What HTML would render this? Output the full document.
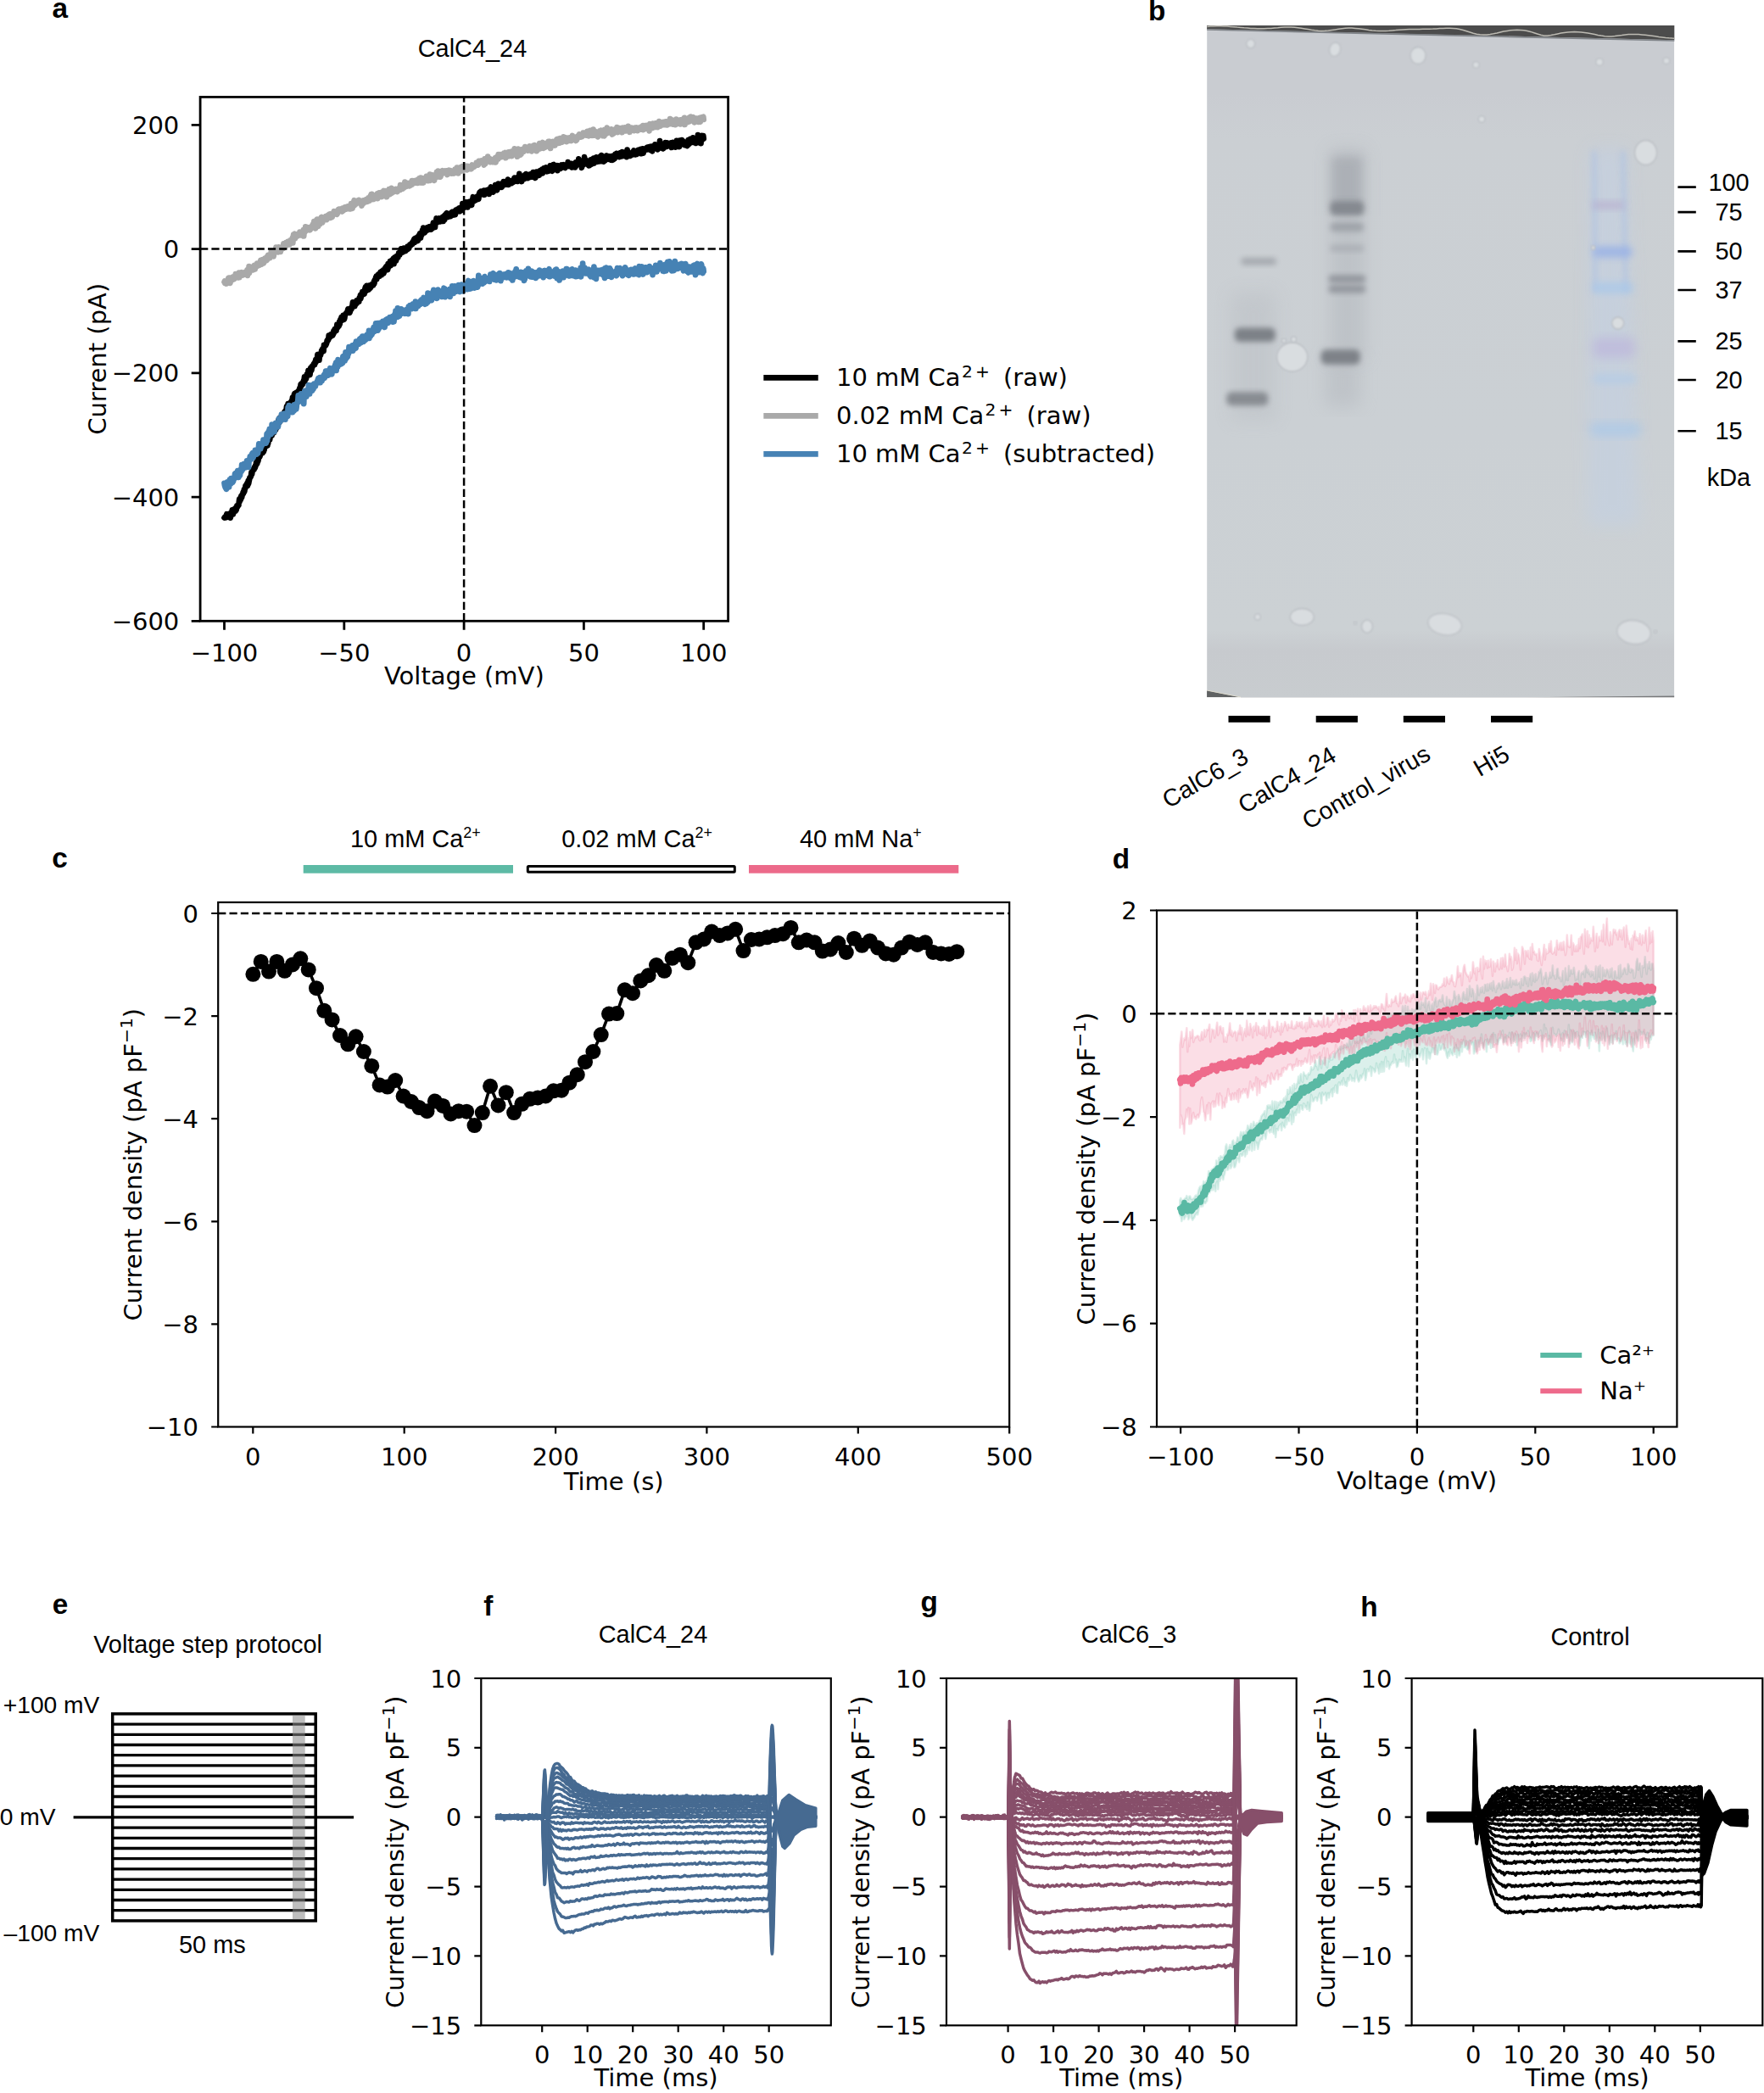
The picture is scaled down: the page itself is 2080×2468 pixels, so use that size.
<!DOCTYPE html><html><head><meta charset="utf-8"><title>Figure</title><style>html,body{margin:0;padding:0;background:#fff}svg{display:block}</style></head><body><svg width="2080" height="2468" viewBox="0 0 2080 2468">
<rect width="2080" height="2468" fill="#fff"/>
<text x="61.4" y="21.2" font-size="33.3" font-family="Liberation Sans, Arial, sans-serif" text-anchor="start" font-weight="bold">a</text>
<text x="557" y="67.3" font-size="28.9" font-family="Liberation Sans, Arial, sans-serif" text-anchor="middle">CalC4_24</text>
<path d="M264.5 610.5l0.4-0.6 0.4 0 0.4 0.4 0.4-1.3 0.4 0.1 0.4-1.6 0.4-1.3 0.4 3 0.4 0.5 0.4-1.4 0.4 0.2 0.4-0.1 0.4 1.1 0.4-2 0.4-1.8 0.4 2.9 0.4-1.3 0.4 3.4 0.4-2.4 0.4-0.5 0.4-3.7 0.4 1.1 0.5-3.9 0.4 0.6 0.4 0.9 0.4 3.5 0.4-4.2 0.4-1.3 0.4-0.6 0.4 2.8 0.4-1.3 0.4 0.7 0.4 0.1 0.4-3.8 0.4 2.9 0.4-2.6 0.4-2.6 0.4 1.9 0.4-1.2 0.4-1.1 0.4-0.9 0.4 0.8 0.4-4 0.4-3.2 0.4 3 0.4-3.9 0.5 0.4 0.4 1.1 0.4-4.3 0.4 0.6 0.4 0.9 0.4-1.9 0.4-2.2 0.4-0.9 0.4-1.3 0.4 1.7 0.4-2.4 0.4-2.4 0.4 2.4 0.4-2.9 0.4-0.5 0.4-3.3 0.4 1.8 0.4-1.9 0.4-0.2 0.4-2.1 0.4-0.8 0.4 3.4 0.4-1.9 0.4-4.2 0.4 3.5 0.5-2.7 0.4-1.7 0.4-2.8 0.4-0.3 0.4 0.1 0.4-0.8 0.4-0.9 0.4-4.2 0.4 2.7 0.4-1.2 0.4-3.5 0.4-0.9 0.4-0.6 0.4 0.7 0.4-1.9 0.4 1.4 0.4-2.7 0.4 0.1 0.4 0.4 0.4-2.8 0.4 0.6 0.4-3.5 0.4 1.3 0.4-2.8 0.4 2.5 0.5-4.6 0.4 2.1 0.4-1.4 0.4-2.9 0.4 0.1 0.4-3 0.4-3.4 0.4 4.6 0.4-2.1 0.4-2 0.4-0.4 0.4-0.8 0.4 0.1 0.4-1.7 0.4 0.1 0.4 2.5 0.4-1.5 0.4-1.2 0.4 1.2 0.4-3.6 0.4 1.5 0.4-5 0.4-0.1 0.4-0.8 0.5 0.8 0.4-2.2 0.4 3.1 0.4-1.9 0.4-2.1 0.4 2.9 0.4-7.1 0.4 4.7 0.4-5.2 0.4 1 0.4-3 0.4 1 0.4 1.8 0.4-5 0.4-1.6 0.4 1.9 0.4 0.4 0.4-1.5 0.4 1 0.4-4.3 0.4 2.4 0.4-2.1 0.4 1.1 0.4-1.5 0.4 1.2 0.5-4.2 0.4 2.1 0.4-2.7 0.4 1.4 0.4-0.2 0.4-2 0.4 0.2 0.4-2.8 0.4-0.4 0.4-0.8 0.4 0.5 0.4-1.8 0.4-4.1 0.4 2.7 0.4 0.3 0.4-2.9 0.4-2.9 0.4 4.1 0.4-1.9 0.4-0.5 0.4 1.2 0.4-4.3 0.4 0.8 0.4-1.5 0.5 1.3 0.4-2.6 0.4 0.7 0.4-1.5 0.4 2 0.4 0.4 0.4-5.4 0.4 2.3 0.4-2.1 0.4-1.5 0.4-0.9 0.4-0.2 0.4-3.8 0.4 0.7 0.4-0.2 0.4-1 0.4-2.8 0.4 1.6 0.4 0.1 0.4 0.8 0.4 2 0.4-4.3 0.4-1 0.4 1.4 0.4-1.1 0.5-1.8 0.4-0.8 0.4-1 0.4 1.9 0.4-5 0.4 4.4 0.4-4.2 0.4-0.6 0.4-1.5 0.4-1.8 0.4-1.1 0.4 3.8 0.4 1 0.4-5.3 0.4 1.7 0.4-0.8 0.4-1.9 0.4 3.8 0.4 0.7 0.4-3.7 0.4-1 0.4-0.7 0.4-1.2 0.4 0.3 0.4-0.2 0.5-3 0.4 0.8 0.4-0.7 0.4-4.4 0.4 0.8 0.4-1.8 0.4 2.2 0.4-0.6 0.4-0.4 0.4-0.8 0.4-2.4 0.4 0 0.4-2.2 0.4-0.3 0.4-3.4 0.4 5.3 0.4-3.7 0.4-0.3 0.4-0.5 0.4 1.5 0.4-2.5 0.4-2.8 0.4 1.4 0.4-1.2 0.5-1.2 0.4-3.5 0.4 0.6 0.4 3.2 0.4-3.4 0.4 3 0.4 1.7 0.4-4.6 0.4-3.6 0.4 2.8 0.4 0.3 0.4-1 0.4-3.9 0.4 0.9 0.4-1.3 0.4-0.3 0.4-0.5 0.4-1.7 0.4-0.5 0.4-0.3 0.4 1.8 0.4-3.6 0.4 1.3 0.4-3.6 0.4 2.9 0.5-2.3 0.4-1.9 0.4 0.8 0.4-5.6 0.4-0.1 0.4 2.7 0.4-1.3 0.4 1 0.4 4.3 0.4-5 0.4-0.6 0.4-1.8 0.4 1.7 0.4-2.5 0.4-0.3 0.4-2.9 0.4 1 0.4-0.6 0.4-2.4 0.4 2.7 0.4-1.3 0.4 1.3 0.4-7.1 0.4 0.1 0.4-0.6 0.5 0.1 0.4 0.4 0.4 0.3 0.4-0.9 0.4-0.8 0.4-1.2 0.4-3 0.4-0.4 0.4 0.8 0.4-0.5 0.4-0.9 0.4-4.8 0.4 1.1 0.4 0.3 0.4-0.1 0.4 0.7 0.4-1.9 0.4-1.2 0.4 1.6 0.4-0.5 0.4 0 0.4-1.4 0.4 1.7 0.4-3.2 0.5 1.8 0.4-4 0.4 2.2 0.4-2.4 0.4-2.1 0.4 2.6 0.4-0.5 0.4-1.3 0.4-1 0.4 2 0.4-4.5 0.4-2.7 0.4 2.5 0.4 0.2 0.4 0.3 0.4-3.6 0.4 2.3 0.4-0.1 0.4-4.9 0.4 3.3 0.4-3.4 0.4-2.5 0.4 1.6 0.4-0.4 0.4-3.9 0.5 3.1 0.4 0.5 0.4-0.1 0.4-3.3 0.4-2.4 0.4 1.5 0.4 3.6 0.4-0.6 0.4-1.2 0.4-3 0.4-0.4 0.4-1.6 0.4-0.6 0.4-0.6 0.4-0.2 0.4-0.4 0.4-0.5 0.4-1.7 0.4-1.8 0.4 2.2 0.4-0.7 0.4 2.5 0.4-2.9 0.4 3.4 0.5-1.4 0.4-4 0.4-0.3 0.4-0.1 0.4 1.6 0.4-2.4 0.4 0 0.4-3.1 0.4-2.9 0.4 2.8 0.4 0.7 0.4 0.8 0.4-2.4 0.4 0.4 0.4 2.5 0.4-3.3 0.4 1.5 0.4-3.7 0.4-0.3 0.4-0.9 0.4 3.2 0.4-2.3 0.4 0.3 0.4 0.3 0.4-1.5 0.5 1.2 0.4 0 0.4-4.3 0.4 0.2 0.4-0.2 0.4-3.1 0.4 4 0.4-1.9 0.4-2.2 0.4-2.1 0.4 1.9 0.4-3.7 0.4 1.4 0.4 1.5 0.4 0 0.4-3.4 0.4-0.3 0.4 3.1 0.4-5.5 0.4-0.5 0.4-2.1 0.4 3.7 0.4-0.8 0.4 1.6 0.4-6.1 0.5 3.7 0.4-3.5 0.4 3.9 0.4-2.4 0.4 3.1 0.4-1.6 0.4-3.3 0.4 4 0.4-4.1 0.4 1 0.4 1.6 0.4-1.3 0.4-0.8 0.4-1.6 0.4 0.3 0.4 0.2 0.4-0.6 0.4 0.8 0.4 0.1 0.4-2.2 0.4-2.3 0.4 2.5 0.4-4 0.4 0.1 0.5-0.2 0.4-3 0.4 1.9 0.4-3.5 0.4 3.6 0.4-2.5 0.4-0.4 0.4 0.5 0.4-2.9 0.4 1.1 0.4-1.9 0.4 1.1 0.4 1.6 0.4-2.2 0.4-0.2 0.4-2.6 0.4 2.8 0.4-2.2 0.4 2.9 0.4-4.5 0.4 2.3 0.4 0.9 0.4-2.4 0.4-2.1 0.4 4 0.5-1.2 0.4-1.2 0.4-0.8 0.4-2.8 0.4 1.2 0.4 0.1 0.4-3.3 0.4 2.5 0.4-3.1 0.4 1.9 0.4 0.8 0.4 1.4 0.4-6.8 0.4 4.5 0.4-1.5 0.4-0.6 0.4-0.6 0.4 0.2 0.4-5.2 0.4 4.7 0.4 0.2 0.4-2.2 0.4-0.2 0.4-3.7 0.4-0.3 0.5 3.1 0.4 1 0.4-2.4 0.4-3.5 0.4 6.5 0.4-6 0.4 2.3 0.4-4.1 0.4 4.1 0.4-1.5 0.4 1.6 0.4-1.2 0.4-4.2 0.4 0.4 0.4 0.6 0.4-0.3 0.4 0.9 0.4-3 0.4-2.3 0.4 0.5 0.4 0.2 0.4 1.4 0.4-2.3 0.4-0.1 0.5-2.5 0.4-2.4 0.4 3.5 0.4 0.5 0.4-0.5 0.4-0.3 0.4 0.9 0.4-1.9 0.4 1.2 0.4-4.2 0.4 2.1 0.4-1 0.4 1 0.4 0.8 0.4 0.6 0.4-1.9 0.4 0.3 0.4-2.2 0.4 0.5 0.4 1.6 0.4-3.6 0.4 2.5 0.4-1.7 0.4-1.1 0.4 2.6 0.5-2.9 0.4-1.3 0.4 0.6 0.4-0.5 0.4-0.3 0.4 0.3 0.4-1.8 0.4-0.3 0.4-0.4 0.4 1.6 0.4-3 0.4 0 0.4-0.5 0.4-1.1 0.4-1.3 0.4 3.8 0.4-4.7 0.4-0.2 0.4 0.4 0.4-0.5 0.4 1.3 0.4-0.1 0.4-0.5 0.4-0.4 0.4 0 0.5 2.8 0.4-4.5 0.4-1.8 0.4-0.1 0.4 0.1 0.4 1.7 0.4-4 0.4 1.2 0.4 4 0.4-5.8 0.4 2.8 0.4-0.3 0.4-1.4 0.4-4.3 0.4 3 0.4-2 0.4-3.9 0.4 0.1 0.4 2.9 0.4 0.7 0.4 2 0.4-0.7 0.4-3.7 0.4-0.4 0.5 0.5 0.4-1.4 0.4 2.7 0.4 0.2 0.4-1.2 0.4-0.8 0.4-1.6 0.4 0.9 0.4 0.7 0.4-2.2 0.4 2.1 0.4 1.1 0.4-3.5 0.4 0.8 0.4-0.9 0.4 3.6 0.4-2.8 0.4-0.8 0.4 0 0.4 2.2 0.4-3.7 0.4-3 0.4 0.4 0.4 1.1 0.4-0.3 0.5-1.6 0.4 5.8 0.4-5 0.4-1.4 0.4-1.8 0.4-2.2 0.4 1.2 0.4 1.9 0.4-0.3 0.4 0.2 0.4 1.3 0.4-1.7 0.4-1.4 0.4-1.2 0.4 2.5 0.4 0.3 0.4 1 0.4-3 0.4 1.4 0.4-2.4 0.4 2.7 0.4-2.7 0.4 0.5 0.4-1.9 0.5-0.4 0.4 5.4 0.4-1.3 0.4-2.4 0.4 1.7 0.4 0 0.4-5.2 0.4 0.5 0.4-0.7 0.4 1 0.4-2.7 0.4 2.3 0.4-2.9 0.4 3.9 0.4 0 0.4-0.7 0.4 1.4 0.4-1.9 0.4-0.6 0.4 2 0.4-2.5 0.4 0.5 0.4-1.8 0.4 3.6 0.4-0.8 0.5-2.2 0.4-2.2 0.4-0.1 0.4 2.8 0.4 0 0.4-2.6 0.4 1.8 0.4 1.8 0.4-3 0.4-1.5 0.4 1.5 0.4 2.5 0.4-1.6 0.4-3.9 0.4 2.9 0.4-1.3 0.4-1.8 0.4-0.6 0.4 1.3 0.4-1.8 0.4 1.7 0.4 0 0.4 0 0.4-2.6 0.4 2.5 0.5 1.3 0.4-1.4 0.4-0.4 0.4-2 0.4 2.7 0.4-1.5 0.4-2.2 0.4-4.2 0.4 1.8 0.4 1.3 0.4-1.3 0.4-1.8 0.4 3.5 0.4 0.9 0.4-3.2 0.4 1.4 0.4-1.1 0.4 1.3 0.4-4.7 0.4 0.9 0.4 1.1 0.4-0.1 0.4 4.3 0.4-4.9 0.5 0.3 0.4-1.2 0.4-0.6 0.4 2.4 0.4 1.8 0.4-3.4 0.4 1.5 0.4-1.5 0.4-0.8 0.4 0.8 0.4 3.1 0.4-5.8 0.4 1.4 0.4-2.6 0.4-2.8 0.4 2.9 0.4 2.3 0.4-1.6 0.4 1.1 0.4-2.3 0.4-0.8 0.4 2.4 0.4-3.7 0.4 3 0.4-3.3 0.5-0.4 0.4 1.2 0.4-0.8 0.4 0.8 0.4 0.4 0.4 1.4 0.4-2.9 0.4-4 0.4-1 0.4 0.6 0.4 1.1 0.4 0.8 0.4-3.8 0.4 2.1 0.4-0.2 0.4-0.4 0.4 0.6 0.4 0.3 0.4-0.3 0.4 1.9 0.4-0.2 0.4-4.7 0.4 4.5 0.4 0.2 0.4-1.8 0.5-0.3 0.4 1.3 0.4-2 0.4-2.3 0.4 1.4 0.4-0.3 0.4-1.4 0.4 3.9 0.4-1.6 0.4 0.6 0.4-3.3 0.4 5.2 0.4-2.2 0.4-0.6 0.4-3.1 0.4-1 0.4-1.5 0.4 5.1 0.4-3.4 0.4 3.2 0.4 0.4 0.4-2 0.4 1.5 0.4 1.4 0.5-3.9 0.4 1.4 0.4-1.6 0.4-1.8 0.4 0 0.4-2.6 0.4 3.9 0.4 2.2 0.4-1 0.4 0.4 0.4 0.5 0.4-4.6 0.4 1.6 0.4 1 0.4-5.4 0.4 1.9 0.4 0.3 0.4-0.1 0.4-0.3 0.4 0.1 0.4-1.8 0.4 0.9 0.4-0.4 0.4-0.2 0.4 3.8 0.5-3.6 0.4 0.1 0.4-1 0.4 1.9 0.4-4.2 0.4 2.1 0.4 1.1 0.4 0.5 0.4-2.7 0.4-0.8 0.4 1.6 0.4-0.1 0.4 1.8 0.4-2.1 0.4 1.7 0.4-1.3 0.4-1.3 0.4-3 0.4 6.3 0.4-1.1 0.4 0.7 0.4-4.6 0.4 3.6 0.4-0.7 0.5-0.8 0.4 0.6 0.4-0.3 0.4-1.6 0.4 2.4 0.4-1.4 0.4-1.8 0.4 0.3 0.4 0 0.4 1.6 0.4-2.6 0.4-2 0.4-0.5 0.4 0.9 0.4 2.4 0.4-3.2 0.4 2.4 0.4 1.5 0.4 0 0.4-4.3 0.4 2.9 0.4-1.1 0.4 2.7 0.4-3.1 0.4 1.5 0.5-1.6 0.4-5.8 0.4 2.5 0.4 2.8 0.4-0.1 0.4 0 0.4-0.6 0.4 2.4 0.4 2.1 0.4-1.9 0.4-1.3 0.4-0.6 0.4-2.6 0.4 1.5 0.4-1.3 0.4 3.2 0.4-3.5 0.4-1.4 0.4 2.3 0.4 0.3 0.4-0.2 0.4-3.5 0.4 4.9 0.4-1.5 0.4-0.6 0.5-0.4 0.4 2.7 0.4-1.9 0.4 0.3 0.4-1.1 0.4 0.9 0.4 0.8 0.4-2.7 0.4-1 0.4 2.7 0.4-1.6 0.4-1.5 0.4 3.3 0.4-2.2 0.4 2.5 0.4-3.8 0.4-1.7 0.4 0.2 0.4 3.2 0.4-1.6 0.4 2.2 0.4-0.1 0.4-1.6 0.4 4.6 0.5-4.9 0.4-0.1 0.4-2.4 0.4 1.2 0.4 1.4 0.4-1 0.4-0.5 0.4 1.3 0.4-1.5 0.4 1.5 0.4 1.8 0.4-5.4 0.4-0.2 0.4 1.4 0.4-0.3 0.4-1.7 0.4 2.2 0.4 0.6 0.4-0.8 0.4-3 0.4 4.7 0.4-4.2 0.4 2 0.4-0.2 0.4-3.6 0.5 2.2 0.4 0.6 0.4-1.2 0.4-2.1 0.4-0.2 0.4 3 0.4 0.2 0.4-0.7 0.4 2.2 0.4-1.7 0.4 0.4 0.4 0.7 0.4 0.2 0.4-0.3 0.4-0.5 0.4-0.2 0.4-2.3 0.4-3.2 0.4 1 0.4-0.5 0.4 1.5 0.4 2.4 0.4-2.4 0.4 4.4 0.4-3.5 0.5-0.1 0.4-4.1 0.4-0.2 0.4 5.8 0.4-1 0.4-2.3 0.4 0.4 0.4-0.5 0.4 1.4 0.4-1.8 0.4-0.1 0.4 0.4 0.4-1.1 0.4 6 0.4-4.5 0.4 1.9 0.4-3.2 0.4 1.5 0.4 0.9 0.4-2.1 0.4 2.3 0.4 0 0.4 1 0.4-2.4 0.5-1.3 0.4-0.8 0.4 2.3 0.4-2.1 0.4 2 0.4 0 0.4-1.6 0.4-0.8 0.4 3.1 0.4-0.5 0.4 0.5 0.4 0.2 0.4 0.5 0.4-3.6 0.4 1.9 0.4-1.7 0.4 1.4 0.4-1.4 0.4-0.2 0.4 1.2 0.4-4.4 0.4 3.1 0.4-2.3 0.4 1.2 0.4 2.8 0.5-0.4 0.4-1.3 0.4-0.2 0.4-1.1 0.4 0.8 0.4 2.2 0.4-3.2 0.4 4.7 0.4-3.4 0.4 2 0.4-0.6 0.4-0.6 0.4-1.7 0.4 3 0.4 0 0.4-0.3 0.4 1.5 0.4-1.6 0.4-4.4 0.4 4.1 0.4-4.1 0.4 3 0.4-3.6 0.4 0.4 0.4-0.6 0.5-1 0.4-2.3 0.4 2.8 0.4 0.5 0.4 2.1 0.4-2.1 0.4 1.8 0.4-1.6 0.4 2.5 0.4-2.7 0.4 7.2 0.4-2.8 0.4-2.4 0.4 1.8 0.4 0.1 0.4-2.3 0.4 1.8 0.4-3.3 0.4-5.6 0.4 3 0.4 3.6 0.4-0.6 0.4-0.3 0.4-2 0.5 2.8 0.4 0.4 0.4-2.1 0.4 0.5 0.4 2.4 0.4 1.5 0.4 0.9 0.4-2.1 0.4 2.2 0.4-5.3 0.4 2.4 0.4-2 0.4-1.9 0.4 1 0.4 4.3 0.4-4.8 0.4-0.9 0.4 2.9 0.4 0.3 0.4-2.1 0.4 3.1 0.4-5.8 0.4 6.2 0.4-2.3 0.4-1.2 0.5-0.6 0.4-0.7 0.4-0.4 0.4 0.6 0.4-2.7 0.4 5.6 0.4-3.8 0.4 1.6 0.4-0.4 0.4-0.4 0.4 1.8 0.4 0.5 0.4-2.4 0.4 0.2 0.4 1.3 0.4-4.9 0.4-0.3 0.4 5.9 0.4-3.2 0.4-3.8 0.4 3.6 0.4 1.1 0.4 0.9 0.4 0.5 0.5 0.4 0.4 1 0.4-3.5 0.4 1.1 0.4 0.7 0.4 0.5 0.4-2.7 0.4 0.4 0.4-0.7 0.4-2.9 0.4 1.1 0.4-0.8 0.4 1.5 0.4 0.3 0.4 0.4 0.4 1.5 0.4-2.6 0.4 2.9 0.4-3.5 0.4 1.7 0.4 1.1 0.4 1.1 0.4 0.3 0.4-1.6 0.4 1.5 0.5-4.4 0.4 2.8 0.4 2 0.4-3.2 0.4 2.6 0.4-3 0.4-1.7 0.4 0.3 0.4 3.3 0.4-1.5 0.4-3.7 0.4 1.9 0.4 1.3 0.4-2 0.4-2.3 0.4 1.6 0.4 1.5 0.4-1.1 0.4 0 0.4 1.5 0.4 0.4 0.4-1.4 0.4 1.9 0.4-1.5 0.4 0.3 0.5-3.9 0.4 4.5 0.4-2 0.4-0.2 0.4-2 0.4-1.2 0.4 3.1 0.4 0.7 0.4 1 0.4-1.6 0.4-2.7 0.4 1.5 0.4 1.5 0.4-0.9 0.4 0.5 0.4 0.6 0.4 0.8 0.4-0.5 0.4 2 0.4-1.8 0.4-6.8 0.4 6.8 0.4-3.3 0.4-0.3 0.5 1.5 0.4 1 0.4-1.6 0.4 0.9 0.4-0.5 0.4 2.9 0.4-2.2 0.4 1.1 0.4-1 0.4-0.5 0.4-0.4 0.4-1.7 0.4 3.2 0.4-2.8 0.4-1.5 0.4-0.8 0.4 0.8 0.4 2 0.4 0 0.4-1.9 0.4 4.2 0.4-2.7 0.4 0.5 0.4-0.8 0.4 2.4 0.5-1.5 0.4-2.3 0.4-1.2 0.4-0.1 0.4 2.4 0.4-0.2 0.4 1.2 0.4-1.6 0.4 1.3 0.4-2.1 0.4-1.8 0.4 2.7 0.4 2.5 0.4-1 0.4 0.7 0.4-0.9 0.4-4.6 0.4 1.7 0.4 3.5 0.4-3.7 0.4-1.2 0.4 2.2 0.4-0.4 0.4-1 0.4-1.3 0.5-0.1 0.4 0.6 0.4-1.1 0.4-0.6 0.4-0.3 0.4 0.4 0.4 2.2 0.4-1.4 0.4-1.3 0.4 1.9 0.4-1.4 0.4 2.2 0.4 0.3 0.4-3.7 0.4 0.6 0.4 0 0.4-0.3 0.4-0.4 0.4 1.1 0.4 4.4 0.4-3.1 0.4-1.3 0.4 1.3 0.4-2.1 0.5-1.1 0.4 2.7 0.4 0.5 0.4-4.9 0.4 4.4 0.4 0.3 0.4-2.7 0.4 0.3 0.4 2.3 0.4-2.9 0.4 3 0.4 1.4 0.4-1.9 0.4-1.7 0.4 2.1 0.4-3.6 0.4-0.1 0.4-5.1 0.4 6.1 0.4-2.9 0.4 4.2 0.4 0.6 0.4-0.7 0.4-0.5 0.4-0.9 0.5 1.5 0.4 1.9 0.4-0.1 0.4-2.3 0.4-0.4 0.4-2.4 0.4 0.5 0.4-1.6 0.4-1 0.4 2.9 0.4 2.1 0.4-0.7 0.4 0.3 0.4-4.3 0.4 3.2 0.4-1.7 0.4 1.9 0.4-2.5 0.4 0.6 0.4 2.2 0.4-1.2 0.4-0.5 0.4 0 0.4 1.4 0.5-0.8 0.4-2.6 0.4 5.5 0.4-4.1 0.4 1.9 0.4-3.2 0.4-0.5 0.4 0.7 0.4-0.1 0.4 4.3 0.4-3.8 0.4 2 0.4-1.3 0.4-0.4 0.4 4.3 0.4-3.1 0.4-1.6 0.4-3.2 0.4 3.4 0.4-1.1 0.4 2.6 0.4-4.5 0.4 0 0.4 2.9 0.4 1.6 0.5 2.3 0.4-4.3 0.4-3.1 0.4 2.8 0.4-2.4 0.4 1.6 0.4 2.6 0.4-5.1 0.4 3.8 0.4-1.1 0.4-0.8 0.4-0.7 0.4 1.9 0.4 0.4 0.4 2 0.4 0.4 0.4-3.3 0.4 0.6 0.4 0.6 0.4 0.2 0.4-0.3 0.4 2.7 0.4-0.3 0.4 0.8 0.4-3.5 0.5-0.9 0.4-2.5 0.4 5.5 0.4-1.8 0.4-2.6 0.4 1.1 0.4-0.3 0.4-3.1 0.4 3.4 0.4 0.2 0.4 0.7 0.4-3.5 0.4-1.1 0.4 2.1 0.4 0.5 0.4-3.8 0.4 0.3 0.4 2.7 0.4-1.4 0.4-0.6 0.4 4.8 0.4-2.4 0.4-2 0.4 1.8 0.5 3.3 0.4-3.5 0.4-2.2 0.4-1.4 0.4 6.4 0.4-9.1 0.4 6.4 0.4-4.1 0.4 0.6 0.4-0.3 0.4 2 0.4 3.1 0.4-2 0.4 1.1 0.4 3.3 0.4-8.8 0.4 2.3 0.4-2.7 0.4 4.6 0.4-3.9 0.4-0.6 0.4 0 0.4 3.3" fill="none" stroke="#000" stroke-width="6.7" stroke-linejoin="round" stroke-linecap="round"/>
<path d="M264.5 332.5l0.4-0.9 0.4 2.2 0.4-0.5 0.4 0 0.4-1.4 0.4 2.6 0.4-0.3 0.4-0.9 0.4 0.2 0.4-3.1 0.4-0.9 0.4-1.6 0.4 2.7 0.4-3 0.4 2 0.4 1.1 0.4 3.2 0.4-1.3 0.4-3.6 0.4-1.2 0.4 1.6 0.4-1.6 0.5 2.2 0.4-1.1 0.4 0.1 0.4-2.7 0.4 1.2 0.4 0.6 0.4 0.8 0.4-2 0.4-1.2 0.4 1.8 0.4-4.3 0.4 1.2 0.4 0.6 0.4-1.3 0.4 0.7 0.4 1.5 0.4-0.8 0.4 2.2 0.4-1.3 0.4 1.4 0.4-5.9 0.4 5.6 0.4-4.4 0.4 2.3 0.5 0.3 0.4-1 0.4-1.3 0.4-0.5 0.4-1.3 0.4 2.4 0.4-0.8 0.4 1.7 0.4-2.1 0.4 0.2 0.4 1.2 0.4-0.6 0.4-0.4 0.4-0.8 0.4-0.9 0.4 1.3 0.4-0.3 0.4-1.6 0.4 3.7 0.4-1.5 0.4-4.4 0.4 6.6 0.4-4.1 0.4-3 0.4 3.2 0.5-7 0.4 7.9 0.4-6.7 0.4 0 0.4 0.8 0.4 2 0.4-1 0.4 1.3 0.4-3.4 0.4 3.2 0.4-1.3 0.4-2.1 0.4 3.7 0.4-1.5 0.4-1.1 0.4 1.7 0.4-4.6 0.4 1.2 0.4 3.3 0.4-3.6 0.4 0.2 0.4-0.4 0.4-1.8 0.4 1.4 0.4-2.5 0.5 3 0.4-2.8 0.4 1.7 0.4-2.1 0.4 2.2 0.4-0.4 0.4 0.2 0.4-3.5 0.4-0.1 0.4-1.9 0.4 1.9 0.4 2.3 0.4 0.3 0.4-2.1 0.4 0.2 0.4-3.5 0.4 0.5 0.4 3.4 0.4 0.2 0.4-3.5 0.4 0.9 0.4 0.8 0.4-3.7 0.4 1 0.5-0.8 0.4 0.6 0.4 1.8 0.4-4.3 0.4 3.3 0.4-1.4 0.4-0.5 0.4-3.5 0.4 0.8 0.4-0.3 0.4 2.4 0.4-2.6 0.4 2.9 0.4-3.2 0.4-0.3 0.4 0.6 0.4-4.4 0.4 2 0.4 0.2 0.4 0.3 0.4 0.7 0.4-0.9 0.4-0.3 0.4 3.6 0.4-3.9 0.5-0.4 0.4-1.9 0.4-0.5 0.4 1.5 0.4-0.7 0.4-4.8 0.4 2.2 0.4 2.9 0.4-2.3 0.4 0.4 0.4 1.6 0.4 0.8 0.4-2 0.4-3.9 0.4 1.5 0.4 0.4 0.4-0.6 0.4-0.5 0.4 4.7 0.4-4.3 0.4 0.3 0.4 0.2 0.4-1.3 0.4-0.7 0.5 0.5 0.4 1.6 0.4-2.3 0.4-3.5 0.4 4.3 0.4 0.6 0.4-3.4 0.4-1.2 0.4-0.3 0.4 1.9 0.4-3.2 0.4 2.6 0.4 0.7 0.4-2 0.4-0.6 0.4-2 0.4 0.5 0.4 1.5 0.4-1.8 0.4 0.9 0.4-0.8 0.4 3.3 0.4-0.7 0.4-4.4 0.4 2.7 0.5-3.1 0.4-0.2 0.4 0.4 0.4 0.1 0.4-2.9 0.4 6.2 0.4-6.5 0.4-3.3 0.4 2.9 0.4 0 0.4-0.9 0.4-3 0.4 5.6 0.4-2.3 0.4-0.7 0.4-1.5 0.4 1.2 0.4-1.2 0.4 1.8 0.4-0.4 0.4-0.4 0.4-0.4 0.4-1.2 0.4-0.6 0.4 1.7 0.5-3.7 0.4 1.7 0.4 2.1 0.4-3.6 0.4 2.6 0.4-2 0.4 2.4 0.4-1.5 0.4 0 0.4 1.2 0.4-1.6 0.4-3.9 0.4 7.5 0.4-4.4 0.4-2.1 0.4 1.6 0.4-0.5 0.4-5.8 0.4 3.9 0.4-2.6 0.4 2.1 0.4 0.9 0.4-1.5 0.4-0.5 0.5-1.4 0.4 1.9 0.4-0.2 0.4 0.3 0.4-1.6 0.4 0.4 0.4 2.3 0.4-0.7 0.4-2.8 0.4 0.6 0.4-0.8 0.4 0.3 0.4-1.6 0.4-0.1 0.4-1.3 0.4 1.9 0.4-3.1 0.4 3.6 0.4-6.2 0.4 3.2 0.4-0.3 0.4 1.8 0.4 3.5 0.4-5.5 0.4-0.9 0.5-3.2 0.4 4 0.4-5 0.4 4.6 0.4-1.7 0.4 5.2 0.4-4.2 0.4 0 0.4-2.5 0.4 1.8 0.4 2.3 0.4-4.6 0.4-0.9 0.4 0.1 0.4-2.5 0.4-0.3 0.4 2.6 0.4 3.9 0.4-0.7 0.4-3.7 0.4-0.4 0.4 0.3 0.4-0.5 0.4 0.3 0.4-1.1 0.5 1.6 0.4 0.5 0.4-3.8 0.4 1.7 0.4 1.4 0.4 1 0.4-1.3 0.4-3.6 0.4-0.3 0.4 1.7 0.4-1.6 0.4 0.5 0.4 1.5 0.4-3.5 0.4 2.4 0.4-2.5 0.4 4.5 0.4-1.6 0.4-1.7 0.4 0.4 0.4 2.1 0.4-0.3 0.4-2 0.4-1.3 0.5 1 0.4-3.2 0.4-1.1 0.4 1.3 0.4 0.2 0.4 0.6 0.4-0.2 0.4-0.3 0.4 1 0.4-0.6 0.4 0.7 0.4 0.8 0.4-0.9 0.4-3.8 0.4 0.5 0.4-1.5 0.4 1.6 0.4-1.4 0.4-0.5 0.4 0.2 0.4 0.6 0.4-0.3 0.4-0.7 0.4 2.7 0.4-2.2 0.5 0.3 0.4 2.2 0.4-4 0.4 3 0.4-1.3 0.4 0 0.4 0.7 0.4-1.9 0.4 0.7 0.4-2.3 0.4 0.8 0.4-0.2 0.4 0.3 0.4 1.2 0.4-2.2 0.4 1.8 0.4-2.5 0.4 2.5 0.4-2.7 0.4 1.6 0.4-1.1 0.4 1.1 0.4 0.1 0.4-0.2 0.5-1.4 0.4 3 0.4-2.9 0.4-3.6 0.4 3 0.4 0.9 0.4 0.2 0.4 1.7 0.4-5.4 0.4 1.9 0.4-1 0.4-3.1 0.4-2 0.4 5.8 0.4-3.4 0.4 0.6 0.4 0.8 0.4-0.4 0.4 0.8 0.4-2.7 0.4 1.2 0.4 0.1 0.4-2.4 0.4 0.9 0.4 0.9 0.5-0.3 0.4-2.2 0.4 3.3 0.4-0.5 0.4 0.8 0.4 0.3 0.4 0.4 0.4-2.3 0.4 0.8 0.4 3.9 0.4-3.8 0.4-0.4 0.4 0.4 0.4 1.5 0.4-3.9 0.4 2.9 0.4-0.1 0.4-0.4 0.4-1.7 0.4-1.2 0.4-0.3 0.4 1 0.4 1.5 0.4-1.3 0.4-0.7 0.5-0.9 0.4 2.6 0.4-2.6 0.4-1.7 0.4 1.3 0.4-1.5 0.4 2.4 0.4 1 0.4-1.1 0.4-3.3 0.4-1.8 0.4 2.1 0.4-3.4 0.4 2.7 0.4-3 0.4 3.9 0.4 2.1 0.4-2.3 0.4 2.4 0.4-0.1 0.4-0.5 0.4-3 0.4 0.8 0.4-0.1 0.5 1.7 0.4-2.9 0.4 2.4 0.4-0.1 0.4-4 0.4-0.8 0.4 1.6 0.4 4.1 0.4-1.8 0.4-2.6 0.4 0 0.4-2.3 0.4 4.1 0.4-4.1 0.4 1.9 0.4-2.1 0.4 2.1 0.4-2.2 0.4 2.6 0.4 2.3 0.4-1.6 0.4-1 0.4-0.4 0.4-3.4 0.4-0.7 0.5 2 0.4 1.4 0.4-0.9 0.4 1.4 0.4-3.7 0.4 2.1 0.4 0.4 0.4 2.1 0.4 2.5 0.4-1.7 0.4 0.2 0.4-3 0.4-0.7 0.4 0.9 0.4-0.7 0.4-4 0.4 5 0.4 1 0.4-1.7 0.4-0.2 0.4-0.6 0.4-2.5 0.4-2.4 0.4 6.1 0.4-3 0.5 0.5 0.4 0.3 0.4 0.1 0.4 0.4 0.4-2.5 0.4 1.7 0.4-0.5 0.4-0.4 0.4-0.6 0.4 0.4 0.4-1.3 0.4 1 0.4 0.1 0.4 0.5 0.4 1.4 0.4-1.3 0.4 0.6 0.4-2.7 0.4 0.4 0.4 0.8 0.4-1.6 0.4-1.4 0.4 3.2 0.4-5.9 0.5 2 0.4 0.1 0.4-1.7 0.4 1.6 0.4 2 0.4-3.9 0.4 4.4 0.4-1 0.4-2.1 0.4 2.2 0.4-2.1 0.4-0.7 0.4-4.3 0.4 5.1 0.4-1.2 0.4-1.3 0.4 1.2 0.4 1.3 0.4-2.6 0.4 0.5 0.4-0.6 0.4-1 0.4 0.8 0.4 1.2 0.4-1.4 0.5 2.8 0.4-2.5 0.4-0.9 0.4 1.3 0.4 0.1 0.4 0.8 0.4-3.5 0.4-1.4 0.4 4.3 0.4-2 0.4 0.8 0.4-3.2 0.4 1.5 0.4-0.8 0.4 0.7 0.4-1.3 0.4 2.3 0.4-2.3 0.4 2.3 0.4-2.2 0.4 0.1 0.4-0.8 0.4 1.4 0.4-2 0.4 3.9 0.5-1.6 0.4-0.6 0.4-1.5 0.4 0.9 0.4-2.7 0.4 4 0.4-3.3 0.4 3.3 0.4-5 0.4 6 0.4-1 0.4 1 0.4-5.4 0.4 3.9 0.4-2.6 0.4 1.7 0.4 2.4 0.4-2.6 0.4-1.1 0.4 1.1 0.4-2.6 0.4 1.2 0.4-0.4 0.4 0.4 0.5-1.1 0.4-2.5 0.4 2.4 0.4 0.9 0.4 1.9 0.4-0.3 0.4-4 0.4 4.3 0.4-1.5 0.4-1.6 0.4-0.4 0.4-4 0.4 7.2 0.4-4 0.4-0.6 0.4 3.5 0.4-1.3 0.4-1.9 0.4-2.2 0.4 3.4 0.4 1.9 0.4-3.8 0.4-0.9 0.4 2.9 0.4 3.1 0.5-6.4 0.4 2.7 0.4-3.1 0.4 1 0.4 0 0.4-0.3 0.4-4 0.4 0.4 0.4 5.4 0.4-2.6 0.4-4.3 0.4 3.6 0.4 1.9 0.4-0.3 0.4 1.7 0.4-0.3 0.4 0.4 0.4-0.2 0.4-1.9 0.4-2.5 0.4 1.9 0.4-1.3 0.4-1.4 0.4-2.1 0.5 2.3 0.4-0.1 0.4-0.5 0.4 1 0.4-1 0.4 0.6 0.4-2 0.4 0.2 0.4 1.4 0.4 0.3 0.4-2.1 0.4 1 0.4 0.9 0.4 2.8 0.4-0.6 0.4-3.8 0.4-0.6 0.4-0.3 0.4 2.7 0.4-2.5 0.4 2.4 0.4-2.1 0.4 0 0.4 1.9 0.4-0.4 0.5 2 0.4-2.1 0.4 1.3 0.4-2 0.4 0.7 0.4-1 0.4 1.3 0.4 1.7 0.4-3.4 0.4 0.4 0.4-2 0.4 0.3 0.4 1.3 0.4-1 0.4-0.1 0.4-0.3 0.4-2.2 0.4 0.3 0.4 2.8 0.4 0.1 0.4 3.7 0.4-3.8 0.4-0.7 0.4 2.9 0.4-4.6 0.5-0.9 0.4 2.5 0.4-0.7 0.4 0.7 0.4-2.4 0.4 3.9 0.4-2 0.4-3.2 0.4 3.6 0.4-1.5 0.4 0.8 0.4 1.5 0.4-2.3 0.4-1.4 0.4 2.8 0.4-2.5 0.4-1.2 0.4-0.3 0.4 4.5 0.4-1.6 0.4 1.8 0.4-4.3 0.4 0.6 0.4-0.6 0.5 3.2 0.4-0.6 0.4-2.2 0.4 0.3 0.4 2.3 0.4-1.8 0.4-0.5 0.4-0.2 0.4 1.6 0.4 1 0.4-4 0.4-0.8 0.4 1.7 0.4 1.5 0.4-0.7 0.4-1.7 0.4 1.2 0.4-1 0.4 1.1 0.4-0.6 0.4-1.4 0.4 0.7 0.4 0 0.4-1 0.4-2.4 0.5 1.6 0.4-1.3 0.4 1.7 0.4-0.7 0.4 1.4 0.4-1.6 0.4-3.1 0.4 2.1 0.4-0.6 0.4-0.1 0.4 0.6 0.4-0.2 0.4-0.7 0.4-1.5 0.4 0.9 0.4-0.2 0.4 0.6 0.4 1.3 0.4-0.3 0.4 0.8 0.4-3 0.4 5.1 0.4-2.7 0.4-4.5 0.4 4 0.5 1.6 0.4-2.4 0.4-3.1 0.4 1.8 0.4-0.3 0.4 0.3 0.4 0.4 0.4-5 0.4 4.5 0.4-0.1 0.4-0.4 0.4-0.9 0.4-0.1 0.4-0.1 0.4 1.1 0.4 2.4 0.4-3.6 0.4 1.1 0.4-0.3 0.4 1.7 0.4-0.7 0.4 0.7 0.4-1.1 0.4 2.3 0.5-2.2 0.4-0.9 0.4 1.9 0.4-1.5 0.4 0 0.4-2.3 0.4 5.2 0.4-3.5 0.4 1.6 0.4-1.8 0.4-2.7 0.4 2.2 0.4-1.8 0.4 2.3 0.4-5.5 0.4 1.2 0.4-0.7 0.4 3.2 0.4-0.1 0.4-3.7 0.4 1.8 0.4-0.1 0.4-0.2 0.4 1.6 0.4-2.8 0.5 1.6 0.4-1.4 0.4 1.1 0.4-1.5 0.4 1.9 0.4-3.4 0.4 0.1 0.4 0.2 0.4-0.1 0.4-0.9 0.4 6.2 0.4-5.1 0.4 2.3 0.4-0.2 0.4 0.5 0.4 0.9 0.4-1.3 0.4-2.3 0.4-1.7 0.4 4 0.4 0.7 0.4-4.5 0.4 4.3 0.4-4.8 0.5 2.8 0.4 1.1 0.4-2.6 0.4-1.7 0.4 5.5 0.4-4.9 0.4 3.1 0.4-3.5 0.4 1.8 0.4 1 0.4-3 0.4-0.5 0.4-2.7 0.4 1.4 0.4 1.5 0.4 0.4 0.4 0.3 0.4 0.4 0.4 0.6 0.4-0.1 0.4 4.7 0.4-4.6 0.4-0.2 0.4-4.1 0.4 2.5 0.5 1.7 0.4-1.4 0.4 2.5 0.4-0.3 0.4 2.1 0.4-5.9 0.4 1.3 0.4 3.1 0.4-3.4 0.4-1.7 0.4 0.8 0.4-0.1 0.4 2 0.4 0 0.4-1.8 0.4-1.9 0.4 2 0.4 0 0.4-4 0.4 3.9 0.4-2.9 0.4 1.2 0.4 0.1 0.4-1.8 0.4 1 0.5-0.3 0.4 3.3 0.4-1.2 0.4-1.8 0.4-1.4 0.4 0.3 0.4-1.1 0.4 2.6 0.4 0.7 0.4-0.6 0.4 1.9 0.4-0.5 0.4 1.8 0.4-3.5 0.4 2.2 0.4-2.7 0.4 1.7 0.4-4.2 0.4 2.1 0.4-2.5 0.4 3.1 0.4-0.6 0.4-2.8 0.4 3.7 0.5-1.3 0.4 1.6 0.4 2.9 0.4-3.4 0.4 0.3 0.4 2.1 0.4-2.7 0.4 1.6 0.4-0.7 0.4-1.5 0.4 0.9 0.4-5.6 0.4 6.3 0.4-3.3 0.4-1.4 0.4 4.1 0.4-0.8 0.4-3.8 0.4 0.4 0.4-1.9 0.4-0.8 0.4 2.7 0.4 0.4 0.4 3.8 0.4-4.3 0.5 1.6 0.4-1.9 0.4 0.7 0.4 2.8 0.4-4.7 0.4 1.8 0.4-1 0.4 2.4 0.4-2.5 0.4-0.3 0.4-1.6 0.4 1.5 0.4-2.4 0.4 0.4 0.4 0.2 0.4 1.5 0.4-2.2 0.4 2.6 0.4 5.5 0.4-4 0.4-1.3 0.4-1.4 0.4 0.7 0.4-1.3 0.4 0.9 0.5-1.6 0.4 1.1 0.4 0.5 0.4 0.9 0.4-1.8 0.4 1.3 0.4 2.6 0.4-3.5 0.4 1.4 0.4-2.4 0.4-0.3 0.4-2.5 0.4-0.1 0.4 2.9 0.4-0.3 0.4 2.2 0.4-4.6 0.4 1.6 0.4-2.2 0.4 2.1 0.4 2.9 0.4-5.6 0.4 2.9 0.4-0.1 0.5 0.1 0.4-1.4 0.4 0.1 0.4 2.9 0.4-4 0.4 2.7 0.4-0.3 0.4-4.7 0.4 1.7 0.4 1.3 0.4 1.8 0.4-3.3 0.4-0.4 0.4 0.9 0.4 2.9 0.4-0.2 0.4 1.1 0.4-2.3 0.4-1.2 0.4-1 0.4 2.3 0.4-0.7 0.4-0.6 0.4 2.4 0.4-0.5 0.5-3 0.4 1.6 0.4-1.6 0.4 2 0.4-0.9 0.4 2.4 0.4-2 0.4-1.7 0.4-2.3 0.4 1.6 0.4 1 0.4-1.2 0.4 1.4 0.4-0.1 0.4-1.1 0.4 2 0.4-1.3 0.4 2.8 0.4 0.9 0.4-2 0.4 1.1 0.4-0.2 0.4-3.8 0.4 1.8 0.4-0.9 0.5-2 0.4-0.7 0.4 2.3 0.4-3.3 0.4 1 0.4 1 0.4-1.2 0.4 2.6 0.4-0.6 0.4-0.4 0.4-1.5 0.4 1.9 0.4-0.5 0.4-2.7 0.4-1.2 0.4 1.1 0.4-1.1 0.4 1.8 0.4 0.7 0.4-0.7 0.4 0.4 0.4 0.3 0.4-2.8 0.4 2.3 0.5 0.9 0.4-2.6 0.4-2.1 0.4 3 0.4-1.9 0.4 3.1 0.4 0.6 0.4 0.6 0.4-1.2 0.4-4 0.4 3.8 0.4-5.1 0.4 4.1 0.4-1.6 0.4-0.8 0.4 1 0.4 0.3 0.4 3 0.4-3 0.4 1.7 0.4-5.8 0.4 5.6 0.4-1.4 0.4 2.7 0.4-1.5 0.5 0.7 0.4-3.6 0.4 2.4 0.4-1.5 0.4 2.9 0.4 0.7 0.4-3.6 0.4 3.4 0.4 1.9 0.4-3.9 0.4 1.7 0.4-0.7 0.4-1.9 0.4 1.3 0.4-3.6 0.4 3.4 0.4-3.5 0.4-0.3 0.4 4 0.4 0.2 0.4 0.4 0.4-2.5 0.4-0.4 0.4 4.6 0.5-3.4 0.4 2.9 0.4-0.5 0.4 1.1 0.4-7.5 0.4 2.4 0.4 0.2 0.4 1.5 0.4-3.8 0.4 4.7 0.4-3.2 0.4-3.9 0.4 4 0.4-0.4 0.4-0.1 0.4 2.2 0.4-1 0.4-1.5 0.4 0.7 0.4-1 0.4 0.9 0.4-0.6 0.4 0 0.4-1.6 0.4 1.7 0.5 2.2 0.4 2.3 0.4-5.2 0.4-0.1 0.4 2.8 0.4 1.3 0.4-0.7 0.4-3.7 0.4 3.4 0.4-0.7 0.4-1 0.4-1.9 0.4 2.7 0.4-0.9 0.4-1 0.4-3.5 0.4 1.1 0.4 2.6 0.4 2.3 0.4-0.5 0.4-2.3 0.4 1.3 0.4-3.4 0.4 0.3 0.4 0.3 0.5-0.3 0.4 1 0.4 2.8 0.4 0.5 0.4-4.3 0.4 4.8 0.4-2.3 0.4-3.2 0.4 1.3 0.4 1.6 0.4 0.7 0.4-2.3 0.4-0.6 0.4-1 0.4 1.4 0.4-0.4 0.4 3.1 0.4-2.3 0.4 1.8 0.4-1 0.4-2.5 0.4-0.9 0.4 2.5 0.4-3.3 0.5 2.8 0.4 1.3 0.4-0.3 0.4 3.2 0.4-2.2 0.4-1.5 0.4 0.6 0.4-1.9 0.4 0.9 0.4-1.1 0.4 3.2 0.4-2.2 0.4 1.9 0.4-1.2 0.4-0.5 0.4-0.3 0.4 2.6 0.4-0.4 0.4-1.8 0.4-1.3 0.4 0.7 0.4-0.6 0.4-0.2 0.4 1.1 0.4 1.2 0.5 1.4 0.4 0 0.4-1.6 0.4-0.8 0.4-0.1 0.4-0.9 0.4 0.9 0.4-0.9 0.4 1 0.4-0.5 0.4-0.1 0.4 1 0.4 0.3 0.4-3.1 0.4 0.6 0.4 1.8 0.4 0.2 0.4-3.9 0.4 5 0.4-0.8 0.4-1.6 0.4 1.7 0.4-2.3 0.4-2 0.4 0.5 0.5 1 0.4 0.1 0.4 0.6 0.4-2.3 0.4 1.9 0.4-0.4 0.4 0.3 0.4-1 0.4 1 0.4-0.1 0.4 4.6 0.4-5.7 0.4-2.4 0.4 2.1 0.4 2.2 0.4 1 0.4-2.4 0.4 2.2 0.4-4.1 0.4 1.7 0.4-1.9 0.4-1.2 0.4 4.9 0.4-3.4 0.5 0.7 0.4 1.1 0.4-1.4 0.4-0.9 0.4-1.5 0.4 4.7 0.4-3.3 0.4-0.9 0.4 1.9 0.4 0.8 0.4 1.1 0.4 0.4 0.4-3.3 0.4 0.2 0.4-0.6 0.4-3.3 0.4 2.6 0.4 1.3 0.4-1.2 0.4 3 0.4-0.9 0.4-1.2 0.4 0.9 0.4-2.2 0.4 2.2 0.5-2.7 0.4 0.6 0.4-1.4 0.4 1.9 0.4-1.2 0.4-0.6 0.4 3.1 0.4-0.9 0.4-0.7 0.4-0.1 0.4-2.2 0.4 0.9 0.4 3.1 0.4-1.9 0.4 2 0.4-2.7 0.4 1.4 0.4-2.6 0.4 0.9 0.4-2.1 0.4 1.5 0.4 2.4 0.4-6.1 0.4 3.5 0.5-1.1 0.4 1.9 0.4-0.6 0.4-1.8 0.4 2.1 0.4-2.6 0.4 5.1 0.4-4 0.4 1.6 0.4-0.2 0.4-0.6 0.4 0 0.4-1.7 0.4 5.4 0.4-4 0.4 1.4 0.4-3.8 0.4 2.7 0.4-1 0.4 1.7 0.4-1 0.4-0.9 0.4 1.4 0.4-0.8 0.4 3.2 0.5-3.8 0.4 0 0.4 1.8 0.4-2.7 0.4 5.1 0.4-0.7 0.4-2 0.4-0.6 0.4-1.7 0.4 0 0.4 0.4 0.4-1.4 0.4 2.6 0.4 1.7 0.4-0.5 0.4-5.3 0.4 8.1 0.4-4.7 0.4-1.8 0.4 1.9 0.4 2.3 0.4-1.3 0.4-2 0.4-0.5 0.4 3.2 0.5-2.8 0.4 0.3 0.4-1.1 0.4-1.5 0.4 2.6 0.4 1.7 0.4-3 0.4-2.3 0.4 1.7 0.4 0.8 0.4-2.8 0.4 4.6 0.4-3.3 0.4 2.5 0.4-1.4 0.4-0.8 0.4-1 0.4 4.5 0.4-0.5 0.4 2.1 0.4-3 0.4 1.1 0.4-1.8 0.4 2.5 0.5-1.5 0.4-2.1 0.4 1.9 0.4-1 0.4 0.4 0.4 2.1 0.4 0.8 0.4-3.9 0.4 1 0.4-1.7 0.4 3.8 0.4-0.3 0.4 1 0.4-1.8 0.4-3.2 0.4 0.7 0.4 1 0.4-0.8 0.4-1.5 0.4 1 0.4-1.2 0.4-0.2 0.4 3.3" fill="none" stroke="#a9a9a9" stroke-width="6.7" stroke-linejoin="round" stroke-linecap="round"/>
<path d="M264.5 569.8l0.4 2.4 0.4 1.3 0.4 1.5 0.4-0.9 0.4-1.7 0.4 4.4 0.4-5.5 0.4-0.2 0.4-2.7 0.4 2.3 0.4-1.5 0.4 2 0.4-1.2 0.4 4.3 0.4-5.5 0.4-3.1 0.4 3.6 0.4-1.8 0.4 3 0.4-6.4 0.4 4.8 0.4-3.4 0.5 1.4 0.4 2.1 0.4-3.6 0.4 2.4 0.4-1.9 0.4-1.4 0.4 0.2 0.4-2.1 0.4-3.7 0.4 0.8 0.4-1.8 0.4 0.8 0.4 2.8 0.4-1.8 0.4-0.8 0.4-1 0.4-2.8 0.4 7.1 0.4-4.8 0.4 5.6 0.4-2.2 0.4-2 0.4 2.4 0.4-0.9 0.5-5.6 0.4-1.5 0.4 1 0.4 1.9 0.4-7.9 0.4 5.1 0.4 0.8 0.4-6.2 0.4 1.9 0.4 1.8 0.4-4.4 0.4 1.9 0.4-2.2 0.4 0.8 0.4 3.7 0.4-5 0.4 3.4 0.4 1.1 0.4-1.9 0.4-5.6 0.4 4.7 0.4-1.9 0.4-1.6 0.4 2.3 0.4 4 0.5-7 0.4-2.2 0.4 0 0.4-3.4 0.4 2.7 0.4-1.5 0.4-1.8 0.4 3.8 0.4-5.1 0.4-1.4 0.4 2.9 0.4-3.9 0.4 2.4 0.4 2.9 0.4-4.8 0.4-0.2 0.4-0.9 0.4 0.3 0.4-2.8 0.4 1.6 0.4 2.9 0.4-1.4 0.4-1.4 0.4 3.1 0.4-0.9 0.5-0.4 0.4-0.1 0.4-3.9 0.4-2.7 0.4-4.4 0.4 1.5 0.4-0.4 0.4-0.2 0.4 0.3 0.4 4.6 0.4-3.3 0.4-0.3 0.4 0.5 0.4-0.9 0.4-1.6 0.4-2 0.4 2.3 0.4-5.3 0.4 1.6 0.4 0.2 0.4 0 0.4-1.8 0.4 2.4 0.4-2.3 0.5 3.5 0.4 0.4 0.4-1.5 0.4-9.1 0.4 7.9 0.4-5.7 0.4-3.7 0.4 4.9 0.4-4.4 0.4-2.6 0.4 0.9 0.4-3.3 0.4 3.1 0.4 3.1 0.4-2.5 0.4 1.7 0.4 0.5 0.4-1.7 0.4-9.4 0.4 6.5 0.4-2.2 0.4 3 0.4-1.5 0.4 0.2 0.4 0.1 0.5 2.5 0.4-1.4 0.4-1.3 0.4-2.6 0.4-5.1 0.4 1.2 0.4-1.2 0.4 1 0.4 0.5 0.4 2.2 0.4-3.4 0.4 4.3 0.4-3.7 0.4-6 0.4 2.3 0.4-2.5 0.4 2.1 0.4 1.7 0.4-2.3 0.4-0.5 0.4-3.8 0.4-2.2 0.4 6.6 0.4-1.4 0.5-0.4 0.4-0.7 0.4 1.3 0.4-5 0.4-0.3 0.4-1 0.4 3.9 0.4-1.4 0.4 4.5 0.4-7.2 0.4 3.9 0.4-1.3 0.4-0.7 0.4-1.1 0.4 0.7 0.4 2.2 0.4-10.6 0.4 3.9 0.4-0.5 0.4-5.8 0.4 5.6 0.4-1.5 0.4-0.1 0.4-2.9 0.4 2.8 0.5-1.1 0.4 2.1 0.4-1.6 0.4-2.7 0.4 7.4 0.4-4.7 0.4-0.3 0.4-0.6 0.4 4 0.4-7.3 0.4 2.8 0.4-1.3 0.4 2 0.4 2.1 0.4-4.4 0.4 4 0.4-3 0.4-3.8 0.4-1.4 0.4 0 0.4-1.6 0.4-6.3 0.4 3.7 0.4 3.9 0.4-1.2 0.5-0.2 0.4-2 0.4 0.3 0.4 0.7 0.4-7.3 0.4 4.9 0.4 0.6 0.4 1.7 0.4-0.1 0.4-4.1 0.4 1.4 0.4-1.8 0.4 9.2 0.4-10.3 0.4-2.1 0.4-2.9 0.4 4.1 0.4 2.6 0.4-5.9 0.4 2.7 0.4 3.4 0.4-2.8 0.4-5.1 0.4-0.2 0.5 1.2 0.4 2.5 0.4-9.3 0.4 8.9 0.4-1.6 0.4 3.2 0.4-7.2 0.4 1.9 0.4-1.3 0.4-0.7 0.4-0.4 0.4-0.7 0.4 4.7 0.4-6.7 0.4 1.1 0.4 3.4 0.4 0.2 0.4-2.4 0.4-3.8 0.4 1.6 0.4-0.5 0.4-0.5 0.4 2.4 0.4-3.1 0.4-0.5 0.5-0.3 0.4-0.5 0.4-1.7 0.4-0.8 0.4-0.9 0.4-1.6 0.4 0.4 0.4-0.2 0.4 0 0.4 4.7 0.4-6 0.4 6.1 0.4-5.3 0.4 2.6 0.4-2.2 0.4 1.2 0.4 1.8 0.4-4.5 0.4 1.5 0.4-0.8 0.4 0.3 0.4-3.1 0.4-0.4 0.4-0.8 0.4 4.3 0.5-2.1 0.4-1.6 0.4-4.6 0.4 4.1 0.4 1.6 0.4-5.5 0.4 2.9 0.4-0.5 0.4 0.3 0.4 2.3 0.4-5.5 0.4 0 0.4 1.6 0.4 1.5 0.4-3.4 0.4-2.7 0.4 5.2 0.4 1 0.4-4.6 0.4 4.7 0.4 0.6 0.4-4 0.4 0 0.4-1.4 0.5 0.6 0.4-2.6 0.4 0.8 0.4 1.4 0.4-0.7 0.4-4.2 0.4-1.2 0.4-0.8 0.4-1.6 0.4 9.6 0.4-4.2 0.4-2.4 0.4-1.9 0.4 4 0.4-8.3 0.4 1.3 0.4 2.4 0.4-1.8 0.4 1.2 0.4 0.7 0.4-2.6 0.4 2.3 0.4 1.8 0.4-2.1 0.4 0.1 0.5 1.3 0.4-5 0.4 4.4 0.4-7.9 0.4-0.2 0.4 4.5 0.4-3.7 0.4-1.6 0.4 3.3 0.4 2.9 0.4-4 0.4-6.1 0.4 7.5 0.4-4.7 0.4 1.8 0.4 0 0.4 1.1 0.4-0.5 0.4-5.4 0.4-1.7 0.4 3.3 0.4-7.7 0.4 5.7 0.4-4.1 0.5 1.6 0.4-3.3 0.4 2.4 0.4-0.8 0.4 2.7 0.4-2.7 0.4 2 0.4-5.2 0.4 6.3 0.4-6.3 0.4 0.6 0.4 0.6 0.4 1.2 0.4-2.8 0.4 4.3 0.4-0.2 0.4-6.2 0.4 5.4 0.4-7.6 0.4 4.4 0.4-1.6 0.4 0.1 0.4-1 0.4 1.5 0.4-0.3 0.5 0 0.4-3.7 0.4-0.6 0.4-1.8 0.4 2.5 0.4-1.6 0.4 3.7 0.4-5.7 0.4 0 0.4 1.4 0.4-1.1 0.4-2.3 0.4 3.3 0.4-3.4 0.4 2.6 0.4 3.7 0.4-2.6 0.4-0.5 0.4-2.7 0.4 3.5 0.4-0.2 0.4 0.3 0.4-1.9 0.4-0.8 0.4-3 0.5 0 0.4 1.6 0.4-2.1 0.4 0.8 0.4-0.4 0.4-4.9 0.4 9.1 0.4-5.5 0.4-1.4 0.4-1.8 0.4 5.9 0.4-3.7 0.4-2 0.4 2.2 0.4 1.8 0.4-4.2 0.4 2.3 0.4-4.2 0.4 2.4 0.4-4.6 0.4 3.3 0.4 1.5 0.4-1.3 0.4 0.8 0.5-5.8 0.4-3.3 0.4 4.6 0.4-3.3 0.4 5.9 0.4-2.7 0.4-4.7 0.4 8.4 0.4-6.8 0.4-1.3 0.4 6.4 0.4-1.4 0.4-0.5 0.4-5.2 0.4 3.4 0.4-0.2 0.4-2 0.4-0.4 0.4 0.6 0.4 1.2 0.4-3.2 0.4 4.5 0.4-5.8 0.4 5 0.4 1.3 0.5-4.7 0.4 0.4 0.4 5 0.4-6.1 0.4 3.2 0.4-1.3 0.4-4.7 0.4 4.6 0.4-2.6 0.4 2.3 0.4-5.3 0.4 3.4 0.4 1.4 0.4-0.6 0.4-1.7 0.4-3.4 0.4 1.3 0.4-2.2 0.4 0.3 0.4 0.7 0.4-0.4 0.4 0.5 0.4-0.4 0.4-1.1 0.4-0.6 0.5 3.2 0.4 3.3 0.4-3.3 0.4-3.3 0.4 6.2 0.4-5 0.4-3.5 0.4 2.3 0.4 1.3 0.4-7.7 0.4 0.7 0.4 4.2 0.4-3.6 0.4 0.7 0.4 5.2 0.4-10.6 0.4 9.5 0.4-2.5 0.4 1.6 0.4-2.6 0.4 3.7 0.4-4.4 0.4-2.7 0.4 1.3 0.5 1.6 0.4-4.4 0.4 5.6 0.4-4.9 0.4 3.7 0.4-1.4 0.4 0.1 0.4-0.2 0.4 0.1 0.4 1.6 0.4-0.5 0.4-2.3 0.4 0.5 0.4 3.1 0.4-2.2 0.4-0.7 0.4-1.3 0.4-0.7 0.4 0.2 0.4 1.7 0.4-1.5 0.4 1.7 0.4 3.2 0.4-8.5 0.4 3.4 0.5-1.7 0.4 1.2 0.4-4.6 0.4 4.3 0.4-3.9 0.4 1.7 0.4 1.1 0.4 0.9 0.4-4.2 0.4 0.7 0.4 0 0.4-2.3 0.4 3.1 0.4-0.3 0.4 1.6 0.4-2.3 0.4 1.7 0.4 0.6 0.4-7.2 0.4 8.5 0.4-5.8 0.4-1.3 0.4 1.4 0.4 2.6 0.4-2.1 0.5 0.6 0.4 1.6 0.4-3.2 0.4 0.7 0.4 0.1 0.4-1.7 0.4 2.2 0.4-3.9 0.4 3.2 0.4-4.3 0.4-0.6 0.4 0.5 0.4 3.7 0.4-1.3 0.4 0.2 0.4-2.7 0.4-0.6 0.4-2.3 0.4 2.9 0.4-0.1 0.4 4.2 0.4 0.7 0.4-2.2 0.4-0.4 0.5 1.2 0.4 0.5 0.4-5.8 0.4 2.5 0.4 2.2 0.4-11 0.4 5.1 0.4 0.1 0.4-2.1 0.4 3.6 0.4-5.3 0.4 6.8 0.4 0.3 0.4-2.8 0.4 0.3 0.4-3.9 0.4 6.4 0.4-3.3 0.4-2.5 0.4-1.2 0.4-3 0.4 1.9 0.4-4.3 0.4 4.9 0.4-1.8 0.5-0.2 0.4 3.2 0.4 0 0.4 1.6 0.4 2.1 0.4-0.1 0.4-1.7 0.4 2 0.4-5.9 0.4 4.1 0.4-8.4 0.4 0.6 0.4 1.6 0.4 3.9 0.4 0 0.4-4.5 0.4 1.7 0.4-0.9 0.4 2.8 0.4-3.1 0.4 4.4 0.4-1.1 0.4 3 0.4-3 0.5-4.1 0.4 0.9 0.4-1.4 0.4-2.7 0.4 2.8 0.4-2.1 0.4 9.8 0.4-6.2 0.4 0.9 0.4 4.6 0.4-0.6 0.4-6.3 0.4 5.1 0.4-1.2 0.4-3.6 0.4 2.2 0.4-1.7 0.4 1.8 0.4-3.1 0.4-1 0.4 1 0.4 7.7 0.4-7.2 0.4 1.1 0.4 2 0.5-5.4 0.4 6 0.4-8.9 0.4 6.7 0.4-5.5 0.4 4.4 0.4 2.9 0.4-2.7 0.4-2.8 0.4-0.9 0.4-2.2 0.4 5.5 0.4-3.9 0.4 1.7 0.4 1.8 0.4 1.1 0.4-0.2 0.4-3.1 0.4-1.9 0.4 3.2 0.4 1.5 0.4-6.9 0.4 5 0.4-3.2 0.4 3.5 0.5 2.6 0.4-4.2 0.4 1.8 0.4-4.1 0.4-1.9 0.4 6.1 0.4-2.3 0.4 0.4 0.4 3 0.4 0.5 0.4-6.5 0.4 3.4 0.4-1.9 0.4 1.4 0.4-0.4 0.4 0 0.4-3.2 0.4-0.5 0.4 3.2 0.4 1.9 0.4-3.9 0.4 4.3 0.4-3.2 0.4-4.8 0.5-2.1 0.4 4.5 0.4 2.2 0.4-3.2 0.4 6.2 0.4-3.8 0.4-4.3 0.4 2.5 0.4 3.6 0.4 1.4 0.4-6.8 0.4 0.5 0.4 0.7 0.4-2.9 0.4 0.8 0.4 2.9 0.4-4.3 0.4 3.9 0.4 2.2 0.4 2.4 0.4-3.9 0.4 1.5 0.4-3.1 0.4 1.4 0.4-3.2 0.5 5.1 0.4-0.9 0.4 2.3 0.4-2.4 0.4-4.8 0.4-6.7 0.4 10.8 0.4-1.2 0.4-4.2 0.4-0.5 0.4 2.2 0.4-1.5 0.4 3.8 0.4-2.9 0.4-2.5 0.4-0.6 0.4 4.2 0.4 2.2 0.4-2.3 0.4-2.1 0.4 0.5 0.4 2.5 0.4-5.6 0.4-1.5 0.4 4.9 0.5 1 0.4-4 0.4 3 0.4-0.9 0.4-0.3 0.4 0.6 0.4-1.4 0.4 0.4 0.4-0.3 0.4-0.1 0.4 1.6 0.4-2.7 0.4 4.1 0.4-3 0.4 0.8 0.4-6.1 0.4 0.7 0.4 3 0.4-3.1 0.4 1.8 0.4 0.7 0.4-3.7 0.4 0.9 0.4-1.8 0.5 3.2 0.4 1.2 0.4 0.2 0.4 2.9 0.4-4 0.4 0 0.4-1.6 0.4 2.7 0.4 3.7 0.4-0.8 0.4-4.2 0.4-1.3 0.4 4.5 0.4-2.5 0.4-2.3 0.4 5.3 0.4-1.2 0.4 0.8 0.4-6.8 0.4 3.2 0.4 2.4 0.4 3.6 0.4-3.9 0.4-2.3 0.4 2 0.5-0.4 0.4-2.6 0.4 3.4 0.4-2.7 0.4-1 0.4 3 0.4-1.2 0.4-0.1 0.4-0.5 0.4-0.2 0.4-1.4 0.4 2.2 0.4 1.7 0.4 0.1 0.4-1.6 0.4-1.6 0.4-1.6 0.4 4 0.4-5.1 0.4 1.4 0.4 3.4 0.4-1.4 0.4-0.2 0.4-2.6 0.5 6 0.4-5.2 0.4 2.4 0.4 2.2 0.4-2.4 0.4 0.3 0.4 5.2 0.4-2.1 0.4-3.5 0.4 2.4 0.4-5.1 0.4 2.4 0.4-0.7 0.4-1.4 0.4-2.3 0.4 3.7 0.4-0.3 0.4-6.3 0.4 7.2 0.4-0.6 0.4 1.9 0.4-5.5 0.4 2 0.4-0.8 0.4 1.4 0.5 1.6 0.4 1.3 0.4 1.1 0.4-3.6 0.4 1.4 0.4-3.9 0.4 6.4 0.4-1 0.4 1.4 0.4-6.3 0.4 6.3 0.4-3.7 0.4-2.4 0.4 4.2 0.4-2.1 0.4 7.2 0.4-6.1 0.4 4.3 0.4-5.1 0.4-0.6 0.4 0.2 0.4-4.2 0.4 0.4 0.4 3.2 0.4-0.1 0.5 2.5 0.4-2.8 0.4-5.7 0.4 5.9 0.4-1.5 0.4 2.3 0.4-3.5 0.4 2 0.4 1.1 0.4 3.2 0.4-3 0.4-3.4 0.4 2 0.4-2.2 0.4 2.2 0.4 4.8 0.4-5.8 0.4 0.9 0.4 3.5 0.4-0.4 0.4-1.6 0.4 2 0.4-3.3 0.4 0.9 0.5 5 0.4-6.5 0.4 1.2 0.4 2.5 0.4-3.6 0.4 2.6 0.4-2.7 0.4-0.9 0.4 0.7 0.4 4.2 0.4-2.3 0.4-4.4 0.4 2.7 0.4 1.4 0.4-1.7 0.4-1.4 0.4 1.8 0.4-1.3 0.4 3.3 0.4-1.1 0.4-0.2 0.4-1.2 0.4 6.1 0.4-3.9 0.4 1.8 0.5-5.8 0.4 1 0.4-1.1 0.4 2.7 0.4 2.7 0.4-3.7 0.4 1.6 0.4-1.4 0.4 3 0.4 0.8 0.4-2 0.4-3.1 0.4 4.4 0.4-6.1 0.4-0.8 0.4 9 0.4-2.6 0.4 2.6 0.4-2.2 0.4 1.6 0.4-2.1 0.4-2.1 0.4-0.8 0.4 1.2 0.4 0.6 0.5 1.5 0.4-1.7 0.4-1.2 0.4 3.2 0.4-2.6 0.4 4.1 0.4-4.3 0.4-3.1 0.4 3.6 0.4 3.7 0.4-8 0.4 2.8 0.4 7.7 0.4-7.1 0.4-1.5 0.4 1.7 0.4-0.5 0.4 1.4 0.4 2.5 0.4 5.9 0.4-2 0.4-3.4 0.4-2.4 0.4 3.3 0.5-2.1 0.4-3.5 0.4 5.3 0.4 0.9 0.4-4.4 0.4-2.5 0.4 2.4 0.4 5.1 0.4-4.6 0.4 2.9 0.4-3.4 0.4 0.4 0.4-1 0.4-2.4 0.4 2.5 0.4-4.5 0.4 1 0.4 0.9 0.4-1.8 0.4 5.3 0.4-2.4 0.4 1 0.4 4.2 0.4-0.7 0.4 0.7 0.5-0.2 0.4-1.2 0.4-2.5 0.4 0.3 0.4-1 0.4 4.1 0.4-5.4 0.4-2.1 0.4 2.4 0.4 1.4 0.4 2.3 0.4 1.7 0.4-3 0.4 3.3 0.4-0.5 0.4-5.4 0.4 5.1 0.4-6.1 0.4 7.7 0.4-4 0.4 3.8 0.4-2.8 0.4 2.6 0.4-2.9 0.4 0.6 0.5 1.1 0.4-2.7 0.4-2 0.4 4.8 0.4-4 0.4 2.1 0.4-0.9 0.4-6 0.4 10.4 0.4-4.3 0.4 1.9 0.4-2.5 0.4 0.3 0.4-11.2 0.4 8.2 0.4-3.9 0.4 1.3 0.4 3.8 0.4-2 0.4-2.4 0.4 3.5 0.4-1.1 0.4-0.8 0.4 5.3 0.5-1.6 0.4-2.4 0.4 0.7 0.4 2.3 0.4-0.7 0.4-0.4 0.4-0.5 0.4-2.1 0.4 3.1 0.4 0.5 0.4 3.8 0.4 0.3 0.4-4 0.4 4.7 0.4-4.6 0.4 2.4 0.4 0.2 0.4-2.8 0.4 2.5 0.4-0.4 0.4-0.7 0.4-1.1 0.4-7.1 0.4 13 0.4-4.7 0.5 0.6 0.4-3.2 0.4 4 0.4 4.6 0.4-10.2 0.4 5.9 0.4-2.7 0.4 2 0.4-1.3 0.4-0.8 0.4-2.7 0.4 0.6 0.4 2 0.4-2.4 0.4 2.9 0.4-2 0.4-1.4 0.4 1.7 0.4 2.7 0.4-1.3 0.4-1.2 0.4 0.9 0.4 1.7 0.4-5.4 0.5 6.8 0.4-3.1 0.4 2.3 0.4-2.5 0.4 6.6 0.4-11.5 0.4 5.7 0.4 1.6 0.4-3.9 0.4-4.1 0.4 4.2 0.4 3.7 0.4-1.8 0.4-3 0.4 6.8 0.4-3.6 0.4 1.8 0.4-6.6 0.4 4.6 0.4-5.4 0.4 5.5 0.4-0.8 0.4-2.8 0.4 1.6 0.4 6.9 0.5-6.3 0.4 0.4 0.4 2 0.4-1.9 0.4 0.3 0.4 1.8 0.4-0.1 0.4-0.3 0.4-2 0.4 1.6 0.4-1.8 0.4 4.1 0.4-3.2 0.4 1.3 0.4 2.4 0.4-6.1 0.4-2.9 0.4 1.3 0.4 5.3 0.4-5.5 0.4 3.2 0.4 0 0.4 1.1 0.4-1.6 0.4-3.7 0.5 1.3 0.4 3.2 0.4 1.5 0.4 0.2 0.4-0.5 0.4-2.9 0.4 6.1 0.4-3.2 0.4 1.1 0.4-1.5 0.4-2.5 0.4-0.4 0.4 3.4 0.4-1.5 0.4-5.2 0.4 1.7 0.4 0 0.4 3.6 0.4 0.1 0.4-2.1 0.4 3.6 0.4 1.7 0.4-2.9 0.4-1.6 0.5 5.4 0.4-5.6 0.4 0.4 0.4 3.6 0.4-3.5 0.4-0.3 0.4-1.6 0.4 0 0.4 4.9 0.4 0.1 0.4-4.1 0.4 1.5 0.4 0.6 0.4 0.1 0.4-2.3 0.4 4.9 0.4-5.9 0.4 3.2 0.4-2.9 0.4-1.4 0.4 6 0.4-3.7 0.4 1.8 0.4 0.3 0.4-1.3 0.5 3.6 0.4 0.1 0.4-3.6 0.4-0.7 0.4 4.2 0.4 0.9 0.4-10 0.4 1.7 0.4 0.2 0.4 3.7 0.4-0.7 0.4-2.5 0.4 2.3 0.4-4.4 0.4 3.8 0.4-0.7 0.4 4.4 0.4 1.7 0.4-1.5 0.4-3 0.4 2.9 0.4-0.2 0.4-2.2 0.4-0.1 0.4-4.1 0.5 2.4 0.4 2 0.4-2 0.4-2.2 0.4 5.6 0.4-2 0.4 0.3 0.4-3.6 0.4-0.7 0.4 3.3 0.4-1.3 0.4-3.1 0.4 1.5 0.4 1.2 0.4-1.1 0.4 2.8 0.4 1.3 0.4-3.6 0.4 4.4 0.4-1.9 0.4 5.4 0.4-4.3 0.4 0.7 0.4 1 0.5-3.4 0.4 1.1 0.4-0.2 0.4-0.5 0.4 1.3 0.4-7 0.4 6.5 0.4-2.3 0.4 3.5 0.4-3.3 0.4 0.5 0.4-0.6 0.4 0.8 0.4-3.2 0.4-1.9 0.4 3.1 0.4-0.1 0.4 0.3 0.4-6.1 0.4 1.1 0.4 2.5 0.4-0.9 0.4 3.8 0.4-0.8 0.4 0.3 0.5 0.5 0.4 3 0.4-0.4 0.4-3.7 0.4-0.8 0.4 5.3 0.4-6.4 0.4-1.5 0.4 4.7 0.4-1.8 0.4 4.4 0.4-4 0.4 2.8 0.4-0.1 0.4-2.8 0.4-6.4 0.4 5.8 0.4 1.4 0.4-4.5 0.4 0.4 0.4-3.5 0.4 7.2 0.4 1.3 0.4-2.1 0.5-0.5 0.4-0.4 0.4-1.2 0.4 6.7 0.4-1.7 0.4-1.5 0.4-1.7 0.4 1.7 0.4 1.1 0.4 1.7 0.4-4.8 0.4-0.6 0.4-5.6 0.4 7.8 0.4-5.5 0.4 6.9 0.4-1.9 0.4-0.6 0.4-0.6 0.4 2.2 0.4-0.6 0.4-1.2 0.4 2.3 0.4-2.3 0.4 1 0.5-1.2 0.4-2.3 0.4 1.8 0.4-0.4 0.4-0.4 0.4-0.7 0.4-1.4 0.4 4.1 0.4-3.9 0.4 0.6 0.4 2.1 0.4 3.1 0.4 2.4 0.4-2.4 0.4-0.8 0.4-2.4 0.4 2.2 0.4 0.4 0.4-5.1 0.4 4.8 0.4-3.2 0.4 2.1 0.4 4.7 0.4-3.5 0.4 1.8 0.5 2.6 0.4 0.9 0.4-0.9 0.4-3.7 0.4 1.1 0.4-3.4 0.4 3.8 0.4 0.1 0.4-2.2 0.4 3.8 0.4 0.3 0.4-5.2 0.4 0.2 0.4 2.8 0.4-1.2 0.4-2 0.4-1.8 0.4 6.5 0.4-2.1 0.4-4.9 0.4 6.6 0.4-3.6 0.4 8.6 0.4-10.5 0.5 2.9 0.4 2.3 0.4-7.3 0.4-0.7 0.4 1 0.4 2 0.4 4.3 0.4 2.2 0.4 0.7 0.4-1.5 0.4-1 0.4 1.3 0.4-1.6 0.4-2.6 0.4 1 0.4-5.3 0.4 1.5 0.4 8.3 0.4-0.5 0.4 1.3 0.4-0.7 0.4-4.6 0.4 3.2" fill="none" stroke="#4682b4" stroke-width="6.7" stroke-linejoin="round" stroke-linecap="round"/>
<path d="M236.1 293.6H858.6" stroke="#000" stroke-width="2.5" stroke-dasharray="9.2 4.1" fill="none"/>
<path d="M547.1 732.3V114.4" stroke="#000" stroke-width="2.5" stroke-dasharray="9.2 4.1" fill="none"/>
<rect x="236.1" y="114.4" width="622.5" height="617.9" fill="none" stroke="#000" stroke-width="2.8"/>
<path d="M264.5 732.3v10.4M405.8 732.3v10.4M547.1 732.3v10.4M688.4 732.3v10.4M829.7 732.3v10.4M236.1 147.4h-10.4M236.1 293.6h-10.4M236.1 439.8h-10.4M236.1 586.1h-10.4M236.1 732.3h-10.4" stroke="#000" stroke-width="2.8" fill="none"/>
<text x="264.5" y="780.3" font-size="29.0" font-family="DejaVu Sans, Liberation Sans, sans-serif" text-anchor="middle">−100</text>
<text x="405.8" y="780.3" font-size="29.0" font-family="DejaVu Sans, Liberation Sans, sans-serif" text-anchor="middle">−50</text>
<text x="547.1" y="780.3" font-size="29.0" font-family="DejaVu Sans, Liberation Sans, sans-serif" text-anchor="middle">0</text>
<text x="688.4" y="780.3" font-size="29.0" font-family="DejaVu Sans, Liberation Sans, sans-serif" text-anchor="middle">50</text>
<text x="829.7" y="780.3" font-size="29.0" font-family="DejaVu Sans, Liberation Sans, sans-serif" text-anchor="middle">100</text>
<text x="211.3" y="157.9" font-size="29.0" font-family="DejaVu Sans, Liberation Sans, sans-serif" text-anchor="end">200</text>
<text x="211.3" y="304.2" font-size="29.0" font-family="DejaVu Sans, Liberation Sans, sans-serif" text-anchor="end">0</text>
<text x="211.3" y="450.4" font-size="29.0" font-family="DejaVu Sans, Liberation Sans, sans-serif" text-anchor="end">−200</text>
<text x="211.3" y="596.7" font-size="29.0" font-family="DejaVu Sans, Liberation Sans, sans-serif" text-anchor="end">−400</text>
<text x="211.3" y="742.9" font-size="29.0" font-family="DejaVu Sans, Liberation Sans, sans-serif" text-anchor="end">−600</text>
<text x="547.4" y="807" font-size="29.0" font-family="DejaVu Sans, Liberation Sans, sans-serif" text-anchor="middle">Voltage (mV)</text>
<text x="0" y="0" font-size="29.0" font-family="DejaVu Sans, Liberation Sans, sans-serif" text-anchor="middle" transform="translate(125.3 423.3) rotate(-90)">Current (pA)</text>
<path d="M903.7 445.3H961.4" stroke="#000" stroke-width="6.7" stroke-linecap="square"/>
<text x="986" y="454.9" font-size="29.0" font-family="DejaVu Sans, Liberation Sans, sans-serif" text-anchor="start">10 mM Ca</text>
<text x="1134" y="444.5" font-size="20.3" font-family="DejaVu Sans, Liberation Sans, sans-serif" text-anchor="start">2</text>
<text x="1149.9" y="444.5" font-size="20.3" font-family="DejaVu Sans, Liberation Sans, sans-serif" text-anchor="start">+</text>
<text x="1182.9" y="454.9" font-size="29.0" font-family="DejaVu Sans, Liberation Sans, sans-serif" text-anchor="start">(raw)</text>
<path d="M903.7 490.3H961.4" stroke="#a9a9a9" stroke-width="6.7" stroke-linecap="square"/>
<text x="986" y="499.9" font-size="29.0" font-family="DejaVu Sans, Liberation Sans, sans-serif" text-anchor="start">0.02 mM Ca</text>
<text x="1161.5" y="489.5" font-size="20.3" font-family="DejaVu Sans, Liberation Sans, sans-serif" text-anchor="start">2</text>
<text x="1177.4" y="489.5" font-size="20.3" font-family="DejaVu Sans, Liberation Sans, sans-serif" text-anchor="start">+</text>
<text x="1210.5" y="499.9" font-size="29.0" font-family="DejaVu Sans, Liberation Sans, sans-serif" text-anchor="start">(raw)</text>
<path d="M903.7 535.3H961.4" stroke="#4682b4" stroke-width="6.7" stroke-linecap="square"/>
<text x="986" y="544.9" font-size="29.0" font-family="DejaVu Sans, Liberation Sans, sans-serif" text-anchor="start">10 mM Ca</text>
<text x="1134" y="534.5" font-size="20.3" font-family="DejaVu Sans, Liberation Sans, sans-serif" text-anchor="start">2</text>
<text x="1149.9" y="534.5" font-size="20.3" font-family="DejaVu Sans, Liberation Sans, sans-serif" text-anchor="start">+</text>
<text x="1182.9" y="544.9" font-size="29.0" font-family="DejaVu Sans, Liberation Sans, sans-serif" text-anchor="start">(subtracted)</text>
<rect x="357.7" y="1020" width="247.3" height="9.7" fill="#5dbaa5"/>
<rect x="622.3" y="1021.5" width="244" height="6.7" rx="1" fill="#fff" stroke="#000" stroke-width="3"/>
<rect x="883" y="1020" width="247.3" height="9.7" fill="#ec6a8a"/>
<text x="413" y="998.6" font-size="28.9" font-family="Liberation Sans, Arial, sans-serif" text-anchor="start">10 mM Ca<tspan dy="-10.4" font-size="17.9">2+</tspan></text>
<text x="662.2" y="998.6" font-size="28.9" font-family="Liberation Sans, Arial, sans-serif" text-anchor="start">0.02 mM Ca<tspan dy="-10.4" font-size="17.9">2+</tspan></text>
<text x="943" y="998.6" font-size="28.9" font-family="Liberation Sans, Arial, sans-serif" text-anchor="start">40 mM Na<tspan dy="-10.4" font-size="17.9">+</tspan></text>
<path d="M257.2 1077H1190.2" stroke="#000" stroke-width="2.5" stroke-dasharray="9.2 4.1" fill="none"/>
<path d="M298.4 1148.8l9.3-14.9 9.3 11.7 9.4-11.7 9.3 10.9 9.3-7.4 9.3-7.1 9.4 13.1 9.3 21.8 9.3 26.6 9.3 10.6 9.4 18.6 9.3 10.3 9.3-9 9.3 17.7 9.4 16.9 9.3 22.6 9.3 2.1 9.3-7.6 9.4 18.5 9.3 6.5 9.3 7.1 9.3 4.1 9.4-11.7 9.3 5.4 9.3 9.6 9.3-3.3 9.4 0.5 9.3 16.4 9.3-15 9.3-31.3 9.4 22.6 9.3-15.2 9.3 23.9 9.3-10.3 9.4-6 9.3-1.4 9.3-1.9 9.3-6.2 9.4-0.6 9.3-9 9.3-9.5 9.3-15 9.4-12.2 9.3-19.9 9.3-24.5 9.3-0.5 9.4-27.8 9.3 3.9 9.3-14.7 9.3-6.3 9.4-12.2 9.3 6.8 9.3-15 9.3-4.1 9.4 9.5 9.3-23.9 9.3-3.8 9.3-9 9.4 4.6 9.3-2.7 9.3-4.6 9.3 25.3 9.4-13.1 9.3-0.5 9.3-2.2 9.3-2.2 9.4-1.9 9.3-7.3 9.3 17.4 9.3-2.7 9.4 2.7 9.3 10.3 9.3-2.1 9.3-7.4 9.4 10.9 9.3-16.3 9.3 8.1 9.3-5.4 9.4 8.2 9.3 6.8 9.3 1.3 9.3-8.1 9.4-6.9 9.3 3.3 9.3-2.7 9.3 11.7 9.4 1.4 9.3 0.5 9.3-2.7" fill="none" stroke="#000" stroke-width="3.6" stroke-linejoin="round"/>
<g fill="#000"><circle cx="298.4" cy="1148.8" r="9"/><circle cx="307.7" cy="1133.9" r="9"/><circle cx="317" cy="1145.6" r="9"/><circle cx="326.4" cy="1133.9" r="9"/><circle cx="335.7" cy="1144.8" r="9"/><circle cx="345" cy="1137.4" r="9"/><circle cx="354.3" cy="1130.3" r="9"/><circle cx="363.7" cy="1143.4" r="9"/><circle cx="373" cy="1165.2" r="9"/><circle cx="382.3" cy="1191.8" r="9"/><circle cx="391.6" cy="1202.4" r="9"/><circle cx="401" cy="1221" r="9"/><circle cx="410.3" cy="1231.3" r="9"/><circle cx="419.6" cy="1222.3" r="9"/><circle cx="428.9" cy="1240" r="9"/><circle cx="438.3" cy="1256.9" r="9"/><circle cx="447.6" cy="1279.5" r="9"/><circle cx="456.9" cy="1281.6" r="9"/><circle cx="466.2" cy="1274" r="9"/><circle cx="475.6" cy="1292.5" r="9"/><circle cx="484.9" cy="1299" r="9"/><circle cx="494.2" cy="1306.1" r="9"/><circle cx="503.5" cy="1310.2" r="9"/><circle cx="512.9" cy="1298.5" r="9"/><circle cx="522.2" cy="1303.9" r="9"/><circle cx="531.5" cy="1313.5" r="9"/><circle cx="540.8" cy="1310.2" r="9"/><circle cx="550.2" cy="1310.7" r="9"/><circle cx="559.5" cy="1327.1" r="9"/><circle cx="568.8" cy="1312.1" r="9"/><circle cx="578.1" cy="1280.8" r="9"/><circle cx="587.5" cy="1303.4" r="9"/><circle cx="596.8" cy="1288.2" r="9"/><circle cx="606.1" cy="1312.1" r="9"/><circle cx="615.4" cy="1301.8" r="9"/><circle cx="624.8" cy="1295.8" r="9"/><circle cx="634.1" cy="1294.4" r="9"/><circle cx="643.4" cy="1292.5" r="9"/><circle cx="652.7" cy="1286.3" r="9"/><circle cx="662.1" cy="1285.7" r="9"/><circle cx="671.4" cy="1276.7" r="9"/><circle cx="680.7" cy="1267.2" r="9"/><circle cx="690" cy="1252.2" r="9"/><circle cx="699.4" cy="1240" r="9"/><circle cx="708.7" cy="1220.1" r="9"/><circle cx="718" cy="1195.6" r="9"/><circle cx="727.3" cy="1195.1" r="9"/><circle cx="736.7" cy="1167.3" r="9"/><circle cx="746" cy="1171.2" r="9"/><circle cx="755.3" cy="1156.5" r="9"/><circle cx="764.6" cy="1150.2" r="9"/><circle cx="774" cy="1138" r="9"/><circle cx="783.3" cy="1144.8" r="9"/><circle cx="792.6" cy="1129.8" r="9"/><circle cx="801.9" cy="1125.7" r="9"/><circle cx="811.3" cy="1135.2" r="9"/><circle cx="820.6" cy="1111.3" r="9"/><circle cx="829.9" cy="1107.5" r="9"/><circle cx="839.2" cy="1098.5" r="9"/><circle cx="848.6" cy="1103.1" r="9"/><circle cx="857.9" cy="1100.4" r="9"/><circle cx="867.2" cy="1095.8" r="9"/><circle cx="876.5" cy="1121.1" r="9"/><circle cx="885.9" cy="1108" r="9"/><circle cx="895.2" cy="1107.5" r="9"/><circle cx="904.5" cy="1105.3" r="9"/><circle cx="913.8" cy="1103.1" r="9"/><circle cx="923.2" cy="1101.2" r="9"/><circle cx="932.5" cy="1093.9" r="9"/><circle cx="941.8" cy="1111.3" r="9"/><circle cx="951.1" cy="1108.6" r="9"/><circle cx="960.5" cy="1111.3" r="9"/><circle cx="969.8" cy="1121.6" r="9"/><circle cx="979.1" cy="1119.5" r="9"/><circle cx="988.4" cy="1112.1" r="9"/><circle cx="997.8" cy="1123" r="9"/><circle cx="1007.1" cy="1106.7" r="9"/><circle cx="1016.4" cy="1114.8" r="9"/><circle cx="1025.7" cy="1109.4" r="9"/><circle cx="1035.1" cy="1117.6" r="9"/><circle cx="1044.4" cy="1124.4" r="9"/><circle cx="1053.7" cy="1125.7" r="9"/><circle cx="1063" cy="1117.6" r="9"/><circle cx="1072.4" cy="1110.7" r="9"/><circle cx="1081.7" cy="1114" r="9"/><circle cx="1091" cy="1111.3" r="9"/><circle cx="1100.3" cy="1123" r="9"/><circle cx="1109.7" cy="1124.4" r="9"/><circle cx="1119" cy="1124.9" r="9"/><circle cx="1128.3" cy="1122.2" r="9"/></g>
<rect x="257.2" y="1064" width="933" height="618.5" fill="none" stroke="#000" stroke-width="2.2"/>
<path d="M298.3 1682.5v8M476.7 1682.5v8M655.1 1682.5v8M833.4 1682.5v8M1011.8 1682.5v8M1190.2 1682.5v8M257.2 1077h-8M257.2 1198.1h-8M257.2 1319.2h-8M257.2 1440.3h-8M257.2 1561.4h-8M257.2 1682.5h-8" stroke="#000" stroke-width="2.2" fill="none"/>
<text x="298.3" y="1727.5" font-size="29.0" font-family="DejaVu Sans, Liberation Sans, sans-serif" text-anchor="middle">0</text>
<text x="476.7" y="1727.5" font-size="29.0" font-family="DejaVu Sans, Liberation Sans, sans-serif" text-anchor="middle">100</text>
<text x="655.1" y="1727.5" font-size="29.0" font-family="DejaVu Sans, Liberation Sans, sans-serif" text-anchor="middle">200</text>
<text x="833.4" y="1727.5" font-size="29.0" font-family="DejaVu Sans, Liberation Sans, sans-serif" text-anchor="middle">300</text>
<text x="1011.8" y="1727.5" font-size="29.0" font-family="DejaVu Sans, Liberation Sans, sans-serif" text-anchor="middle">400</text>
<text x="1190.2" y="1727.5" font-size="29.0" font-family="DejaVu Sans, Liberation Sans, sans-serif" text-anchor="middle">500</text>
<text x="234" y="1087.6" font-size="29.0" font-family="DejaVu Sans, Liberation Sans, sans-serif" text-anchor="end">0</text>
<text x="234" y="1208.7" font-size="29.0" font-family="DejaVu Sans, Liberation Sans, sans-serif" text-anchor="end">−2</text>
<text x="234" y="1329.8" font-size="29.0" font-family="DejaVu Sans, Liberation Sans, sans-serif" text-anchor="end">−4</text>
<text x="234" y="1450.9" font-size="29.0" font-family="DejaVu Sans, Liberation Sans, sans-serif" text-anchor="end">−6</text>
<text x="234" y="1572" font-size="29.0" font-family="DejaVu Sans, Liberation Sans, sans-serif" text-anchor="end">−8</text>
<text x="234" y="1693.1" font-size="29.0" font-family="DejaVu Sans, Liberation Sans, sans-serif" text-anchor="end">−10</text>
<text x="723.7" y="1756.5" font-size="29.0" font-family="DejaVu Sans, Liberation Sans, sans-serif" text-anchor="middle">Time (s)</text>
<text x="0" y="0" font-size="29.0" font-family="DejaVu Sans, Liberation Sans, sans-serif" text-anchor="middle" transform="translate(166.6 1373.2) rotate(-90)">Current density (pA pF<tspan dy="-11" font-size="20.3">−1</tspan><tspan dy="11">)</tspan></text>
<path d="M1391.3 1415.4l1-2.6 1 5.8 1-2.9 1-0.6 1-0.4 1-1.6 1-0.3 1-2.7 1 3.5 1 0.8 1-3.6 1-0.2 1 3.2 0.9 0.2 1 0.2 1-1.2 1 0 1-2.6 1-0.9 1 0.8 1-0.9 1-5.6 1-3 1-1.8 1 6 1-7.1 1 1.8 1-6.6 1 2.9 1-0.8 1-2.4 1 1.1 1-5.1 1-7.8 1 3.6 1-2.7 1-1.6 1-1.5 1 2.5 1-3.9 1-1.5 1 6.7 1-14 1 3.4 1 6.1 1-12.9 1 2.1 1-4 1 0.6 1 0.2 1 1.1 1-3.2 1-0.7 1-9.2 1-2.7 1 9.2 1-1.6 1-3.6 1-3.3 1 2.9 1-1 1-6.4 1-0.9 1 7.3 1-0.3 1-4.5 1-0.9 1-5.3 1 1.7 1 5.2 1-8.4 1-4.7 1 3.8 1-1 1-2.9 1 1.8 1 2.4 1-5.4 1 0.6 1-6.9 1 2.9 1 0.8 1-2.7 1-3.1 1 7.4 1-4.7 1-5.1 1 4 1 0 1-0.9 1-1.6 1 3.6 1-2.9 1-3.6 1-0.3 1-4.6 1-1.1 1-1.6 1-0.8 1-2.7 1 7.2 1-4.9 1-8.4 1-0.7 1 3.1 1-3.1 1 0.5 1 4.1 1-9.6 1 10.5 1-5.5 1-4.6 0.9 12 1-11.3 1 6.9 1-6.1 1 2.6 1-3.4 1-1 1 1.4 1 0.2 1-3.3 1-2 1 4.3 1-6.4 1 3.8 1-11.6 1 5.2 1-1 1-7.2 1 3 1 4.5 1-9.4 1 9.9 1-11.8 1 5.3 1-0.7 1-4.6 1-0.9 1-7.7 1 7.7 1-8.8 1-2.1 1 8.3 1 1.3 1-11.4 1 2.7 1 1.1 1-0.4 1 4.3 1-4.7 1-2 1 1.7 1-3 1-6 1 3 1-0.1 1-1.7 1-3.2 1-5.5 1 6.4 1 0.3 1 4.1 1-10.9 1-4.3 1 7.9 1 5.3 1-8.8 1-0.5 1 3.9 1-7.2 1 1.8 1 8.1 1 2.1 1-10.5 1 3.4 1-6.3 1 3.9 1 0 1-0.2 1-6.1 1 3.2 1-4.1 1-0.8 1-1.2 1-1.7 1-0.7 1-1.5 1-1.9 1 3.1 1-3.9 1 2.4 1-0.4 1-3.6 1 2.9 1-0.1 1-4.2 1 0.4 1 3.2 1-8.7 1 0.9 1 5.9 1-3.9 1-4.5 1 1 1-1.2 1 6.3 1-1.6 1-6.2 1 7.9 1-0.6 0.9-9.5 1-4.4 1 11.9 1-3.9 1-2.6 1-5.3 1 7.9 1 0.2 1 3.6 1-7.2 1-3.4 1 5.7 1-8.6 1-7 1 12.1 1-7.2 1-3.9 1 5.6 1-3.5 1 2.1 1 0.7 1-1.4 1 2.8 1 0.6 1-11.4 1 5.5 1-2.2 1 8.2 1-10 1 5.1 1-1 1-8.5 1-0.7 1 0.5 1-2.4 1 1 1 0.9 1-2.3 1-0.5 1-2.1 1 7.8 1-6.3 1 2.3 1 1.1 1 1.1 1-1.4 1 3.2 1-2 1-5.2 1 4.5 1-2.1 1-11.5 1 8.9 1 3.3 1-12.5 1 21.9 1-10.3 1-10.8 1 15.7 1-10.9 1 10.5 1-7.5 1-4.7 1 4.3 1-3.3 1 0.4 1-0.8 1-0.9 1-8.7 1-0.1 1 8.8 1-5.7 1 5.8 1-8.3 1 3.3 1-0.3 1-1.8 1 5.1 1-10.6 1 16.3 1-9.6 1 1 1-3.6 1 7 1 4.5 1-6.7 1-2.2 1 6.6 1-8.8 1-1.8 1-3.3 1 10.4 1-1.1 1-5.3 1-1.1 1-0.8 1 2.5 1-1.3 1-6.4 1 7.5 0.9 2.9 1 1 1 1 1-10.4 1 10.3 1 2.4 1-9.5 1 1.9 1 5.6 1-3.4 1-3 1-1.8 1-8.9 1 7.3 1-1.3 1 15.7 1-13.2 1-4.7 1 2.4 1 3.8 1 5.5 1-5.6 1-7.1 1-2 1 8.3 1-4.9 1 5.2 1-12.4 1 13.4 1-6.5 1-10.6 1 7.2 1 5.5 1-9.2 1 1.7 1 3.8 1 13.2 1-12.1 1 6.8 1-17.3 1 4.8 1 6.8 1-4.1 1-4.4 1 5.1 1-6.4 1 4.6 1 2.5 1-9.7 1 0.3 1 7 1-7.9 1 7.5 1-6.1 1-2.2 1 6.2 1-7 1 9.3 1-11.3 1 7.1 1 1.4 1 4.5 1-7.5 1 3 1-5.8 1-0.2 1 2.4 1 4.7 1-4.6 1-5 1 6 1 2.1 1-6.7 1 6.3 1-10.5 1 10.8 1-7.1 1 3.4 1-8.4 1 11.2 1-4.5 1-3.2 1 4.1 1-3.8 1 4.8 1-6 1 5.8 1-1.6 1-0.1 1-1.4 1 7 1-10.9 1 4.8 1 2.7 1-9.9 1-0.4 1 1.7 1 6.9 1-6.9 0.9 9.7 1-9.5 1-0.1 1-4.7 1 13.1 1-14.3 1 9.2 1-6.8 1 8.1 1-9.5 1 7.6 1-2 1-2 1-6.1 1 0.8 1-4 1 6.3 1 11.6 1-5.3 1-3.6 1 2.1 1-6.9 1 6 1 7.5 1-7.6 1 0.5 1-6.6 1 6.3 1-3.4 1-11 1 11.6 1-0.2 1 4.3 1-0.5 1-10.8 1-0.8 1 10.8 1-0.9 1 1.4 1 3.7 1-5.5 1-6.6 1 16.3 1-4.4 1-15.5 1 13.8 1-7.4 1 8 1-16.9 1 11.9 1-6.6 1-0.4 1 4.4 1-0.6 1-6.8 1 6.3 1 8.8 1-3.2 1 2.1 1-7.6 1-2.3 1 17.1 1-11.6 1-2.7 1-1.3 1 2 1-3.8 1 7.6 1-13.5 1 3 1 4.9 1-3.3 1 5.3 1-2.9 1 5.7 1-6 1 4.2 1-3.5 1 8.1 1-3.6 1-11.3 1 17.7 1-12 1-5.2 1 12.1 1-13.6 1 17.7 1-1.3 1-13.8 1 9.5 1-6.5 1 7.1 1-4.2 1-3.8 1 1.6 1 3.1 1 4.7 1-9.6 1 8.5 0.9-9.6 1 12 1 0.3 1-8.4 1-0.5 1 8.2 1-3.1 1 2.4 1-13.4 1 14.5 1-16 1 13.8 1-6.6 1 3.5 1-5.5 1-1.5 1 2.3 1 4.7 1 0.1 1-11.9 1 2.4 1 6.7 1 0.8 1-3.8 1 0.7 1 0.4 1 9.3 1-0.6 1-6.5 1-12 1-3.5 1 13.1 1-6.6 1-1.2 1 8.8 1 7.3 1-13 1 1.9 1-1.2 1-11.5 1 12.6 1 7.8 1-11.4 1 4.9 1-7.8 1 6.7 1 2.7 1-7.2 1 0.1 1 8.6 0 75.9 -1-3 -1 2.1 -1 5.6 -1-3.7 -1 8 -1-5.9 -1-6.5 -1 3.5 -1 6.3 -1-7.3 -1-0.8 -1-2.8 -1 2.1 -1 1.1 -1-3.2 -1 3.6 -1-6 -1 13.1 -1-2.7 -1-0.3 -1-8.6 -1 14.7 -1-5.6 -1 14.8 -1-7.5 -1-9 -1 8.3 -1-2 -1-13.8 -1 9 -1 8.6 -1-4.1 -1 1.6 -1-7.9 -1-6.7 -1 15.2 -1-7.9 -1 2.8 -1 2 -1 2.1 -1-5.8 -1 1.7 -1-1.4 -1-8.9 -1 9.5 -1-5.3 -1 1.9 -1 8.3 -1-9.5 -0.9 8 -1-6.8 -1 9.7 -1-9.7 -1 0.2 -1-9.6 -1 8.7 -1 6.2 -1-2.6 -1-3.1 -1-5.4 -1 9.7 -1-6.2 -1-1.6 -1 21.2 -1-25.5 -1 9.6 -1 3.4 -1-4.9 -1-4.3 -1 7.2 -1-3.8 -1 0.9 -1-6.5 -1 11.7 -1-9 -1 18 -1-19.5 -1-0.9 -1 2.2 -1 4.8 -1-5.9 -1 2 -1-2.7 -1 7.8 -1-2.4 -1 2.5 -1 8.7 -1-11.4 -1 0.9 -1-5.7 -1 0.8 -1 6.2 -1-1.8 -1-5.9 -1 10.1 -1 3.1 -1-12.6 -1-2.2 -1 16.1 -1-22.1 -1 12.8 -1 2.7 -1-2.9 -1-1.9 -1-3.7 -1 12.6 -1-10.1 -1 2 -1 6.8 -1-5 -1-3.9 -1-4.1 -1 4.8 -1 1.5 -1 1.7 -1-1.6 -1-1.1 -1 0.5 -1-7.8 -1 8.4 -1 12.2 -1-4.8 -1-6.2 -1 5.4 -1-4.2 -1-5.8 -1-4.3 -1 9.7 -1-14 -1 14.3 -1 5 -1-4.9 -1-7.4 -1 1.7 -1 2.2 -1 3.8 -1-2.5 -1-2.3 -1 3.1 -1 5.4 -1-7.2 -1-1.2 -1 4.4 -1 4.3 -1 1.1 -1-5.4 -1-0.7 -1-6.4 -0.9 2 -1 4.2 -1-2 -1 4.5 -1-5.9 -1 5.2 -1-2.2 -1 6.9 -1-8.6 -1 3 -1 4.8 -1-7.4 -1 12.7 -1-10.7 -1-2.5 -1 7 -1 1.3 -1-6.6 -1-3.8 -1 12.7 -1-5.7 -1-6.5 -1 5.1 -1 0.4 -1-2.1 -1 7.1 -1-5 -1 5 -1 0.8 -1-13.9 -1 2.9 -1 3.9 -1 3.3 -1-0.8 -1 3.2 -1 3.5 -1-4.7 -1 3.7 -1-10 -1 8.5 -1-10.8 -1 16.8 -1-14.4 -1 15.5 -1-10 -1 5.6 -1-3.1 -1-2.9 -1 14.8 -1-13.9 -1 1.7 -1 3.7 -1 3.8 -1-7.2 -1-8.8 -1 10.6 -1-3.4 -1 7.6 -1-7.6 -1 5.3 -1 7.9 -1-13 -1 13.2 -1 2.3 -1-13.5 -1 2.8 -1-1.3 -1-1.7 -1-1.8 -1 8.6 -1 2.2 -1-0.7 -1-9.7 -1 7.8 -1-0.1 -1-8.4 -1 3.3 -1 10.4 -1-11 -1 9.3 -1 6 -1-2.1 -1-6.8 -1 11.1 -1-14.5 -1 10.7 -1-7.8 -1 2.4 -1 6.6 -1-1.8 -1-0.5 -1-4.6 -1 7.7 -1-4.4 -1 7.1 -1-2.8 -1-4.6 -1-4.6 -1 2.5 -0.9-6.7 -1 0.8 -1 4.1 -1 1.3 -1 0 -1-5.4 -1 7.3 -1 3.8 -1-0.1 -1-10.5 -1 10.3 -1-6.9 -1 4.3 -1-4.5 -1 4.8 -1 1.8 -1 6 -1-8 -1 6.6 -1-10.6 -1 17.6 -1-16.6 -1-1.7 -1 4.3 -1 9.1 -1-12.2 -1 4.5 -1 1.3 -1 3.6 -1-3.7 -1-0.5 -1-7 -1 13.8 -1-5.3 -1 1.8 -1-8.2 -1 12.5 -1-10.3 -1 7 -1 1.4 -1-4.7 -1 14.1 -1-20.7 -1 8.7 -1 11.2 -1-7.3 -1-2.9 -1 5.2 -1-12.4 -1 12.9 -1-2.3 -1 1.8 -1-2.1 -1 3.2 -1 4.4 -1 1.2 -1-9 -1 3.5 -1-9.3 -1 10.1 -1-1.7 -1 1.4 -1 2.4 -1 1.2 -1 3.5 -1-8.4 -1-0.4 -1 6.3 -1-11.6 -1 4 -1 13.2 -1-10.9 -1 11.2 -1-11.9 -1 12.2 -1-9.4 -1 11.4 -1-6 -1-0.6 -1-5.8 -1 9.2 -1 1.4 -1-3.8 -1 1.4 -1-3.2 -1 10.1 -1-11.4 -1 3.6 -1 2.3 -1-2.6 -1 0.4 -1 8.1 -1 4.5 -1-13.4 -1 7 -1-1 -1 3.7 -1 1.6 -1-3.5 -1 5.6 -0.9 1.8 -1-2.6 -1-3.2 -1-7.1 -1 6.9 -1 5.7 -1-3 -1-0.7 -1 3 -1-4.5 -1-2.6 -1 5.8 -1 1.3 -1-3.4 -1 9.6 -1-4.8 -1 3.8 -1-3.8 -1-4.8 -1 8.1 -1-4.7 -1 3.6 -1 1.3 -1-3.2 -1 1.8 -1 11.1 -1-0.5 -1-9.1 -1 1.5 -1 6.7 -1-4.5 -1 9.7 -1-8.4 -1 4 -1 0.3 -1 5.6 -1-5.6 -1 3 -1 5.6 -1-8.8 -1 2.2 -1 0.1 -1 0.8 -1-3.5 -1 13.1 -1-6.7 -1-5.5 -1 2.7 -1 3.2 -1 3 -1-3.6 -1-0.3 -1 1.3 -1 2.7 -1 0.5 -1-4.3 -1-3.5 -1 11.7 -1 7.3 -1-3.5 -1-6.5 -1 8.2 -1-3.6 -1 1.3 -1-3.7 -1-0.8 -1 7.6 -1-1.4 -1-4.2 -1 1.3 -1 7.4 -1-9.7 -1 9.6 -1-3.5 -1 6.8 -1-3.4 -1 2.6 -1 8.7 -1-12.5 -1 15.2 -1-8.9 -1-2.8 -1 8.2 -1-0.8 -1-3 -1 7.6 -1-8.2 -1 11.8 -1-1.2 -1-0.3 -1-4.4 -1 9.4 -1-7.7 -1 1.8 -1 0.9 -1 4.7 -1-0.8 -1-0.7 -1 9.8 -0.9-14.4 -1 10.4 -1-1.9 -1-7.7 -1 7 -1-2.2 -1 3.2 -1-2.1 -1-3.3 -1-1.7 -1 9.7 -1 4.8 -1-5.6 -1-0.6 -1 2.5 -1 4.5 -1-1 -1 1.3 -1 2.4 -1 3.9 -1 4.6 -1-7.7 -1 2.2 -1-4.2 -1 10.6 -1-10.2 -1 3.4 -1 8.2 -1-11.8 -1 5.4 -1 5.4 -1-1.4 -1-2.1 -1 8.2 -1-4.7 -1 7.5 -1-6.1 -1 1.4 -1 3.3 -1 0.7 -1-2.3 -1 1 -1 8.7 -1-4 -1-0.3 -1 1.8 -1 5.1 -1 3.2 -1 0.2 -1-7.7 -1-0.6 -1 7.2 -1 2.3 -1-4 -1 1.5 -1 4 -1 0.5 -1-4.3 -1 0.1 -1 8.4 -1 2.9 -1 4.4 -1-4.2 -1-1.8 -1 4.6 -1 3.1 -1-4 -1 13.5 -1-9.1 -1 2.5 -1 9.1 -1-4.2 -1-2.9 -1 5.7 -1-3.1 -1 3.2 -1-2.7 -1 5.7 -1-3.2 -1 3.9 -1 9.1 -1 0.8 -1 1.8 -1-0.4 -1-2 -1 5.9 -1-2 -1 2.5 -1-2 -1-0.4 -1 7.2 -1 4.6 -1-2 -1 1.7 -1 1.3 -1 2.4 -1 1.2 -1 1.8 -1-2.2 -0.9-4.3 -1-1.1 -1 5.1 -1 1.8 -1-5 -1-2 -1 3.1 -1 1.6 -1 2.1 -1-3.9 -1 1.8 -1 4.3 -1-6.4 -1-0.1z" fill="#5ab9a4" fill-opacity="0.22" stroke="#5ab9a4" stroke-opacity="0.22" stroke-width="2.5" stroke-linejoin="round"/>
<path d="M1391.3 1232.2l1-7.1 1-8.6 1 18.3 1-5.8 1-4.5 1 1.7 1-5.2 1-8.8 1 28.1 1-15.9 1 9.3 1-17 1 7.3 0.9-2.6 1-6.9 1 14.5 1-3.3 1-2.8 1 0.5 1-1.3 1-0.9 1 0.7 1 4.2 1 1.1 1-6.5 1-3.9 1 9.3 1-4.4 1-7.2 1 8.1 1-2.6 1-6 1 0.8 1-1.7 1-5.2 1 20.6 1-7 1-7.8 1 1.3 1-0.5 1 9.3 1-3.8 1-7.7 1-6.6 1 15 1-2.9 1-7.1 1-0.5 1 4.2 1 4.1 1-6.3 1 16.2 1-5.4 1 3.9 1 1.7 1-9.1 1 1 1-5.9 1-8.2 1 14.1 1-5 1 6.8 1-4.2 1-0.6 1-1.3 1 1.5 1 9.3 1-7.5 1-3.6 1 3.1 1-9.9 1 10.5 1-7.7 1 14.6 1-7.8 1-1.7 1-3.6 1 8.8 1-18.6 1 16.1 1-7.9 1 8.8 1-13.3 1 5.7 1-0.7 1 11.1 1-13 1 5.4 1-4 1-5.5 1 14.4 1-10.6 1 0.9 1 7.7 1-4.2 1 5 1-7.8 1 9.1 1-11.1 1 2.8 1 11.8 1-12.6 1 9.6 1-4.9 1-13.6 1 5.2 1 14.9 1-8.6 1-3.6 1 0.3 1 4.8 1 1.3 0.9-4.4 1 3.4 1-11.3 1 9.2 1 1.5 1-4.7 1 9.4 1-13.3 1 9.8 1-4.6 1-2.2 1-4.9 1 2.9 1 2.3 1 4.8 1-7.1 1 3.6 1-0.3 1 0.6 1-7.6 1 8.4 1-0.9 1 1.6 1-4.1 1 2.9 1-7.2 1 3.7 1 1.3 1-4.2 1 0.2 1 5.7 1-6.7 1 8 1-2.6 1 0.7 1-4.6 1 10 1-10.4 1 6.4 1-3.6 1-9 1 11.5 1-9.4 1 1.8 1 3.7 1-1.4 1 4.1 1-1.4 1-2.1 1 3.7 1-6.7 1 0.3 1 3.2 1 2 1-4.9 1 7 1-7.4 1-6.1 1 12.8 1-2.6 1 0.1 1-8.4 1 0.5 1 10.9 1-6.5 1 4.4 1-2.3 1-4.3 1 2.2 1-1 1-1.4 1-6.8 1 3 1-1.8 1 8.7 1 3 1-7.3 1 2.8 1-12.5 1 1.9 1 6.4 1-3.6 1-0.8 1 7.8 1-8 1 1.4 1 1.3 1 3.2 1-2.2 1-2.7 1 5.1 1 0 1-9.7 1 12.9 1-13.1 1 5.8 1-3 1-4.4 1 14.6 0.9-2.6 1-11.5 1 3.3 1 0.6 1-1.9 1-5.5 1 4.6 1-2.1 1 3 1 1.6 1-7 1 4.1 1 2.6 1-7.9 1 6.5 1-3.1 1 0.7 1-3.3 1 2.1 1-2 1 0.8 1 1.2 1 1.5 1-2.4 1 7.5 1-6.2 1-4.7 1 0.7 1 4.9 1-2 1 4.5 1-9.6 1-10.5 1 13 1 2.2 1-2.2 1 0.5 1 0.9 1-7.8 1 3.3 1-1.1 1 0.2 1-4.3 1-2.1 1 8.4 1 0.1 1 3.4 1-6.5 1-8.5 1 11.6 1-3.8 1-3 1-0.6 1 0.3 1-3.4 1 9.9 1-7.7 1 0.6 1 4.9 1-3 1 4 1-7.5 1 3.2 1-4.3 1-0.5 1 2.5 1 2.7 1 2.3 1-7.4 1-3.4 1 12.2 1-4.8 1-5.7 1 8.1 1-5.5 1-3.2 1 0.6 1 1.8 1-2.8 1 4.4 1 3.3 1-3.3 1-5.5 1 4.7 1-13.5 1 7.4 1 12 1-18.8 1 3.4 1 7.4 1-9.6 1 0.6 1 3.4 1 1 1-1.8 1-0.7 1-0.4 1-0.3 1-2.9 1 1.2 0.9-7.9 1 9.2 1-1.9 1-8.6 1 3.6 1 2.9 1 1.4 1-6.1 1 2.1 1-6.3 1 7.2 1 0.8 1 4.6 1 0.5 1-5.3 1-6 1-12.4 1 12.9 1-5 1 3 1-2.5 1 14.1 1-14.7 1-6.7 1-2.8 1 7.7 1 2.8 1 1.7 1 1.7 1-0.9 1 6.5 1-10.7 1 6.7 1-4.9 1-13.9 1 9.2 1 4.3 1-6 1 14.1 1-15.1 1 3.6 1 0.8 1-4.8 1-9.7 1 17.4 1 5.7 1-26.1 1 14.7 1-9.9 1 3.8 1-3.1 1 8.3 1-8.8 1 7.5 1-0.7 1-8.4 1 7 1 12.8 1-17.2 1 3.7 1 8.2 1-9.6 1 3.2 1-7.2 1 8.9 1 2.1 1-4.9 1-8.3 1 12.4 1-12.9 1 3 1 7.6 1-14.4 1 12.6 1 2 1 5 1-7.8 1-12.7 1 6.2 1-2.5 1 15.4 1-2.5 1-8.7 1-14.9 1 14.2 1-12 1 16.3 1-11.7 1 2 1 5.8 1 11.4 1-11.9 1-15.4 1 2.8 1 4.6 1 12.9 1-15.4 1 0.8 1 5.3 0.9-6.3 1 7.9 1 1.6 1-13.4 1 14.5 1-18.7 1 9.7 1-1 1 3.6 1 0.2 1-0.6 1 7.2 1 1.1 1-14.2 1 5.2 1 8 1 5.8 1-9.2 1-6.1 1-8.6 1 17.5 1-12.1 1 5 1-0.5 1-1.5 1-9.4 1 9.1 1-12.5 1 13.3 1 1.6 1-1.2 1-1.4 1-4.5 1 8.6 1-17.2 1 6.8 1 4.1 1-4.7 1-3.4 1 8.6 1-8.6 1 8.4 1-9.7 1 7.8 1 8.1 1-4 1-19.7 1 12.9 1 0.2 1 1.3 1-1.8 1-12.5 1 23.1 1-13.9 1 2.3 1 7.6 1-5.9 1 5.9 1-7.3 1 6.9 1-14.3 1 11.2 1-13.5 1-0.5 1-2.8 1 14.6 1 8.7 1-29.1 1 9.9 1 10.4 1-18.1 1 19.3 1-14.8 1 10 1-5.9 1 2.1 1 0.6 1-16.4 1 14.3 1 14.7 1-14.1 1-6.7 1 16.4 1-7.7 1-5.3 1 4.9 1-1.2 1-10.7 1 12.9 1-20.1 1 18.1 1 5.8 1-20 1-11 1 23.2 1 4.4 1 4.3 1-15.7 1 9.4 0.9 5.1 1-10.6 1-7.2 1 3.4 1-2.7 1 5.6 1-1.7 1 7.4 1-9.5 1-2.1 1 8.1 1-7.6 1 11.2 1-8.1 1-6.4 1 7.7 1 15.4 1-25.1 1 9.8 1 6.2 1 5.5 1-3.2 1 8.9 1-12 1 13.2 1-17.1 1 1.5 1-6.1 1 10.4 1-3.3 1 3.6 1-2.7 1 6.7 1-11.7 1 7.6 1 5.3 1-11.5 1 7.1 1 2.1 1-7.8 1-6.9 1 12.7 1 11.6 1-7.4 1-20.4 1 18.8 1-12.6 1 10.9 1-12.9 1 12.1 0 109.8 -1 0.7 -1-2 -1-3.6 -1 8 -1-4.4 -1 16.4 -1-10.3 -1 5.1 -1-5.7 -1 1.9 -1-11.6 -1 8.4 -1 12.3 -1-11.8 -1 13 -1-10.5 -1-22.5 -1 19.1 -1 6.3 -1 5.9 -1-17 -1 14.6 -1-6.8 -1-7.2 -1 8.3 -1 7.9 -1-15.6 -1-2.2 -1 2.1 -1-0.6 -1 15.9 -1-15.1 -1-1.1 -1 8.3 -1-17 -1 10.8 -1 1.9 -1 4.4 -1 1.8 -1-16.5 -1 3.6 -1 5.3 -1 7.4 -1-8.1 -1-1 -1 4.2 -1-4.5 -1 12.7 -1-22.9 -0.9 12.6 -1 1 -1 8.6 -1-7.5 -1 14 -1-16.7 -1-9.7 -1 16.8 -1 5.5 -1-20 -1 17.3 -1-20.3 -1 17.1 -1-1.7 -1-1.5 -1 6.6 -1-19 -1-1.1 -1 18.4 -1-18.2 -1 6.8 -1-13 -1 16.2 -1-3.1 -1 2.4 -1-16.2 -1 4.2 -1 14 -1 11.9 -1-11.4 -1-7.3 -1-15.4 -1 14.1 -1 6.5 -1-7.2 -1 10 -1-2 -1-14 -1 29.6 -1-1.3 -1-5.3 -1-4.7 -1-7.2 -1 14 -1-8.6 -1-8.7 -1 13.6 -1-12.8 -1 11.4 -1 1.1 -1 6.8 -1-14.4 -1 3.1 -1-7.1 -1 7.6 -1 7 -1-11.3 -1 13.5 -1-5.1 -1-3.4 -1 14.3 -1-19.1 -1 15 -1-13.2 -1 1.3 -1 3.5 -1 1.9 -1 1 -1-7.7 -1 11.4 -1 1.4 -1-22 -1 16.2 -1-2.9 -1 0.1 -1 0.7 -1 7.5 -1-14.7 -1 5.1 -1 1.1 -1-4.4 -1 19.2 -1-6.7 -1-12.4 -1 1.3 -1 1.1 -1 2 -1-8.9 -1 4.8 -1-5.3 -1 0.8 -1 13.1 -1-2.9 -1-10.9 -1 7.1 -1-12 -1 10.9 -1 1.8 -1-1.7 -0.9 7.6 -1-11.5 -1 0.1 -1 7.8 -1-14.3 -1 14.9 -1-10.4 -1 18.7 -1-10.3 -1 2.5 -1 12.7 -1-18.6 -1-3.3 -1-1.9 -1 12.6 -1-10.4 -1 5.5 -1 5.9 -1-12.2 -1 15.1 -1-5.9 -1-1.4 -1-2.5 -1 9.5 -1-1.1 -1-1.7 -1-9.9 -1 5.8 -1 5.7 -1-4.6 -1-6.8 -1 3.6 -1-7.5 -1 7.5 -1-4.2 -1 11.1 -1 10.3 -1-9.3 -1 3.2 -1-2.5 -1 2.3 -1-14.7 -1 9.7 -1-7.2 -1 6.4 -1 0.8 -1 2.1 -1-2.5 -1-3.6 -1-5.3 -1 7.6 -1 9.7 -1-2.2 -1-5.2 -1 1.9 -1-8.3 -1 14.1 -1-8.7 -1 8.5 -1 4.7 -1-3 -1-2.8 -1-12.9 -1 2.2 -1-1.4 -1 3.8 -1-0.8 -1 0.2 -1 14.7 -1-7.5 -1-6.4 -1 2.9 -1 1.3 -1 0.4 -1-10.8 -1 5.2 -1-0.8 -1 4.2 -1-4.7 -1 8.6 -1-6.8 -1 10.6 -1-12.9 -1 10.4 -1-2.3 -1-3.6 -1 10 -1-15.5 -1 0.9 -1-3.2 -1 10.1 -1-3.5 -1-10.7 -1 2 -1 15 -1-15.1 -1 7.9 -1-2.5 -1 10.8 -0.9-15 -1 8.5 -1-7.2 -1 5.7 -1 1 -1 0.3 -1-6.3 -1 2.9 -1 3.4 -1-2.7 -1 16.2 -1-19.8 -1 8.8 -1 2.3 -1-0.3 -1-6.5 -1 5 -1-8.7 -1 4 -1 4.9 -1-1 -1 0.1 -1-3.6 -1-6.8 -1 7.7 -1-0.9 -1-1 -1-2.9 -1 7.7 -1-9.2 -1 6.9 -1 5.9 -1-1.7 -1-5.1 -1 3.4 -1-6 -1-5 -1-2.8 -1 10.4 -1 8.4 -1-14.1 -1 11 -1-11.6 -1 8.2 -1 0.5 -1 3.8 -1-9.4 -1-4.4 -1 6.8 -1 2.1 -1 3.2 -1-15.5 -1 7.4 -1 6.5 -1-9.1 -1 7.2 -1-2.9 -1 0.7 -1-0.3 -1-5.1 -1 8.5 -1-2.6 -1 8 -1-7.6 -1 1.9 -1-1.1 -1 1.2 -1-12.5 -1 12.7 -1 8.1 -1-5.4 -1 4.6 -1-11.7 -1 3.1 -1 3.3 -1 4.4 -1-3.5 -1-5.3 -1 0.7 -1-0.6 -1 2.7 -1-5.2 -1 0.3 -1 0 -1 4 -1 1.9 -1-7.2 -1 8.3 -1-6.8 -1 6.4 -1-3.8 -1 0.7 -1-1 -1-0.1 -1-4.2 -1 4.9 -1 2.2 -1-0.8 -1-4.2 -1 12.2 -0.9 0.1 -1-10.5 -1 4.9 -1 1.4 -1-6.5 -1 14.5 -1-9.1 -1 7.9 -1 1.4 -1-8.3 -1 5.3 -1 2.3 -1-4.8 -1-2.1 -1 2.1 -1-1.9 -1-2.1 -1-0.8 -1 9.9 -1-8.4 -1-5.4 -1 12.7 -1 1.8 -1 6 -1-4.7 -1-7.1 -1-1 -1-4.4 -1 15.2 -1-7.2 -1 0.7 -1 1.1 -1 0.9 -1 4.1 -1-2.9 -1 4.5 -1-4.1 -1-7.8 -1 11 -1 0.5 -1 7.6 -1-19.8 -1 3.3 -1 8.6 -1-2.6 -1 9.9 -1-13.8 -1 5.3 -1-3.2 -1 4.4 -1-1.1 -1-2.4 -1 9 -1-8.7 -1 4.8 -1 2.8 -1-6.4 -1 9.1 -1-16.7 -1 5.9 -1 7.8 -1 1.4 -1-1.5 -1-3.8 -1 4.2 -1-0.2 -1 2.9 -1-3.8 -1 5.8 -1-4.8 -1-1 -1 4.5 -1 1.5 -1-8.4 -1 8 -1-1.4 -1 2.7 -1-2.3 -1 6.1 -1-3.6 -1-2.9 -1-0.1 -1 1 -1-0.6 -1 3.1 -1 2.7 -1-0.1 -1-1.8 -1-0.5 -1 5.4 -1-4.6 -1 9 -1-2.1 -1 2.5 -1-2 -1 5.7 -1-10.6 -1 5.2 -1-1.5 -0.9 7.1 -1-0.1 -1-1.4 -1-2.1 -1-3.9 -1 12.6 -1-5.2 -1-1.9 -1-3 -1 8 -1-0.3 -1 6.3 -1-5.8 -1 4.3 -1-3 -1 1.7 -1-0.2 -1-4.8 -1 14.6 -1-7.7 -1-9.1 -1 19.4 -1-21.2 -1 11 -1-0.5 -1-3.2 -1 8.1 -1-3.6 -1 1 -1-7.8 -1 8.1 -1 6.2 -1 4.8 -1-5.1 -1-5.2 -1 4.4 -1-1.3 -1-2.9 -1 5 -1-2.3 -1 2.8 -1 4.7 -1-10.2 -1 15.3 -1-13.4 -1 10.1 -1-4.3 -1-3.1 -1 7.4 -1-4.1 -1-2.7 -1 7.7 -1-0.3 -1-6.5 -1 1.4 -1-7.6 -1 6.8 -1 9 -1-5.2 -1 10.8 -1-1.9 -1-3.8 -1 6.9 -1-14.1 -1-0.1 -1-3.3 -1 14.1 -1-2.5 -1-11 -1 7.3 -1 7.4 -1-5.8 -1 6.6 -1-6.9 -1 1.7 -1 2.7 -1 17.4 -1-19.2 -1-0.5 -1 12.6 -1-9.9 -1 10.8 -1 7.3 -1-8.5 -1-2.1 -1-9.6 -1-7.1 -1 3.8 -1 13.3 -1 3.5 -1 3.1 -1-3.3 -1 1.7 -1 3.5 -1-2.6 -1 1.1 -1-6 -1 3.6 -1 6.8 -0.9 2.5 -1-17.7 -1 18.2 -1-19.3 -1 10.2 -1-8.2 -1 9.9 -1 2.7 -1 16.1 -1-11.4 -1 0.4 -1-8 -1-3.1 -1 14.9z" fill="#ee6a8b" fill-opacity="0.22" stroke="#ee6a8b" stroke-opacity="0.22" stroke-width="2.5" stroke-linejoin="round"/>
<path d="M1391.3 1424.9l0.4-0.2 0.4 1.6 0.4 1.2 0.4 2.1 0.4-1.7 0.4-0.1 0.4 2.7 0.4-7.9 0.4 6.2 0.4-4.5 0.4-0.2 0.4 1.3 0.4-7.2 0.4 5.2 0.4 1.7 0.4-3.8 0.3 4.3 0.4 1.4 0.4-0.3 0.4 0.6 0.4-1.3 0.4-1.2 0.4 3.6 0.4-4.1 0.4-2.8 0.4 5.4 0.4-1.1 0.4-1.9 0.4-1.1 0.4 4.1 0.4-0.4 0.4-0.6 0.4-3.9 0.4 0.5 0.4 5.6 0.4-0.7 0.4-1.5 0.4 0.8 0.4-3.7 0.4 0.4 0.4-3.7 0.4 2 0.4 1.4 0.4-2.6 0.4 3.2 0.4-0.1 0.4-3 0.4-2.8 0.4 3.9 0.4-5.5 0.4-0.1 0.4 2.9 0.4-1.8 0.4 0.9 0.4-1.3 0.4-1.7 0.4 2.4 0.4-4.1 0.4-0.2 0.4-0.7 0.4 4.4 0.4 0.6 0.4-5.8 0.4 0.8 0.4-1.2 0.4-0.5 0.4 0.5 0.4-3.9 0.4 0.3 0.4-0.6 0.4-1.8 0.4 2.8 0.4-4.8 0.4 5.9 0.4-9.6 0.4 7.3 0.4-4.9 0.4-1.7 0.4 1.3 0.4-2.3 0.4 1.1 0.4 2.7 0.4-4.3 0.4-2.2 0.4 1.7 0.4 1.3 0.4-2.9 0.4-3.9 0.4-1.5 0.4-1.8 0.4 0.5 0.4-1.2 0.4 3.8 0.4-7.4 0.4 4.7 0.4-2.5 0.4 1.2 0.4-0.3 0.4-1.4 0.4-4.6 0.4-0.3 0.4 1.7 0.4-2.7 0.4 3.4 0.4-1.8 0.4 2.1 0.4-4.5 0.4 1.8 0.4-2.7 0.4-1 0.4 7.6 0.4-8.5 0.4 2.6 0.4 0.6 0.4 3.6 0.4-3.6 0.4 2.5 0.4-4.5 0.4 1.1 0.4-3.8 0.4 3.7 0.4-4.3 0.4-0.7 0.4-2.7 0.4 2.4 0.4-2.7 0.4 4 0.4-0.7 0.4-1.5 0.4-1.1 0.4 2.3 0.4-1.8 0.4-2.8 0.4 1.2 0.4-1.1 0.4 1.3 0.3-4.3 0.4-1.5 0.4 2.6 0.4 0.2 0.4-4 0.4 1.3 0.4 2 0.4 0.7 0.4-1.6 0.4-5.4 0.4 4.7 0.4-7.4 0.4 5.3 0.4 0.1 0.4-4.1 0.4 2.8 0.4-1.5 0.4 2.9 0.4 0 0.4-1.6 0.4-0.9 0.4 1.2 0.4 1.1 0.4-5.4 0.4-0.1 0.4 0 0.4-1.2 0.4 2.9 0.4-7 0.4 3.9 0.4-0.4 0.4-2.6 0.4 0.1 0.4 0.8 0.4 0.3 0.4-1.3 0.4-3.2 0.4 1.6 0.4 2.5 0.4-1.7 0.4-0.4 0.4-0.7 0.4 1 0.4-4.2 0.4 1.9 0.4-1.1 0.4 1.4 0.4 1.3 0.4 0.3 0.4-1.2 0.4-1.9 0.4-2.5 0.4 1.2 0.4-0.6 0.4-1.5 0.4-4.3 0.4 1.3 0.4 0.2 0.4-2.5 0.4 3.2 0.4-2.1 0.4 1.3 0.4 0.3 0.4 2.3 0.4-4.3 0.4-0.8 0.4 4.8 0.4-3.5 0.4-1.6 0.4-3.7 0.4 4.9 0.4 0.5 0.4-2.3 0.4-5.1 0.4 3.4 0.4-0.4 0.4-2.4 0.4 7 0.4 0.1 0.4-4.8 0.4-1.1 0.4 2.9 0.4-4.9 0.4 0.2 0.4-1.2 0.4 0.9 0.4-0.7 0.4 1.1 0.4-1.2 0.4 1 0.4-3 0.4 1.1 0.4 4.2 0.4-4.3 0.4-2.7 0.4 2 0.4-3 0.4 1.1 0.4-1.8 0.4 3.3 0.4-4.3 0.4 3.7 0.4-4.3 0.4 6.7 0.4 0.8 0.4-5.4 0.4 1.7 0.4-1.1 0.4-0.3 0.4 0.3 0.4 1 0.4-2.1 0.4-1.3 0.4-0.4 0.4-3.7 0.4 4.6 0.4-1.1 0.4-1.7 0.4 3 0.4 0.4 0.3-1.8 0.4-3.5 0.4 2.1 0.4-1.5 0.4 1 0.4-2.2 0.4 2.5 0.4-0.1 0.4-2.4 0.4-0.4 0.4-2.7 0.4 5.5 0.4-4.5 0.4-2.1 0.4 1.4 0.4 3.3 0.4-0.2 0.4-0.4 0.4-1.6 0.4-0.6 0.4-1.5 0.4-0.9 0.4 3 0.4-0.6 0.4-0.5 0.4 0.7 0.4-3.3 0.4-1.1 0.4-3.9 0.4 3.6 0.4 0.2 0.4-2.7 0.4 3.9 0.4-2.2 0.4-2.7 0.4-0.2 0.4 1 0.4-0.1 0.4 1.4 0.4-2.3 0.4 1.2 0.4-2.2 0.4 0.8 0.4-0.5 0.4 4.3 0.4-4.4 0.4 2.9 0.4 1.7 0.4 0.2 0.4-2.5 0.4-3.6 0.4-0.3 0.4 3.8 0.4-3.5 0.4 0.3 0.4 2.3 0.4-1.9 0.4 1 0.4-3 0.4 2.3 0.4-4.9 0.4-0.4 0.4-0.5 0.4 0 0.4-3.8 0.4 4.1 0.4-1.6 0.4-0.9 0.4-1.4 0.4 0.9 0.4 1.2 0.4-0.1 0.4-0.8 0.4-0.6 0.4-0.6 0.4-1.1 0.4-2.6 0.4 1.3 0.4-4.1 0.4 0.1 0.4 2.3 0.4-2.9 0.4 6.5 0.4-8.3 0.4 1.4 0.4 0.4 0.4 4 0.4-7.1 0.4 5 0.4-0.1 0.4-2.9 0.4 1.2 0.4 1.1 0.4-4.9 0.4 3.1 0.4-4.3 0.4 1.6 0.4-1.5 0.4 3.4 0.4-5.2 0.4 0.5 0.4-3.4 0.4 4.2 0.4-6 0.4 2 0.4 0.1 0.4 3.4 0.4-2.8 0.4-0.9 0.4 3.6 0.4 0.4 0.4-1.9 0.4-5.1 0.4 2.2 0.4-1.6 0.4 0.8 0.4-0.5 0.4 0.6 0.4 1.5 0.4-2.9 0.4 2 0.3-0.4 0.4 3.1 0.4-3.4 0.4 1.7 0.4-0.8 0.4-3.2 0.4 4 0.4-1.9 0.4-2.3 0.4-1.7 0.4 2.8 0.4-1.9 0.4-0.5 0.4 1.6 0.4 1.5 0.4 0.3 0.4-4.9 0.4 0.8 0.4 2.6 0.4 0 0.4-0.3 0.4-0.2 0.4-0.6 0.4-5.3 0.4 4.8 0.4-2.3 0.4 1.9 0.4-0.7 0.4 0.8 0.4-0.4 0.4 0.9 0.4-1.8 0.4-0.7 0.4 1.4 0.4-6 0.4 4.3 0.4-3.5 0.4-4.1 0.4 4.7 0.4-4.6 0.4-0.3 0.4 2.4 0.4 4.3 0.4-5.7 0.4 2.2 0.4 0.9 0.4-3.4 0.4 3.4 0.4-3.1 0.4 1.7 0.4-1.4 0.4 3.5 0.4-2.6 0.4 0.9 0.4-1.2 0.4-1.8 0.4 0.5 0.4-1.4 0.4-1.8 0.4 2 0.4 2.6 0.4-3.1 0.4-0.7 0.4-2.4 0.4-0.3 0.4-0.5 0.4 2.5 0.4-1.5 0.4 3.3 0.4-5 0.4 1.4 0.4 0.2 0.4 1.8 0.4-1 0.4 0.8 0.4-2 0.4 3.9 0.4-4.6 0.4 0.2 0.4-4.1 0.4 3.8 0.4-1.2 0.4-1.9 0.4 0 0.4-0.2 0.4 2.4 0.4-0.5 0.4 0.5 0.4-0.9 0.4 2.1 0.4-0.5 0.4-0.8 0.4-2.2 0.4 0.3 0.4-1.6 0.4-1.4 0.4 0.1 0.4 0.7 0.4-0.6 0.4 2.9 0.4-2.5 0.4-2.6 0.4 2.5 0.4-4.8 0.4 0 0.4 3.1 0.4-3.5 0.4 4.6 0.4-1.8 0.4-1.9 0.4 0 0.4-0.3 0.4 1.6 0.4-6 0.4 4 0.4 0.1 0.4-1.4 0.4 1.2 0.4 1.1 0.4 0.6 0.3 0.7 0.4-6.1 0.4 3.2 0.4 1.2 0.4-1.4 0.4 1.5 0.4-7 0.4 3.5 0.4-1 0.4-0.8 0.4 0.4 0.4 0.3 0.4 3 0.4-1.4 0.4-0.6 0.4-1.8 0.4 1.6 0.4-4.6 0.4 0.7 0.4 0.7 0.4 3.6 0.4-3.9 0.4 0 0.4 1.5 0.4 2.3 0.4-3.7 0.4-0.8 0.4 4.7 0.4-5.6 0.4 3.7 0.4-4 0.4-2.3 0.4 2.4 0.4-1.2 0.4 1.6 0.4-0.1 0.4-4.4 0.4 1 0.4 2.6 0.4 1.1 0.4-0.9 0.4-4.9 0.4 2.6 0.4-1.8 0.4 2.6 0.4 0.3 0.4-5.3 0.4 3.4 0.4 1.8 0.4-0.8 0.4-1.1 0.4 0.5 0.4 1.2 0.4-5.7 0.4 0.8 0.4-1.1 0.4 2.8 0.4-1.3 0.4 0.5 0.4-2.1 0.4 2.6 0.4 0.4 0.4 1.8 0.4 0.5 0.4-1 0.4-0.6 0.4-2.1 0.4 2.1 0.4-5.7 0.4 2.3 0.4 3.9 0.4-1.3 0.4 0.5 0.4-3.2 0.4-1.8 0.4 3.1 0.4-3.5 0.4 1 0.4-2.7 0.4-0.9 0.4 1.8 0.4-0.1 0.4 1.8 0.4 1.5 0.4 1.4 0.4-2.9 0.4 1 0.4-0.4 0.4-0.4 0.4-0.5 0.4 0.8 0.4-1 0.4-3.5 0.4 2.9 0.4-3.8 0.4 4.3 0.4 0.1 0.4-4 0.4-1 0.4 2.7 0.4-3 0.4-1 0.4 0.4 0.4 2.9 0.4-1.1 0.4 3.2 0.4-3 0.4-0.9 0.4-2.4 0.4 4.4 0.4-0.9 0.4-0.7 0.4-4 0.4 7 0.4-3.5 0.4-6 0.4 2.3 0.4 4.4 0.4-2.5 0.4-2.7 0.3 1.3 0.4 1 0.4 1.6 0.4-3 0.4 1.6 0.4-1.3 0.4 0 0.4 2.1 0.4-4.1 0.4 2.6 0.4-1.7 0.4 1.2 0.4-1.1 0.4 0.1 0.4 0.4 0.4-1.7 0.4-2.2 0.4-1.3 0.4 0.3 0.4 2.1 0.4-2.2 0.4 1.9 0.4-2.6 0.4 6.1 0.4-4.7 0.4 4.2 0.4-4.7 0.4 2.9 0.4-2.8 0.4 1.6 0.4 2.6 0.4-2.5 0.4-1.1 0.4-0.5 0.4 4 0.4-0.8 0.4 0 0.4-1.1 0.4-0.5 0.4 0.9 0.4 0.4 0.4-3.9 0.4 0.3 0.4-3.3 0.4 2.7 0.4-1.7 0.4 3.5 0.4-2.7 0.4 0.4 0.4 0.5 0.4 1.7 0.4-1.1 0.4 0.8 0.4-1.2 0.4-1.9 0.4-4.7 0.4 5.9 0.4-1.8 0.4 1.5 0.4-1.9 0.4 0.8 0.4-0.3 0.4 0.5 0.4-4.2 0.4 1.7 0.4 4.7 0.4-3.7 0.4 0 0.4 4.1 0.4-2.5 0.4-0.8 0.4 0.6 0.4-1.7 0.4 3.2 0.4-3.7 0.4-0.2 0.4 0.6 0.4 2.2 0.4-0.3 0.4 1.5 0.4-3.8 0.4 0.6 0.4-2 0.4 3.3 0.4-3.2 0.4 2.8 0.4-0.6 0.4 1.8 0.4-4.2 0.4 1.5 0.4-1.2 0.4-1.7 0.4 1.9 0.4-0.1 0.4-1.3 0.4 1.2 0.4 1.1 0.4-2.4 0.4 0.1 0.4-2.1 0.4-0.8 0.4 2.9 0.4-2.9 0.4-0.6 0.4 3.6 0.4-1 0.4 2.5 0.4-1.4 0.4-3 0.4 2 0.4 1 0.4-2.1 0.4 0.1 0.4-2 0.4 3.5 0.4 0.3 0.4-0.7 0.4 2.4 0.4-5.2 0.4 5.2 0.3-1.9 0.4-0.7 0.4-1.7 0.4-2.8 0.4 0.4 0.4-0.6 0.4 1 0.4 5.3 0.4-4.4 0.4 4 0.4-2.4 0.4 0.2 0.4 0.5 0.4-1.1 0.4 1.5 0.4-4.8 0.4 1.3 0.4-0.9 0.4 1.4 0.4-0.5 0.4 2.2 0.4-4 0.4 5.5 0.4-3.9 0.4-0.7 0.4-0.3 0.4-1.2 0.4 2.6 0.4-2.9 0.4 0.8 0.4 2.2 0.4-1.2 0.4 3.2 0.4 0.6 0.4-1.7 0.4-1.5 0.4-5.5 0.4 5.2 0.4-2 0.4 1.2 0.4-2.2 0.4 3.5 0.4-0.3 0.4 1.2 0.4 0.9 0.4 0 0.4-0.9 0.4-3.5 0.4 1 0.4 0.8 0.4-0.5 0.4 1.3 0.4-0.4 0.4-1 0.4-0.5 0.4 0.4 0.4 4.1 0.4-3.4 0.4-3.3 0.4 4.7 0.4-2 0.4-2 0.4-0.6 0.4 0.7 0.4 1.8 0.4-1 0.4-0.9 0.4 1.4 0.4-3.1 0.4 3 0.4 2.3 0.4-0.4 0.4-1.7 0.4-0.7 0.4-1.9 0.4-0.8 0.4-2 0.4 1.1 0.4-1.1 0.4 4.8 0.4-1 0.4-1.4 0.4 0.4 0.4-0.9 0.4 0.1 0.4 2.4 0.4-3.9 0.4-0.5 0.4 5.3 0.4-1.4 0.4-1.3 0.4-3.2 0.4 1.2 0.4 3.6 0.4-4 0.4 1.8 0.4-1.6 0.4 3.1 0.4-1.4 0.4-0.1 0.4-0.7 0.4 2.3 0.4-2.7 0.4 0.7 0.4 2.6 0.4-1.4 0.4 0.1 0.4-1.6 0.4-1.1 0.4 3.6 0.4-3.7 0.4 0.7 0.4 1.7 0.4-3.4 0.4 3.4 0.4 0.7 0.4-3.5 0.4-0.3 0.4 2.5 0.4-3.2 0.3-0.1 0.4 2.5 0.4-4 0.4 4 0.4-0.6 0.4 5.1 0.4-6.1 0.4 2.4 0.4-2.8 0.4 4.1 0.4-5.5 0.4-1.7 0.4-0.9 0.4 8.3 0.4-6 0.4 0.3 0.4 7.1 0.4-3.6 0.4-0.7 0.4-2.5 0.4 4.6 0.4-1.8 0.4-0.5 0.4-1.1 0.4 1.5 0.4-2.2 0.4-2.3 0.4 3.5 0.4-4.7 0.4 4.7 0.4-1.3 0.4-3.1 0.4 2.8 0.4-0.9 0.4-0.8 0.4-1 0.4 1.2 0.4 1.6 0.4-4.1 0.4 0.1 0.4 1.3 0.4 0.3 0.4-1.9 0.4 0.3 0.4 3.7 0.4-3.4 0.4-1.1 0.4 0.5 0.4 3.3 0.4 0.2 0.4-2.3 0.4 1.8 0.4 0 0.4-2.6 0.4 0.7 0.4-3.4 0.4 2.6 0.4-2.7 0.4 1.1 0.4-2.6 0.4 4.7 0.4-0.3 0.4-3.7 0.4 2.2 0.4-0.4 0.4-0.8 0.4-0.4 0.4 4.4 0.4-2.7 0.4 1.5 0.4-0.8 0.4-1.1 0.4-0.1 0.4-2.4 0.4 1.3 0.4 1.8 0.4-0.7 0.4-1.6 0.4 0.8 0.4-1.5 0.4 2.1 0.4-1.5 0.4-3.3 0.4 3.9 0.4-2.7 0.4 1.6 0.4 2.8 0.4 2.3 0.4-4.5 0.4 1.3 0.4-0.3 0.4 1.8 0.4-5.4 0.4 1.5 0.4 0.5 0.4 0.4 0.4 0.2 0.4 0.8 0.4-1 0.4 1 0.4 4.6 0.4-6.9 0.4 0.5 0.4 0.1 0.4-3.8 0.4 5.3 0.4 1.9 0.4-7.8 0.4 1.4 0.4 3.5 0.4-1.7 0.4-1.2 0.4 3.5 0.4-3.3 0.4-2.1 0.4 0.4 0.4 2.3 0.4-0.8 0.4 2.9 0.4-1.9 0.4 0.5 0.3 2.1 0.4 1.6 0.4-6 0.4 2.6 0.4 1.4 0.4-0.7 0.4-3.8 0.4-0.5 0.4 4.1 0.4-1.4 0.4-0.8 0.4 1 0.4 1.1 0.4-0.7 0.4-2.1 0.4 0.5 0.4-0.3 0.4-1.8 0.4-1.8 0.4-0.2 0.4 0.7 0.4-2.9 0.4 4.8 0.4-1.1 0.4 1.8 0.4-3.3 0.4 2.2 0.4 2.7 0.4-0.8 0.4-5.3 0.4 2.8 0.4 0.9 0.4-1.6 0.4 4.4 0.4-2.3 0.4 1.9 0.4-2.4 0.4-0.7 0.4-1.9 0.4-1.9 0.4 0.7 0.4-3.2 0.4 7 0.4-1.2 0.4-0.9 0.4 2.7 0.4-1.3 0.4-2.6 0.4 2.6 0.4-2.9 0.4-0.4 0.4 4.5 0.4 3.1 0.4-2.9 0.4 1.1 0.4-1.8 0.4-0.1 0.4-0.6 0.4-1.5 0.4-0.2 0.4 2.8 0.4 1.3 0.4 3.1 0.4-1.2 0.4-2.5 0.4-2.3 0.4 1.2 0.4 0.3 0.4 1.2 0.4-0.3 0.4-0.5 0.4-3.8 0.4 4.7 0.4-5.3 0.4 4.1 0.4-1.7 0.4 1.1 0.4-1 0.4-1.5 0.4 3.5 0.4-0.6 0.4-2.1 0.4 0.1 0.4-2.8 0.4 1.8 0.4 0.2 0.4-1 0.4 2 0.4-2.6 0.4 6.1 0.4-3.1 0.4-1.7 0.4 1.5 0.4-0.4 0.4-4.2 0.4 2.4 0.4 1.6 0.4-1.3 0.4-4.1 0.4 4.1 0.4-3.8 0.4-0.7 0.4 3 0.4-0.2 0.4 3.1 0.4-0.9 0.4 0.7 0.4-2.3 0.4 3.3 0.4-2.8 0.4-0.5 0.4-1.1 0.4 5.1 0.4-0.7 0.4-1.5 0.4-0.9 0.4-0.7 0.4-0.1 0.4-3.4 0.4 2.7 0.3 1.3 0.4 1.7 0.4-2.4 0.4 0.5 0.4-0.8 0.4 1.6 0.4-2.7 0.4-1.5 0.4 4.3 0.4 1.5 0.4-5 0.4-0.4 0.4 2.7 0.4 1 0.4-5.8 0.4 5.7 0.4 1.3 0.4-1.3 0.4-2.4 0.4 1.1 0.4-1.1 0.4-0.2 0.4 1.4 0.4-1.2 0.4 0.8 0.4 2.6 0.4-1.9 0.4 1.8 0.4-3.4 0.4 3.4 0.4-2 0.4 2.4 0.4-2.7 0.4 1.7 0.4-4.7 0.4 3 0.4-0.3 0.4 4.3 0.4-0.7 0.4-2.9 0.4 1.6 0.4-4.7 0.4 2.8 0.4-0.7 0.4 0.1 0.4 1.5 0.4-1.1 0.4 2.9 0.4-3 0.4-2.4 0.4 1.9 0.4 0.2 0.4 0 0.4-1.1 0.4-0.5 0.4 2.8 0.4 3.4 0.4-2.3 0.4 2.1 0.4-0.9 0.4 0.7 0.4-3 0.4 4 0.4-1.4 0.4-3.9 0.4 3.7 0.4-2.9 0.4-0.4 0.4 4 0.4-5.4 0.4-1.3 0.4 1.9 0.4 3.7 0.4-2.5 0.4 3.2 0.4 0 0.4-1.4 0.4 1.7 0.4 2.1 0.4-3.9 0.4 0.5 0.4 0.7 0.4 0.2 0.4-2.6 0.4 1.4 0.4 1 0.4-0.4 0.4-1.3 0.4-0.3 0.4-0.2 0.4 1 0.4-1.6 0.4 0.7 0.4-1.1 0.4-1.5 0.4 2.1 0.4 1.5 0.4-0.1 0.4 1.1 0.4-0.8 0.4 1.9 0.4-1.3 0.4 0.7 0.4-0.5 0.4 0.2 0.4-4 0.4 2 0.4 2.2 0.4-2 0.4 1.7 0.4-2.6 0.4 1.4 0.4-3.3 0.4 7.2 0.4-0.4 0.4 0.7 0.4-1.8 0.4-1.3 0.4 2.1 0.4 0.5 0.3-3.2 0.4-2 0.4 3.5 0.4 0.9 0.4-4 0.4-0.9 0.4 0.1 0.4 4.4 0.4 0.1 0.4-1 0.4-0.7 0.4 0.4 0.4-0.8 0.4-1.8 0.4 1.9 0.4 0.8 0.4-0.2 0.4 1 0.4-1.2 0.4-0.1 0.4 1.2 0.4-4 0.4 1.7 0.4 1.6 0.4-3.5 0.4 3.9 0.4-3 0.4 0 0.4 0.7 0.4-0.9 0.4-0.5 0.4 2.8 0.4-0.3 0.4 0.1 0.4 0.1 0.4 0.4 0.4-3.5 0.4 2.2 0.4 1.7 0.4-1.2 0.4-0.1 0.4-1.2 0.4 1.4 0.4-2.9 0.4 4 0.4-3.2 0.4 0.8 0.4 3.5 0.4-2.6 0.4-0.3 0.4 2.2 0.4-5.5 0.4 3.7 0.4 1.6 0.4 0.1 0.4 0.8 0.4-2.5 0.4 1.3 0.4 1.6 0.4-1.3 0.4-1.5 0.4 0.7 0.4 0.3 0.4 0.3 0.4-2.4 0.4 0.1 0.4 2 0.4 2.8 0.4-3.2 0.4-0.6 0.4 0.6 0.4-0.5 0.4 0.4 0.4 3 0.4 1.6 0.4-6.3 0.4 2 0.4-2.2 0.4 1.9 0.4-0.8 0.4-2.7 0.4 5.1 0.4-1.9 0.4 3.4 0.4-2.7 0.4-0.3 0.4 0.8 0.4 0.4 0.4 2.9 0.4-4.3 0.4-0.9 0.4-0.6 0.4-3.1 0.4 3.1 0.4 2.2 0.4-1.1 0.4-0.1 0.4-1.5 0.4 4.1 0.4-3.2 0.4 0 0.4 2.6 0.4-3.1 0.4 2.9 0.4-2 0.4 0.3 0.4-0.2 0.4 3.7 0.4-3.3 0.4 3.6 0.4-2.5 0.4 0.1 0.4-4.7 0.4 0.5 0.4 1 0.4 1 0.4-2.4 0.4 1.8 0.4-3.9 0.4 9.8 0.3-5.3 0.4 4.5 0.4-5.5 0.4 2.7 0.4-4.1 0.4 4.2 0.4-2.9 0.4 1.5 0.4-1.8 0.4 2.2 0.4 4.7 0.4-5.4 0.4 2.4 0.4-4.7 0.4 1 0.4 0.1 0.4-1.3 0.4 0.3 0.4 1 0.4-4.2 0.4 3 0.4 0.5 0.4 2.7 0.4-0.9 0.4-1.4 0.4 0.9 0.4 0.3 0.4-1 0.4 1.2 0.4-2.4 0.4 2.9 0.4-2.2 0.4-0.6 0.4-2.2 0.4 0.8 0.4 0.3 0.4 2 0.4-1.7 0.4-2.3 0.4-1.1 0.4 4.7 0.4-2.7 0.4-0.7 0.4 0.1 0.4 0.9 0.4-1.6 0.4 4.2 0.4-4.7 0.4 3.9 0.4-2 0.4-0.9 0.4-0.5 0.4-0.2 0.4 0.6 0.4-0.2 0.4 2.2 0.4-1.8 0.4-2.6 0.4 3.2 0.4 1.4 0.4-0.7" fill="none" stroke="#5ab9a4" stroke-width="6.7" stroke-linejoin="round" stroke-linecap="round"/>
<path d="M1391.3 1273.1l0.4-0.8 0.4 5.1 0.4-2.7 0.4-3.9 0.4 2.1 0.4-1.7 0.4 1.5 0.4 1.8 0.4-1.1 0.4-1.1 0.4-0.4 0.4-1.4 0.4 4.4 0.4-3.5 0.4 3.4 0.4-2.5 0.3 0.1 0.4-0.3 0.4 0.5 0.4-2.1 0.4 4.2 0.4-3 0.4 1.2 0.4-0.1 0.4 2.3 0.4-2.8 0.4-0.5 0.4-0.4 0.4 1 0.4 0.9 0.4-0.7 0.4 0 0.4 0 0.4-2.4 0.4 5.3 0.4-5.6 0.4 8.5 0.4-7.5 0.4 2.2 0.4-4.7 0.4 4.8 0.4-3.3 0.4 3.3 0.4 0.5 0.4-4.2 0.4-0.8 0.4 3.1 0.4-5.4 0.4 4.6 0.4-4.2 0.4 5.1 0.4-1.2 0.4-3.1 0.4 0.7 0.4-2.9 0.4 4.8 0.4-4.8 0.4 2.4 0.4 0.4 0.4-1.9 0.4 1.1 0.4 0.1 0.4-1.8 0.4 0.1 0.4-0.7 0.4-1.8 0.4 1 0.4-2.7 0.4 2.2 0.4-1.8 0.4 0.4 0.4 2 0.4 2.3 0.4-0.7 0.4-1.2 0.4-3.7 0.4 1.3 0.4 0.2 0.4-1 0.4 0.5 0.4-1.1 0.4 3.8 0.4-2.4 0.4-0.8 0.4 1.3 0.4-2.4 0.4 1.7 0.4-1.1 0.4-1 0.4 3.1 0.4-0.6 0.4-1.3 0.4-1.4 0.4 0.4 0.4-3.6 0.4 3.1 0.4-0.7 0.4-1.5 0.4-0.3 0.4 1.6 0.4 1 0.4-2.7 0.4-0.5 0.4 4.1 0.4 1.1 0.4 0.1 0.4-5.3 0.4 5.3 0.4 0.9 0.4-4.2 0.4-2 0.4 3.6 0.4-1.8 0.4 1.6 0.4-2.2 0.4-3.2 0.4 2.6 0.4 0.7 0.4-0.7 0.4-0.6 0.4 1.1 0.4 0.8 0.4 0.5 0.4-5.5 0.4 5.2 0.4-2.5 0.4 3.8 0.4-3.5 0.4 0.3 0.4 1.9 0.4-3.8 0.4 5.2 0.4-2.3 0.4 1.8 0.4-0.6 0.4-0.3 0.3 0.3 0.4-1.9 0.4-3.7 0.4 5.6 0.4-0.1 0.4-0.7 0.4-1.2 0.4-2.4 0.4 1.2 0.4 0.4 0.4 0 0.4-4.7 0.4 6.2 0.4 0.9 0.4-2.7 0.4-0.4 0.4 0.9 0.4 1.2 0.4 1.4 0.4-3.3 0.4 1 0.4 0 0.4 1 0.4-4.6 0.4 1.4 0.4-2.3 0.4 4.4 0.4-2.2 0.4 0.9 0.4-1.6 0.4 0.9 0.4 0.2 0.4 2.9 0.4-3.2 0.4-2.9 0.4 5.1 0.4-3.5 0.4-2.2 0.4-1.1 0.4 2.8 0.4-0.2 0.4-2.5 0.4 0.1 0.4 3.1 0.4 0.5 0.4-2.8 0.4 1.9 0.4 2.3 0.4 0.4 0.4-1.1 0.4 1.2 0.4 0.7 0.4-1.2 0.4 1.1 0.4-5.2 0.4 0.9 0.4-1.5 0.4 2.6 0.4 0.4 0.4-0.2 0.4-1.4 0.4 4.9 0.4-4.4 0.4 1.2 0.4-2.8 0.4 1 0.4-4.3 0.4 1.3 0.4 1.7 0.4-2.7 0.4 2.3 0.4 1.3 0.4-1.6 0.4-0.1 0.4-1.3 0.4-0.5 0.4 2.3 0.4-0.3 0.4-1.8 0.4 1.8 0.4-0.9 0.4 0.5 0.4 1.8 0.4-0.4 0.4 1.5 0.4-5.3 0.4 1 0.4 1.6 0.4 1.7 0.4-3 0.4 0.5 0.4-1.3 0.4 1.2 0.4 0.9 0.4-4.1 0.4 4.7 0.4-2 0.4-2.2 0.4 6.3 0.4-5.4 0.4-1.4 0.4 0.3 0.4-1 0.4 2.3 0.4 2.6 0.4-7.8 0.4 5.3 0.4-1.9 0.4-0.4 0.4 1.3 0.4-1.6 0.4-0.9 0.4-2.2 0.4 1.5 0.4-2.2 0.4 2.9 0.4-0.6 0.4 0.4 0.4-1.3 0.4-1.1 0.3-2.6 0.4 1.8 0.4 2.5 0.4-4.1 0.4 4.2 0.4-0.8 0.4-0.6 0.4 1 0.4 0.7 0.4-1.9 0.4 0 0.4 1.7 0.4-2 0.4 1.1 0.4 0.6 0.4 1.3 0.4-3.3 0.4-3.2 0.4 1.8 0.4-1 0.4 2.8 0.4-2.8 0.4 2 0.4-0.5 0.4-2.3 0.4 3.8 0.4-3.4 0.4-0.8 0.4-1.8 0.4 3.1 0.4-1.8 0.4 0.9 0.4-0.5 0.4 3.9 0.4-4.1 0.4-3.5 0.4 1.4 0.4 1.1 0.4-4 0.4 3.7 0.4 3.7 0.4-1.4 0.4-1.1 0.4-3 0.4 3.1 0.4-2.6 0.4-1.6 0.4 3.1 0.4-0.9 0.4 4.3 0.4-3.4 0.4 4.9 0.4-3.3 0.4-4.3 0.4 1.4 0.4 0.3 0.4 0.3 0.4-4.3 0.4 3 0.4-0.3 0.4 2.7 0.4-0.3 0.4 0.4 0.4-1.5 0.4 1.3 0.4-3.9 0.4 0.2 0.4 1 0.4 0.4 0.4 4.5 0.4-4.5 0.4-1 0.4-0.3 0.4 7 0.4-0.8 0.4-5.5 0.4 2.6 0.4-1.3 0.4 0.6 0.4-2.7 0.4 4.3 0.4-1.8 0.4-3.6 0.4 0.6 0.4 1.4 0.4-1.8 0.4 0.1 0.4 1.1 0.4-2.2 0.4-0.1 0.4 1.4 0.4-2.6 0.4 3.7 0.4-3 0.4 2.1 0.4 1.1 0.4 0.2 0.4-3.1 0.4 4.2 0.4-1.1 0.4-1.1 0.4 0 0.4-3.5 0.4-2.1 0.4 0 0.4 1.8 0.4 0.6 0.4 1.6 0.4-0.5 0.4 0.8 0.4-4.3 0.4 3.4 0.4 0.6 0.4 0.3 0.4-1 0.4 1 0.4-1.3 0.4-0.4 0.4-2.7 0.4 4.5 0.4-2.5 0.3 1.7 0.4-0.6 0.4-3.5 0.4 2.3 0.4 2.2 0.4-2 0.4 1.4 0.4-1.7 0.4 2.5 0.4-2.3 0.4 1.1 0.4-1.7 0.4 0.3 0.4 0.2 0.4-1.4 0.4-1.5 0.4 2.2 0.4-0.1 0.4-1.5 0.4 2.5 0.4-3.2 0.4 1.1 0.4 5.5 0.4-2.3 0.4 0.5 0.4-3.3 0.4 0.2 0.4 3.3 0.4-0.7 0.4-1.6 0.4 0.7 0.4-2.4 0.4-1.3 0.4 0.1 0.4-0.3 0.4 0.9 0.4 1.5 0.4 0.1 0.4 0.9 0.4-3 0.4-0.7 0.4-0.8 0.4 3.1 0.4 0.5 0.4-0.7 0.4-1.4 0.4 1.3 0.4 0.2 0.4 1.6 0.4-3.2 0.4-0.5 0.4 1.5 0.4-5.5 0.4 5.1 0.4-4.1 0.4 3 0.4-1.6 0.4 2.1 0.4 0.4 0.4-1.9 0.4 2.1 0.4 0.1 0.4-2.2 0.4 1 0.4 0.5 0.4-1.4 0.4-3 0.4 2.6 0.4-0.5 0.4-1 0.4 3.5 0.4 0.8 0.4-3.3 0.4-1.4 0.4 1.5 0.4 1.6 0.4-0.5 0.4-3.1 0.4 2.2 0.4 2.7 0.4-4.4 0.4 0.1 0.4 0.3 0.4-1.1 0.4-1.2 0.4 1.6 0.4 0.7 0.4 4.5 0.4-5.2 0.4 0.6 0.4-3.5 0.4-0.2 0.4 0.6 0.4-2.6 0.4 3.6 0.4-0.8 0.4 1.2 0.4-1.1 0.4-0.5 0.4-0.6 0.4 2.4 0.4-2 0.4-2.4 0.4 6.4 0.4-1.9 0.4-0.8 0.4-2.1 0.4-2.1 0.4 1.5 0.4 1.3 0.4 1 0.4-2.1 0.4-0.5 0.4 0.2 0.4 2 0.4-3.1 0.4 4.2 0.4-2.2 0.4 0.8 0.4 1.9 0.3-1.9 0.4-0.8 0.4 0.3 0.4-2.3 0.4 3 0.4-5.1 0.4 2.8 0.4 3.1 0.4 3.2 0.4-6.4 0.4 1.8 0.4-0.9 0.4 1.4 0.4 0.7 0.4 0.4 0.4-8.5 0.4 0.8 0.4 3.8 0.4-4.2 0.4 7.3 0.4-5 0.4 0.9 0.4 2.7 0.4-0.6 0.4 0.2 0.4-1.6 0.4-2.5 0.4-0.5 0.4 0.8 0.4-1 0.4 5.1 0.4-8.5 0.4 3.9 0.4 2.6 0.4-1.2 0.4 0.8 0.4-1 0.4-0.3 0.4 4.9 0.4-6.7 0.4-1.6 0.4 4 0.4-5 0.4 1.2 0.4 0 0.4-1.3 0.4 5.6 0.4-3.8 0.4 2.8 0.4-5.6 0.4 5.6 0.4 0.6 0.4-4.1 0.4 1 0.4 1.1 0.4-1.1 0.4-0.8 0.4-2 0.4 4.2 0.4-1.1 0.4-0.3 0.4-0.9 0.4 0 0.4 2 0.4-2.8 0.4 3.3 0.4-1.9 0.4-0.7 0.4-0.6 0.4-4.1 0.4 0.1 0.4 0.8 0.4-0.3 0.4 4.3 0.4-2.1 0.4 3.5 0.4-2 0.4 0 0.4 2.7 0.4-2.1 0.4-1.1 0.4-1.4 0.4 1.6 0.4 2 0.4 0.6 0.4-3.7 0.4 1.5 0.4 0 0.4-2.4 0.4-0.9 0.4 1.5 0.4 2.7 0.4-2.9 0.4-0.8 0.4 2.6 0.4-0.4 0.4 3.7 0.4-5.7 0.4 2.4 0.4-3.9 0.4 1.7 0.4-1.5 0.4 0 0.4 2.9 0.4-7.8 0.4 7.7 0.4-2.6 0.4 2.2 0.4-2.2 0.4-2.8 0.4 6.4 0.4-3 0.4-1.6 0.4 0.8 0.4 0.1 0.4 1.5 0.4 1.1 0.4-0.6 0.4-1.2 0.4-2.6 0.3 1.2 0.4-2 0.4 2.5 0.4-1.1 0.4 0.4 0.4 4.2 0.4-4.5 0.4 3.2 0.4-2.3 0.4-3.6 0.4 6.3 0.4-2.9 0.4-0.7 0.4-0.7 0.4 0.7 0.4 0.2 0.4-5.8 0.4 7.8 0.4-1.5 0.4-4.9 0.4 2.3 0.4 2.4 0.4 0.2 0.4-2.6 0.4-5.2 0.4 3.7 0.4 2.1 0.4-2.7 0.4 2.5 0.4-3 0.4 2.4 0.4-1.8 0.4 3.2 0.4-2.2 0.4 2.1 0.4-0.2 0.4 3.3 0.4-0.2 0.4-2.4 0.4 0.2 0.4-4.3 0.4 4.8 0.4-0.4 0.4-3.8 0.4 3 0.4-1.1 0.4 0.7 0.4 0.3 0.4-3.3 0.4 2.1 0.4-2.6 0.4 2.9 0.4 1.3 0.4-0.1 0.4-1.7 0.4-0.8 0.4-0.6 0.4-1.4 0.4 2.8 0.4-2.2 0.4 3.1 0.4-0.6 0.4-5.7 0.4 3 0.4 3.2 0.4-3.9 0.4 0.6 0.4 0.6 0.4-0.5 0.4 2.9 0.4-0.6 0.4 0.9 0.4-3 0.4 4.5 0.4-1.8 0.4-1.9 0.4 2.3 0.4-1.4 0.4-2.5 0.4 4.1 0.4-5.3 0.4 3.5 0.4-0.5 0.4-2.5 0.4-1 0.4 3.4 0.4 0.3 0.4-1.2 0.4 1.5 0.4-2.7 0.4 1.3 0.4-0.6 0.4-0.4 0.4 1.4 0.4-3.5 0.4 3.8 0.4 0.8 0.4-5.5 0.4 0.7 0.4 2.9 0.4-1.1 0.4 0.7 0.4 0.9 0.4-1.7 0.4 1.3 0.4-2.1 0.4 5.1 0.4-4.1 0.4 0.4 0.4 0.9 0.4-1.2 0.4 1.1 0.4 2.2 0.4-1.9 0.4-2.1 0.4 4.3 0.4-2.7 0.4 2.4 0.4-3.3 0.4-1.9 0.3 1.4 0.4-0.6 0.4 2.9 0.4-2.5 0.4 2.2 0.4-3.1 0.4 0.1 0.4 1.5 0.4-3.7 0.4 3.2 0.4-2.6 0.4 1.4 0.4 0.6 0.4-1.8 0.4 0.4 0.4 0.9 0.4-0.3 0.4-1.2 0.4 0.3 0.4 0.6 0.4 1.7 0.4 3.1 0.4-3.4 0.4 0.1 0.4-3.1 0.4 0 0.4-1.3 0.4-1.7 0.4 2.3 0.4 2 0.4-3.4 0.4 3.6 0.4-1 0.4-2.9 0.4 2.6 0.4-0.8 0.4 5.1 0.4-3.3 0.4-2.3 0.4 4 0.4-4 0.4-0.7 0.4 3.8 0.4-6.4 0.4 5 0.4-1 0.4-3.7 0.4 6.2 0.4-3.7 0.4 1.1 0.4-2.3 0.4 1.6 0.4-4.3 0.4 4.4 0.4-3.6 0.4 0.6 0.4 1.3 0.4 0.4 0.4 0.6 0.4-1.8 0.4 1.4 0.4 0.4 0.4 2.6 0.4-1.9 0.4-0.7 0.4 0.4 0.4-1.9 0.4 6.3 0.4-8.7 0.4 4.6 0.4 0.7 0.4 1.2 0.4-5.5 0.4-0.7 0.4 1.6 0.4-0.8 0.4 0.2 0.4 0.8 0.4-3.4 0.4 2.1 0.4 1.5 0.4 3.8 0.4-5.4 0.4 2.9 0.4 1.8 0.4-5.1 0.4 1.4 0.4 3.2 0.4-0.7 0.4-1.7 0.4 0.6 0.4-1.7 0.4-5.7 0.4-0.3 0.4 5 0.4-1.8 0.4 0.9 0.4 1.7 0.4 2.4 0.4-4.8 0.4 2.6 0.4-2 0.4-0.7 0.4 2.7 0.4-4.5 0.4 3.5 0.4 0 0.4 1.7 0.4-2.8 0.4-0.7 0.4 3.6 0.4-2.5 0.4 1.2 0.4 1.4 0.4-2 0.4-1.9 0.4-1.1 0.4-1.9 0.4 4.2 0.4-0.9 0.3-0.1 0.4-1.1 0.4 1.6 0.4 2.6 0.4 0.4 0.4-4.8 0.4 0 0.4 3 0.4-3.8 0.4 1.4 0.4-1.3 0.4-2.3 0.4 3.4 0.4 0.5 0.4 1.1 0.4-2.4 0.4 0 0.4-0.2 0.4-0.4 0.4 0.5 0.4-1.8 0.4 2.9 0.4-2.6 0.4 0.1 0.4 0.9 0.4-2.7 0.4 2.7 0.4-0.6 0.4 0.3 0.4 2.4 0.4-3.5 0.4 0.6 0.4 1.6 0.4-0.6 0.4 1.6 0.4-2.6 0.4 0.7 0.4-0.1 0.4 0.3 0.4-1.3 0.4 1.2 0.4 3.5 0.4-3.1 0.4 0.5 0.4 2.1 0.4-2 0.4-2.9 0.4 2.7 0.4 1.7 0.4-3.5 0.4-6.8 0.4 5.4 0.4-1.5 0.4 2.1 0.4-1.2 0.4-0.6 0.4 3.1 0.4-1.3 0.4 4.8 0.4-3.2 0.4 2.2 0.4-2.9 0.4 1.1 0.4-2.5 0.4 1.6 0.4-2.9 0.4-0.9 0.4 0.6 0.4 0.8 0.4 1.6 0.4-1.1 0.4-0.9 0.4 1.1 0.4-0.9 0.4-2.9 0.4 1.6 0.4-1.8 0.4-1.6 0.4 0.9 0.4 0.6 0.4 1.1 0.4-2.6 0.4 3.9 0.4 0.8 0.4-1 0.4-1 0.4 0.6 0.4 2.3 0.4-1.3 0.4-0.1 0.4 0.1 0.4-1.7 0.4-0.5 0.4 0.1 0.4-3.8 0.4 4.8 0.4-3.5 0.4-1.8 0.4-0.6 0.4 3.4 0.4 1.5 0.4 1.7 0.4-2.8 0.4-4.8 0.4 7.9 0.4 0.4 0.4-4.3 0.4 0.5 0.4 4.1 0.4-4 0.4-1.2 0.4 3.1 0.4-3.8 0.4 4.9 0.4-4.2 0.4 2.4 0.4 2.5 0.4 1.7 0.4-3.4 0.4-0.9 0.4-0.1 0.3 0.6 0.4-1 0.4-1.9 0.4 3.3 0.4-1.7 0.4-0.9 0.4 1.6 0.4-1.6 0.4-1.9 0.4 4.1 0.4-1.4 0.4 5.5 0.4-5.7 0.4-2 0.4 3.1 0.4-5.2 0.4 6 0.4-5.4 0.4 3.1 0.4 1.3 0.4-0.7 0.4-0.6 0.4 1.5 0.4-0.4 0.4-1.4 0.4-3.5 0.4 1.1 0.4-2 0.4 3 0.4-0.1 0.4 0.4 0.4-1 0.4-0.7 0.4-2 0.4 2 0.4 0.4 0.4-3.3 0.4 3.8 0.4 1 0.4-3.2 0.4 1 0.4-0.5 0.4-0.8 0.4 2.9 0.4-1.5 0.4-1.3 0.4-0.6 0.4-0.3 0.4 1.8 0.4-0.6 0.4 5.7 0.4-7 0.4 5.1 0.4-2.2 0.4-5.4 0.4 5.8 0.4 1.9 0.4-5.8 0.4 4.2 0.4-0.4 0.4 0.2 0.4-2 0.4-0.6 0.4 1.9 0.4-2.2 0.4 3.1 0.4-3.2 0.4 1.8 0.4-2.1 0.4 2.8 0.4-1 0.4-3.4 0.4 4.6 0.4 0 0.4-3.5 0.4 1.1 0.4 1.4 0.4-0.3 0.4-3.8 0.4 5.3 0.4-0.8 0.4-0.9 0.4 0.8 0.4-2 0.4-1.2 0.4 3 0.4-3.7 0.4 4 0.4-1.7 0.4-1.6 0.4-5 0.4 7.9 0.4-4.2 0.4-3.9 0.4 6.4 0.4-2.3 0.4 1.1 0.4 5.4 0.4-3.2 0.4 2.8 0.4-2.1 0.4 2.5 0.4-3.2 0.4 4.9 0.4-4.8 0.4-3 0.4 1.3 0.4 1.6 0.4-1.1 0.4-0.6 0.4-5.7 0.4 4.6 0.4-0.4 0.4 1.7 0.4-0.7 0.4-1.3 0.4 2.9 0.4 0.7 0.4 0.1 0.4-1.1 0.3-0.7 0.4 0.3 0.4-0.9 0.4 1.1 0.4-3.9 0.4 2.7 0.4 1.3 0.4-1.4 0.4 0.8 0.4 2.7 0.4-3 0.4-3.9 0.4 1.4 0.4-0.1 0.4 3.5 0.4 0.7 0.4-1 0.4-3.6 0.4 4.5 0.4-0.1 0.4-3.8 0.4 3.2 0.4-0.6 0.4-1.1 0.4 1.6 0.4-0.5 0.4 0 0.4 1.6 0.4-0.8 0.4-1.2 0.4 2.1 0.4-1.6 0.4 0.9 0.4-3.4 0.4-0.4 0.4-1.1 0.4-0.6 0.4 0.3 0.4 0.2 0.4 2.6 0.4-2.7 0.4 3.2 0.4-6.3 0.4 3 0.4-0.3 0.4 3.2 0.4-4.5 0.4 0.2 0.4 6 0.4-2 0.4-1.3 0.4 0.3 0.4-3.6 0.4-1.6 0.4 5.9 0.4-2.9 0.4 2.6 0.4-3.8 0.4 6.3 0.4-4.3 0.4-3.2 0.4 4.8 0.4-3.9 0.4 3.6 0.4-2.7 0.4 0.8 0.4 1.7 0.4-0.4 0.4-0.3 0.4-3.1 0.4 1.6 0.4 2.6 0.4-8.5 0.4 8.4 0.4-3 0.4-0.5 0.4 2.4 0.4-2.9 0.4 0.8 0.4 2.3 0.4-3.8 0.4 2.5 0.4 0.1 0.4-3.2 0.4 5 0.4-3.1 0.4-0.6 0.4 0.3 0.4 0.5 0.4 1.5 0.4 2.2 0.4-3.1 0.4-0.2 0.4 1.7 0.4 1.2 0.4-4.1 0.4 2.8 0.4-3.4 0.4 0.5 0.4 1.9 0.4-6.5 0.4 2 0.4 0.7 0.4 3.6 0.4-2.3 0.4-1.7 0.4 2.2 0.4-4.4 0.4 6.1 0.4-4.6 0.4 5.4 0.4-0.4 0.4-1.4 0.4-4.1 0.4 2.7 0.4-0.4 0.4 0 0.4 2.2 0.4-0.7 0.4 0.2 0.3-2.1 0.4 0.4 0.4 3.6 0.4-3.7 0.4-2.4 0.4 2.1 0.4 0.7 0.4 1.4 0.4 0.1 0.4-0.5 0.4 1.4 0.4-0.9 0.4 1.8 0.4-4.3 0.4 3.3 0.4-4.8 0.4-0.4 0.4 4.4 0.4-4.5 0.4 2.2 0.4-2.6 0.4 3.3 0.4-0.7 0.4 0.4 0.4-2.3 0.4 6.4 0.4-6 0.4 1.6 0.4 0.5 0.4-1 0.4-2.7 0.4-0.6 0.4-0.9 0.4 3.6 0.4 2.7 0.4-2.4 0.4-0.9 0.4 1 0.4-3 0.4-2.5 0.4 3.1 0.4 4.8 0.4-4.7 0.4 2.6 0.4-1.2 0.4 0.2 0.4 1.1 0.4 1.1 0.4-1.5 0.4-1 0.4 0.4 0.4-3.8 0.4 9.5 0.4-4.5 0.4 0.7 0.4-2.5 0.4 1.4 0.4-1.1 0.4 3.7 0.4-2.9 0.4-2.1 0.4 0.9 0.4 0 0.4-1.5 0.4-2 0.4 7.1 0.4-6.8 0.4 2.1 0.4 2.5 0.4-1.5 0.4 0.2 0.4-2.4 0.4 3.5 0.4-2.8 0.4 3.2 0.4-2.6 0.4 0.7 0.4 1.3 0.4-1 0.4 2.6 0.4-2.5 0.4 2.9 0.4 0.2 0.4-0.3 0.4 1.6 0.4 1.5 0.4-4.2 0.4 1.7 0.4-1.6 0.4 3.6 0.4-1.1 0.4-2 0.4 2.4 0.4-1.6 0.4-1.4 0.4-0.8 0.4-1.1 0.4 1.8 0.4 2.1 0.4-2 0.4 1.7 0.4-1.8 0.4 3.5 0.4-4.7 0.4 2.5 0.4 1 0.4 2.4 0.4-3.5 0.4 0.6 0.4-1.6 0.4 1.4 0.4 0.1 0.4-2 0.4-1.1 0.4 5.4 0.4-1.5 0.4-0.9 0.4-0.1 0.4 1.1 0.4-4.9 0.3 4.9 0.4-2.1 0.4 1.8 0.4-0.3 0.4 3.6 0.4-5.9 0.4 2 0.4 1.1 0.4-5.5 0.4 3.7 0.4 0.7 0.4 0.4 0.4-2.6 0.4 1.4 0.4 1 0.4 1.7 0.4-0.5 0.4-2 0.4 0.9 0.4 4.4 0.4-1.5 0.4-2.1 0.4-5.7 0.4 7 0.4 1.5 0.4-5.7 0.4 1.2 0.4 2 0.4-3.6 0.4 1.1 0.4 2.2 0.4-0.1 0.4-1.2 0.4 0.2 0.4 4.3 0.4-5.1 0.4 4.5 0.4-3.8 0.4 2.1 0.4-0.7 0.4-1.5 0.4 1.9 0.4-1.3 0.4-3.3 0.4 2.9 0.4-1.5 0.4 3 0.4-2.2 0.4-1.5 0.4 3.8 0.4-2 0.4 3.1 0.4-1.1 0.4-1.1 0.4-2.8 0.4-0.4 0.4 3.2 0.4 0.3 0.4-1 0.4 2.7 0.4-3.4" fill="none" stroke="#ee6a8b" stroke-width="6.7" stroke-linejoin="round" stroke-linecap="round"/>
<path d="M1364 1195.3H1977.4" stroke="#000" stroke-width="2.5" stroke-dasharray="9.2 4.1" fill="none"/>
<path d="M1670.9 1682.5V1073.5" stroke="#000" stroke-width="2.5" stroke-dasharray="9.2 4.1" fill="none"/>
<rect x="1364" y="1073.5" width="613.4" height="609" fill="none" stroke="#000" stroke-width="2.2"/>
<path d="M1392.1 1682.5v8M1531.5 1682.5v8M1670.9 1682.5v8M1810.3 1682.5v8M1949.7 1682.5v8M1364 1073.5h-8M1364 1195.3h-8M1364 1317.1h-8M1364 1438.9h-8M1364 1560.7h-8M1364 1682.5h-8" stroke="#000" stroke-width="2.2" fill="none"/>
<text x="1392.1" y="1727.5" font-size="29.0" font-family="DejaVu Sans, Liberation Sans, sans-serif" text-anchor="middle">−100</text>
<text x="1531.5" y="1727.5" font-size="29.0" font-family="DejaVu Sans, Liberation Sans, sans-serif" text-anchor="middle">−50</text>
<text x="1670.9" y="1727.5" font-size="29.0" font-family="DejaVu Sans, Liberation Sans, sans-serif" text-anchor="middle">0</text>
<text x="1810.3" y="1727.5" font-size="29.0" font-family="DejaVu Sans, Liberation Sans, sans-serif" text-anchor="middle">50</text>
<text x="1949.7" y="1727.5" font-size="29.0" font-family="DejaVu Sans, Liberation Sans, sans-serif" text-anchor="middle">100</text>
<text x="1340.8" y="1084.1" font-size="29.0" font-family="DejaVu Sans, Liberation Sans, sans-serif" text-anchor="end">2</text>
<text x="1340.8" y="1205.9" font-size="29.0" font-family="DejaVu Sans, Liberation Sans, sans-serif" text-anchor="end">0</text>
<text x="1340.8" y="1327.7" font-size="29.0" font-family="DejaVu Sans, Liberation Sans, sans-serif" text-anchor="end">−2</text>
<text x="1340.8" y="1449.5" font-size="29.0" font-family="DejaVu Sans, Liberation Sans, sans-serif" text-anchor="end">−4</text>
<text x="1340.8" y="1571.3" font-size="29.0" font-family="DejaVu Sans, Liberation Sans, sans-serif" text-anchor="end">−6</text>
<text x="1340.8" y="1693.1" font-size="29.0" font-family="DejaVu Sans, Liberation Sans, sans-serif" text-anchor="end">−8</text>
<text x="1670.7" y="1756" font-size="29.0" font-family="DejaVu Sans, Liberation Sans, sans-serif" text-anchor="middle">Voltage (mV)</text>
<text x="0" y="0" font-size="29.0" font-family="DejaVu Sans, Liberation Sans, sans-serif" text-anchor="middle" transform="translate(1291.3 1378) rotate(-90)">Current density (pA pF<tspan dy="-11" font-size="20.3">−1</tspan><tspan dy="11">)</tspan></text>
<path d="M1819.3 1597.9H1862.2" stroke="#5ab9a4" stroke-width="6" stroke-linecap="square"/>
<text x="1886.2" y="1607.8" font-size="29.0" font-family="DejaVu Sans, Liberation Sans, sans-serif" text-anchor="start">Ca²⁺</text>
<path d="M1819.3 1640.3H1862.2" stroke="#ee6a8b" stroke-width="6" stroke-linecap="square"/>
<text x="1886.2" y="1650.2" font-size="29.0" font-family="DejaVu Sans, Liberation Sans, sans-serif" text-anchor="start">Na⁺</text>
<text x="245.1" y="1948.6" font-size="28.9" font-family="Liberation Sans, Arial, sans-serif" text-anchor="middle">Voltage step protocol</text>
<path d="M132.7 2033.1H372.2M132.7 2045.3H372.2M132.7 2057.5H372.2M132.7 2069.7H372.2M132.7 2081.9H372.2M132.7 2094.1H372.2M132.7 2106.3H372.2M132.7 2118.5H372.2M132.7 2130.7H372.2M86.6 2142.9H417.1M132.7 2155.1H372.2M132.7 2167.3H372.2M132.7 2179.5H372.2M132.7 2191.7H372.2M132.7 2203.9H372.2M132.7 2216.1H372.2M132.7 2228.3H372.2M132.7 2240.5H372.2M132.7 2252.7H372.2" stroke="#000" stroke-width="3.3" fill="none"/>
<rect x="132.7" y="2020.9" width="239.5" height="244" fill="none" stroke="#000" stroke-width="3.5"/>
<rect x="345" y="2022.6" width="14.7" height="240.6" fill="#888" fill-opacity="0.55"/>
<text x="117.4" y="2019.7" font-size="28.2" font-family="Liberation Sans, Arial, sans-serif" text-anchor="end">+100 mV</text>
<text x="65.6" y="2152.4" font-size="28.2" font-family="Liberation Sans, Arial, sans-serif" text-anchor="end">0 mV</text>
<text x="117.4" y="2289" font-size="28.2" font-family="Liberation Sans, Arial, sans-serif" text-anchor="end">–100 mV</text>
<text x="250.4" y="2302.8" font-size="28.9" font-family="Liberation Sans, Arial, sans-serif" text-anchor="middle">50 ms</text>
<clipPath id="cp1"><rect x="567.3" y="1979" width="412.5" height="409.3"/></clipPath>
<g clip-path="url(#cp1)" fill="none" stroke="#466a91" stroke-width="3.5" stroke-linejoin="round" stroke-linecap="round">
<path d="M585.7 2142.1l1.5-1 1.5 0.9 1.5 0 1.5-1.1 1.5 1.4 1.5-1.2 1.5 0.9 1.5 0.3 1.5 0 1.5-1.1 1.5 0.6 1.5 0.2 1.5 0.7 1.5-1.6 1.5 0.1 1.5 0.4 1.5-0.2 1.5 2.3 1.5-1.6 1.5-0.4 1.5 0 1.5 0.4 1.5-0.4 1.5 0.5 1.5 0 1.4 0.3 1.5-0.8 1.5 0.5 1.5-0.1 1.5-1.1 1.5 0.8 1.5 0 1.5 0.9 1.5-0.6 1.5-0.9 0.6 0.3 0.3 0.3 0.4 2 0.2 2.6 0.2 3.1 0.4 11.3 0.3 15.3 0.4 12.7 0.2 8.8 0.2 6.6 0.4 10.3 0.3 8 0.4-0.7 0.2-1.5 0.2-3.2 0.4-9.2 0.3-13.8 0.4-15.5 0.2-8.6 0.2-5.6 0.4-11.4 0.3-6.5 0.4-3.1 0.2 1.1 0.2 0.4 0.4 0.5 0.3 0.8 0.4 0.1 0.2 0.6 0.2-0.9 0.4 0.5 0.3 0.1 0.6 1.2 1.5 0.3 1.5 0.7 1.5-0.5 1.5 1.8 1.5 0.3 1.5-1.5 1.5 0.7 1.5 1.2 1.5-1.6 1.5-0.1 1.5 0.2 1.5 1.8 1.5-1.2 1.5 0.5 1.5-0.4 1.5 0.8 1.5-2 1.5 1.4 1.5-0.6 1.5-0.4 1.5 0.1 1.5 0.1 1.5 0.4 1.5-0.4 1.5 0.2 1.5 1.1 1.5-1.9 1.5 0.9 1.5-0.1 1.5-0.1 1.5 0.5 1.5-0.1 1.5 0.3 1.4-1.3 1.5-0.5 1.5 0.6 1.5 0.7 1.5-1.4 1.5 0.9 1.5 0.7 1.5 0.1 1.5-1.2 1.5-0.8 1.5 1 1.5 0.2 1.5-0.3 1.5 0.3 1.5-0.2 1.5-0.5 1.5 0.6 1.5-1 1.5 1.1 1.5-1 1.5 0.2 1.5 0.4 1.5-0.1 1.5 0 1.5-1.2 1.5 1.4 1.5-1.1 1.5 0 1.5 0.8 1.5-1.1 1.5 2.2 1.5-1.5 1.5 0.1 1.5 0 1.5-0.5 1.5 0.7 1.5-0.1 1.5-0.8 1.5 0.7 1.5 0.5 1.5-0.9 1.5 0.3 1.5 0.3 1.5-0.6 1.5 0.7 1.5 0.1 1.5-0.4 1.5-0.1 1.5-0.1 1.5 0.7 1.4-1.7 1.5 0.6 1.5 0.3 1.5-0.1 1.5 1.6 1.5-2 1.5 1.1 1.5-0.9 1.5 1 1.5-1.3 1.5 0.9 1.5-0.2 1.5-1 1.5 0.3 1.5 1.3 1.5-0.4 1.5-0.5 1.5 0.3 1.5-0.6 1.5 0.8 1.5 0.7 1.5-0.6 1.5-0.4 1.5-0.4 1.5-0.1 1.5-0.3 1.5 0.5 1.5 0.3 1.5-0.6 1.5 0.5 1.5 0.2 1.5 0 1.5-0.8 1.5-0.3 1.5 0.1 1.5 1.6 1.5-1.5 1.5 1.3 1.5-0.5 1.5-0.5 1.5 1.1 1.5-0.1 1.5-0.3 1.5-1.4 1.5 0.4 1.5 1.1 1.5-0.6 1.5 0 1.5-0.1 1.4 0.6 1.5-1.3 1.5 1.1 1.5-0.7 1.5 1.4 1.5-1.2 1.5 0.2 1.5-0.7 1.5 2.2 1.5-1.8 1.5-0.1 1.5 0.6 1.5-0.9 1.5-0.5 1.5 0.7 1.5 0.1 1.5-0.4 1.5 0.6 1.5-0.5 1.5 0.4 1.5 0.7 1.5 0.2 1.5-1.3 1.5 0.4 1.5 0.7 1.5-0.4 1.5-0.8 1.5 1.8 1.5-0.5 1.5-0.9 1.5-0.1 1.5 1.2 1.5-0.1 1.5-0.7 1.5-0.7 1.5 0.8 1.5 1.3 1.5-1.9 0.7 0.6 0.4 0.2 0.4 0.4 0.3-1.3 0.4-1.2 0.4-4.3 0.4-6.5 0.3-8.6 0.4-10.4 0.4-11.8 0.4-15.2 0.3-12.5 0.4-11 0.4-11.4 0.4-7.5 0.3-5.8 0.4-5.1 0.4-1.3 0.4 1 0.3 3.3 0.4 6.4 0.4 8.4 0.4 7.5 0.3 12.3 0.4 12.2 0.4 11 0.4 11.1 0.3 12.3 0.4 8.3 0.4 6.8 0.4 5.5 0.3 1.7 0.4 1.2 0.4-0.3 0.4-0.3 0.3-0.3 0.4 0.2 0.4 0.4 0.4-0.2 0.3 1 1.2-2.4 1.5 1.4 1.5 0 1.4-0.3 1.5-0.2 1.5 0.1 1.5 0.6 1.5 0.6 1.5-0.9 1.5 0.4 1.5-0.2 1.5-0.3 1.5-0.1 1.5-0.6 1.5 0.8 1.5 0.9 1.5-1.3 1.5-0.2 1.5 1.4 1.5-1.2 1.5 0.2 1.5 0.4 1.5-0.4 1.5-0.1 1.5-0.1 1.5-0.4 1.5 0.7 1.5 0 1.5-1.4"/>
<path d="M585.7 2142.1l1.5-1.5 1.5 1.4 1.5-2.2 1.5 1.9 1.5-1 1.5 0.7 1.5-0.5 1.5 0.8 1.5-0.5 1.5 0.1 1.5-0.1 1.5-0.4 1.5 0.7 1.5 0 1.5 0.5 1.5-0.6 1.5 0.2 1.5-0.8 1.5 0.1 1.5 0.8 1.5-0.7 1.5-0.5 1.5 0.9 1.5 0.6 1.5-2.1 1.4 1.1 1.5-0.1 1.5-1 1.5 1.9 1.5-0.7 1.5 1.3 1.5-1.4 1.5 0.1 1.5 0.6 1.5 0.1 0.6-0.4 0.3 0 0.4 1.3 0.2 3.5 0.2 2.9 0.4 9.8 0.3 13.5 0.4 13.1 0.2 8 0.2 4.4 0.4 11.4 0.3 5.2 0.4-0.1 0.2-0.5 0.2-2.9 0.4-10.4 0.3-10.8 0.4-14.4 0.2-7.6 0.2-4.2 0.4-9.4 0.3-7.7 0.4 0.2 0.2-0.1 0.2 1 0.4 0.2 0.3 1.7 0.4 0.7 0.2 0.2 0.2 0 0.4 0.6 0.3 0.4 0.6 0.4 1.5 2.3 1.5 0.4 1.5 1.9 1.5 0 1.5 0.2 1.5 0.1 1.5 2.4 1.5-1.9 1.5 2.1 1.5-1.8 1.5 0.9 1.5-0.2 1.5 0.7 1.5-1.1 1.5 0 1.5 0.7 1.5 0 1.5-1 1.5-0.2 1.5 0.1 1.5 0.6 1.5-0.3 1.5-0.6 1.5-0.1 1.5-0.2 1.5 0.5 1.5 0.4 1.5-0.7 1.5-0.2 1.5 0.5 1.5-0.6 1.5 0.7 1.5-0.8 1.4 0.5 1.5-1.7 1.5 0.5 1.5 0.5 1.5 0.8 1.5-0.1 1.5-1.2 1.5 0.5 1.5-0.4 1.5 1.1 1.5-0.1 1.5-1 1.5 0.1 1.5 0.6 1.5-0.4 1.5-0.9 1.5 0.6 1.5-0.6 1.5-0.7 1.5 0.7 1.5 0.1 1.5 0.4 1.5-1.1 1.5 1.5 1.5-0.3 1.5-0.6 1.5 0.8 1.5-1.5 1.5 0.9 1.5-0.7 1.5 0.5 1.5-0.1 1.5-0.2 1.5 1.1 1.5-0.5 1.5-0.4 1.5-1.6 1.5 0.8 1.5 0 1.5 1 1.5-1.1 1.5-0.3 1.5 0.3 1.5-1.1 1.5 2.2 1.5-0.1 1.5-0.5 1.5 0.4 1.5-0.7 1.5-0.3 1.4 0.3 1.5-0.1 1.5-0.2 1.5-0.2 1.5 0.8 1.5 0 1.5-1.1 1.5 0.9 1.5 0.2 1.5-0.6 1.5 0.3 1.5-0.3 1.5 0.1 1.5-0.4 1.5-0.2 1.5 1 1.5 0.2 1.5-1.6 1.5 1.3 1.5 0.5 1.5 0.2 1.5-1.1 1.5 0.3 1.5 0.7 1.5-0.5 1.5 0 1.5-1.2 1.5 0.4 1.5 0.2 1.5 0.7 1.5-0.6 1.5-0.5 1.5 0.2 1.5-0.5 1.5 0.6 1.5-0.4 1.5 0.1 1.5 0.6 1.5-1.1 1.5 0.6 1.5-0.3 1.5 1.1 1.5 0 1.5-0.6 1.5 0.4 1.5-0.8 1.5 0.1 1.5-0.5 1.5 0.4 1.4 0.9 1.5-1.2 1.5 0.9 1.5 0.1 1.5-0.5 1.5 0.1 1.5-0.7 1.5-1 1.5 1.4 1.5-0.6 1.5 0.9 1.5-0.3 1.5 0.5 1.5-0.1 1.5-1 1.5 0.5 1.5 0 1.5 0.7 1.5-1.4 1.5 1.1 1.5 0.2 1.5-0.3 1.5-0.4 1.5-0.1 1.5-0.4 1.5 1.5 1.5-0.4 1.5-1.2 1.5-0.4 1.5 1.7 1.5-0.3 1.5 0.8 1.5-0.4 1.5 0 1.5-0.4 1.5 0.6 1.5-1.2 1.5 0.5 0.7 0.1 0.4-0.6 0.4 0.7 0.3 0.5 0.4-2.3 0.4-5 0.4-4.7 0.3-7.9 0.4-8.8 0.4-10.1 0.4-22.2 0.3-8.9 0.4-10.9 0.4-9.6 0.4-7.9 0.3-6.8 0.4-4.4 0.4-0.5 0.4 1 0.3 3 0.4 4.8 0.4 8.7 0.4 8.5 0.3 9.6 0.4 10.4 0.4 12 0.4 9.1 0.3 10.6 0.4 6.8 0.4 6.4 0.4 6.2 0.3 0.6 0.4 0.4 0.4 0.5 0.4-0.9 0.3-0.6 0.4 0.8 0.4 0.9 0.4 0.2 0.3-0.1 1.2-0.1 1.5-1.2 1.5 0.4 1.4 0.2 1.5-0.5 1.5 0.5 1.5 0 1.5 0.5 1.5-0.1 1.5-0.4 1.5 0.7 1.5-1.6 1.5 0.8 1.5 0.4 1.5-0.8 1.5 1.1 1.5-1.2 1.5 0.6 1.5-1.1 1.5 1.4 1.5-0.1 1.5 0.3 1.5 0.2 1.5-0.8 1.5 0.7 1.5-0.8 1.5 0.6 1.5-1 1.5 2.1"/>
<path d="M585.7 2142.5l1.5-0.5 1.5 0.4 1.5 0 1.5-0.2 1.5-0.4 1.5 1.1 1.5-0.4 1.5 0.5 1.5-1 1.5 0.7 1.5 0 1.5-0.8 1.5 0.3 1.5-0.2 1.5 0.3 1.5-0.3 1.5 0.2 1.5 0.7 1.5-0.8 1.5 0.3 1.5 0 1.5-0.3 1.5 0.5 1.5 0.2 1.5-1.2 1.4-0.4 1.5 1.2 1.5-0.8 1.5 0.4 1.5 0.6 1.5 0.1 1.5-0.3 1.5 0.1 1.5-0.1 1.5-0.1 0.6 0.6 0.3-1.2 0.4 2.4 0.2 2.2 0.2 1.5 0.4 8.8 0.3 10.8 0.4 13 0.2 7.1 0.2 3.7 0.4 9.6 0.3 5.2 0.4 1.1 0.2-2.4 0.2-0.7 0.4-9.6 0.3-9.4 0.4-13.8 0.2-4.9 0.2-5.4 0.4-9 0.3-2.9 0.4 0.3 0.2-1 0.2 1.9 0.4 1.6 0.3-0.1 0.4 3.4 0.2-0.2 0.2 0.4 0.4 0.6 0.3 1.7 0.6-0.3 1.5 2.6 1.5 2.7 1.5 1.8 1.5 1.9 1.5-0.3 1.5 1.3 1.5-0.3 1.5 0.1 1.5 0.8 1.5 1.3 1.5-0.6 1.5-1.3 1.5 0.6 1.5-0.7 1.5 2 1.5-1.3 1.5-0.1 1.5 0.7 1.5-0.7 1.5-1 1.5 0.1 1.5 0.5 1.5-0.6 1.5-0.7 1.5 1.2 1.5-0.9 1.5-0.6 1.5 0.9 1.5-1.2 1.5 0.6 1.5-0.8 1.5 0 1.5 0.3 1.4 0.2 1.5 0.1 1.5-0.6 1.5-0.1 1.5-0.8 1.5 0.8 1.5-0.4 1.5-0.8 1.5 0.7 1.5-0.2 1.5-0.7 1.5 0.8 1.5-0.3 1.5-0.3 1.5 0.4 1.5 0.5 1.5 0.1 1.5-0.7 1.5-0.9 1.5 0 1.5-0.4 1.5 0.3 1.5 0.9 1.5 0.4 1.5-0.6 1.5-0.2 1.5 0.2 1.5-1 1.5 0.9 1.5-0.8 1.5-0.2 1.5 1.4 1.5-0.8 1.5-1 1.5 0.1 1.5 0.4 1.5 0.7 1.5-0.3 1.5-0.5 1.5-0.7 1.5 0.4 1.5 0.3 1.5-0.3 1.5-0.3 1.5 1.4 1.5-0.5 1.5-0.6 1.5-0.7 1.5 0 1.5 1.1 1.4-0.5 1.5 0.4 1.5-0.3 1.5-0.3 1.5 0.3 1.5 0 1.5 0.4 1.5 0.2 1.5-0.9 1.5-0.2 1.5-0.3 1.5 0.8 1.5-0.1 1.5-1.1 1.5 0.4 1.5-0.2 1.5 0.8 1.5 0 1.5 0.2 1.5-1.2 1.5 1.2 1.5 0.3 1.5-0.6 1.5-1.1 1.5 0.7 1.5-0.2 1.5 0.1 1.5 0 1.5 0.1 1.5 0.7 1.5-1.8 1.5 1 1.5-0.8 1.5 1.6 1.5-1.2 1.5 1 1.5 0 1.5-0.9 1.5-0.5 1.5-0.2 1.5 0.1 1.5 0.9 1.5-0.7 1.5 0.8 1.5 0 1.5-0.5 1.5 0.2 1.5-0.6 1.5 1.6 1.4-1.7 1.5 0.9 1.5-1.2 1.5 0.2 1.5 1.3 1.5-0.6 1.5-0.4 1.5 0.8 1.5-0.1 1.5-0.2 1.5-0.6 1.5-0.1 1.5 0.7 1.5-0.7 1.5-0.4 1.5 0.3 1.5 1 1.5 0 1.5-0.6 1.5-0.3 1.5 0.2 1.5 0.4 1.5 0.3 1.5-1.2 1.5 0.8 1.5-1.2 1.5 1.7 1.5-0.4 1.5 0.1 1.5-1.4 1.5 0.4 1.5 0.9 1.5 0.9 1.5-1.8 1.5 0.6 1.5 0.7 1.5 0.2 1.5-1.1 0.7 0.3 0.4-0.2 0.4-0.1 0.3 0.4 0.4-1.4 0.4-3.9 0.4-4.8 0.3-6.8 0.4-8.6 0.4-7.6 0.4-29.8 0.3-9 0.4-8.4 0.4-8.4 0.4-7.7 0.3-4.8 0.4-2.1 0.4-1.8 0.4 0.1 0.3 1.9 0.4 5.3 0.4 7 0.4 7.3 0.3 9.2 0.4 9.6 0.4 9.1 0.4 10.6 0.3 6.7 0.4 7.5 0.4 6.3 0.4 4.2 0.3 2.1 0.4-0.7 0.4 0.1 0.4 0 0.3-0.9 0.4 2.3 0.4-0.9 0.4 0 0.3-0.9 1.2 0.6 1.5 0.4 1.5-0.6 1.4-0.1 1.5-0.7 1.5 0.8 1.5 0.3 1.5 0.1 1.5 0.2 1.5-0.8 1.5-0.2 1.5 0.6 1.5 0 1.5-0.9 1.5 0.7 1.5-0.2 1.5 0.9 1.5-0.3 1.5 0.9 1.5-0.4 1.5-1 1.5-0.5 1.5 0.9 1.5 0.5 1.5-0.8 1.5-0.6 1.5 0.8 1.5-0.6 1.5 0.5"/>
<path d="M585.7 2142.9l1.5-0.3 1.5 0 1.5 0.4 1.5-0.2 1.5 0.1 1.5-0.6 1.5-0.4 1.5 0.1 1.5 0.9 1.5-0.5 1.5 0.8 1.5 0.2 1.5-0.7 1.5-0.3 1.5 0.4 1.5-0.5 1.5 0 1.5 0 1.5 0.5 1.5 0.7 1.5-1.8 1.5 1.3 1.5-0.7 1.5 0.2 1.5 0.5 1.4-1.3 1.5 0.7 1.5 0.4 1.5 0.2 1.5 0.3 1.5 0.2 1.5-1.1 1.5 0.6 1.5 0 1.5-0.5 0.6 0.5 0.3-0.6 0.4 1.3 0.2 1.9 0.2 1.5 0.4 8.5 0.3 9.1 0.4 10.7 0.2 6.2 0.2 5 0.4 7.6 0.3 4.4 0.4 0.7 0.2-2.7 0.2-0.9 0.4-6.8 0.3-9.9 0.4-10.8 0.2-4.4 0.2-4.5 0.4-6.1 0.3-2.3 0.4-0.2 0.2 2.5 0.2 0.2 0.4 1.6 0.3 1.6 0.4 1 0.2 1.7 0.2 1 0.4 0.8 0.3 1.3 0.6 1.7 1.5 4.5 1.5 2.8 1.5 2.8 1.5 1.1 1.5 2 1.5 1 1.5-0.3 1.5 1.6 1.5-0.1 1.5-0.1 1.5 0.6 1.5-0.6 1.5 0.8 1.5-1 1.5 1.4 1.5-0.2 1.5-0.9 1.5-0.9 1.5-0.3 1.5 1.3 1.5-0.6 1.5 0.1 1.5 0.7 1.5-1.7 1.5 0.4 1.5-1.1 1.5 0.5 1.5 0.3 1.5-0.1 1.5-0.4 1.5-0.5 1.5 0.4 1.5-2 1.4 1.3 1.5 0.6 1.5-0.8 1.5-0.7 1.5 0.3 1.5 0.3 1.5 0.1 1.5-0.1 1.5 0.1 1.5-0.5 1.5-0.5 1.5 0.4 1.5-1.4 1.5 0.6 1.5 0.4 1.5-0.3 1.5-1 1.5 1.7 1.5-1.2 1.5-1.4 1.5 0.8 1.5 1 1.5-0.6 1.5 0.1 1.5-1.8 1.5 1.9 1.5-0.3 1.5 0 1.5 0.5 1.5 1 1.5-1.8 1.5-0.5 1.5 0.5 1.5-0.6 1.5-0.2 1.5 0 1.5 1.3 1.5-1.9 1.5 0.3 1.5 0 1.5 0.4 1.5-0.1 1.5 0.3 1.5-0.6 1.5-0.3 1.5 0.8 1.5-0.9 1.5 0.7 1.5-0.6 1.5 0.3 1.4-0.6 1.5-0.6 1.5 0.9 1.5 0.4 1.5-0.1 1.5-0.6 1.5 0.6 1.5-0.9 1.5 0.4 1.5-0.4 1.5 0.8 1.5 0.2 1.5-0.2 1.5-0.7 1.5 0.7 1.5-0.9 1.5 1.5 1.5-0.8 1.5-0.3 1.5 0.9 1.5-0.7 1.5 0.5 1.5-0.9 1.5 0.1 1.5-0.6 1.5 0.9 1.5 0.4 1.5-0.6 1.5-0.4 1.5 0 1.5-0.1 1.5-0.6 1.5 0.9 1.5-0.1 1.5 0.3 1.5-0.1 1.5-1 1.5 0.4 1.5 1.7 1.5-2.2 1.5 1.8 1.5-0.9 1.5-0.8 1.5 0.4 1.5-0.2 1.5-0.2 1.5 0.3 1.5 0.8 1.5-0.9 1.4 0.6 1.5 1 1.5-1.2 1.5-0.5 1.5 0.2 1.5 0 1.5-0.9 1.5 0.8 1.5-0.4 1.5 0.3 1.5-0.7 1.5 1.1 1.5-0.9 1.5-0.4 1.5 1.3 1.5-0.8 1.5 1.3 1.5-1 1.5-0.2 1.5 0.9 1.5 0.5 1.5-1 1.5 0.2 1.5-0.3 1.5-0.1 1.5-0.3 1.5-0.4 1.5 0.6 1.5 1.1 1.5-1.3 1.5 0.2 1.5 0.1 1.5-0.8 1.5 0.8 1.5 0.3 1.5-0.5 1.5 1.2 1.5-1.5 0.7 0.5 0.4-0.9 0.4 0.6 0.3 0.1 0.4-1 0.4-2.2 0.4-5.2 0.3-6.2 0.4-7.5 0.4-7.6 0.4-37.4 0.3-8.3 0.4-7.2 0.4-7.6 0.4-5.7 0.3-4 0.4-2.8 0.4-2.5 0.4 0.3 0.3 2.5 0.4 5.4 0.4 4.3 0.4 6.8 0.3 9 0.4 7.6 0.4 7.6 0.4 9 0.3 6.7 0.4 7.4 0.4 4.9 0.4 2.7 0.3 2.3 0.4 0 0.4 0 0.4 0.7 0.3-1.5 0.4 1 0.4 0.1 0.4 0 0.3-0.3 1.2 0.6 1.5-1 1.5 0.7 1.4-0.7 1.5 1 1.5 0.1 1.5-0.1 1.5-0.7 1.5 0.9 1.5-1.2 1.5 0.7 1.5-0.7 1.5 0.7 1.5-0.7 1.5 1.1 1.5 0 1.5-1 1.5 0.7 1.5-0.9 1.5 1 1.5-0.7 1.5 0.7 1.5 0.6 1.5-1.8 1.5 0.9 1.5-0.7 1.5 0.5 1.5 1.1 1.5-1.2"/>
<path d="M585.7 2141.3l1.5 0.7 1.5-1.1 1.5 0 1.5 0.3 1.5 0.6 1.5-0.8 1.5 0.7 1.5-1 1.5 1 1.5 0 1.5-0.2 1.5 0.4 1.5 0 1.5-0.4 1.5 1.3 1.5-2.6 1.5 1 1.5 0 1.5 0.7 1.5-0.6 1.5 0.1 1.5-0.1 1.5 0.9 1.5-0.8 1.5 1 1.4-0.9 1.5 0.4 1.5-0.2 1.5-0.2 1.5-0.6 1.5-0.2 1.5 0.6 1.5 0.7 1.5-1.5 1.5 1.7 0.6-0.5 0.3-0.2 0.4 2.2 0.2 0.5 0.2 2.5 0.4 6.1 0.3 9.2 0.4 8.5 0.2 5.6 0.2 3.5 0.4 6.5 0.3 3.8 0.4 0.4 0.2-0.9 0.2-0.9 0.4-6.6 0.3-6.8 0.4-10.5 0.2-3.8 0.2-3.2 0.4-2 0.3-4.2 0.4 2.9 0.2 2.2 0.2 0 0.4 2.4 0.3 2.3 0.4 1.2 0.2 2.9 0.2 0.2 0.4 2 0.3 2.2 0.6 2 1.5 5 1.5 5.3 1.5 2.5 1.5 2.1 1.5 2 1.5 2.7 1.5-0.1 1.5 1.1 1.5-0.4 1.5 1.1 1.5-0.9 1.5 1.9 1.5-1 1.5 0.8 1.5-1.6 1.5 0.1 1.5 1.2 1.5-1 1.5 0.3 1.5 0.7 1.5-0.5 1.5-0.8 1.5-0.4 1.5 0.3 1.5-0.6 1.5-0.2 1.5-0.1 1.5 0.6 1.5-0.9 1.5-0.4 1.5 1 1.5-1.9 1.5-0.1 1.4 0.6 1.5-1.2 1.5 1.5 1.5-0.1 1.5-0.3 1.5-0.1 1.5-1.6 1.5 0.9 1.5-0.1 1.5-0.3 1.5-0.9 1.5 0.7 1.5 0.2 1.5-0.5 1.5-0.6 1.5 0.7 1.5-1 1.5 0.5 1.5 0.1 1.5-0.4 1.5-1 1.5 1.2 1.5-1 1.5 0.4 1.5 0.1 1.5 0 1.5-0.6 1.5 0.1 1.5 0 1.5-0.2 1.5 0.8 1.5-0.2 1.5 0.1 1.5-0.4 1.5-0.2 1.5 0 1.5-0.5 1.5 0.7 1.5-0.4 1.5-0.7 1.5-0.5 1.5 0.8 1.5-0.7 1.5-0.1 1.5 1.3 1.5-0.8 1.5 0.7 1.5-0.5 1.5-0.5 1.5 0.9 1.4-1 1.5 0.3 1.5 0 1.5-0.5 1.5 0.8 1.5 0.4 1.5-1 1.5 0.4 1.5-0.4 1.5 0.5 1.5-0.1 1.5 0 1.5 0.1 1.5-0.3 1.5-0.1 1.5-0.4 1.5-1.8 1.5 2.1 1.5 0.5 1.5-1.3 1.5 1 1.5-0.2 1.5-0.3 1.5-0.3 1.5 0 1.5-0.2 1.5 0.2 1.5-0.7 1.5 0.1 1.5 0.8 1.5-0.2 1.5 0.6 1.5-1.2 1.5 0.5 1.5-1.2 1.5 1.4 1.5-1.2 1.5 1.3 1.5 0.4 1.5-0.5 1.5-0.6 1.5-0.4 1.5 1 1.5-1.1 1.5 0.9 1.5-0.1 1.5-0.1 1.5-1.1 1.5 0.8 1.4-0.1 1.5 1 1.5-0.9 1.5-0.1 1.5-0.8 1.5 1.4 1.5-0.1 1.5 0.1 1.5-0.2 1.5-0.7 1.5 0.8 1.5-1.2 1.5 0.7 1.5 0.5 1.5-0.1 1.5 0.4 1.5 0 1.5-1.5 1.5 0.2 1.5 1 1.5-0.3 1.5-1.2 1.5 1.3 1.5-0.5 1.5-0.2 1.5 0.4 1.5 0 1.5 0.1 1.5-0.3 1.5 1 1.5-1 1.5 0 1.5 0.8 1.5-1 1.5 0.8 1.5 0.9 1.5-0.4 1.5-1.1 0.7-0.3 0.4 0.6 0.4 0.5 0.3-0.7 0.4-1.6 0.4-2 0.4-3.1 0.3-6.3 0.4-5.7 0.4-6.8 0.4-48.4 0.3-7.4 0.4-6.4 0.4-5.6 0.4-5.7 0.3-4 0.4-3.1 0.4 0.3 0.4 0 0.3 2.5 0.4 2.9 0.4 5.2 0.4 7.3 0.3 4.4 0.4 7.9 0.4 7.4 0.4 7.2 0.3 6 0.4 5.6 0.4 3.7 0.4 2.7 0.3 1.6 0.4-0.1 0.4 0.7 0.4-0.8 0.3 0.4 0.4-0.3 0.4-0.1 0.4 0.5 0.3-0.9 1.2 0.3 1.5 0.7 1.5-1.3 1.4 0.1 1.5 1.8 1.5 0.4 1.5-0.9 1.5-0.6 1.5-0.3 1.5 0.2 1.5 0.3 1.5-0.5 1.5 0.1 1.5 0.7 1.5-0.4 1.5-0.5 1.5 1 1.5 0 1.5 0.1 1.5-1.3 1.5 0.4 1.5-0.1 1.5 0.7 1.5-0.2 1.5-0.7 1.5 0.9 1.5-0.8 1.5 0.6 1.5 0"/>
<path d="M585.7 2142.5l1.5 0.1 1.5 0.7 1.5-1.7 1.5-0.3 1.5 1.5 1.5-0.5 1.5-0.1 1.5 0.8 1.5-0.9 1.5-0.2 1.5 0.5 1.5 0.3 1.5-0.7 1.5-0.2 1.5 1.1 1.5-0.7 1.5-0.4 1.5 1.9 1.5-1.8 1.5-0.8 1.5 1.7 1.5-1.4 1.5 0.9 1.5-0.5 1.5 0.4 1.4 0.5 1.5 0.4 1.5-2.3 1.5 2 1.5-0.6 1.5-0.9 1.5 0.6 1.5 0.1 1.5 1.2 1.5-0.8 0.6 0.4 0.3 0.3 0.4-0.1 0.2 1.1 0.2 2.6 0.4 5.3 0.3 6.4 0.4 7.4 0.2 5.3 0.2 1.7 0.4 5.7 0.3 3.7 0.4 1.1 0.2-2 0.2-1.5 0.4-5.6 0.3-5.4 0.4-8.8 0.2-2 0.2-1.6 0.4-1.5 0.3 0.1 0.4 1.8 0.2 3.2 0.2 0.6 0.4 3.8 0.3 2.9 0.4 3.2 0.2 1 0.2 2.4 0.4 1.5 0.3 1.6 0.6 3.5 1.5 8.5 1.5 5.2 1.5 3.8 1.5 1.9 1.5 3.7 1.5 1.6 1.5 1.4 1.5 0.7 1.5 1.3 1.5-0.2 1.5 0.2 1.5-0.2 1.5 1.1 1.5-1 1.5-0.7 1.5 0.6 1.5-0.1 1.5 1.5 1.5-2.3 1.5-0.5 1.5 0.1 1.5 0.2 1.5-0.4 1.5-1.5 1.5 1.9 1.5-0.4 1.5-1.1 1.5 0.3 1.5 1.1 1.5-1.5 1.5-0.3 1.5 0.5 1.5-1 1.4-0.1 1.5 1 1.5-1.5 1.5-1.1 1.5 0 1.5 1.5 1.5-0.1 1.5-1 1.5-0.3 1.5 0.8 1.5-0.5 1.5-1.3 1.5 0.4 1.5-0.6 1.5 0.5 1.5-0.7 1.5 0.7 1.5-0.1 1.5 0.1 1.5 0.4 1.5-1 1.5 0.4 1.5-0.6 1.5-0.5 1.5-0.1 1.5-0.2 1.5 0.3 1.5-0.3 1.5-0.8 1.5 0.6 1.5-0.2 1.5 1.4 1.5-0.9 1.5-1.4 1.5 1.1 1.5 0 1.5-1.2 1.5 1.1 1.5-1.3 1.5 0.5 1.5 0.2 1.5 0.8 1.5-2 1.5 1.7 1.5-0.4 1.5-1.2 1.5 1 1.5-1 1.5 0.2 1.5 0.1 1.4 0.4 1.5-0.3 1.5-0.6 1.5 0.7 1.5-1 1.5 0.1 1.5-0.2 1.5 0.1 1.5-0.2 1.5 0.1 1.5-0.3 1.5 0.2 1.5-0.1 1.5 0.7 1.5 0.4 1.5-1 1.5-0.6 1.5 1 1.5 0.4 1.5-0.7 1.5-0.5 1.5-0.3 1.5 0.6 1.5 0.4 1.5-0.6 1.5-0.5 1.5 0.4 1.5-0.6 1.5 0.8 1.5-0.8 1.5-0.5 1.5 1.5 1.5-0.1 1.5-0.9 1.5-1.5 1.5 1.5 1.5 0.3 1.5-0.8 1.5 0.8 1.5 0.8 1.5-0.4 1.5-1.3 1.5 1.7 1.5-0.2 1.5-1.3 1.5 0.4 1.5-0.7 1.5 1.3 1.5-0.2 1.4-0.2 1.5 0.4 1.5-0.5 1.5-0.1 1.5-0.6 1.5 0.5 1.5 0.2 1.5-0.5 1.5-0.4 1.5 0 1.5 0.4 1.5 0.4 1.5 0 1.5 0.5 1.5-0.8 1.5 0 1.5-0.9 1.5 0.8 1.5-0.4 1.5-0.3 1.5 1.8 1.5-0.7 1.5-0.2 1.5-0.3 1.5 0.7 1.5-1.1 1.5 0 1.5 0.2 1.5-0.1 1.5 1 1.5-1.3 1.5 1 1.5 0.7 1.5-1.2 1.5-0.1 1.5 0.6 1.5 0.5 1.5-0.3 0.7-0.5 0.4 1.3 0.4-2 0.3 0 0.4-0.2 0.4-2.8 0.4-2.6 0.3-3.7 0.4-6.1 0.4-5.6 0.4-59.1 0.3-5.7 0.4-5.9 0.4-6.3 0.4-3.4 0.3-5.1 0.4-0.1 0.4-1.6 0.4 0.7 0.3 2 0.4 2.4 0.4 5 0.4 4.4 0.3 6.1 0.4 6.5 0.4 4.6 0.4 6.5 0.3 5.4 0.4 3.4 0.4 4 0.4 2.2 0.3 0.4 0.4 1 0.4-0.1 0.4 0.9 0.3-1.2 0.4 0 0.4 1.1 0.4-1 0.3 0.2 1.2 0.3 1.5-0.1 1.5-1.4 1.4 1.8 1.5-0.2 1.5-0.2 1.5 0.1 1.5 1 1.5-1.5 1.5-0.1 1.5-0.5 1.5 1.3 1.5 0.4 1.5-1.1 1.5 1 1.5-0.6 1.5 0.2 1.5-0.3 1.5 0.4 1.5-0.7 1.5 0.9 1.5-1.9 1.5 1 1.5 0.8 1.5 0.2 1.5-0.5 1.5 0.2 1.5 0.2 1.5-1.3"/>
<path d="M585.7 2144.2l1.5-1.6 1.5 1.2 1.5-1.1 1.5 1.4 1.5-1 1.5 0.8 1.5-1 1.5 1 1.5 0.5 1.5 0.1 1.5-0.3 1.5-0.7 1.5 0.1 1.5 0.2 1.5-0.6 1.5-0.3 1.5 1.5 1.5-1.1 1.5-0.8 1.5 1.7 1.5 0 1.5-0.6 1.5 0.1 1.5 0.4 1.5-0.2 1.4-1 1.5 0.4 1.5 1 1.5 0.5 1.5-0.3 1.5-0.8 1.5 0.6 1.5 0 1.5-0.9 1.5 0.6 0.6 0.1 0.3-0.4 0.4-1.4 0.2 1.7 0.2 1.1 0.4 4.7 0.3 4.8 0.4 7.7 0.2 3.3 0.2 2 0.4 3 0.3 2.8 0.4 1.9 0.2-1.2 0.2-1.7 0.4-3.7 0.3-5.9 0.4-5.3 0.2-1.2 0.2-1.3 0.4 0 0.3 3.5 0.4 4 0.2 1.7 0.2 2.6 0.4 2.7 0.3 4.7 0.4 2.5 0.2 2.5 0.2 1.2 0.4 2.8 0.3 3.4 0.6 4.7 1.5 7.9 1.5 8.2 1.5 3.7 1.5 5.1 1.5 3 1.5 1.7 1.5 1.6 1.5 1.2 1.5 2 1.5 0.2 1.5-0.3 1.5 0.1 1.5 0.4 1.5-0.9 1.5 0.8 1.5-0.8 1.5-0.3 1.5 0.2 1.5 0.1 1.5-0.8 1.5-0.1 1.5-0.4 1.5 0.5 1.5-1 1.5-0.9 1.5 0.8 1.5-0.6 1.5 0 1.5-0.9 1.5 1.4 1.5-2.4 1.5 0.4 1.5 0.1 1.4-0.5 1.5-0.7 1.5 0.2 1.5-0.4 1.5-0.6 1.5 0.4 1.5-0.5 1.5-0.7 1.5 0.3 1.5 0.5 1.5-1 1.5-0.9 1.5 1.1 1.5-0.6 1.5-0.1 1.5-0.5 1.5 0.6 1.5-0.4 1.5-1.3 1.5 0.6 1.5 0.5 1.5-0.9 1.5 0.3 1.5-1 1.5 1.6 1.5-1.1 1.5-0.6 1.5 1.1 1.5-0.4 1.5-0.8 1.5 0.1 1.5 0.1 1.5-0.5 1.5 0.8 1.5-0.4 1.5-1.6 1.5 1.3 1.5-0.7 1.5 0.1 1.5-0.6 1.5 0.2 1.5-0.1 1.5-0.6 1.5 0.4 1.5 1.1 1.5-0.7 1.5-1.3 1.5 0.2 1.5 0.6 1.5 0.7 1.4-0.6 1.5-1.6 1.5 0.4 1.5-0.1 1.5 1.5 1.5-0.2 1.5-0.5 1.5 0.4 1.5-0.9 1.5 0.6 1.5-0.9 1.5 0.3 1.5 0.1 1.5-0.7 1.5 0 1.5 0.2 1.5 0.2 1.5-0.2 1.5 1 1.5-0.1 1.5-0.7 1.5-0.5 1.5-1 1.5 0.7 1.5 0.8 1.5-0.4 1.5 0.4 1.5-0.7 1.5 0 1.5-0.1 1.5-0.2 1.5-0.5 1.5 0.2 1.5 1 1.5-1.2 1.5 1 1.5-0.8 1.5 0.2 1.5-1 1.5 1 1.5 0 1.5 0 1.5-0.6 1.5 0.2 1.5 0.3 1.5-0.6 1.5-0.7 1.5 0.2 1.5 0 1.4 1.2 1.5-0.3 1.5-0.2 1.5 1.1 1.5-2 1.5 1.8 1.5-1.1 1.5 0.9 1.5-0.8 1.5-0.4 1.5 0.1 1.5 0.8 1.5-0.1 1.5-0.9 1.5 0.5 1.5-0.1 1.5-0.5 1.5 1.9 1.5-1.5 1.5-0.6 1.5-0.3 1.5 0.6 1.5 0.7 1.5-0.9 1.5-0.5 1.5 1.4 1.5 0 1.5-0.4 1.5 0.2 1.5 0.9 1.5 0.2 1.5-0.6 1.5-0.4 1.5-0.7 1.5 0.6 1.5-0.4 1.5-0.7 1.5-0.9 0.7 1.1 0.4 1.1 0.4-1.1 0.3 0.5 0.4-0.8 0.4-2.1 0.4-2.5 0.3-2.3 0.4-4.1 0.4-5.3 0.4-73.1 0.3-5.5 0.4-3.7 0.4-3.5 0.4-3.3 0.3-2.5 0.4-1.4 0.4-0.7 0.4 0 0.3 1 0.4 2.9 0.4 2.8 0.4 4 0.3 4.4 0.4 4.8 0.4 4.4 0.4 4.7 0.3 5.8 0.4 1.9 0.4 3 0.4 2.4 0.3 0.5 0.4 0.6 0.4-0.5 0.4 0.6 0.3-0.9 0.4 0.2 0.4 1 0.4-0.4 0.3-0.8 1.2 0.2 1.5 0.1 1.5 0.7 1.4-0.2 1.5-0.5 1.5-0.1 1.5 0.2 1.5 0.5 1.5-0.4 1.5 0.2 1.5 0.3 1.5 0 1.5-0.2 1.5 0.4 1.5-1.1 1.5-0.1 1.5-0.1 1.5 0.9 1.5 0 1.5-0.5 1.5 0.4 1.5-0.1 1.5 0 1.5 0.7 1.5-1.6 1.5 1.5 1.5 0.1 1.5-1.4 1.5 1.1"/>
<path d="M585.7 2144.3l1.5-0.7 1.5 0.1 1.5 0.7 1.5-0.1 1.5-0.1 1.5-0.5 1.5-0.3 1.5-0.2 1.5 0.7 1.5-1 1.5 0.4 1.5-0.4 1.5 1.3 1.5-0.8 1.5-0.3 1.5 1.6 1.5-1.5 1.5 0.2 1.5-0.2 1.5 0.4 1.5-0.6 1.5 0.9 1.5 0.1 1.5-0.7 1.5 0 1.4 1.1 1.5-1.4 1.5 0 1.5 0.1 1.5 1 1.5-1.1 1.5 0.4 1.5-0.2 1.5 0.5 1.5 0.2 0.6 0.2 0.3-0.1 0.4-1.5 0.2 1.8 0.2 0.8 0.4 2.8 0.3 4.5 0.4 5.6 0.2 1.7 0.2 1.6 0.4 2.3 0.3 2.4 0.4 1.2 0.2-0.6 0.2-1.2 0.4-3.3 0.3-3.5 0.4-5.3 0.2 0.4 0.2 0.1 0.4 2.2 0.3 5.8 0.4 3.4 0.2 2.8 0.2 2.1 0.4 5.1 0.3 4.6 0.4 4.1 0.2 2.4 0.2 1.7 0.4 3 0.3 3.8 0.6 5.1 1.5 11.7 1.5 8.2 1.5 5.5 1.5 6 1.5 2.5 1.5 4 1.5 0.1 1.5 1.9 1.5 2.1 1.5 0.6 1.5 1.3 1.5-0.8 1.5-0.6 1.5 0.3 1.5 0.3 1.5-1.4 1.5 0.6 1.5-0.2 1.5 0.1 1.5-0.8 1.5-1.5 1.5 0.9 1.5 0.8 1.5-1.3 1.5-1.3 1.5 0.1 1.5 0.6 1.5-0.8 1.5 0.7 1.5-1.5 1.5 0.5 1.5-0.5 1.5-0.3 1.4-0.2 1.5-1.6 1.5-0.2 1.5 0.7 1.5-0.5 1.5-1.1 1.5 0.8 1.5-0.1 1.5 0 1.5-1.6 1.5 0.5 1.5-0.1 1.5 0 1.5 0 1.5-1.2 1.5 0.7 1.5-0.3 1.5 0.4 1.5-0.5 1.5-0.5 1.5-0.2 1.5 0.4 1.5-0.7 1.5-0.4 1.5 1.2 1.5-1.9 1.5 0.3 1.5 0.4 1.5-0.7 1.5-0.6 1.5 0.1 1.5-0.2 1.5-0.1 1.5-0.5 1.5 1 1.5-0.6 1.5-0.6 1.5 0.1 1.5 0.4 1.5-0.5 1.5 0.1 1.5-0.5 1.5 0.8 1.5-0.1 1.5-0.2 1.5-0.9 1.5-1.5 1.5 0.7 1.5-0.2 1.5 0.6 1.4-1 1.5 0.6 1.5 0.1 1.5-0.7 1.5 1.2 1.5 0.5 1.5-0.7 1.5-1.5 1.5 0.2 1.5 0.3 1.5 0.2 1.5-0.1 1.5-0.4 1.5 0.6 1.5-0.9 1.5 0.9 1.5-1.4 1.5 0.9 1.5 0.3 1.5-0.5 1.5 0.3 1.5-0.5 1.5 0.9 1.5-0.8 1.5-0.3 1.5-0.3 1.5 0.4 1.5-0.9 1.5 1.5 1.5-0.8 1.5 0.1 1.5-0.3 1.5 0.1 1.5-1 1.5 0.7 1.5 0.5 1.5-1.9 1.5 1.3 1.5 0.1 1.5-0.6 1.5 0.7 1.5-0.2 1.5-0.6 1.5 1.1 1.5-0.5 1.5-0.8 1.5-0.5 1.5 1 1.5 0 1.4-0.7 1.5 1.4 1.5-0.4 1.5 0 1.5 0.7 1.5 0.4 1.5-1.4 1.5-0.8 1.5 0.1 1.5-0.3 1.5 2.2 1.5-1.5 1.5-0.8 1.5 1.2 1.5 0.2 1.5-0.9 1.5 0.1 1.5-0.3 1.5 0.3 1.5-0.7 1.5 0.3 1.5 0.2 1.5 0.3 1.5-0.6 1.5 0.8 1.5-1 1.5-0.1 1.5 0.1 1.5 1.2 1.5-0.9 1.5 0 1.5-0.3 1.5 1.3 1.5-0.5 1.5-0.3 1.5-0.9 1.5 1.1 1.5-0.8 0.7 0.4 0.4-1 0.4 0.9 0.3 1.1 0.4-1.3 0.4-1.5 0.4-2.6 0.3-2.2 0.4-2.5 0.4-2.9 0.4-86.6 0.3-3.5 0.4-4.2 0.4-2.8 0.4-1.3 0.3-1.4 0.4-2.4 0.4-0.8 0.4 0.9 0.3 0.8 0.4 0.8 0.4 2.7 0.4 4.3 0.3 2.2 0.4 3.6 0.4 3.8 0.4 3 0.3 3.1 0.4 1.7 0.4 3.4 0.4 2 0.3 0.6 0.4-0.6 0.4-0.7 0.4 0.8 0.3 0 0.4 0.2 0.4 0.4 0.4-0.3 0.3 0.7 1.2-1.1 1.5 0.1 1.5 0.2 1.4 0.6 1.5-0.3 1.5 0.1 1.5-0.5 1.5 0.4 1.5-0.4 1.5-0.3 1.5-0.2 1.5 1.3 1.5-0.4 1.5 0.4 1.5-1.3 1.5 1.2 1.5-1.3 1.5 1.1 1.5-0.9 1.5 0.9 1.5-0.2 1.5-0.2 1.5 0.1 1.5 0.1 1.5-0.5 1.5-0.3 1.5 0.2 1.5 0.8 1.5 0.7"/>
<path d="M585.7 2142.1l1.5 0.7 1.5-1.1 1.5 1.1 1.5 0.1 1.5-0.1 1.5-0.5 1.5 0.7 1.5-1.9 1.5 1.5 1.5-1.2 1.5 1.2 1.5 0 1.5 0.2 1.5 0 1.5-0.7 1.5-0.4 1.5 0.6 1.5 0.6 1.5-0.6 1.5 0.5 1.5 1.1 1.5-1.6 1.5 1.1 1.5-0.7 1.5-0.3 1.4 0.2 1.5-0.1 1.5-1 1.5 0.4 1.5-0.4 1.5 0.8 1.5 0 1.5-0.9 1.5 1.3 1.5-0.5 0.6 0.1 0.3-0.1 0.4 0.4 0.2 0.8 0.2 0.3 0.4 3.1 0.3 2 0.4 3.9 0.2 0.5 0.2 1.2 0.4 2.9 0.3 1.5 0.4-0.1 0.2-0.8 0.2 0.6 0.4-2.2 0.3-3.8 0.4-2.4 0.2 1.1 0.2 2.7 0.4 4 0.3 6.2 0.4 5 0.2 3.7 0.2 1.5 0.4 7.4 0.3 4.4 0.4 6 0.2 2.7 0.2 1.5 0.4 4.8 0.3 2.6 0.6 7.1 1.5 13.1 1.5 8.1 1.5 9.1 1.5 5.5 1.5 4.2 1.5 3.5 1.5 1.6 1.5 1.4 1.5 2.5 1.5 0.4 1.5 0.5 1.5 0.8 1.5 0.1 1.5-0.6 1.5 0.2 1.5-0.9 1.5-0.6 1.5 0.1 1.5-0.4 1.5 0.3 1.5-0.6 1.5-1 1.5-0.5 1.5 0 1.5-0.7 1.5 0 1.5 0.1 1.5-1.2 1.5 0 1.5 0.4 1.5-1.8 1.5-0.1 1.5-0.6 1.4 0.3 1.5-1.4 1.5 0.2 1.5-0.6 1.5 0.6 1.5-0.5 1.5-1.2 1.5 0.4 1.5-0.3 1.5-1.1 1.5-0.1 1.5 0.3 1.5-1.2 1.5 1.6 1.5-1 1.5 0 1.5-1.4 1.5-0.3 1.5 0.9 1.5-0.5 1.5-0.7 1.5 0 1.5-0.1 1.5-0.6 1.5-0.7 1.5 0.8 1.5 0.5 1.5-0.7 1.5-0.3 1.5 0 1.5-0.7 1.5-0.2 1.5-0.3 1.5 0.1 1.5-0.1 1.5 0.6 1.5-0.5 1.5 0.1 1.5-0.8 1.5 0.1 1.5-0.2 1.5-0.4 1.5 0.3 1.5-0.9 1.5-0.1 1.5 1 1.5-1.4 1.5 0.8 1.5 0.1 1.5-0.3 1.4 0.4 1.5-1 1.5-0.6 1.5 1.4 1.5-1.2 1.5-0.1 1.5-0.2 1.5-0.1 1.5 0.1 1.5 0.4 1.5-0.9 1.5 0.2 1.5-0.3 1.5 0.2 1.5 0.2 1.5-0.2 1.5-0.4 1.5-0.3 1.5 1.5 1.5-0.4 1.5 0.1 1.5-0.6 1.5 0 1.5-0.6 1.5 0.3 1.5-1 1.5 1 1.5 0 1.5 0 1.5-0.3 1.5-0.3 1.5 0.2 1.5 0.2 1.5 0.2 1.5-0.9 1.5 0.4 1.5 0.2 1.5-0.5 1.5-0.3 1.5-1 1.5 0.2 1.5 1.3 1.5-0.3 1.5 0.8 1.5 0 1.5-0.1 1.5-1.6 1.5 0.6 1.5 0.7 1.4-0.5 1.5-0.1 1.5 0 1.5-1.2 1.5 1.8 1.5-0.8 1.5-0.4 1.5-0.2 1.5 1.5 1.5-1.4 1.5 0.8 1.5-0.4 1.5 0.5 1.5-1.3 1.5-1.3 1.5 1.1 1.5 0.7 1.5 0.8 1.5-1.5 1.5-0.2 1.5 1.3 1.5-1.2 1.5 1.5 1.5-0.3 1.5-0.8 1.5 0.8 1.5-1.2 1.5-0.4 1.5 0.8 1.5-0.3 1.5-0.6 1.5 0.6 1.5-0.5 1.5-0.1 1.5 1.4 1.5-1.8 1.5 0.5 1.5 0.6 0.7-0.4 0.4 0.3 0.4 0 0.3 0.7 0.4-0.7 0.4-0.9 0.4-2.1 0.3-1.4 0.4-2 0.4-1.9 0.4-99.9 0.3-0.3 0.4-3.1 0.4-3 0.4-1 0.3-1.9 0.4-1.4 0.4 0.1 0.4 1.5 0.3 0 0.4 1.7 0.4 0.7 0.4 1.6 0.3 2.9 0.4 2 0.4 2.7 0.4 1.2 0.3 3.1 0.4 1.7 0.4 1.3 0.4 0.7 0.3 0.7 0.4 0.4 0.4 0 0.4-0.3 0.3 0 0.4 0.5 0.4 0.1 0.4-0.2 0.3-0.4 1.2 0.5 1.5 0.4 1.5-0.4 1.4 0.1 1.5-0.6 1.5 0.6 1.5-0.1 1.5-1.2 1.5 0.8 1.5 0.7 1.5-1.2 1.5 0.9 1.5 0.2 1.5-0.8 1.5 1.2 1.5-0.8 1.5-0.3 1.5-0.1 1.5 0.7 1.5 0 1.5-0.3 1.5-0.7 1.5 1.7 1.5-1.4 1.5 0.2 1.5-0.5 1.5 1.3 1.5-1.2 1.5 1.1"/>
<path d="M585.7 2142l1.5 0.8 1.5 0.3 1.5-1.1 1.5 0.6 1.5-0.7 1.5-0.2 1.5 0.9 1.5-0.1 1.5 0.3 1.5 0.7 1.5-1.1 1.5-0.4 1.5-0.1 1.5 0.5 1.5-1 1.5 1.3 1.5-0.3 1.5 0.3 1.5 0 1.5-0.1 1.5 0.2 1.5-0.1 1.5-0.4 1.5 0.1 1.5 0.6 1.4-0.8 1.5 0.7 1.5-0.7 1.5 0.2 1.5 1.1 1.5-0.5 1.5-1.1 1.5 0.9 1.5 0 1.5-0.1 0.6-0.3 0.3-0.3 0.4 0.8 0.2-0.8 0.2 1.6 0.4 1 0.3 1.3 0.4 1.3 0.2 0.2 0.2 0.1 0.4 2.5 0.3 0.6 0.4-0.4 0.2 0.2 0.2-0.8 0.4 0.1 0.3-2.4 0.4 0.1 0.2 0.3 0.2 3.1 0.4 6.4 0.3 9.1 0.4 6.4 0.2 4.2 0.2 3.8 0.4 5.9 0.3 6.8 0.4 6 0.2 3.4 0.2 1.6 0.4 5.5 0.3 5.3 0.6 5.7 1.5 15.7 1.5 9.9 1.5 8.9 1.5 7.1 1.5 5.3 1.5 3.3 1.5 2.9 1.5 1.4 1.5 1.4 1.5-0.7 1.5 3.1 1.5-0.5 1.5-0.5 1.5-0.3 1.5-0.4 1.5 1 1.5-1.3 1.5 1.6 1.5-1.8 1.5-1.1 1.5-0.4 1.5 0.7 1.5-0.8 1.5 0.3 1.5-1.3 1.5-0.1 1.5-1.4 1.5 0.2 1.5-1.3 1.5 0 1.5-0.3 1.5-1.6 1.5-0.1 1.4 1 1.5-2 1.5 0 1.5-0.7 1.5 0.1 1.5 0.9 1.5-1.2 1.5 0.8 1.5-0.9 1.5-0.7 1.5-1.5 1.5 0.4 1.5-0.4 1.5-0.6 1.5 0.6 1.5-1.4 1.5 0.2 1.5 0.4 1.5-0.5 1.5-0.5 1.5-0.7 1.5-0.7 1.5 0.7 1.5-0.3 1.5-1.4 1.5-1 1.5 0.6 1.5 0.6 1.5 0.1 1.5-0.8 1.5 0 1.5 0.4 1.5-1.4 1.5-0.8 1.5 1.7 1.5-0.2 1.5-0.4 1.5 0.3 1.5-1.4 1.5 1.1 1.5-1.3 1.5 0 1.5-0.4 1.5 1.1 1.5-1 1.5-0.3 1.5-0.4 1.5 0.1 1.5 0.4 1.5-1.1 1.4-0.3 1.5-0.1 1.5 1.1 1.5-0.9 1.5 0.7 1.5-0.5 1.5-0.6 1.5 1.1 1.5-2.5 1.5 0.8 1.5 1 1.5-0.2 1.5-0.4 1.5 0 1.5 0.5 1.5-0.7 1.5 0.7 1.5-0.6 1.5-1.5 1.5 1 1.5 0.1 1.5-1.2 1.5 0.6 1.5-0.2 1.5 0.6 1.5-1 1.5 0.7 1.5-0.8 1.5 0.1 1.5-0.7 1.5 0.4 1.5 0.5 1.5 0.5 1.5-0.5 1.5 0.2 1.5-1.3 1.5 1 1.5 1 1.5-1.5 1.5-0.3 1.5 0.9 1.5-1 1.5 1.1 1.5-0.9 1.5 0.2 1.5-0.3 1.5-0.2 1.5 0.6 1.5-0.9 1.4 0.7 1.5-0.4 1.5-0.7 1.5 1.3 1.5-0.6 1.5-0.9 1.5 0.1 1.5 1.1 1.5-0.1 1.5-0.7 1.5 0.7 1.5-0.5 1.5 0.8 1.5-1.2 1.5 1.3 1.5-1 1.5-0.4 1.5 0.8 1.5 0.4 1.5-0.2 1.5 0.4 1.5-2.1 1.5 2 1.5-0.3 1.5-1 1.5 0.2 1.5-0.6 1.5-0.2 1.5 0.5 1.5 0.2 1.5 0.3 1.5-0.2 1.5-0.7 1.5 0.2 1.5-0.1 1.5 1.3 1.5-0.5 1.5-0.1 0.7-0.1 0.4 0.3 0.4-1 0.3-0.2 0.4-0.6 0.4 0.9 0.4-0.9 0.3-1 0.4-0.9 0.4-0.7 0.4-112.5 0.3 0.4 0.4-2 0.4-0.2 0.4-2.3 0.3 0.5 0.4-0.5 0.4-0.9 0.4 0.7 0.3-0.4 0.4 1 0.4-0.5 0.4 2.7 0.3 0.9 0.4 0.4 0.4 1.4 0.4 1 0.3 1.5 0.4 0.2 0.4 1 0.4 0 0.3 1.8 0.4-0.9 0.4 0.2 0.4-0.3 0.3 0.7 0.4-1 0.4 1.3 0.4-1.3 0.3 0.2 1.2 1.3 1.5-1.2 1.5 1.3 1.4-1.4 1.5 1.2 1.5-0.9 1.5 0.2 1.5 0.7 1.5 0.2 1.5-1.4 1.5 0.6 1.5-0.9 1.5 0.6 1.5-1.6 1.5 1.5 1.5-0.9 1.5 0.8 1.5 0.2 1.5-0.3 1.5 0.7 1.5 0 1.5-1.4 1.5 1.1 1.5 0.6 1.5-1 1.5 0.8 1.5-0.6 1.5-0.6 1.5-0.1"/>
<path d="M585.7 2144.3l1.5-1.3 1.5 1.4 1.5-1 1.5 1 1.5-0.8 1.5 2.4 1.5-1.8 1.5 0.5 1.5-1.3 1.5 0 1.5 1.3 1.5-0.3 1.5-0.6 1.5 0.3 1.5 0.1 1.5-0.5 1.5 1.4 1.5-1.7 1.5 0.6 1.5 2 1.5-1.2 1.5-0.5 1.5-1.3 1.5 1.3 1.5 0.9 1.4-1.7 1.5 0.6 1.5 0.2 1.5-0.6 1.5 0.8 1.5-0.2 1.5-0.6 1.5 0.3 1.5-0.3 1.5 0.8 0.6-1.2 0.3 1.8 0.4-1.7 0.2-1.1 0.2 0.5 0.4-0.3 0.3 0.1 0.4 0.1 0.2 0.5 0.2-0.7 0.4-0.6 0.3 1.2 0.4-1.6 0.2 0.2 0.2 1.4 0.4-0.9 0.3 1.1 0.4-0.6 0.2 0.6 0.2-0.4 0.4 0.8 0.3-1 0.4 0.5 0.2-0.1 0.2 0.7 0.4-1.2 0.3-1.1 0.4 1.3 0.2-0.1 0.2 0.6 0.4-0.4 0.3 0.2 0.6 0.4 1.5-0.4 1.5-0.2 1.5-0.4 1.5 0.3 1.5-0.3 1.5-0.6 1.5 0.2 1.5 0.8 1.5 0.7 1.5-0.9 1.5-0.1 1.5-0.5 1.5 0.5 1.5-1.6 1.5 1.8 1.5-0.5 1.5 0.9 1.5 0 1.5-0.4 1.5-0.3 1.5-0.3 1.5 2.2 1.5-2.4 1.5-0.2 1.5 0.1 1.5 0.3 1.5 0.5 1.5-0.4 1.5-0.4 1.5 1.3 1.5-0.9 1.5 0.1 1.5 0.3 1.4-1.1 1.5 1.4 1.5 0.2 1.5-0.5 1.5 0.3 1.5-1.1 1.5 1.7 1.5-0.2 1.5-0.9 1.5-0.3 1.5 1.1 1.5-1.4 1.5 1.9 1.5-1.7 1.5 1.1 1.5-0.3 1.5-1.3 1.5 1.1 1.5 0.3 1.5-0.5 1.5-0.9 1.5 1 1.5 0.5 1.5-0.6 1.5 0.9 1.5-0.3 1.5-0.1 1.5-0.7 1.5 0.6 1.5-0.5 1.5-0.4 1.5-0.2 1.5 1.8 1.5-0.9 1.5 0.6 1.5-1 1.5 0.2 1.5 0.2 1.5 0.3 1.5 0.2 1.5 0.4 1.5-1.5 1.5 0.7 1.5-0.1 1.5-0.2 1.5-0.3 1.5-0.6 1.5 1.2 1.5-0.5 1.5 1.3 1.4-0.7 1.5 0.2 1.5-0.1 1.5-1 1.5 0.6 1.5 0 1.5 0 1.5 0.2 1.5 0 1.5 0.2 1.5 0 1.5-0.1 1.5-0.1 1.5 0.9 1.5-1.1 1.5 0.1 1.5-0.3 1.5 0.9 1.5-0.1 1.5-1 1.5 0.9 1.5-0.7 1.5 0.7 1.5 0.3 1.5 0.1 1.5-0.5 1.5-0.1 1.5 0.5 1.5-1.5 1.5 0.8 1.5 0.5 1.5-1.4 1.5 0.4 1.5 0.9 1.5 0.2 1.5-0.5 1.5-0.5 1.5 1.2 1.5-1.5 1.5 0.9 1.5-0.7 1.5 0.6 1.5-0.4 1.5-0.1 1.5-0.4 1.5 1.2 1.5-1.5 1.5 1.8 1.5-0.9 1.4-0.2 1.5 0.4 1.5-0.5 1.5 1.4 1.5-0.9 1.5-0.6 1.5 0.6 1.5 0.6 1.5-0.7 1.5 0 1.5 0.6 1.5-1.3 1.5 1.1 1.5 0.2 1.5-0.6 1.5 0.4 1.5-0.2 1.5-0.3 1.5 0.4 1.5-0.6 1.5 0.2 1.5-0.5 1.5 1.2 1.5-0.6 1.5-0.1 1.5 0 1.5 1.4 1.5-0.6 1.5-0.8 1.5-0.2 1.5 0.3 1.5 0 1.5-0.6 1.5 0.9 1.5 0.2 1.5-1.3 1.5 0.5 1.5 0.5 0.7 0.3 0.4-1.3 0.4 1 0.3 0.3 0.4-1.2 0.4 1.6 0.4-0.8 0.3-0.4 0.4 0.5 0.4 0.2 0.4-0.6 0.3 0.9 0.4-0.5 0.4-0.5 0.4 1 0.3-1.4 0.4 0.9 0.4-0.1 0.4 0.2 0.3-0.6 0.4 0.6 0.4-0.4 0.4-0.6 0.3 0.1 0.4 1.5 0.4-1.6 0.4 1 0.3-0.4 0.4 0.1 0.4-0.1 0.4 0.5 0.3-0.7 0.4-0.2 0.4 0.9 0.4-0.3 0.3-0.5 0.4-0.1 0.4 0.4 0.4 0 0.3-0.1 1.2 0.5 1.5-0.4 1.5 0.3 1.4 0.1 1.5 1.1 1.5-0.3 1.5-1.2 1.5-0.3 1.5 0.2 1.5 0.2 1.5 0.2 1.5-0.5 1.5 0.6 1.5-0.2 1.5-0.9 1.5 1.6 1.5-0.4 1.5-0.2 1.5 0.9 1.5-0.4 1.5-1.2 1.5 0.3 1.5 0.3 1.5-0.8 1.5 1.3 1.5-1.6 1.5 1.1 1.5 0.3 1.5-0.9"/>
<path d="M585.7 2143.3l1.5-0.6 1.5 1 1.5-0.5 1.5 0.9 1.5 0 1.5-0.8 1.5-0.4 1.5-0.1 1.5-0.2 1.5 1.1 1.5-0.3 1.5-0.6 1.5 1 1.5-0.4 1.5-0.1 1.5 0 1.5-0.5 1.5 0.2 1.5 0.5 1.5 1.1 1.5-1.8 1.5-0.1 1.5 0.3 1.5 0.1 1.5-0.1 1.4-0.4 1.5 1 1.5-0.3 1.5 0.5 1.5-0.4 1.5 0.3 1.5 0 1.5 0.7 1.5-1.1 1.5-0.6 0.6 2.3 0.3-2.4 0.4 0 0.2 0.2 0.2-0.8 0.4-0.4 0.3-1.1 0.4-1.9 0.2 0.1 0.2-0.5 0.4-0.4 0.3-0.5 0.4 0.4 0.2-0.3 0.2 0.5 0.4-0.4 0.3 1.8 0.4 0.5 0.2 0.2 0.2 0.6 0.4 1.8 0.3-0.8 0.4 2.2 0.2-1.9 0.2 2.2 0.4-1.3 0.3-1 0.4-0.2 0.2 0.6 0.2-0.6 0.4-1.4 0.3 0.8 0.6-1.9 1.5-1.2 1.5-0.8 1.5 0.2 1.5 0 1.5 0.1 1.5-1.8 1.5 1 1.5 0.4 1.5 0.3 1.5-0.3 1.5 1.9 1.5-1.5 1.5 1 1.5 1.1 1.5-1.8 1.5 1.2 1.5-0.5 1.5 0.8 1.5-0.1 1.5-1.1 1.5 0.9 1.5 0 1.5 1.2 1.5-1.3 1.5 0.9 1.5-0.5 1.5 0.9 1.5-0.8 1.5 0 1.5 1.2 1.5-1 1.5 0.7 1.5-1.1 1.4 0.5 1.5 0.2 1.5-1.6 1.5 1.2 1.5 0.7 1.5-0.6 1.5 0.3 1.5-0.6 1.5 1.4 1.5-1.7 1.5 1.4 1.5 0 1.5 0.2 1.5-0.2 1.5-1.3 1.5 1 1.5 0.7 1.5-0.5 1.5-0.2 1.5-0.4 1.5 0.7 1.5-0.3 1.5-1.5 1.5 1.7 1.5-0.1 1.5 0.8 1.5-1.3 1.5 0.8 1.5-1.3 1.5 0.4 1.5 0.2 1.5 0.8 1.5-0.1 1.5 0 1.5-0.2 1.5 0.2 1.5 0.1 1.5-0.3 1.5 0 1.5 0.2 1.5-0.7 1.5-0.1 1.5 0.9 1.5-1.5 1.5 1 1.5-0.5 1.5-0.3 1.5 1.8 1.5-1.1 1.5-0.2 1.4-0.2 1.5 0.3 1.5-0.1 1.5 1.4 1.5-0.3 1.5-0.9 1.5 1.5 1.5-0.9 1.5-0.2 1.5-0.3 1.5-0.3 1.5 0.4 1.5 0.6 1.5 0.1 1.5-0.8 1.5-0.1 1.5 0.1 1.5 0.2 1.5 0 1.5 0.8 1.5-0.8 1.5-0.4 1.5 1.1 1.5-0.9 1.5-0.2 1.5-0.9 1.5 1.4 1.5 0.1 1.5 0.5 1.5 0 1.5 0.3 1.5 0 1.5-1.4 1.5 0.4 1.5-0.1 1.5 1 1.5 0.3 1.5-0.2 1.5-1.9 1.5 0.3 1.5 1.4 1.5-0.8 1.5-0.1 1.5 0.7 1.5-0.2 1.5-0.9 1.5 0.1 1.5-0.1 1.5 0.3 1.4 0.2 1.5-0.3 1.5 0.4 1.5-1 1.5 0.8 1.5-0.2 1.5 0.4 1.5 0.3 1.5-0.3 1.5 0.1 1.5 0.3 1.5-0.9 1.5-0.7 1.5 1 1.5 0.2 1.5 0.3 1.5 0.5 1.5-1.2 1.5 0 1.5 0.8 1.5-0.5 1.5 0.5 1.5-1.3 1.5 0.8 1.5-0.2 1.5-0.7 1.5 2.2 1.5-1.5 1.5 0.1 1.5 0.3 1.5-0.2 1.5-0.7 1.5 1.1 1.5 0 1.5-1.4 1.5 0.4 1.5 0.3 1.5-0.1 0.7 0.4 0.4 0.2 0.4-0.1 0.3-0.3 0.4 0.7 0.4 1.3 0.4 0.1 0.3 1.1 0.4 1.7 0.4 1.2 0.4 4.4 0.3 1.4 0.4 2.1 0.4 1.7 0.4 0.8 0.3 0.8 0.4 1.4 0.4 0.5 0.4-1.4 0.3 0.5 0.4-1.3 0.4-0.7 0.4-1.9 0.3-2.3 0.4-1.9 0.4 0 0.4-1.7 0.3-0.4 0.4-3.6 0.4-1.6 0.4 0 0.3 0 0.4-0.7 0.4 1 0.4-0.9 0.3-0.4 0.4 0.1 0.4 0.3 0.4 0.6 0.3-0.1 1.2 0.4 1.5-1.6 1.5 0.4 1.4 0.7 1.5 0 1.5-0.2 1.5 0.5 1.5-0.6 1.5 0 1.5 0 1.5 0.2 1.5 1.5 1.5-1.3 1.5 0.7 1.5 0.1 1.5-2.2 1.5 1.5 1.5-0.1 1.5 0 1.5 0.3 1.5-1.3 1.5 1.9 1.5-1.3 1.5 0.6 1.5-1 1.5 0.2 1.5 0.4 1.5 0.9 1.5-1.3"/>
<path d="M585.7 2142.2l1.5-0.1 1.5 0.4 1.5 0.4 1.5-0.4 1.5 0.3 1.5 0.2 1.5-1.3 1.5 0.7 1.5 0.2 1.5 0 1.5-0.5 1.5 0.4 1.5 0.2 1.5-0.5 1.5 0.1 1.5 0.5 1.5 0.1 1.5-1.3 1.5 0.9 1.5-0.8 1.5 0.3 1.5 0.4 1.5 0.1 1.5-1.1 1.5 1.3 1.4-0.1 1.5 0.2 1.5-0.4 1.5 0.5 1.5-0.6 1.5 0.7 1.5-1 1.5 0.2 1.5 0 1.5 0.5 0.6-1.1 0.3-0.4 0.4 1.4 0.2 0 0.2-1.3 0.4-1 0.3-2.1 0.4-2.4 0.2-0.1 0.2-1.9 0.4-0.6 0.3-0.8 0.4-0.6 0.2-0.7 0.2 1.5 0.4 0.8 0.3 2.7 0.4 1.2 0.2 1.4 0.2 0.3 0.4 2.2 0.3 1.2 0.4 1.3 0.2-1.2 0.2-0.3 0.4-0.4 0.3-1.1 0.4-1.1 0.2-0.7 0.2 0.6 0.4-1.3 0.3-1 0.6-0.9 1.5-1.3 1.5-0.7 1.5-2.1 1.5-0.7 1.5-0.7 1.5 0.6 1.5 0.9 1.5-0.6 1.5 0.5 1.5 0.5 1.5 0.7 1.5 0.5 1.5-0.4 1.5 0.1 1.5 0 1.5 0.2 1.5 0.1 1.5-0.7 1.5 1.3 1.5-0.6 1.5 1.4 1.5 0.1 1.5 0 1.5 0.9 1.5-1.8 1.5 0.9 1.5-0.2 1.5-0.5 1.5 0.9 1.5-0.6 1.5 2.3 1.5-2 1.5 0.7 1.4 0.5 1.5-0.9 1.5 0.7 1.5 0.5 1.5 0.7 1.5-2.1 1.5 2.6 1.5-1.5 1.5-0.8 1.5 0.5 1.5 0.8 1.5-0.2 1.5 0.2 1.5-0.5 1.5 0.3 1.5 0.7 1.5 0.1 1.5-1.5 1.5 1.4 1.5-0.1 1.5-1.9 1.5 1.8 1.5 0.3 1.5-0.2 1.5-1 1.5 0.9 1.5-0.3 1.5 1.2 1.5-1 1.5-0.3 1.5 0 1.5-0.8 1.5 0.5 1.5 2 1.5-0.7 1.5-0.5 1.5-0.3 1.5-0.2 1.5-0.3 1.5 1.3 1.5 0.3 1.5-1.7 1.5 1 1.5 0.8 1.5-0.8 1.5-0.3 1.5 0.5 1.5-0.1 1.5-1.2 1.5 1.2 1.4-0.8 1.5 0.1 1.5 0.3 1.5-1.6 1.5 2.1 1.5-2.2 1.5 2 1.5-0.4 1.5-0.3 1.5-0.5 1.5 0.3 1.5 0.6 1.5 0 1.5-0.9 1.5-0.2 1.5 1.2 1.5-1 1.5 0.4 1.5 0.1 1.5 0.8 1.5 0.1 1.5-1 1.5 1.9 1.5-1.3 1.5-0.6 1.5 1.2 1.5-1.9 1.5 0 1.5 1.6 1.5-0.6 1.5 0 1.5 0.3 1.5 0 1.5-0.6 1.5-0.7 1.5 0.9 1.5 0 1.5 0 1.5 0.5 1.5-0.8 1.5 0.7 1.5 0.2 1.5-0.9 1.5 1.4 1.5-0.7 1.5-0.1 1.5-0.1 1.5 0.8 1.5-0.4 1.4-0.4 1.5-0.5 1.5 0.4 1.5 0.1 1.5 0.4 1.5-0.5 1.5 1.6 1.5-2 1.5-0.2 1.5 0.6 1.5 0.5 1.5-1.3 1.5 1.2 1.5-1.2 1.5 0.9 1.5 0.3 1.5-0.3 1.5 0.3 1.5-0.3 1.5-0.4 1.5 0.4 1.5 0.1 1.5-0.2 1.5-0.3 1.5 0.3 1.5-0.3 1.5-0.1 1.5 0.2 1.5-0.2 1.5 0.4 1.5-0.7 1.5 0.4 1.5-0.2 1.5 0.6 1.5 0.7 1.5-0.6 1.5-0.3 1.5-0.1 0.7 0.2 0.4-0.9 0.4 1.6 0.3 0.3 0.4-0.4 0.4 1.5 0.4 1.5 0.3 2.2 0.4 1.8 0.4 5.7 0.4 9.1 0.3 2.9 0.4 4.1 0.4 2.6 0.4 1.4 0.3 2.7 0.4 1.2 0.4-0.1 0.4 1.3 0.3-2.1 0.4-1.6 0.4-2.6 0.4-2.2 0.3-3.5 0.4-3.7 0.4-4 0.4-2.6 0.3-3.8 0.4-1.2 0.4-3.5 0.4-1.7 0.3 0.3 0.4-0.4 0.4-0.2 0.4-0.2 0.3-0.5 0.4 0.6 0.4 0.2 0.4 0 0.3-0.3 1.2-0.2 1.5 0.3 1.5 0.4 1.4-0.1 1.5 0.2 1.5 0.1 1.5-0.2 1.5 0 1.5-0.7 1.5 1.1 1.5-0.7 1.5 0.7 1.5-1.1 1.5 0.2 1.5-0.5 1.5 0.4 1.5 0.9 1.5-0.6 1.5 0.3 1.5 0 1.5 0.3 1.5-0.4 1.5-0.3 1.5 0 1.5-1.3 1.5 1.5 1.5-0.1 1.5 0 1.5 0.1"/>
<path d="M585.7 2142.9l1.5-0.5 1.5-0.2 1.5 0.3 1.5 0 1.5-0.1 1.5-0.4 1.5 0.3 1.5 0.4 1.5-0.3 1.5-0.7 1.5 1.2 1.5-0.9 1.5 0.5 1.5-2.2 1.5 1.7 1.5 0.4 1.5 0 1.5 0.8 1.5-0.5 1.5-1.4 1.5 0.9 1.5 0.3 1.5-0.1 1.5 0 1.5 0.5 1.4-0.6 1.5-0.2 1.5 1.1 1.5-0.7 1.5 1.4 1.5-0.6 1.5-1.4 1.5-0.2 1.5-0.3 1.5 1.7 0.6-0.7 0.3 0.2 0.4-0.7 0.2-0.2 0.2-0.5 0.4-2.6 0.3-2.3 0.4-4 0.2-1 0.2-2 0.4-1.8 0.3-1.4 0.4 0.6 0.2 0.7 0.2 0.6 0.4 0.9 0.3 4.3 0.4 1.2 0.2 2.7 0.2 1.8 0.4 1.6 0.3 2.4 0.4-0.2 0.2 0.1 0.2-0.8 0.4-1.2 0.3-1.9 0.4-0.9 0.2-1.8 0.2 0.1 0.4-1.5 0.3-1.4 0.6-1.7 1.5-2.5 1.5-3.3 1.5-0.1 1.5-1.9 1.5 0 1.5-0.1 1.5 0.8 1.5-0.8 1.5 1 1.5-0.1 1.5 1.4 1.5 0.4 1.5 0.1 1.5-0.1 1.5 1.8 1.5 0 1.5 0.4 1.5 0.2 1.5 0.5 1.5-0.5 1.5 0.5 1.5 0.7 1.5-0.2 1.5 0.1 1.5 1.2 1.5 0.2 1.5-0.5 1.5-0.6 1.5 2.6 1.5-0.8 1.5-0.6 1.5 1 1.5-0.8 1.4 0.5 1.5 0.9 1.5-0.3 1.5-0.4 1.5 0.8 1.5-0.8 1.5 0.3 1.5 0.4 1.5-0.4 1.5 0.5 1.5-0.3 1.5 0.8 1.5-1.3 1.5 0.9 1.5-0.7 1.5-0.5 1.5 0.3 1.5 0.9 1.5 0 1.5 0.1 1.5-0.2 1.5 0.7 1.5 0.5 1.5-1.1 1.5 0.2 1.5-0.8 1.5-0.2 1.5 1.8 1.5-0.2 1.5-1 1.5-0.2 1.5 0.6 1.5 0.1 1.5 1 1.5-2.3 1.5 1.7 1.5-0.7 1.5 0.1 1.5 0.7 1.5-0.9 1.5-0.4 1.5 0.9 1.5-0.1 1.5-0.3 1.5-0.2 1.5 0.1 1.5 0.9 1.5 0.1 1.5-0.2 1.5 1.1 1.4-0.7 1.5-0.6 1.5 0.2 1.5 0.1 1.5-0.9 1.5 0.3 1.5-0.3 1.5 0.6 1.5 0.1 1.5 0.3 1.5-0.7 1.5 1.2 1.5-0.5 1.5-0.8 1.5-0.2 1.5 0.5 1.5 0.6 1.5-0.9 1.5 0.7 1.5-0.3 1.5 0.4 1.5-1.5 1.5 0.2 1.5 1.3 1.5 0.1 1.5-0.6 1.5-0.4 1.5-0.3 1.5 0.7 1.5 0.7 1.5-0.9 1.5 0 1.5 1.1 1.5-0.8 1.5 0.1 1.5 0.3 1.5-0.6 1.5-0.5 1.5 0 1.5 1.1 1.5-0.2 1.5-0.7 1.5 0.6 1.5 0 1.5-1.4 1.5 2.6 1.5-1 1.5 0.1 1.5-0.5 1.4-0.9 1.5 1 1.5 0 1.5-0.2 1.5 0.3 1.5-0.4 1.5-1.2 1.5 1.8 1.5-0.3 1.5-0.1 1.5 1.1 1.5-1.4 1.5 0.3 1.5 1.1 1.5-1 1.5-0.2 1.5 0.6 1.5-1.1 1.5 0.9 1.5 0.5 1.5-1.2 1.5 0.5 1.5-0.2 1.5 1 1.5-0.1 1.5-0.3 1.5-0.4 1.5 0 1.5-0.9 1.5 0 1.5 0.7 1.5 0.1 1.5-1 1.5 1 1.5-0.6 1.5 0.9 1.5-0.2 1.5 0 0.7 0.3 0.4-0.6 0.4 0.6 0.3-0.3 0.4 0.4 0.4 1 0.4 5.1 0.3 2.7 0.4 4.2 0.4 5.5 0.4 13.6 0.3 5.4 0.4 5 0.4 5 0.4 3.7 0.3 2.9 0.4 2.3 0.4 0.1 0.4 0.3 0.3-1.6 0.4-2.4 0.4-4.9 0.4-3.4 0.3-4.7 0.4-6.2 0.4-4.6 0.4-5.5 0.3-4.4 0.4-4.3 0.4-3.1 0.4-0.8 0.3-3.1 0.4 0.2 0.4 1.3 0.4-1.3 0.3 0.6 0.4-0.2 0.4-0.6 0.4 0.2 0.3 0 1.2-0.6 1.5 0.5 1.5 0.9 1.4 0.4 1.5-1.2 1.5 1.4 1.5-0.7 1.5 0 1.5 0.2 1.5-1.1 1.5 0.5 1.5 0.3 1.5-0.6 1.5 0.7 1.5-0.9 1.5-0.4 1.5 1.2 1.5 0 1.5-0.7 1.5 1.7 1.5-0.4 1.5-0.1 1.5 0.3 1.5-0.9 1.5-0.2 1.5 0.2 1.5 0 1.5-0.5 1.5-0.1"/>
<path d="M585.7 2142.6l1.5 1 1.5-0.3 1.5 0.4 1.5-0.4 1.5-0.2 1.5 0.5 1.5-1.4 1.5 1.9 1.5-1.3 1.5 1.1 1.5-0.8 1.5 0.6 1.5-0.4 1.5 0 1.5 0.4 1.5 0.3 1.5-0.3 1.5-0.4 1.5-0.4 1.5-0.5 1.5 1.8 1.5-1.1 1.5 0.5 1.5-0.3 1.5-0.2 1.4-0.2 1.5 0.2 1.5 0.2 1.5-0.8 1.5 0.7 1.5 0.1 1.5-0.6 1.5 1.2 1.5-0.1 1.5-1.3 0.6 0.9 0.3 0.9 0.4-2.3 0.2-1 0.2 0.2 0.4-2.7 0.3-4.6 0.4-4.5 0.2-1.8 0.2-1.4 0.4-3.9 0.3-1.8 0.4 0.9 0.2 0.3 0.2 0.4 0.4 2.9 0.3 3.3 0.4 4.1 0.2 1.6 0.2 2.5 0.4 3 0.3 3.5 0.4 0.1 0.2-1 0.2 1.4 0.4-3.5 0.3-2.2 0.4-2.2 0.2-1.1 0.2-0.4 0.4-2 0.3-2.1 0.6-2.5 1.5-5.7 1.5-1.9 1.5-2.1 1.5-0.5 1.5-1.4 1.5 0.1 1.5-0.3 1.5 0 1.5 1.3 1.5 1.5 1.5 0.1 1.5 0.7 1.5 0.9 1.5 1.2 1.5-0.1 1.5 1.5 1.5-0.1 1.5 0.7 1.5 1.8 1.5-1.2 1.5-0.4 1.5 1.8 1.5 0.5 1.5-0.5 1.5 1.6 1.5-0.4 1.5 0.1 1.5 0.8 1.5-0.1 1.5 0.7 1.5 0.1 1.5-0.5 1.5 1 1.4 0 1.5 0.2 1.5-0.5 1.5 0.6 1.5 0.4 1.5-0.5 1.5 1.4 1.5 0 1.5-1.1 1.5-0.8 1.5 1.4 1.5-0.4 1.5 1 1.5-0.8 1.5 0.1 1.5-0.2 1.5 0.8 1.5-1.4 1.5 1.6 1.5-1.3 1.5 1.4 1.5-1 1.5-0.2 1.5-0.5 1.5 1.3 1.5 0.8 1.5-1.3 1.5 0.9 1.5 0.2 1.5-0.3 1.5 0.2 1.5-0.9 1.5 0.4 1.5-0.3 1.5-0.1 1.5 0.7 1.5-0.6 1.5-0.2 1.5-0.4 1.5 0.9 1.5 0.3 1.5 0.4 1.5-0.3 1.5-0.2 1.5-0.2 1.5 0.9 1.5-0.5 1.5-0.1 1.5 0.2 1.5 0 1.4-0.5 1.5 0.7 1.5-0.8 1.5 0.9 1.5-0.7 1.5 0.7 1.5-1.2 1.5 0.2 1.5-0.3 1.5 1.2 1.5 0.2 1.5 0 1.5-0.6 1.5-0.7 1.5 0.2 1.5 0 1.5 1.1 1.5-1.3 1.5 0.2 1.5 0.7 1.5 1.1 1.5-0.9 1.5-0.4 1.5-0.9 1.5 0.7 1.5 0.2 1.5-0.9 1.5 0 1.5 0.6 1.5-0.1 1.5-0.4 1.5 1.1 1.5-0.6 1.5 0.5 1.5 0.2 1.5-0.7 1.5-0.4 1.5-0.4 1.5 0.6 1.5-0.2 1.5 0.7 1.5 0.7 1.5-0.4 1.5-0.6 1.5 0.5 1.5-1.3 1.5 0.4 1.5 0.7 1.5-1 1.4 0.6 1.5-0.6 1.5 1 1.5-0.5 1.5 0.5 1.5-0.1 1.5-0.6 1.5-0.4 1.5 1 1.5-0.1 1.5 0.6 1.5-0.4 1.5-0.4 1.5 1 1.5-0.4 1.5 0.3 1.5-0.7 1.5-0.4 1.5 0.3 1.5 0.4 1.5 0.4 1.5 0.3 1.5-0.9 1.5-0.8 1.5 1 1.5-0.1 1.5 0.2 1.5 0.3 1.5-1.2 1.5 0.2 1.5 1.2 1.5-0.1 1.5-1.4 1.5 1.2 1.5-0.5 1.5 0.6 1.5-0.8 1.5 0.6 0.7-0.1 0.4 0.3 0.4-1.6 0.3-0.4 0.4 2.3 0.4 2.2 0.4 4 0.3 5.3 0.4 6.1 0.4 6.8 0.4 18.7 0.3 8.1 0.4 6.4 0.4 5.2 0.4 6.2 0.3 2.2 0.4 3.5 0.4 0.8 0.4-1.2 0.3-1.3 0.4-3.6 0.4-4.4 0.4-6.3 0.3-6.6 0.4-6.1 0.4-7.9 0.4-7 0.3-5.9 0.4-4.7 0.4-5.1 0.4-3.2 0.3-0.4 0.4 0.6 0.4-0.6 0.4-0.4 0.3-0.7 0.4 0 0.4 0.3 0.4 0.7 0.3-0.7 1.2 0.4 1.5 0.6 1.5 0.4 1.4-1.6 1.5 1.5 1.5-1.6 1.5-0.5 1.5 1.2 1.5 0.5 1.5-0.2 1.5 0.1 1.5-0.6 1.5-0.4 1.5 1 1.5-0.2 1.5 0.2 1.5-1 1.5 0.1 1.5 1 1.5-0.3 1.5-0.3 1.5 1.1 1.5-0.7 1.5-0.4 1.5 0.9 1.5-0.9 1.5 0.1 1.5 0.3 1.5-0.9"/>
<path d="M585.7 2142.3l1.5 0 1.5-0.3 1.5-0.3 1.5 1.7 1.5-0.8 1.5 0.6 1.5-1.1 1.5-0.2 1.5 0.9 1.5-0.3 1.5-0.6 1.5 0.6 1.5 0.2 1.5 0.8 1.5-0.5 1.5-0.9 1.5 1.3 1.5-0.9 1.5 0 1.5 0.1 1.5-0.4 1.5 0.8 1.5-1.2 1.5 1.1 1.5-0.9 1.4 0.9 1.5-0.4 1.5 0.3 1.5-1.1 1.5 1.5 1.5-0.2 1.5-1.2 1.5 0.4 1.5 0.4 1.5 0.2 0.6 0.5 0.3-0.5 0.4-0.6 0.2-1.5 0.2-1 0.4-4 0.3-4.3 0.4-4.7 0.2-3.1 0.2-3.1 0.4-3 0.3-3 0.4 1.4 0.2 0.1 0.2 1.1 0.4 2.9 0.3 5.3 0.4 5.5 0.2 2.3 0.2 3.3 0.4 3.3 0.3 2 0.4 1.6 0.2-0.6 0.2 0.5 0.4-3 0.3-3.7 0.4-3.3 0.2-1.6 0.2-0.6 0.4-3.8 0.3-1.7 0.6-2.7 1.5-7.4 1.5-3 1.5-3.8 1.5-0.6 1.5 0.1 1.5 0.2 1.5 0.7 1.5 0.7 1.5 0.5 1.5 0.1 1.5 1.6 1.5 1.1 1.5 0.7 1.5 1.4 1.5 1.4 1.5 1 1.5-0.8 1.5 1.7 1.5-0.4 1.5 0.5 1.5 1.6 1.5 0.3 1.5 1.1 1.5 0.4 1.5 0.4 1.5 0.4 1.5-0.4 1.5 1.3 1.5-0.3 1.5 0.8 1.5 0 1.5-0.4 1.5 2.1 1.4-1.3 1.5 1.3 1.5-0.3 1.5 0.5 1.5 0.2 1.5 0.7 1.5 0.8 1.5-2.5 1.5 0.8 1.5 0.7 1.5 1.1 1.5-1.4 1.5-0.4 1.5 0.7 1.5 1.3 1.5-0.6 1.5-0.4 1.5 0.3 1.5-0.6 1.5 1.2 1.5-0.1 1.5 1 1.5-2 1.5 0.3 1.5 0.7 1.5 0.8 1.5-1.5 1.5 1.3 1.5 0 1.5 0.4 1.5-0.3 1.5-0.2 1.5 0.1 1.5-1.3 1.5 0.3 1.5 0.3 1.5 0.4 1.5-0.3 1.5 0.8 1.5-1 1.5 0.8 1.5-0.3 1.5-0.4 1.5 0.7 1.5 0.3 1.5-1.4 1.5 1.6 1.5-0.3 1.5 0 1.5-0.3 1.4-0.3 1.5 1.8 1.5-1.6 1.5-1.1 1.5 0.1 1.5 0.2 1.5 0.6 1.5-0.2 1.5 0.5 1.5 0.6 1.5-1.2 1.5-0.4 1.5 0.5 1.5 0.2 1.5-0.6 1.5 0.4 1.5-0.5 1.5 0.9 1.5 0.8 1.5-1.3 1.5-0.3 1.5 1 1.5-0.6 1.5-0.3 1.5 2 1.5-3 1.5 1 1.5 0.6 1.5 0.5 1.5 0.3 1.5-2.9 1.5 2.2 1.5-0.6 1.5 0.7 1.5-0.1 1.5-0.6 1.5 0.9 1.5-0.5 1.5 0.1 1.5-0.4 1.5-0.2 1.5 0.6 1.5-0.9 1.5 1 1.5 0 1.5-0.3 1.5 0.2 1.5-0.6 1.5 2.1 1.4-0.6 1.5 0.2 1.5-2.1 1.5 0.4 1.5 0.9 1.5-0.7 1.5 1.3 1.5-0.9 1.5-1 1.5 0.5 1.5-0.9 1.5 1.6 1.5-1 1.5 0.6 1.5-0.1 1.5 0 1.5-0.3 1.5-0.3 1.5 0.7 1.5-0.2 1.5 0.3 1.5-0.2 1.5 0.6 1.5-1 1.5 0.1 1.5 0.3 1.5 0.2 1.5 0.3 1.5 0.2 1.5 0.1 1.5-0.2 1.5-1 1.5 0.3 1.5 1.1 1.5-0.3 1.5-1.3 1.5-0.2 1.5 0.5 0.7-0.8 0.4 1.7 0.4-0.7 0.3 0.6 0.4-0.4 0.4 4.2 0.4 4.8 0.3 6.4 0.4 8.1 0.4 7.9 0.4 24.8 0.3 7.7 0.4 8.6 0.4 6.5 0.4 6 0.3 5.5 0.4 3.8 0.4 1.3 0.4-1.8 0.3-2 0.4-4.3 0.4-5.5 0.4-7.9 0.3-8.2 0.4-9 0.4-7.8 0.4-9 0.3-6.9 0.4-7.7 0.4-5.2 0.4-3.4 0.3-2.5 0.4 1.1 0.4-1.6 0.4 0.6 0.3-0.1 0.4 0.2 0.4 0.6 0.4-0.1 0.3-0.9 1.2 0.6 1.5-0.2 1.5 0.4 1.4-0.7 1.5 0.1 1.5 1.1 1.5-1.9 1.5 0.5 1.5 0.2 1.5 0.3 1.5 0.2 1.5-0.5 1.5-1.1 1.5 1.6 1.5 0.6 1.5-0.6 1.5-0.1 1.5-0.5 1.5 1.3 1.5-0.5 1.5-0.1 1.5-0.7 1.5-0.1 1.5 0.5 1.5-0.5 1.5 0.6 1.5 0 1.5 1.4 1.5-0.8"/>
<path d="M585.7 2143.2l1.5-0.3 1.5 0.5 1.5 0.1 1.5-1.1 1.5 0.9 1.5-0.8 1.5 1.1 1.5-0.3 1.5 0 1.5 0.4 1.5-1 1.5 1.2 1.5-0.9 1.5 1.4 1.5-1.7 1.5 0.4 1.5-0.6 1.5-0.5 1.5 1.5 1.5-0.4 1.5 0.8 1.5-0.5 1.5-0.3 1.5 0 1.5-0.4 1.4 0.2 1.5-0.3 1.5 0.9 1.5-0.4 1.5 0.6 1.5-0.5 1.5 1.5 1.5-1.5 1.5-0.1 1.5 0.3 0.6 0 0.3 0.7 0.4-1.4 0.2-1.2 0.2-1.9 0.4-4.6 0.3-5.4 0.4-6.5 0.2-3.8 0.2-1.7 0.4-5.7 0.3-3.3 0.4 0.6 0.2 1.4 0.2 0.8 0.4 3.6 0.3 5.5 0.4 7.9 0.2 2.6 0.2 3.1 0.4 4.8 0.3 2.7 0.4 0.8 0.2 0.5 0.2 0.3 0.4-3.5 0.3-3.7 0.4-5.3 0.2 0 0.2-2.7 0.4-2.8 0.3-2.7 0.6-3.2 1.5-7.8 1.5-4.8 1.5-2.7 1.5-1.7 1.5-0.7 1.5 0.4 1.5 0.1 1.5 0.6 1.5 1.8 1.5 0.4 1.5 1.5 1.5 1.6 1.5 0.5 1.5 0.8 1.5 1.9 1.5 1.9 1.5-0.5 1.5 0.7 1.5 2.1 1.5 0.2 1.5 0.4 1.5 2.4 1.5-1.2 1.5 0.6 1.5 0.5 1.5 0.1 1.5 2 1.5-0.7 1.5-0.4 1.5 3 1.5-0.7 1.5-0.3 1.5 1.1 1.4 0.9 1.5-1 1.5 0.3 1.5 0.7 1.5-0.3 1.5-0.2 1.5 0.1 1.5 0.5 1.5 1.1 1.5-0.4 1.5 1.2 1.5-0.5 1.5-0.6 1.5-0.2 1.5 0.5 1.5 0 1.5 1.2 1.5-0.3 1.5 0 1.5-0.3 1.5 0.1 1.5-1.5 1.5 0.7 1.5 1.2 1.5-0.2 1.5 0 1.5 0.1 1.5 0 1.5 0.9 1.5-1.9 1.5 0.3 1.5 0.1 1.5 0.3 1.5-0.2 1.5 0.5 1.5 1 1.5-1.2 1.5 0.1 1.5 0.7 1.5 0.6 1.5-2 1.5 1.3 1.5-0.5 1.5 0.3 1.5-1.3 1.5 1.8 1.5-1.4 1.5 2 1.5-2 1.5 0.9 1.4 1 1.5-1.3 1.5 0 1.5 0.9 1.5-1.1 1.5 0.2 1.5-0.3 1.5 1.1 1.5-0.4 1.5 0.2 1.5-0.7 1.5 0.4 1.5 0.3 1.5-1.4 1.5 1.1 1.5-0.9 1.5 0.1 1.5 0.9 1.5 0.7 1.5-1.2 1.5-0.3 1.5-0.2 1.5 0.4 1.5 0 1.5 0.6 1.5 0.1 1.5-2.3 1.5 1.2 1.5 1.4 1.5-0.9 1.5-0.1 1.5 1.3 1.5-0.9 1.5-0.5 1.5-0.6 1.5 0 1.5 1.1 1.5 0 1.5 0.1 1.5-0.4 1.5-0.4 1.5 1.1 1.5-0.5 1.5 0.3 1.5 0.1 1.5-0.2 1.5-1.3 1.5 0 1.5 0.2 1.4 1.8 1.5-1.1 1.5-1.3 1.5 1.2 1.5 0.6 1.5-0.7 1.5 0.5 1.5 0.1 1.5-0.4 1.5-0.1 1.5 0.3 1.5-0.1 1.5 0.6 1.5-0.5 1.5-0.5 1.5 0.4 1.5 0.1 1.5 0.8 1.5-1.5 1.5 1.3 1.5-1.1 1.5 0.6 1.5-0.6 1.5-0.2 1.5 0.8 1.5 1.6 1.5-0.6 1.5-0.6 1.5 0 1.5-0.7 1.5-1 1.5 0.7 1.5 0.5 1.5-0.9 1.5 0.9 1.5-0.6 1.5 0.3 1.5 1.3 0.7-1.6 0.4-0.5 0.4 1.2 0.3-0.6 0.4 1.6 0.4 4.2 0.4 5.9 0.3 6.8 0.4 9.9 0.4 10 0.4 26.9 0.3 10.4 0.4 9.6 0.4 10.3 0.4 8 0.3 4.4 0.4 5.3 0.4 0.8 0.4-0.9 0.3-4.3 0.4-4.2 0.4-6.4 0.4-9.3 0.3-10.6 0.4-8.6 0.4-10.8 0.4-11.6 0.3-8.8 0.4-7.4 0.4-6.8 0.4-4.5 0.3-1.4 0.4-0.6 0.4-1.1 0.4 0.6 0.3-0.4 0.4 0.6 0.4 0.3 0.4-0.5 0.3 0.7 1.2-0.7 1.5 0.4 1.5 0 1.4 0 1.5 0.4 1.5-1.4 1.5 1.7 1.5-1 1.5 0.8 1.5-1.2 1.5 0.6 1.5-0.2 1.5-0.2 1.5 0.1 1.5 0.1 1.5-0.1 1.5 0 1.5 0.5 1.5-0.1 1.5 0 1.5 0.2 1.5-0.1 1.5-1 1.5 1.5 1.5-1.8 1.5 1.3 1.5-0.6 1.5 0.3 1.5 0.1"/>
<path d="M585.7 2141.9l1.5 0.5 1.5 0 1.5 0.6 1.5 1.1 1.5-1.3 1.5 1.3 1.5-0.7 1.5-0.9 1.5 0.9 1.5 0 1.5 0.9 1.5-1.7 1.5 0.2 1.5 0.5 1.5-0.5 1.5 1.2 1.5-0.4 1.5-0.7 1.5-0.4 1.5 0.6 1.5 0.7 1.5-0.5 1.5-0.9 1.5 1 1.5-0.5 1.4-0.1 1.5 0.6 1.5-0.4 1.5 1.1 1.5-0.7 1.5-0.4 1.5-0.3 1.5-0.4 1.5 1 1.5-0.5 0.6 0.3 0.3 0.4 0.4-0.8 0.2-1.8 0.2-1.6 0.4-4.8 0.3-8.9 0.4-5.8 0.2-4.5 0.2-2.3 0.4-7.1 0.3-0.3 0.4-1.5 0.2 0.8 0.2 0.7 0.4 5.6 0.3 7.1 0.4 5.9 0.2 4.7 0.2 3.4 0.4 5.9 0.3 3.6 0.4 0.8 0.2 1.1 0.2-1.1 0.4-3.2 0.3-5.3 0.4-4.2 0.2-1.5 0.2-3 0.4-3.2 0.3-2.3 0.6-4.4 1.5-8.7 1.5-6.1 1.5-3.7 1.5-0.5 1.5-0.7 1.5-0.6 1.5 1 1.5 1 1.5 1.2 1.5 1.4 1.5 0.2 1.5 1.8 1.5 2.1 1.5 0.4 1.5 0.9 1.5 2 1.5 1.2 1.5 1.5 1.5 0.6 1.5 0.9 1.5 0.3 1.5 2 1.5 1.2 1.5 0 1.5 0.2 1.5 1.9 1.5-0.5 1.5 0.9 1.5 0.6 1.5-0.2 1.5-0.2 1.5 1.8 1.5-0.6 1.4 0.6 1.5-0.2 1.5 0.6 1.5 0.6 1.5-0.6 1.5 0.5 1.5 1 1.5 0.7 1.5-0.5 1.5-0.4 1.5-0.2 1.5 0.9 1.5 0 1.5 1 1.5-0.7 1.5-0.2 1.5 0.5 1.5-0.2 1.5 0.5 1.5 0.1 1.5-0.6 1.5 1.1 1.5-0.9 1.5-0.6 1.5 1.1 1.5 0 1.5 0.2 1.5 0.3 1.5-0.4 1.5 0.4 1.5-0.5 1.5 0.2 1.5 0.3 1.5-0.6 1.5-0.5 1.5 0.1 1.5 0.6 1.5-0.1 1.5 0.6 1.5-0.4 1.5-0.5 1.5-0.1 1.5-0.3 1.5 1.6 1.5-1.7 1.5 0.7 1.5-0.7 1.5 0.9 1.5-0.7 1.5 0.7 1.4 0.6 1.5-0.7 1.5 0.4 1.5-0.2 1.5-0.3 1.5-0.2 1.5 0.1 1.5-0.2 1.5 1.5 1.5-1.6 1.5 1.1 1.5-0.5 1.5 0.3 1.5 0.4 1.5-1.1 1.5 1.1 1.5-0.3 1.5-1.1 1.5 2.1 1.5-0.3 1.5-1.5 1.5 0.7 1.5-0.6 1.5 0.4 1.5 0.3 1.5-0.7 1.5 0.8 1.5-0.1 1.5-0.4 1.5 0.7 1.5 0.2 1.5 0.1 1.5-1.4 1.5-0.6 1.5 0.4 1.5 1.1 1.5-0.1 1.5 0.3 1.5-0.6 1.5-0.6 1.5 0.6 1.5 0 1.5 1.8 1.5-2 1.5 0.9 1.5-0.6 1.5-0.3 1.5 0.1 1.5-0.3 1.4-0.5 1.5 2.2 1.5-0.4 1.5-1.8 1.5 0.6 1.5 0.7 1.5-0.3 1.5-0.1 1.5-0.6 1.5 0.8 1.5-0.2 1.5 0.8 1.5-1.6 1.5 0.5 1.5 0.6 1.5 0.5 1.5-0.8 1.5-0.5 1.5-0.8 1.5 0.2 1.5 1.3 1.5 0 1.5 0.3 1.5-0.8 1.5 0.7 1.5-0.7 1.5 0.1 1.5-0.1 1.5 0.8 1.5-1.2 1.5 0.8 1.5 0.6 1.5-0.7 1.5-0.1 1.5 0 1.5-0.5 1.5-0.1 1.5-0.6 0.7 1.3 0.4-0.7 0.4 2.2 0.3-2.6 0.4 2.9 0.4 3.6 0.4 7.6 0.3 8.4 0.4 10.5 0.4 12.3 0.4 31.9 0.3 13.6 0.4 9.7 0.4 10.9 0.4 8.9 0.3 5.9 0.4 4.9 0.4 1.8 0.4 0.2 0.3-4.8 0.4-5.8 0.4-9.1 0.4-9.2 0.3-11 0.4-12.7 0.4-13.5 0.4-10.3 0.3-12.1 0.4-8.6 0.4-6.3 0.4-6.6 0.3-3.5 0.4 0.9 0.4 0.8 0.4-0.5 0.3 0.4 0.4-2.1 0.4 1.3 0.4 1.7 0.3-1.9 1.2 0.3 1.5 0.8 1.5-0.2 1.4-0.3 1.5-1.1 1.5 1.3 1.5 0.2 1.5-1 1.5 0.9 1.5 0.2 1.5-0.5 1.5-0.6 1.5 0.4 1.5 0.3 1.5-1 1.5 0 1.5 1.7 1.5-0.2 1.5-0.2 1.5-0.4 1.5-0.2 1.5 0.2 1.5-0.1 1.5-0.2 1.5 1 1.5 0.5 1.5-1.5 1.5-0.5 1.5 0.6"/>
<path d="M585.7 2141.2l1.5 0.3 1.5-0.2 1.5 0.6 1.5-0.6 1.5-0.5 1.5 1 1.5 0.1 1.5-1 1.5 0.7 1.5 0.7 1.5-0.4 1.5-1 1.5 0.5 1.5-0.8 1.5 0.7 1.5 0.2 1.5-0.5 1.5 1 1.5-1 1.5 0.7 1.5 0.1 1.5-0.4 1.5 0.5 1.5 0.4 1.5-0.1 1.4-0.8 1.5 0.1 1.5 0.1 1.5-0.4 1.5 1 1.5-0.3 1.5-1.2 1.5 1.5 1.5-1.3 1.5 0.9 0.6-0.5 0.3 0.2 0.4 0.8 0.2-1.8 0.2-2.2 0.4-5.1 0.3-7.7 0.4-9.5 0.2-3.9 0.2-3.4 0.4-6.2 0.3-3.4 0.4 0.3 0.2 0.2 0.2 1.8 0.4 6 0.3 7.1 0.4 7.9 0.2 3.9 0.2 4.7 0.4 5.5 0.3 5.3 0.4 0.6 0.2 0.4 0.2-0.5 0.4-3.7 0.3-4.9 0.4-4.1 0.2-3.9 0.2-0.4 0.4-4.4 0.3-4.9 0.6-4.1 1.5-9.3 1.5-6 1.5-3.7 1.5-1.5 1.5-1 1.5 0.4 1.5 0.9 1.5 0.6 1.5 1.3 1.5 1.6 1.5 1.1 1.5 1 1.5 1.6 1.5 2.4 1.5 2.1 1.5 0 1.5 1.8 1.5 0.8 1.5 1.8 1.5 0.3 1.5 2.1 1.5 0.2 1.5 1.6 1.5-1.1 1.5 2 1.5 1.7 1.5-1.3 1.5 0.7 1.5 0.3 1.5 1.9 1.5-0.4 1.5-0.1 1.5 1.2 1.4 0 1.5 0.7 1.5 0.4 1.5-0.7 1.5 1.5 1.5-0.3 1.5-0.1 1.5 0.6 1.5-0.3 1.5 1.8 1.5-1.7 1.5 1.5 1.5-0.4 1.5 0.2 1.5-0.4 1.5 0.5 1.5 0.3 1.5-0.6 1.5-0.7 1.5 1.6 1.5 0.1 1.5 0 1.5 0.5 1.5 0 1.5-0.4 1.5-0.6 1.5 0.8 1.5 0.2 1.5-0.4 1.5 0.4 1.5-1.9 1.5 0.7 1.5 0.9 1.5 0.9 1.5-0.6 1.5 0.3 1.5 0 1.5 0.7 1.5-0.9 1.5 0 1.5 0.1 1.5 0.4 1.5-0.9 1.5 0.7 1.5 0.7 1.5-0.6 1.5-1.1 1.5-0.2 1.5 1.4 1.5-0.6 1.4-0.4 1.5-0.2 1.5 0.8 1.5-0.4 1.5 0.4 1.5 0.8 1.5-1.6 1.5 0.6 1.5-0.3 1.5 0.4 1.5 0.4 1.5-0.2 1.5-0.5 1.5 0.9 1.5-1.6 1.5-0.4 1.5 2.6 1.5-1.8 1.5 0.7 1.5-0.5 1.5 0.2 1.5 0.2 1.5-0.6 1.5 0.4 1.5-0.7 1.5 0.6 1.5 1 1.5-0.7 1.5-0.1 1.5 0.3 1.5 0.4 1.5-1.8 1.5 1.1 1.5 0 1.5 0.9 1.5-1.2 1.5 0.4 1.5-0.7 1.5-0.3 1.5 1.3 1.5 0 1.5-1 1.5 0 1.5 0.4 1.5-0.2 1.5 0.6 1.5-0.2 1.5 0 1.5 1.2 1.4-1.6 1.5 0 1.5 0.9 1.5-0.2 1.5-0.5 1.5-0.2 1.5 0.4 1.5 0.3 1.5-0.5 1.5 0.1 1.5 0.7 1.5-0.4 1.5 0 1.5-0.6 1.5 1.1 1.5-0.2 1.5-0.3 1.5-0.2 1.5-1.3 1.5 1.4 1.5-0.7 1.5 0.2 1.5-0.3 1.5-0.3 1.5 0.7 1.5 0.8 1.5-0.3 1.5-1 1.5-0.4 1.5 0.5 1.5-0.6 1.5 0.9 1.5 0.9 1.5-0.6 1.5-0.1 1.5-0.3 1.5 0 1.5 1 0.7-1.2 0.4 1 0.4-0.5 0.3-0.1 0.4 1.9 0.4 5.1 0.4 8.3 0.3 9.9 0.4 11.4 0.4 14.1 0.4 35.7 0.3 14.8 0.4 11.9 0.4 12.5 0.4 9.6 0.3 8.3 0.4 4.7 0.4 1.9 0.4-1.8 0.3-3.1 0.4-6.8 0.4-10.3 0.4-11.9 0.3-12 0.4-14.7 0.4-13.8 0.4-13.8 0.3-11.2 0.4-11.8 0.4-8.2 0.4-6.1 0.3-2.3 0.4-0.6 0.4 1.1 0.4-1.2 0.3-0.8 0.4 0.7 0.4 0.1 0.4-0.2 0.3-0.6 1.2 1.2 1.5 0.4 1.5-0.2 1.4-0.2 1.5-0.5 1.5-0.4 1.5 0.9 1.5 0.2 1.5-1.1 1.5-0.1 1.5 1 1.5-0.8 1.5 0.5 1.5 0.2 1.5-0.2 1.5 0.4 1.5 0.5 1.5-0.2 1.5-0.4 1.5-0.6 1.5 0 1.5-0.3 1.5 1 1.5-0.5 1.5 0.8 1.5-0.2 1.5-1.2 1.5 0.7 1.5-1.2"/>
<path d="M585.7 2141.6l1.5-1.4 1.5 0.8 1.5 1 1.5 0.8 1.5 0.4 1.5-0.8 1.5-0.2 1.5 0.8 1.5-1.2 1.5-0.2 1.5 1.2 1.5-0.5 1.5 0.7 1.5-1.4 1.5 1.1 1.5 0.1 1.5 0.5 1.5-0.5 1.5 0.4 1.5-1.6 1.5 0.2 1.5 1.1 1.5-0.2 1.5-0.5 1.5-0.1 1.4 0.7 1.5-1.4 1.5 0.4 1.5-0.8 1.5 2.8 1.5-0.7 1.5-1.3 1.5 0.3 1.5 0.3 1.5 0.5 0.6-1 0.3 0.6 0.4-1.2 0.2-1.6 0.2-1.9 0.4-5.2 0.3-10 0.4-10.4 0.2-5.3 0.2-3.3 0.4-6.9 0.3-2.9 0.4-1.8 0.2 1.1 0.2 2.6 0.4 6.1 0.3 8.9 0.4 9.2 0.2 5.7 0.2 3.3 0.4 7.8 0.3 5.5 0.4 0.9 0.2-0.6 0.2 0.1 0.4-5.2 0.3-5.5 0.4-5.5 0.2-2 0.2-2.6 0.4-3.3 0.3-4 0.6-6.3 1.5-10.1 1.5-6 1.5-4.9 1.5-2.3 1.5-0.3 1.5-0.1 1.5 1.1 1.5 1.2 1.5 2.5 1.5 2.3 1.5 0.8 1.5 3.4 1.5 0.1 1.5 2 1.5 0.9 1.5 1.9 1.5 1 1.5 1.8 1.5 0.9 1.5 0.2 1.5 2.5 1.5 1.4 1.5-0.9 1.5 1.2 1.5 1.3 1.5 1 1.5 0.2 1.5 1 1.5-0.1 1.5 1.2 1.5 0.7 1.5-0.2 1.5 1.2 1.4-0.4 1.5 1.4 1.5 0 1.5-0.1 1.5 0.7 1.5-0.7 1.5 0.9 1.5 0.1 1.5 1.4 1.5-1.2 1.5 0.4 1.5 1.4 1.5-1.2 1.5 0.1 1.5 0.8 1.5 0.3 1.5 0.3 1.5-0.7 1.5 0 1.5 0.3 1.5-1.2 1.5 1.2 1.5 0 1.5 1.1 1.5-1.1 1.5-0.3 1.5 1.1 1.5-1.7 1.5 1.6 1.5-0.4 1.5 0.4 1.5 0 1.5 1.5 1.5-2.1 1.5 1.7 1.5-1.9 1.5 1.4 1.5-0.3 1.5-1.8 1.5 2 1.5-0.4 1.5 0.6 1.5-0.6 1.5-0.3 1.5-0.6 1.5 2.4 1.5-1.5 1.5-0.4 1.5-0.1 1.5 0.9 1.4-0.4 1.5-1.1 1.5 0.9 1.5-1 1.5 1.9 1.5-0.3 1.5-0.4 1.5 0.6 1.5-0.9 1.5 1 1.5-0.8 1.5 1 1.5-0.4 1.5-0.6 1.5-0.2 1.5 0.9 1.5 0.3 1.5-1.2 1.5 0.9 1.5-0.8 1.5-0.5 1.5 0.4 1.5 1.3 1.5-1.6 1.5 0 1.5 1 1.5-0.1 1.5-1 1.5 0.6 1.5-0.1 1.5-0.4 1.5 0.4 1.5-1.3 1.5 0.8 1.5 0.7 1.5 0 1.5 0.2 1.5-0.8 1.5 1.4 1.5-1.2 1.5 0.8 1.5 0.7 1.5-1.6 1.5 0.3 1.5 0.1 1.5 0.4 1.5-0.2 1.5 0.3 1.5-1.1 1.4 0 1.5 0.8 1.5 0 1.5-0.2 1.5-0.4 1.5 0.4 1.5 0.4 1.5-0.1 1.5-0.3 1.5 0.3 1.5 0.1 1.5-0.9 1.5 0.4 1.5-0.3 1.5 1.1 1.5-1 1.5 0.4 1.5 0.2 1.5 0.3 1.5-0.1 1.5-0.1 1.5-0.3 1.5 0.1 1.5-1.2 1.5 0.9 1.5 0.1 1.5 0.2 1.5 0.4 1.5 0 1.5-0.6 1.5 1 1.5-1.8 1.5 0.1 1.5 1.7 1.5-1.5 1.5 0 1.5 0 1.5 0.3 0.7-0.6 0.4 1.4 0.4-0.2 0.3-0.6 0.4 2.6 0.4 6.5 0.4 7.4 0.3 11.2 0.4 14.2 0.4 14.7 0.4 38.3 0.3 17.5 0.4 14.1 0.4 13.7 0.4 11 0.3 9.3 0.4 5.6 0.4 1.4 0.4-2.2 0.3-2.8 0.4-9.5 0.4-10.3 0.4-13 0.3-14.8 0.4-14.6 0.4-16.8 0.4-13.7 0.3-14.4 0.4-12.7 0.4-9.8 0.4-5.3 0.3-2.9 0.4-1.7 0.4 0.1 0.4-0.2 0.3 0.4 0.4 0.7 0.4-1.4 0.4 0.2 0.3 0.4 1.2-1.2 1.5 1.1 1.5-0.7 1.4 1 1.5 1.5 1.5-1 1.5 1 1.5-1.5 1.5-0.8 1.5 1.7 1.5-1.4 1.5 0.5 1.5-0.6 1.5 0.3 1.5 0.7 1.5-0.9 1.5 0.4 1.5-0.5 1.5-0.6 1.5 1.2 1.5-1.1 1.5 1 1.5-0.4 1.5 0.3 1.5 0.5 1.5-0.5 1.5 0.3 1.5-0.6 1.5 1"/>
<path d="M585.7 2140.5l1.5 0.4 1.5-0.3 1.5 1 1.5-0.8 1.5 0.7 1.5 0.3 1.5-0.5 1.5-0.6 1.5 0.4 1.5-1 1.5 0.6 1.5 0.2 1.5 0.2 1.5 0.8 1.5-0.8 1.5 0 1.5-1 1.5 1.5 1.5-0.4 1.5 0.3 1.5-0.5 1.5 1.1 1.5-1.2 1.5 0.2 1.5-0.1 1.4-1.4 1.5 1.6 1.5-0.4 1.5 0.3 1.5-0.6 1.5-0.7 1.5 0.3 1.5 0.8 1.5 1 1.5-1 0.6 1.2 0.3-0.5 0.4 0.7 0.2-1.6 0.2-2.9 0.4-7.3 0.3-9.6 0.4-11.2 0.2-5.2 0.2-5.2 0.4-7.3 0.3-3.9 0.4-1.1 0.2 2.1 0.2 1.9 0.4 6 0.3 10.9 0.4 9.3 0.2 5.1 0.2 6.6 0.4 5.7 0.3 7.7 0.4 1.7 0.2-0.1 0.2-0.6 0.4-5.2 0.3-5.6 0.4-6.8 0.2-3.6 0.2-1.3 0.4-5.3 0.3-4.6 0.6-6.6 1.5-10.4 1.5-7.7 1.5-4.2 1.5-1.9 1.5-0.5 1.5-0.1 1.5 0.8 1.5 2.6 1.5 1.1 1.5 1.4 1.5 2 1.5 1.8 1.5 1.2 1.5 2.1 1.5 3.1 1.5 0 1.5 2.9 1.5 1.5 1.5 0.3 1.5 2.1 1.5 2 1.5-0.3 1.5 1.2 1.5 0.9 1.5 2 1.5-0.5 1.5 1.6 1.5-0.2 1.5 1.9 1.5 0.5 1.5 1.1 1.5-0.2 1.5-0.6 1.4 0.9 1.5 0.9 1.5-0.8 1.5 1.1 1.5 0 1.5 0.5 1.5 0.5 1.5 0.1 1.5 0.1 1.5-0.2 1.5 0.5 1.5 0 1.5 1.4 1.5 0.6 1.5-1.2 1.5 0.3 1.5-0.1 1.5 1 1.5-0.6 1.5 0.8 1.5-0.6 1.5 0.2 1.5 0.1 1.5-0.2 1.5 0.6 1.5-0.3 1.5-0.3 1.5-0.5 1.5 0.7 1.5-0.2 1.5 0.2 1.5-0.6 1.5-0.2 1.5 1.6 1.5-0.7 1.5 0.2 1.5-0.7 1.5 2.4 1.5-1 1.5 0.6 1.5-1.8 1.5 0.7 1.5-0.2 1.5 0.1 1.5 0.1 1.5-0.1 1.5 0.5 1.5 1 1.5-1.4 1.5 0.3 1.4 0.3 1.5 0 1.5-1.1 1.5 1.2 1.5 0.2 1.5-1 1.5-0.5 1.5 1.6 1.5-0.1 1.5 0 1.5-0.8 1.5-0.1 1.5-0.5 1.5 0.8 1.5 0.1 1.5 0.3 1.5-1.1 1.5 1.1 1.5 0.1 1.5-0.4 1.5-0.1 1.5-0.2 1.5 0.6 1.5-1.4 1.5-0.1 1.5 1.8 1.5-0.8 1.5 0.7 1.5-0.4 1.5 0.5 1.5-0.5 1.5-0.3 1.5 0 1.5 0.9 1.5 0.4 1.5-0.1 1.5-1.8 1.5 0.8 1.5-0.1 1.5-0.8 1.5 1.4 1.5-0.8 1.5 0.6 1.5-0.5 1.5 1.2 1.5-0.8 1.5-0.2 1.5-0.1 1.5 0.9 1.4-0.7 1.5-0.7 1.5 0.6 1.5-0.6 1.5 0.1 1.5 0.3 1.5 0.4 1.5-0.3 1.5 0.6 1.5-1 1.5 0.2 1.5-0.5 1.5-0.6 1.5 0.8 1.5 0.2 1.5 0.2 1.5-0.4 1.5-0.3 1.5 1 1.5 0.6 1.5 0 1.5-1.3 1.5 0.3 1.5-0.1 1.5 1.3 1.5-0.6 1.5 0.5 1.5-0.2 1.5-0.3 1.5 0 1.5-1.3 1.5 1.7 1.5-0.4 1.5 0.1 1.5-0.5 1.5-0.4 1.5 0.9 1.5 0.5 0.7-0.7 0.4-0.5 0.4 0.9 0.3-1.2 0.4 3.7 0.4 6 0.4 9.5 0.3 11.3 0.4 15.6 0.4 17 0.4 42.8 0.3 17.6 0.4 16.4 0.4 13.7 0.4 12.8 0.3 10.3 0.4 6.7 0.4 3.1 0.4-2.1 0.3-5.8 0.4-8.7 0.4-11.8 0.4-13.7 0.3-17 0.4-16.9 0.4-18.2 0.4-16.7 0.3-15.8 0.4-13.2 0.4-10.1 0.4-8.2 0.3-2.2 0.4-1.4 0.4 0.7 0.4-0.1 0.3-0.4 0.4 0.5 0.4 0.3 0.4-0.1 0.3 0.2 1.2-0.7 1.5-0.2 1.5 0.2 1.4 0.9 1.5-1 1.5-0.5 1.5 1.3 1.5-0.2 1.5-1 1.5 0.6 1.5-0.7 1.5 0.8 1.5 0.6 1.5-0.8 1.5 0 1.5-0.2 1.5 0.7 1.5-0.2 1.5-1.5 1.5 1.5 1.5-1.2 1.5 1.6 1.5-0.8 1.5-0.1 1.5-0.3 1.5 0.5 1.5 0.4 1.5-0.5 1.5 1"/>
<path d="M915.3 2142.7l3.2-6.5 4.3-13.1 7.4-6.6 8.6 5.7 10.7 6.6 12.3 3.3 0 21.2 -9.6 0.9 -8 3.2 -8.1 6.6 -5.3 9.8 -5.4 5.6 -2.6-2.3 -3.8-14.8 -2.7-14.7z" fill="#466a91"/>
</g>
<text x="770" y="1936.8" font-size="28.9" font-family="Liberation Sans, Arial, sans-serif" text-anchor="middle">CalC4_24</text>
<rect x="567.3" y="1979" width="412.5" height="409.3" fill="none" stroke="#000" stroke-width="2.2"/>
<path d="M639.2 2388.3v8M692.7 2388.3v8M746.2 2388.3v8M799.7 2388.3v8M853.2 2388.3v8M906.7 2388.3v8M567.3 1979h-8M567.3 2060.8h-8M567.3 2142.7h-8M567.3 2224.6h-8M567.3 2306.4h-8M567.3 2388.3h-8" stroke="#000" stroke-width="2.2" fill="none"/>
<text x="639.2" y="2433.3" font-size="29.0" font-family="DejaVu Sans, Liberation Sans, sans-serif" text-anchor="middle">0</text>
<text x="692.7" y="2433.3" font-size="29.0" font-family="DejaVu Sans, Liberation Sans, sans-serif" text-anchor="middle">10</text>
<text x="746.2" y="2433.3" font-size="29.0" font-family="DejaVu Sans, Liberation Sans, sans-serif" text-anchor="middle">20</text>
<text x="799.7" y="2433.3" font-size="29.0" font-family="DejaVu Sans, Liberation Sans, sans-serif" text-anchor="middle">30</text>
<text x="853.2" y="2433.3" font-size="29.0" font-family="DejaVu Sans, Liberation Sans, sans-serif" text-anchor="middle">40</text>
<text x="906.7" y="2433.3" font-size="29.0" font-family="DejaVu Sans, Liberation Sans, sans-serif" text-anchor="middle">50</text>
<text x="544.1" y="1989.6" font-size="29.0" font-family="DejaVu Sans, Liberation Sans, sans-serif" text-anchor="end">10</text>
<text x="544.1" y="2071.4" font-size="29.0" font-family="DejaVu Sans, Liberation Sans, sans-serif" text-anchor="end">5</text>
<text x="544.1" y="2153.3" font-size="29.0" font-family="DejaVu Sans, Liberation Sans, sans-serif" text-anchor="end">0</text>
<text x="544.1" y="2235.1" font-size="29.0" font-family="DejaVu Sans, Liberation Sans, sans-serif" text-anchor="end">−5</text>
<text x="544.1" y="2317" font-size="29.0" font-family="DejaVu Sans, Liberation Sans, sans-serif" text-anchor="end">−10</text>
<text x="544.1" y="2398.9" font-size="29.0" font-family="DejaVu Sans, Liberation Sans, sans-serif" text-anchor="end">−15</text>
<text x="773.5" y="2460.2" font-size="29.0" font-family="DejaVu Sans, Liberation Sans, sans-serif" text-anchor="middle">Time (ms)</text>
<text x="0" y="0" font-size="29.0" font-family="DejaVu Sans, Liberation Sans, sans-serif" text-anchor="middle" transform="translate(476 2183.7) rotate(-90)">Current density (pA pF<tspan dy="-11" font-size="20.3">−1</tspan><tspan dy="11">)</tspan></text>
<clipPath id="cp2"><rect x="1116" y="1979" width="412.7" height="409.3"/></clipPath>
<g clip-path="url(#cp2)" fill="none" stroke="#874f6a" stroke-width="3.5" stroke-linejoin="round" stroke-linecap="round">
<path d="M1135.1 2141.9l1.5 1 1.5 0 1.5-1.5 1.5 0.9 1.5 0.3 1.5 0 1.5 0 1.5 0.2 1.5-0.7 1.5 0.8 1.5-1.1 1.5 0.1 1.5 1.3 1.5-0.5 1.5 0 1.5 0.3 1.5 0.5 1.5-1 1.5 0.4 1.5 0.7 1.5-0.1 1.5-0.4 1.5-1.2 1.5-0.2 1.5 0.7 1.4-0.6 1.5 0.1 1.5 0.7 1.5 0.2 1.5 1 1.5 0.1 1.5-0.5 1.5-0.1 1.5 0 1.5-1.7 0.6 1.8 0.3-0.6 0.4 0.2 0.2 17.8 0.2 16.4 0.4 40 0.3 40.5 0.4 40.2 0.2-12.7 0.2-14.4 0.4-39.1 0.3-39.1 0.4-37.9 0.2-10.1 0.2 0 0.4-0.2 0.3 0.1 0.4 0.5 0.2-0.8 0.2 0.8 0.4 1.1 0.3 0.3 0.4 0.4 0.2 0.7 0.2 0.1 0.4 0.3 0.3-0.8 0.4-0.5 0.2 1.4 0.2-0.7 0.4 1.4 0.3 0.2 0.6 0.6 1.5 1.2 1.5-0.7 1.5 2.4 1.5-0.8 1.5 0.7 1.5-0.8 1.5 1.8 1.5 0.1 1.5-1.9 1.5 0.1 1.5 0.6 1.5 0.8 1.5-1.2 1.5 1 1.5 0.7 1.5-0.4 1.5-0.5 1.5 0.2 1.5-0.1 1.5-0.1 1.5-0.5 1.5-0.2 1.5 0.2 1.5 0.3 1.5 1.2 1.5-1.6 1.5-0.5 1.5 0.1 1.5 0.7 1.5 1.3 1.5-1.7 1.5 0.7 1.4-1 1.5 1.6 1.5-1.2 1.5 0.5 1.5 0.1 1.5-0.3 1.5-0.4 1.5-0.6 1.5-0.3 1.5 0 1.5 0.4 1.5 0.5 1.5-0.2 1.5-0.5 1.5 0.5 1.5 0.4 1.5 0.9 1.5-1.4 1.5 0.2 1.5-1 1.5 1.7 1.5-0.3 1.5 0.1 1.5-0.6 1.5 0.7 1.5-0.5 1.5 0.2 1.5 0.5 1.5-0.2 1.5 0 1.5-0.2 1.5-0.6 1.5 0.1 1.5-0.4 1.5 0.1 1.5 1.3 1.5-1.1 1.5 0.3 1.5 2.3 1.5-0.7 1.5-0.9 1.5 1.3 1.5-2.1 1.5-0.2 1.5 0.6 1.5-0.5 1.5 0.8 1.5-0.8 1.5 0.2 1.5 0.2 1.5-0.4 1.4 1.1 1.5-0.1 1.5-1.2 1.5-0.1 1.5 1.2 1.5 0.5 1.5 0.1 1.5-2.4 1.5 0.5 1.5-0.9 1.5 0 1.5 0.1 1.5 0.7 1.5 0.9 1.5 0 1.5-1 1.5 2 1.5-1.4 1.5 0.8 1.5-1.1 1.5 1.2 1.5 0.1 1.5-1.2 1.5 2.4 1.5-2.6 1.5 0.9 1.5 0.7 1.5-1 1.5 1.1 1.5-0.7 1.5 0.3 1.5-0.6 1.5 0.4 1.5-0.2 1.5-1.9 1.5 1.2 1.5 0.1 1.5 0.2 1.5 0.4 1.5-0.2 1.5 1.4 1.5-1.2 1.5 0.2 1.5 1.4 1.5-1.7 1.5-0.8 1.5 0.9 1.5 0 1.5-0.1 1.4 0.3 1.5 0.8 1.5-0.8 1.5 0.4 1.5-0.2 1.5-1.1 1.5 0.9 1.5 0.5 1.5-0.3 1.5-1.5 1.5 1 1.5 1.6 1.5-1.5 1.5 0.8 1.5 0.1 1.5-1 1.5 0 1.5 1.1 1.5-0.7 1.5-0.2 1.5 0 1.5-0.6 1.5 1 1.5-1.7 1.5 0.1 1.5 1.1 1.5 0.7 1.5-0.7 1.5-1.2 1.5 0.2 1.5 0 1.5 0.1 1.5 1.2 1.5-0.9 1.5 0 1.5 0.8 1.5-0.7 1.5 0.6 0.7-0.1 0.4-1 0.4 0.4 0.3-4.1 0.4-29.9 0.4-30.1 0.4-29.8 0.3-28.9 0.4-31.5 0.4-39.8 0.4-29.1 0.3-29.6 0.4-31.1 0.4 15.8 0.4 24 0.3 22.4 0.4 23.2 0.4 21.8 0.4 24.1 0.3 21.1 0.4 24 0.4 22.2 0.4 23.5 0.3 22.7 0.4 22.7 0.4 7 0.4 1.2 0.3-0.3 0.4-0.1 0.4-1.3 0.4 1.5 0.3 0 0.4 0.5 0.4-1.1 0.4-0.4 0.3 1.1 0.4-1.7 0.4 0.4 0.4 0.1 0.3 0.3 1.2-1.3 1.5 2.6 1.4 0.1 1.5-2 1.5 2.5 1.5-1.1 1.5 0.4 1.5-0.1 1.5-0.2 1.5-0.8 1.5-0.4 1.5 0.1 1.5-0.2 1.5 0.4 1.5 0.2 1.5-0.5 1.5 0.7 1.5 0.1 1.5-1.2 1.5 2.2 1.5-2 1.5-0.2 1.5 1.7 1.5 0.9 1.5-1.4 1.5-0.7 1.5 0.8 1.5-1.3 1.5 0.3"/>
<path d="M1135.1 2143l1.5 0.7 1.5-1.1 1.5 0.9 1.5-0.6 1.5 1 1.5-1.3 1.5-0.2 1.5 0.3 1.5-0.9 1.5 0.5 1.5 0.7 1.5-1.1 1.5 1.1 1.5-1.3 1.5-1 1.5 0.9 1.5 0.1 1.5 1.2 1.5-0.1 1.5 0.2 1.5-1.5 1.5 1.5 1.5-0.4 1.5 1.3 1.5-1.1 1.4-0.5 1.5-0.2 1.5 0.1 1.5-0.5 1.5 0.1 1.5 1.5 1.5-0.3 1.5-1.1 1.5 0.3 1.5 1.4 0.6-1.2 0.3 0.9 0.4-0.5 0.2 14.8 0.2 17.7 0.4 35 0.3 36.3 0.4 37.8 0.2-10.9 0.2-14.1 0.4-35.7 0.3-33.8 0.4-35.4 0.2-10.2 0.2-0.2 0.4 2.1 0.3 1.6 0.4-0.8 0.2 2.1 0.2-0.2 0.4 0.1 0.3 0.9 0.4 2.1 0.2-0.2 0.2 0.1 0.4-1 0.3 1.3 0.4 0.1 0.2 0.6 0.2-0.3 0.4 0.6 0.3 0.9 0.6-0.5 1.5 1.6 1.5 0.2 1.5 2.9 1.5 1.1 1.5-1.1 1.5 2.2 1.5-0.5 1.5 0.6 1.5-0.1 1.5 0.5 1.5 0.7 1.5 0 1.5-0.6 1.5 0.4 1.5-1.2 1.5 1 1.5-0.8 1.5 1.7 1.5-0.7 1.5 0.9 1.5 0.3 1.5-0.5 1.5-0.4 1.5-1.9 1.5 2.4 1.5-0.2 1.5-1.1 1.5 0.9 1.5 0.1 1.5-0.5 1.5 0.7 1.5 0.4 1.4 0.3 1.5-1.1 1.5-0.5 1.5 0.4 1.5-0.4 1.5 1.1 1.5 0.1 1.5 0.6 1.5 0.8 1.5-1.9 1.5 0.5 1.5-0.7 1.5 0.8 1.5 0.8 1.5-0.6 1.5-0.4 1.5 0.4 1.5-0.8 1.5-0.9 1.5 0.1 1.5-0.5 1.5 0.5 1.5 0 1.5 0.4 1.5 0.8 1.5-1.3 1.5 0.1 1.5 1.1 1.5 0.2 1.5-0.3 1.5-0.7 1.5-0.2 1.5 0.2 1.5 0.1 1.5 1.1 1.5-0.7 1.5-0.4 1.5-0.7 1.5 0.9 1.5-0.2 1.5-0.6 1.5-1.5 1.5 2 1.5-1.6 1.5 1.8 1.5-0.7 1.5 0.8 1.5-1.6 1.5 1.8 1.5 0.2 1.5-0.5 1.4-0.6 1.5 1.4 1.5-0.8 1.5 0.1 1.5-1.3 1.5 2.1 1.5-2.5 1.5 1 1.5 0.9 1.5-1.4 1.5 0.9 1.5-0.7 1.5 0.1 1.5-0.4 1.5 2.3 1.5-1.5 1.5-0.2 1.5 1.5 1.5-1.2 1.5 0 1.5 0.7 1.5 1 1.5-1.6 1.5 0.4 1.5-1.6 1.5 1.2 1.5-0.4 1.5-0.1 1.5 0.2 1.5 1 1.5-0.4 1.5-0.6 1.5 0.4 1.5 0 1.5-0.9 1.5 0.2 1.5-0.3 1.5 0.4 1.5-0.7 1.5 0.5 1.5 0.6 1.5-1.2 1.5-0.1 1.5 0.2 1.5 1.4 1.5-1 1.5 0.8 1.5-0.3 1.5 0.6 1.4-0.7 1.5 0.1 1.5-0.9 1.5 0.8 1.5-0.5 1.5 0.5 1.5 0.5 1.5-1.4 1.5 0.5 1.5-0.3 1.5 2.1 1.5-2.9 1.5 1.1 1.5 0.9 1.5-1.9 1.5 1.6 1.5-0.5 1.5 0.9 1.5 1.8 1.5-2.3 1.5 1.1 1.5-1.4 1.5 0.5 1.5 0.2 1.5 0.8 1.5-1.6 1.5 0.6 1.5-1 1.5 1 1.5-1.1 1.5 0.6 1.5-0.1 1.5-1.7 1.5 0.8 1.5 0.7 1.5-0.8 1.5 1.2 1.5-0.2 0.7-0.3 0.4 0.5 0.4 0.4 0.3-4.8 0.4-25.7 0.4-26.6 0.4-27.4 0.3-26.7 0.4-28.1 0.4-45.2 0.4-25.8 0.3-29 0.4-26.6 0.4 14.5 0.4 20.9 0.3 20.1 0.4 21 0.4 19.5 0.4 20.9 0.3 19.9 0.4 22.4 0.4 19.9 0.4 19.7 0.3 21.4 0.4 20.4 0.4 6.2 0.4-1.8 0.3 1.1 0.4-0.1 0.4 1.5 0.4 0 0.3 0.1 0.4-0.9 0.4 0.8 0.4-0.7 0.3-0.3 0.4 0.1 0.4 0.9 0.4 0.2 0.3-1.4 1.2 1.3 1.5-0.5 1.4 0.9 1.5-0.1 1.5-0.3 1.5 0.3 1.5-0.5 1.5-0.6 1.5 0.5 1.5-0.7 1.5 0.8 1.5-0.8 1.5 1.1 1.5-1.9 1.5 2.4 1.5-1.3 1.5-0.4 1.5 2.8 1.5-0.8 1.5 0.3 1.5-0.9 1.5 0.2 1.5 0.3 1.5-0.9 1.5-0.9 1.5 2.1 1.5-0.6 1.5-0.2 1.5-1.2"/>
<path d="M1135.1 2141.7l1.5 1.2 1.5-1.2 1.5-0.4 1.5 0.1 1.5 0.9 1.5 0.4 1.5-0.7 1.5 0.5 1.5-1 1.5 2.7 1.5-1.4 1.5-1.4 1.5 1.5 1.5-0.9 1.5-0.3 1.5 1.9 1.5-0.6 1.5-0.7 1.5 2.4 1.5 0.2 1.5-2 1.5 1 1.5-0.5 1.5-0.6 1.5-0.7 1.4 1.1 1.5-1.1 1.5-0.4 1.5 0.4 1.5-0.2 1.5 0.1 1.5 0.2 1.5-2.2 1.5 3.1 1.5 0.1 0.6 0.1 0.3 0.1 0.4-0.2 0.2 14.3 0.2 12.7 0.4 33.4 0.3 32.2 0.4 31.4 0.2-8.7 0.2-13.5 0.4-32.3 0.3-29.7 0.4-30 0.2-6.5 0.2-0.4 0.4 2 0.3 2 0.4 2 0.2-0.1 0.2 1.1 0.4 0.2 0.3 0.9 0.4 0.6 0.2-1.3 0.2 1.1 0.4 3.1 0.3-0.8 0.4 1.6 0.2 1.1 0.2 1.2 0.4 0.4 0.3 3.1 0.6-0.1 1.5 0.9 1.5 1.8 1.5 1 1.5 1.5 1.5 1.1 1.5-0.3 1.5 1 1.5 1.7 1.5-1.2 1.5 1.7 1.5-1.1 1.5 0.9 1.5-0.2 1.5-0.6 1.5 1.7 1.5-1.1 1.5 0.5 1.5 0.5 1.5 0.1 1.5 0.6 1.5-0.9 1.5-0.2 1.5 0.6 1.5-1.3 1.5 0.5 1.5 0.8 1.5-0.9 1.5-0.2 1.5 1.2 1.5-1.1 1.5 0.2 1.5-0.7 1.4 0.8 1.5-0.3 1.5 0.4 1.5 1.4 1.5-1.2 1.5 0.1 1.5-0.5 1.5-0.1 1.5 0.5 1.5-0.4 1.5-0.1 1.5 0.4 1.5 0.3 1.5-1.4 1.5 0.3 1.5 1.4 1.5-0.6 1.5-1.3 1.5 0.5 1.5 1.4 1.5-1.7 1.5-0.6 1.5 0.8 1.5 0.3 1.5 0.1 1.5 0.3 1.5-0.2 1.5-0.3 1.5-2.2 1.5 0.2 1.5 1.8 1.5 0.9 1.5-0.6 1.5 0.6 1.5 0.4 1.5 0.5 1.5-1.2 1.5-0.1 1.5-0.5 1.5 0.5 1.5-1 1.5 1.2 1.5-0.2 1.5 0.1 1.5 0.1 1.5 0.3 1.5-0.2 1.5 0 1.5 0.3 1.5-0.1 1.5-0.5 1.4-1.7 1.5 1.2 1.5 0.4 1.5 0.4 1.5-1.3 1.5 0.6 1.5-0.2 1.5-0.4 1.5 2.7 1.5-0.9 1.5-0.6 1.5-0.7 1.5 0.9 1.5-0.3 1.5-0.5 1.5-0.1 1.5-0.1 1.5 0.4 1.5 0.1 1.5-0.4 1.5-0.6 1.5-0.2 1.5 0.6 1.5 0.5 1.5-0.8 1.5 0.1 1.5-0.1 1.5 0.2 1.5-0.3 1.5-0.9 1.5-0.2 1.5-0.4 1.5 1.1 1.5-0.6 1.5 0.6 1.5 0.9 1.5-0.1 1.5 0.3 1.5-0.2 1.5-0.4 1.5-1.5 1.5 2.7 1.5-0.9 1.5 0.7 1.5-0.5 1.5 0.6 1.5-0.5 1.5-1.7 1.5 0.2 1.4 1.8 1.5-1.3 1.5-0.2 1.5 1.2 1.5-1.2 1.5-0.6 1.5 0.3 1.5 0.1 1.5-0.4 1.5 1.1 1.5-1.4 1.5-0.5 1.5 3.5 1.5-1.6 1.5-0.9 1.5 1.2 1.5 0.9 1.5-1.2 1.5 0.2 1.5 1.6 1.5-1.6 1.5 0.5 1.5 0.1 1.5 0.7 1.5-1 1.5-0.1 1.5 0.6 1.5-0.5 1.5-1.4 1.5-0.4 1.5 1.8 1.5-1.2 1.5 0.5 1.5-0.1 1.5-0.4 1.5-0.3 1.5 0.7 1.5 1.4 0.7-0.9 0.4-0.3 0.4-0.8 0.3-2.6 0.4-24.1 0.4-24.2 0.4-24.2 0.3-22 0.4-25.8 0.4-53.1 0.4-23.9 0.3-23.3 0.4-24.5 0.4 11 0.4 19.8 0.3 19 0.4 17.4 0.4 18.5 0.4 18.2 0.3 19.4 0.4 16.9 0.4 18.3 0.4 21.4 0.3 15.7 0.4 17.9 0.4 6.4 0.4 1.2 0.3-1.4 0.4-1.3 0.4 0.9 0.4-1.3 0.3 1.1 0.4 0.3 0.4 0.3 0.4-1.8 0.3 2 0.4-0.6 0.4-0.1 0.4-0.5 0.3 0.3 1.2 1.1 1.5 0 1.4-1.9 1.5 0.9 1.5 0.1 1.5 0.1 1.5-0.3 1.5 0.3 1.5-1.1 1.5 0.7 1.5 0.7 1.5-0.4 1.5 0.7 1.5 0.3 1.5-0.7 1.5 0.2 1.5 0.2 1.5-1.8 1.5 0.9 1.5-0.6 1.5-1.1 1.5 1.5 1.5-0.3 1.5-0.6 1.5 1.1 1.5 0.3 1.5-0.1 1.5 0.3 1.5-0.1"/>
<path d="M1135.1 2141.9l1.5-1.4 1.5 1.8 1.5-1 1.5 1.7 1.5 0.4 1.5-0.7 1.5-0.6 1.5 1.2 1.5-1 1.5 0.5 1.5 0.3 1.5-0.3 1.5-0.2 1.5 0.1 1.5-0.5 1.5-0.5 1.5 0.7 1.5 1.3 1.5-2 1.5 1.6 1.5-0.7 1.5 0.9 1.5-0.7 1.5 0.3 1.5-0.1 1.4-0.5 1.5-0.3 1.5 1.3 1.5-1.6 1.5 0.3 1.5 0.6 1.5 1.6 1.5-1.4 1.5 0.5 1.5-1 0.6 1.1 0.3-0.1 0.4-0.9 0.2 13.7 0.2 11.2 0.4 28 0.3 30 0.4 27.5 0.2-8.5 0.2-11.5 0.4-28.3 0.3-25.6 0.4-23.8 0.2-8.2 0.2 1 0.4 2.4 0.3 2.5 0.4 0.1 0.2 1.2 0.2 1.8 0.4 2.3 0.3 1.7 0.4 1.8 0.2-1 0.2 2 0.4-0.2 0.3 2.3 0.4 0.9 0.2 0.8 0.2-0.6 0.4 2.5 0.3 1.4 0.6 1 1.5 3.5 1.5 2 1.5 2.4 1.5 2.5 1.5 0.4 1.5 2.2 1.5-0.9 1.5 1.8 1.5 0.6 1.5-1.2 1.5 0.4 1.5 0.7 1.5 0.8 1.5 0.1 1.5-0.3 1.5-1.1 1.5 1.5 1.5 0.3 1.5 0.5 1.5 1.2 1.5-1.3 1.5 1.6 1.5-0.5 1.5-0.2 1.5 0 1.5-0.5 1.5-0.3 1.5-0.5 1.5-1.6 1.5 0.8 1.5 0.9 1.5-0.4 1.4 0.5 1.5-1.4 1.5 0.5 1.5 0.7 1.5-0.5 1.5-0.3 1.5 0.7 1.5 0.2 1.5-0.7 1.5 0.7 1.5-0.8 1.5-0.8 1.5 0.5 1.5-0.4 1.5-1.2 1.5 1.2 1.5-1.1 1.5 1.7 1.5 0.1 1.5-0.6 1.5 0.7 1.5 1.2 1.5-1.8 1.5 0.7 1.5 0.6 1.5-0.8 1.5-0.2 1.5 0.7 1.5-1.4 1.5 1 1.5 1 1.5-2.1 1.5 1.2 1.5-0.2 1.5-0.2 1.5 0 1.5-1.9 1.5 1.2 1.5-0.3 1.5 0 1.5-0.7 1.5 2.6 1.5-2.1 1.5 0.3 1.5 0.3 1.5-0.3 1.5 0.1 1.5 1.8 1.5-1.1 1.5 0.3 1.5-1.3 1.4 1.8 1.5-1.6 1.5 0.1 1.5-0.6 1.5 0.2 1.5 2.2 1.5-2 1.5 0.5 1.5 0.2 1.5-0.9 1.5 0.6 1.5-1.5 1.5 0.5 1.5 0.7 1.5-0.8 1.5 0.2 1.5 0 1.5 0.2 1.5-0.9 1.5 1.6 1.5-0.9 1.5 1.7 1.5-1.3 1.5 0.3 1.5 0.1 1.5-0.8 1.5 0.7 1.5-2.3 1.5 1.8 1.5-1 1.5 0.9 1.5 0.4 1.5-0.5 1.5 0.9 1.5-1.7 1.5 0.7 1.5 0.1 1.5-0.8 1.5 1.1 1.5 0 1.5 0.3 1.5 0.1 1.5 0 1.5 0.4 1.5-1.1 1.5 0.2 1.5 0.1 1.5 0.5 1.5-1.4 1.4 0.2 1.5 1.3 1.5 0 1.5 1 1.5-0.4 1.5-1.3 1.5 1.9 1.5-3.4 1.5 1.3 1.5 0 1.5 1.5 1.5 0.8 1.5-0.8 1.5 0 1.5-1.6 1.5 1.2 1.5-0.6 1.5-2 1.5 1.7 1.5-0.6 1.5-1.1 1.5-0.8 1.5 3.1 1.5 0.9 1.5-1.1 1.5-0.2 1.5 0 1.5 0 1.5 0.3 1.5-1.4 1.5 1.1 1.5 0.4 1.5-0.5 1.5-0.5 1.5 0.8 1.5-1.7 1.5 1.6 1.5-0.8 0.7 1.4 0.4-0.9 0.4-0.6 0.3-2.5 0.4-20.9 0.4-21 0.4-20.2 0.3-21.6 0.4-20.9 0.4-62.8 0.4-19.7 0.3-21.3 0.4-20.8 0.4 9.9 0.4 14.8 0.3 17.4 0.4 15.6 0.4 16.1 0.4 15.5 0.3 16.5 0.4 17.4 0.4 13.9 0.4 15.3 0.3 17.1 0.4 16.4 0.4 3.9 0.4-1.3 0.3 1.4 0.4-0.5 0.4 0.2 0.4 1.8 0.3-1 0.4-0.2 0.4 0.3 0.4 0 0.3 1 0.4-1.3 0.4 0.2 0.4-0.8 0.3-0.8 1.2 0.8 1.5-0.9 1.4 0.6 1.5-1.4 1.5 1.9 1.5-1.8 1.5 3.1 1.5 0.6 1.5-1.1 1.5-0.1 1.5-1 1.5 0.9 1.5-0.2 1.5 0.8 1.5-0.7 1.5-0.7 1.5 0.9 1.5-0.4 1.5-0.6 1.5 1.2 1.5 0 1.5 0.1 1.5 0.3 1.5 1.1 1.5-1.1 1.5-0.6 1.5 0.1 1.5-1.7 1.5 0.8"/>
<path d="M1135.1 2144.1l1.5-0.8 1.5 0.1 1.5-1.9 1.5 0.7 1.5 1 1.5-0.4 1.5-0.2 1.5-1.9 1.5 2.4 1.5-0.1 1.5 0.1 1.5 0.3 1.5 0.2 1.5 0.6 1.5-1 1.5 0.2 1.5 0.9 1.5-0.8 1.5 0.8 1.5 0.5 1.5-1.1 1.5-0.6 1.5-0.8 1.5 0.8 1.5 1.1 1.4-0.4 1.5-0.4 1.5 0.4 1.5-0.4 1.5 0.5 1.5-1 1.5 0.9 1.5-1 1.5-0.6 1.5 0.3 0.6 0 0.3 1 0.4-1.4 0.2 11.7 0.2 9.7 0.4 24.9 0.3 23.4 0.4 24.6 0.2-6 0.2-11.2 0.4-22.5 0.3-22.8 0.4-20.2 0.2-5.1 0.2 1.2 0.4 3.5 0.3 2.3 0.4 2.3 0.2 0.3 0.2 1 0.4 3 0.3 2.5 0.4 4.6 0.2 0.1 0.2 1 0.4 0.7 0.3 1.8 0.4 1.2 0.2 0.7 0.2 0.7 0.4 2 0.3 1.5 0.6 1.3 1.5 5.1 1.5 2.5 1.5 3.8 1.5 2 1.5 2.5 1.5 0.5 1.5 1.9 1.5 2.1 1.5-0.2 1.5 0.6 1.5 0 1.5 0.8 1.5-0.7 1.5 1 1.5-0.3 1.5-0.4 1.5 0.2 1.5 0.1 1.5 0.8 1.5-0.7 1.5 0.7 1.5-0.3 1.5 0.9 1.5-0.8 1.5 1.1 1.5-0.4 1.5-0.6 1.5-0.4 1.5 1 1.5-1.2 1.5 1.7 1.5-1.4 1.4 1 1.5-0.9 1.5 0.7 1.5-1 1.5 0.6 1.5-1.6 1.5-0.9 1.5 1.1 1.5-0.1 1.5 0.3 1.5 0.7 1.5-0.1 1.5 0.4 1.5-0.5 1.5-1.1 1.5 0.8 1.5-1 1.5 0.6 1.5-2.1 1.5 0.9 1.5 0.7 1.5-1.3 1.5 1.1 1.5 0 1.5 0.9 1.5 0.1 1.5-1.2 1.5 0.2 1.5-0.5 1.5 0.1 1.5 0.6 1.5 0.2 1.5-0.7 1.5 1.9 1.5-0.9 1.5-0.6 1.5 0.8 1.5-1.2 1.5 1.7 1.5-0.2 1.5-1.4 1.5 0.2 1.5-0.6 1.5 0 1.5-0.6 1.5 0.3 1.5 0.2 1.5-0.7 1.5 1.4 1.5 0 1.5-0.6 1.4-0.1 1.5-0.3 1.5 1.6 1.5-0.9 1.5 0.3 1.5-0.2 1.5 1.3 1.5 1.2 1.5-2.3 1.5-0.3 1.5 1.6 1.5-0.9 1.5-1 1.5 0.1 1.5-1 1.5 0.5 1.5 0.7 1.5-0.9 1.5-0.5 1.5 0.9 1.5-0.9 1.5-0.1 1.5 0.4 1.5 0.6 1.5 0.3 1.5-0.8 1.5 0.7 1.5 1.1 1.5-1.1 1.5-1.4 1.5 0.6 1.5 1.8 1.5-0.6 1.5 0.6 1.5 0 1.5-0.8 1.5-1 1.5 0.2 1.5 0 1.5 0.9 1.5-2.9 1.5 2.3 1.5-0.3 1.5 0 1.5 0.4 1.5-0.3 1.5 2.1 1.5-1 1.5-0.3 1.4 0.5 1.5 0.4 1.5-1.4 1.5 1.9 1.5-1.9 1.5 0 1.5 0.3 1.5 0.2 1.5-0.8 1.5-0.4 1.5 0 1.5-0.3 1.5-0.5 1.5 0.4 1.5 0.4 1.5-0.2 1.5-0.5 1.5-0.3 1.5 1.3 1.5-0.1 1.5-0.1 1.5-0.6 1.5 0.1 1.5-0.2 1.5 0.2 1.5-0.4 1.5 0 1.5 0.8 1.5-0.4 1.5 2.1 1.5-1 1.5-1 1.5 1 1.5-0.1 1.5-1.5 1.5 1.4 1.5-0.9 1.5-1.5 0.7 1.2 0.4-0.8 0.4 0.3 0.3-1.3 0.4-18.2 0.4-18.4 0.4-18.1 0.3-18.4 0.4-17.5 0.4-73.8 0.4-17.5 0.3-19.4 0.4-17.1 0.4 8.4 0.4 13.2 0.3 15.3 0.4 12 0.4 15.2 0.4 12.9 0.3 14.3 0.4 13.1 0.4 14.5 0.4 13.4 0.3 14.4 0.4 14.8 0.4 3.2 0.4-0.5 0.3-0.5 0.4 0.4 0.4 0.4 0.4 0.2 0.3-0.9 0.4-1.8 0.4 2.1 0.4 1 0.3-0.3 0.4 0 0.4 0.1 0.4 1.2 0.3-1.2 1.2-0.3 1.5-1.1 1.4 0.9 1.5 0 1.5 1 1.5-0.1 1.5-2.1 1.5 1.2 1.5 0.2 1.5 0.9 1.5-0.1 1.5-1.8 1.5 0.9 1.5-0.5 1.5 0 1.5-0.3 1.5 2.2 1.5-1.8 1.5-0.7 1.5 1.2 1.5 0 1.5-0.1 1.5 0.1 1.5 1.2 1.5-1.2 1.5-0.1 1.5-0.3 1.5 1.5 1.5-0.4"/>
<path d="M1135.1 2141.8l1.5 0.1 1.5-0.1 1.5 0 1.5 0.4 1.5-0.3 1.5-0.2 1.5 1.7 1.5-0.4 1.5-0.5 1.5 0.9 1.5 0 1.5-1 1.5 0.5 1.5-0.9 1.5 0.3 1.5 0.8 1.5 0.2 1.5-0.7 1.5-1.2 1.5 2.7 1.5-2.3 1.5-0.4 1.5 0.6 1.5 0.3 1.5 0.4 1.4 1 1.5-1.4 1.5 1.1 1.5-0.6 1.5-0.2 1.5-1.1 1.5 0.7 1.5-0.4 1.5 0.5 1.5 0.8 0.6-0.7 0.3-0.3 0.4 1.1 0.2 10.2 0.2 7.5 0.4 18.4 0.3 22.3 0.4 19.2 0.2-4 0.2-9.1 0.4-19.6 0.3-18.9 0.4-15.2 0.2-2.5 0.2 0.9 0.4 4.7 0.3 2.8 0.4 5 0.2 0.9 0.2 0 0.4 5.2 0.3 2.3 0.4 3 0.2 1.5 0.2 1.3 0.4 3 0.3 2.1 0.4 1.9 0.2 2.5 0.2-0.1 0.4 1.6 0.3 2 0.6 1.7 1.5 7 1.5 4.7 1.5 4.7 1.5 2.3 1.5 2.1 1.5 2.9 1.5-0.1 1.5 1.6 1.5 1 1.5 2.4 1.5 0.3 1.5-0.6 1.5 1 1.5 0.5 1.5 0.3 1.5-0.4 1.5 1.3 1.5-1.7 1.5 0.7 1.5 0.6 1.5-1.1 1.5 2.1 1.5-0.8 1.5-1.3 1.5-0.7 1.5 1.9 1.5 0.2 1.5-1.2 1.5-0.3 1.5 1.1 1.5-0.3 1.5-1.6 1.4 1.3 1.5 0.5 1.5-0.8 1.5-1.2 1.5 0.4 1.5 0.2 1.5 1.3 1.5-0.8 1.5-2 1.5 1.2 1.5-0.2 1.5 2 1.5-0.8 1.5-0.2 1.5-1.1 1.5 1.1 1.5 0.1 1.5 0.1 1.5 1.5 1.5-2.4 1.5 1.7 1.5-0.8 1.5 0.7 1.5-0.4 1.5-0.2 1.5-0.1 1.5-1.3 1.5 1.3 1.5-0.8 1.5-1 1.5 1 1.5 0.4 1.5-1.7 1.5 1.4 1.5 1.3 1.5-0.5 1.5 0.5 1.5-1.5 1.5 1.1 1.5-1.8 1.5 0.3 1.5-0.4 1.5-0.3 1.5 0.4 1.5 0.9 1.5-0.4 1.5-1.1 1.5 0.6 1.5 1.4 1.5-0.9 1.5 0.9 1.4-0.7 1.5 0.5 1.5-0.7 1.5-0.5 1.5-0.7 1.5-0.4 1.5 0.3 1.5 0.3 1.5-0.9 1.5-0.4 1.5 0.9 1.5 0.4 1.5-0.9 1.5-1.1 1.5 1.7 1.5 0.5 1.5-0.5 1.5 1.6 1.5 0.5 1.5-0.5 1.5-0.7 1.5 0.7 1.5 0.1 1.5 0.3 1.5-2.5 1.5 1.4 1.5-2.1 1.5 1.1 1.5-1 1.5-0.5 1.5 1.7 1.5-0.7 1.5 0.1 1.5-0.8 1.5 0.6 1.5-0.8 1.5 0.8 1.5 0.8 1.5-1.6 1.5 0.5 1.5 1.1 1.5-0.3 1.5-0.5 1.5-0.6 1.5 2.2 1.5-2.1 1.5-0.5 1.5 2 1.5-1.2 1.4-0.4 1.5-0.1 1.5-0.5 1.5 1.5 1.5-0.7 1.5 0.4 1.5-0.5 1.5-1.3 1.5 2.1 1.5-0.8 1.5 0.5 1.5-0.2 1.5 0.7 1.5-0.1 1.5 0.2 1.5 0.1 1.5 0.4 1.5 0.5 1.5-2.6 1.5 1.2 1.5 0.5 1.5-0.1 1.5-0.9 1.5 1.2 1.5-0.5 1.5 0.2 1.5-1.1 1.5 2.4 1.5-0.2 1.5-2.3 1.5 1.8 1.5-0.4 1.5 0.2 1.5-0.2 1.5-1.7 1.5 0.2 1.5 0.2 1.5 1.1 0.7-0.9 0.4-0.8 0.4 1 0.3-2 0.4-16.3 0.4-14.1 0.4-13.8 0.3-16 0.4-16 0.4-91.6 0.4-15.5 0.3-15.7 0.4-14.1 0.4 8.7 0.4 10.2 0.3 12.1 0.4 11.4 0.4 12 0.4 11.7 0.3 11.8 0.4 10.5 0.4 10.1 0.4 14.2 0.3 9.7 0.4 12 0.4 4 0.4 0.4 0.3-1.4 0.4 0.5 0.4 0 0.4-0.3 0.3-1 0.4 2.5 0.4-0.9 0.4-1 0.3 1.3 0.4-1.3 0.4 0.6 0.4-0.3 0.3-0.6 1.2 0.8 1.5-0.6 1.4-0.2 1.5 1 1.5-0.8 1.5-0.4 1.5 1.4 1.5-0.4 1.5 0.1 1.5 0.5 1.5-1.3 1.5-0.1 1.5 1 1.5-0.7 1.5 0.2 1.5-0.1 1.5-0.5 1.5 0 1.5 0.1 1.5 0.5 1.5-1.3 1.5-0.1 1.5 1.2 1.5-0.2 1.5-1.4 1.5 1.8 1.5-0.9 1.5-0.8 1.5 2.1"/>
<path d="M1135.1 2142.6l1.5 0.2 1.5-0.7 1.5 0.6 1.5-0.6 1.5 0.5 1.5 0.1 1.5 1.6 1.5-1.5 1.5-2 1.5 1.5 1.5-0.3 1.5-0.1 1.5 1.2 1.5-1.6 1.5-0.4 1.5 0.4 1.5 1.5 1.5 0.5 1.5 0.3 1.5-1.1 1.5 0.4 1.5-0.9 1.5-0.2 1.5 0.8 1.5-0.8 1.4-0.5 1.5 0.6 1.5 0.4 1.5-0.4 1.5 1.3 1.5 0.4 1.5-0.7 1.5-0.7 1.5 2 1.5-1.5 0.6 0.1 0.3 0.8 0.4-0.2 0.2 5.7 0.2 8 0.4 15.6 0.3 15.4 0.4 17.7 0.2-6.7 0.2-4.7 0.4-15.8 0.3-12.1 0.4-10 0.2-1.2 0.2 2 0.4 5.5 0.3 5.9 0.4 2.6 0.2 2.6 0.2 2.1 0.4 4.4 0.3 4.1 0.4 4.6 0.2-0.6 0.2 3.9 0.4 3.7 0.3 1 0.4 4.9 0.2 1.6 0.2 1.6 0.4 2.3 0.3 2 0.6 4.2 1.5 9 1.5 5.7 1.5 6.7 1.5 4.9 1.5 2.1 1.5 2.9 1.5 2.8 1.5 2 1.5 0.3 1.5 1.6 1.5 1.1 1.5-0.1 1.5 0.8 1.5 1.3 1.5-1 1.5 2.2 1.5-0.6 1.5-0.6 1.5 0.2 1.5-0.3 1.5 0.2 1.5 1.9 1.5-2.2 1.5 0.8 1.5-0.3 1.5 0.2 1.5-0.1 1.5-1.5 1.5 0.1 1.5 0.1 1.5 0.3 1.5-1.4 1.4 0.5 1.5 0.1 1.5 0.1 1.5-0.1 1.5-0.9 1.5 0 1.5-0.4 1.5 0 1.5 0 1.5 0.7 1.5-0.6 1.5 0.2 1.5 0.1 1.5-0.1 1.5-0.5 1.5 0.3 1.5 0.4 1.5-1.4 1.5 0 1.5-0.3 1.5 0.6 1.5 0.3 1.5 0.5 1.5-1 1.5 0.7 1.5-1.2 1.5 1.8 1.5-1.8 1.5 1 1.5 0.1 1.5-0.9 1.5-0.2 1.5-0.2 1.5 1.5 1.5-0.5 1.5-0.9 1.5 0 1.5-0.2 1.5 0.6 1.5-0.9 1.5 0.2 1.5 0 1.5-0.9 1.5 0.7 1.5-0.5 1.5-0.5 1.5 0.1 1.5 0.9 1.5-0.4 1.5 1.2 1.5-1.6 1.4 0.3 1.5 0 1.5-0.1 1.5 0.7 1.5-1.5 1.5 0.6 1.5-0.9 1.5 0.8 1.5 0.2 1.5-0.3 1.5 0.3 1.5-0.4 1.5-0.9 1.5-0.7 1.5 0.6 1.5-1.1 1.5 1.9 1.5-0.8 1.5-0.3 1.5 0.4 1.5-1 1.5-0.6 1.5 1.4 1.5-0.5 1.5 0.1 1.5-0.5 1.5 0.8 1.5 0.7 1.5-1.3 1.5-0.2 1.5 0.7 1.5-1.3 1.5 1.7 1.5-0.3 1.5-1.1 1.5 1 1.5-0.2 1.5-0.1 1.5 0.5 1.5 0 1.5 1.1 1.5 0.7 1.5-2.5 1.5 0.4 1.5-0.2 1.5 0.4 1.5-0.6 1.5 0.5 1.5-0.9 1.4 0.9 1.5-1 1.5 0.5 1.5-0.5 1.5 0.1 1.5 1.1 1.5-1 1.5 0.7 1.5-1.1 1.5-0.6 1.5 1.5 1.5-1.3 1.5 1.4 1.5-0.8 1.5-0.3 1.5-0.6 1.5 0.4 1.5 0 1.5 0.6 1.5-0.1 1.5-0.5 1.5 0.3 1.5-0.1 1.5-0.2 1.5-0.9 1.5 0.1 1.5-0.6 1.5 0.7 1.5 0.6 1.5 0.3 1.5-1 1.5 1.1 1.5 1.1 1.5-1.1 1.5-1.5 1.5 1.4 1.5-0.6 1.5 0 0.7-0.4 0.4 0.7 0.4-0.7 0.3-1.8 0.4-11.4 0.4-12 0.4-11.6 0.3-11.8 0.4-10.9 0.4-114.9 0.4-13 0.3-12.9 0.4-12.4 0.4 6.3 0.4 8.3 0.3 9.3 0.4 9 0.4 10.3 0.4 8.7 0.3 9.4 0.4 10 0.4 9 0.4 8.8 0.3 9.5 0.4 8.5 0.4 3.1 0.4-1.3 0.3 0.1 0.4 0.7 0.4-0.6 0.4 0.1 0.3-1.1 0.4 0.4 0.4 0.9 0.4-0.7 0.3 1.4 0.4 0 0.4-0.1 0.4-0.9 0.3 0.7 1.2 0.5 1.5 0.4 1.4 0.2 1.5-0.2 1.5-0.1 1.5-0.9 1.5-0.1 1.5-0.6 1.5-0.9 1.5 0.8 1.5 1.8 1.5-0.6 1.5-1.4 1.5 1 1.5 0.2 1.5 0.1 1.5 0.8 1.5-1.5 1.5 0.3 1.5 0.3 1.5-1 1.5-1.2 1.5 1.5 1.5 0.5 1.5-0.7 1.5 0.7 1.5 1.3 1.5-1.1 1.5-0.5"/>
<path d="M1135.1 2143.2l1.5-0.6 1.5 1.1 1.5 0.2 1.5-0.3 1.5-0.3 1.5-0.8 1.5 0.8 1.5-0.9 1.5-0.2 1.5 0.6 1.5-0.7 1.5 1 1.5 0.8 1.5-1.3 1.5 1.2 1.5-0.7 1.5 1 1.5 0 1.5-0.5 1.5 0.5 1.5-0.5 1.5-0.3 1.5-0.4 1.5-1.2 1.5 0.5 1.4 0.8 1.5-1.4 1.5-0.1 1.5 1.1 1.5 1.2 1.5-0.5 1.5-1.7 1.5 1.4 1.5 0.2 1.5-0.5 0.6 0.9 0.3-0.9 0.4 2.2 0.2 4.3 0.2 6.1 0.4 10.7 0.3 11.9 0.4 12.6 0.2-3.4 0.2-7.7 0.4-10.4 0.3-9 0.4-2.8 0.2 0.4 0.2 2.1 0.4 7.4 0.3 6.5 0.4 5.9 0.2 3.7 0.2 0.9 0.4 5.8 0.3 4.5 0.4 4.2 0.2 1.8 0.2 3.5 0.4 4.3 0.3 3.1 0.4 4.4 0.2 1.3 0.2 2.8 0.4 2.9 0.3 3.2 0.6 3.6 1.5 9.2 1.5 8.2 1.5 7.3 1.5 5.1 1.5 3.8 1.5 5.2 1.5 2.2 1.5 2 1.5 3 1.5 0.7 1.5 1.1 1.5 0.5 1.5 0.3 1.5 1.3 1.5-1.3 1.5 0.4 1.5-0.6 1.5 0.4 1.5 0.7 1.5-0.6 1.5 1.9 1.5-0.6 1.5-0.4 1.5-1.6 1.5 1.1 1.5-0.6 1.5 0.1 1.5-1.2 1.5 1.8 1.5 0.4 1.5-0.5 1.5-1 1.4-0.9 1.5 2.1 1.5-0.9 1.5-1.6 1.5 1.6 1.5 0.3 1.5 0.1 1.5 0.1 1.5 0.2 1.5-0.9 1.5 0.1 1.5-1.7 1.5 2.8 1.5-1.7 1.5 0.7 1.5-1.7 1.5 1.4 1.5-1 1.5-0.9 1.5 0.5 1.5 0.8 1.5-0.5 1.5-0.6 1.5-0.9 1.5 0.6 1.5-0.4 1.5 1.2 1.5-0.5 1.5-0.5 1.5 0.9 1.5 0.3 1.5-0.3 1.5-1.6 1.5 0.4 1.5-0.2 1.5 0.5 1.5 0.3 1.5-2 1.5 0.9 1.5-1 1.5 0.4 1.5 1 1.5 0.6 1.5-1.1 1.5 2.3 1.5 0.1 1.5-2.9 1.5 1.4 1.5-0.9 1.5-1.2 1.5-0.7 1.4 2.1 1.5-0.4 1.5-1.1 1.5 0.4 1.5 1.1 1.5-1.5 1.5 1.9 1.5-2.1 1.5 0.8 1.5 0.1 1.5 0.4 1.5-0.3 1.5-1.2 1.5 0.3 1.5-0.6 1.5 0.3 1.5 0.4 1.5-0.2 1.5-0.4 1.5 0.4 1.5-1.5 1.5 1.7 1.5-1.8 1.5 1.6 1.5 0 1.5-0.8 1.5 1.1 1.5-2.4 1.5-0.6 1.5 0 1.5 0.2 1.5 0.4 1.5 1.6 1.5-1.7 1.5 1.2 1.5-0.8 1.5 0.2 1.5 0 1.5 0.3 1.5-0.5 1.5-0.4 1.5 1.3 1.5-0.8 1.5-0.1 1.5 0.7 1.5 0.2 1.5-1.3 1.5-0.1 1.5 0.5 1.4 0 1.5 0 1.5 0.6 1.5-0.1 1.5-0.2 1.5 0.5 1.5-1.1 1.5-0.7 1.5-0.1 1.5 1.5 1.5 0 1.5 0 1.5-0.9 1.5 0 1.5-0.8 1.5 1.3 1.5-0.9 1.5 0.8 1.5-0.9 1.5 0 1.5 1.2 1.5-2 1.5 0.8 1.5-0.2 1.5 0.8 1.5 0.9 1.5-0.7 1.5-0.5 1.5-0.8 1.5 0.9 1.5 0 1.5-1.1 1.5 0.7 1.5 0.4 1.5 0 1.5-0.2 1.5 1.3 1.5-0.9 0.7 0 0.4-0.3 0.4-1.9 0.3 1 0.4-10.1 0.4-9.2 0.4-8.9 0.3-9.8 0.4-5.9 0.4-138.1 0.4-8.6 0.3-8.2 0.4-9.5 0.4 3.7 0.4 6.9 0.3 5.2 0.4 8.6 0.4 5.3 0.4 6.9 0.3 7.2 0.4 6.3 0.4 7.5 0.4 6.7 0.3 7.6 0.4 6.7 0.4 2.7 0.4 0 0.3-0.4 0.4 0.7 0.4-0.8 0.4 0.9 0.3-0.7 0.4-0.9 0.4 1.8 0.4-0.8 0.3-0.8 0.4 0.5 0.4 0.4 0.4-1 0.3 1 1.2-0.3 1.5-0.9 1.4 1.7 1.5-1.2 1.5 0.4 1.5 0 1.5-0.2 1.5 0.6 1.5-0.6 1.5 0.3 1.5-0.1 1.5 0.1 1.5-0.8 1.5 0.9 1.5-0.5 1.5 0.4 1.5 0 1.5-0.1 1.5-0.5 1.5 1 1.5 0.1 1.5 0.7 1.5-1.7 1.5 1.1 1.5-0.3 1.5-0.1 1.5-0.2 1.5 0.3 1.5 0.7"/>
<path d="M1135.1 2142.8l1.5 1.3 1.5-1.9 1.5 0 1.5 1.2 1.5-0.4 1.5 0.2 1.5 0.3 1.5-0.8 1.5 0.9 1.5-1.5 1.5-0.8 1.5 0.7 1.5-0.8 1.5 0.5 1.5 0.7 1.5 0.1 1.5 1 1.5 1.3 1.5-0.8 1.5-0.4 1.5 1.7 1.5-1.8 1.5 0.3 1.5-0.8 1.5-0.6 1.4-0.5 1.5 0.5 1.5 0.5 1.5-0.2 1.5-0.2 1.5-0.3 1.5-1.9 1.5 2.2 1.5-0.1 1.5-0.5 0.6 0.6 0.3-0.3 0.4 1.4 0.2 3.5 0.2 1.9 0.4 9.2 0.3 7.2 0.4 9.3 0.2-2.7 0.2-4 0.4-6.1 0.3-4.4 0.4-0.7 0.2 2.8 0.2 3.7 0.4 7 0.3 7.9 0.4 6.2 0.2 4.5 0.2 2.6 0.4 4.4 0.3 5.3 0.4 6.3 0.2 4.2 0.2 1.5 0.4 4.4 0.3 4.5 0.4 3.6 0.2 3.8 0.2 0.6 0.4 4.2 0.3 3.7 0.6 5.9 1.5 11.3 1.5 10.5 1.5 7.2 1.5 6 1.5 4.4 1.5 3.5 1.5 3.7 1.5 1.8 1.5 1.6 1.5 2.2 1.5 0.2 1.5 1.4 1.5 2.2 1.5 0.9 1.5 1.1 1.5 0.2 1.5-0.1 1.5 0.6 1.5 0.4 1.5-0.8 1.5 0 1.5 0 1.5 0 1.5 0.6 1.5-0.2 1.5-1.5 1.5 0.5 1.5 0.2 1.5-0.8 1.5-0.8 1.5 1.7 1.5-1.4 1.4 1.6 1.5-0.8 1.5 0 1.5 0.6 1.5 0.2 1.5-0.5 1.5 0.3 1.5-0.8 1.5-1 1.5 0.6 1.5-2 1.5 1.5 1.5 0.3 1.5-0.2 1.5-1.1 1.5 1.3 1.5-0.1 1.5-1.2 1.5 0.3 1.5-0.5 1.5 0.5 1.5 0.4 1.5-0.1 1.5 0.4 1.5-0.6 1.5 1.1 1.5-0.2 1.5-0.5 1.5 1 1.5-0.6 1.5 0.5 1.5-0.9 1.5 0.9 1.5-1.3 1.5-0.1 1.5-1.4 1.5 1.4 1.5 0.1 1.5-0.4 1.5-0.2 1.5 0.1 1.5-1 1.5 1.2 1.5-0.4 1.5 0.5 1.5-0.3 1.5 0.9 1.5 0 1.5-1.2 1.5-1.3 1.5 0.8 1.4-0.1 1.5-1 1.5 0.3 1.5 0.1 1.5-0.6 1.5 1.7 1.5-1.1 1.5-0.9 1.5 1.3 1.5-1.5 1.5 0.4 1.5 0.4 1.5-1 1.5 0.8 1.5 1.9 1.5-2.2 1.5 0.5 1.5 0.9 1.5-1.3 1.5 0.8 1.5 0.2 1.5-1.6 1.5 0.4 1.5-0.8 1.5 0 1.5 2.3 1.5-2.3 1.5 1.9 1.5-0.2 1.5-1 1.5 0.3 1.5-2.1 1.5 1.5 1.5-0.9 1.5 0.6 1.5 0.7 1.5-0.7 1.5 0.5 1.5-0.3 1.5 0.2 1.5-0.4 1.5 1 1.5-0.3 1.5-0.8 1.5 0.7 1.5-1.7 1.5 1.5 1.5-0.3 1.5-0.2 1.4-0.6 1.5-0.1 1.5 0.7 1.5 0 1.5 0.5 1.5-0.7 1.5 1.6 1.5 0 1.5 0 1.5-1.8 1.5 0.4 1.5-0.3 1.5 0.5 1.5-0.5 1.5 0.5 1.5 0.9 1.5-0.9 1.5 0.4 1.5-0.4 1.5 0.4 1.5-1.6 1.5 0.1 1.5 0 1.5-0.7 1.5 1.9 1.5-0.9 1.5 0.7 1.5-0.1 1.5-0.5 1.5 0.8 1.5-0.8 1.5-0.1 1.5 0.6 1.5-2.4 1.5 0.1 1.5 0 1.5-0.2 1.5 1 0.7 0.3 0.4-0.5 0.4 1.4 0.3-0.2 0.4-7.7 0.4-5.5 0.4-6.9 0.3-5.8 0.4-5.1 0.4-158.7 0.4-4.9 0.3-6.6 0.4-5.3 0.4 2.6 0.4 3.6 0.3 5.3 0.4 4.4 0.4 3.8 0.4 4.3 0.3 4.7 0.4 4.6 0.4 5.8 0.4 4.6 0.3 4.2 0.4 3.9 0.4 1.7 0.4 0.7 0.3-1.2 0.4 0.4 0.4-0.6 0.4 0.8 0.3 0.2 0.4 0.7 0.4-1.2 0.4 0.2 0.3-0.3 0.4 1.5 0.4 0.1 0.4-1.6 0.3 0.6 1.2 1.4 1.5-2.4 1.4 0.8 1.5-1.3 1.5 0.2 1.5 2.1 1.5-1.3 1.5 0.5 1.5-0.5 1.5 1.3 1.5 0 1.5-1.7 1.5 2 1.5-1.7 1.5-0.1 1.5-0.6 1.5 0.4 1.5-1.3 1.5 0.4 1.5 1.4 1.5 0 1.5 0.3 1.5-0.8 1.5-1.6 1.5 1 1.5 0.9 1.5 1 1.5 0.9 1.5-1.1"/>
<path d="M1135.1 2142.6l1.5 0.6 1.5-0.4 1.5 0.2 1.5-0.5 1.5 0.4 1.5 0.2 1.5 0.6 1.5-0.3 1.5-0.3 1.5-0.2 1.5 0.4 1.5-0.6 1.5 1 1.5 0.4 1.5 0.4 1.5-1.6 1.5-0.6 1.5 1.2 1.5-0.2 1.5 0.8 1.5-0.6 1.5-1.3 1.5 0.7 1.5 0.8 1.5-1.5 1.4 0.4 1.5-0.1 1.5-0.7 1.5 1.1 1.5-0.7 1.5-0.2 1.5 1.4 1.5-1 1.5 1.3 1.5-1.4 0.6 0.1 0.3 0.5 0.4-0.5 0.2 2.7 0.2 2.1 0.4 2.7 0.3 4.6 0.4 4.6 0.2-1.8 0.2-0.8 0.4-3.7 0.3 0 0.4 7.3 0.2 4.2 0.2 2.7 0.4 10.6 0.3 9 0.4 7 0.2 5.9 0.2 2.8 0.4 7.8 0.3 6.6 0.4 4.9 0.2 6.4 0.2 0.6 0.4 8 0.3 6.1 0.4 4.5 0.2 2.3 0.2 2.1 0.4 5.4 0.3 3.1 0.6 8.1 1.5 13.1 1.5 10.2 1.5 12.2 1.5 6.2 1.5 5.7 1.5 5.5 1.5 3.1 1.5 2.5 1.5 2.4 1.5 1.7 1.5 2.6 1.5 0.9 1.5 1 1.5-0.5 1.5 2 1.5 1 1.5-0.1 1.5-1.6 1.5 2.4 1.5-1.4 1.5-0.3 1.5 0.8 1.5-0.8 1.5 1.1 1.5-1.5 1.5-1 1.5 0.9 1.5-0.8 1.5-0.1 1.5-0.5 1.5-0.5 1.5-0.2 1.4 0.6 1.5-1.1 1.5-0.2 1.5-0.9 1.5 1.3 1.5 0 1.5-0.5 1.5-0.5 1.5 0.8 1.5-0.6 1.5-1.7 1.5-1 1.5 0.2 1.5 1.1 1.5-1.8 1.5 0.4 1.5 0.6 1.5-1.2 1.5 0.7 1.5 0 1.5 0.5 1.5-0.5 1.5 1 1.5-0.3 1.5 0.1 1.5-1.1 1.5 0.1 1.5-0.5 1.5 0.3 1.5-0.2 1.5-0.6 1.5-0.6 1.5-0.3 1.5-1.5 1.5 0.5 1.5 1.4 1.5-1.6 1.5 0.1 1.5-0.1 1.5 0.4 1.5 0.6 1.5-1.1 1.5 1.3 1.5-1.6 1.5-0.4 1.5-0.5 1.5-1.4 1.5 2.1 1.5 0.2 1.5-0.7 1.5-0.3 1.4 0 1.5 1 1.5-0.5 1.5-1.5 1.5 0.6 1.5 0.3 1.5-0.6 1.5-0.9 1.5 1.3 1.5-0.5 1.5 0.9 1.5-1.3 1.5-0.1 1.5 0.1 1.5 0 1.5 0.6 1.5-0.1 1.5 0.9 1.5-1.3 1.5-1.3 1.5 0.2 1.5-1.1 1.5 0.6 1.5 0.6 1.5-0.4 1.5 0 1.5-1.5 1.5-0.1 1.5 1.6 1.5-1.3 1.5-1.6 1.5 1 1.5 1.2 1.5 1.7 1.5-2.9 1.5 0.5 1.5 0.3 1.5-0.5 1.5 0.3 1.5 0 1.5 1 1.5-0.1 1.5-0.8 1.5 0.1 1.5 0.4 1.5-0.4 1.5-1.3 1.5 0.5 1.5 0.2 1.4-0.3 1.5-1.1 1.5 1.9 1.5 0.3 1.5-1.9 1.5 0 1.5-0.8 1.5 1.2 1.5 0.9 1.5-0.7 1.5 0.2 1.5-0.7 1.5 0.1 1.5-1.4 1.5 1.2 1.5-1.1 1.5 0 1.5 1.7 1.5-0.6 1.5-0.1 1.5-0.1 1.5 0.5 1.5-2 1.5 0.6 1.5 0 1.5-0.5 1.5-1.5 1.5 0.3 1.5 0.6 1.5 0.5 1.5-0.5 1.5-1.3 1.5 3.4 1.5-1.7 1.5-0.8 1.5 0.2 1.5-1.9 1.5 1.5 0.7 1.3 0.4-1.4 0.4 1.5 0.3-1.6 0.4-2.8 0.4-3.7 0.4-1.8 0.3-3.9 0.4-4.2 0.4-177.4 0.4-2.2 0.3-3.6 0.4-3.3 0.4 1.8 0.4 2 0.3 2.1 0.4 3.3 0.4 2.7 0.4 1.8 0.3 2.6 0.4 1.7 0.4 1.9 0.4 3.3 0.3 1.2 0.4 2.8 0.4 1.9 0.4-1 0.3 0.9 0.4-1.1 0.4 0.5 0.4-0.8 0.3-0.3 0.4 0.8 0.4 0.4 0.4-0.3 0.3 0.7 0.4 0 0.4-1.4 0.4 1.7 0.3-0.2 1.2-0.2 1.5-0.1 1.4-0.4 1.5 1.3 1.5-0.9 1.5-0.4 1.5-0.5 1.5-0.2 1.5-0.4 1.5 0.6 1.5 0.5 1.5 0.3 1.5 0.7 1.5-1.1 1.5 0.6 1.5 1.4 1.5 0.5 1.5-0.7 1.5-0.6 1.5 0.2 1.5-0.7 1.5-0.8 1.5 0.3 1.5-0.1 1.5 0.5 1.5-0.4 1.5-1.1 1.5 2 1.5-2"/>
<path d="M1135.1 2142l1.5-0.6 1.5 1.5 1.5-1.9 1.5 0.9 1.5 0.8 1.5-0.7 1.5 0.8 1.5 0.9 1.5-0.5 1.5-0.9 1.5 0.1 1.5 0.2 1.5 0.6 1.5 0.1 1.5-0.2 1.5-0.2 1.5 0.1 1.5 0.3 1.5 1.1 1.5 0.3 1.5-0.4 1.5-0.6 1.5-0.3 1.5-0.8 1.5 0 1.4-1.5 1.5 1.8 1.5 0.1 1.5-0.1 1.5-0.7 1.5 1.1 1.5 0.8 1.5-1.7 1.5 1.2 1.5-1 0.6 0 0.3 0.8 0.4 1.1 0.2 0.6 0.2 0.8 0.4 0.2 0.3 0.8 0.4-0.5 0.2-0.7 0.2-0.4 0.4 1.4 0.3-1.8 0.4 0.9 0.2 0.7 0.2-1.8 0.4-0.1 0.3 1.5 0.4-0.8 0.2 1.1 0.2-0.6 0.4-0.7 0.3 0.2 0.4 0.4 0.2 0.5 0.2-0.8 0.4-0.4 0.3 0.2 0.4-0.4 0.2-0.2 0.2-1 0.4 0.8 0.3 1.4 0.6-2.6 1.5 1.8 1.5 0.2 1.5 1.1 1.5-1.2 1.5-1.5 1.5 1.7 1.5-0.5 1.5-0.2 1.5-0.7 1.5 1.1 1.5 0.3 1.5-1.2 1.5-0.3 1.5 1.8 1.5-0.7 1.5-0.2 1.5 0.1 1.5 0.4 1.5-1.9 1.5 0.5 1.5 0.6 1.5-0.3 1.5 1 1.5-0.3 1.5-0.3 1.5 0.7 1.5-1.2 1.5 1.9 1.5-1.8 1.5 1.4 1.5 0.3 1.5-0.8 1.4-0.5 1.5-0.1 1.5 1.7 1.5-1 1.5 1.1 1.5 0.9 1.5-0.7 1.5-1.8 1.5 1.4 1.5-0.8 1.5-0.3 1.5-1 1.5 2.9 1.5-1.4 1.5-0.3 1.5 1.5 1.5-1.1 1.5-0.5 1.5-0.7 1.5 0.4 1.5 0.4 1.5-0.8 1.5-0.5 1.5 2.1 1.5-0.9 1.5 0 1.5-0.1 1.5-0.5 1.5 1.2 1.5 0.5 1.5-0.6 1.5 0.9 1.5-2.1 1.5 0.1 1.5 1.4 1.5-0.6 1.5 1 1.5-1.2 1.5 0.5 1.5-1.2 1.5 0.9 1.5-0.4 1.5-0.7 1.5 1.4 1.5-1 1.5 1 1.5 0 1.5-1.2 1.5 3.1 1.5-2.2 1.5 0.6 1.4-2 1.5 0.7 1.5-0.9 1.5 1.3 1.5-1.7 1.5 1.4 1.5 0.9 1.5 1.7 1.5-0.7 1.5-1.7 1.5 1.2 1.5 0.3 1.5-1.1 1.5-0.2 1.5-0.1 1.5-0.2 1.5-0.9 1.5 2.3 1.5 0.1 1.5-0.3 1.5-1 1.5-0.5 1.5 0.5 1.5-0.8 1.5 0.5 1.5-1.6 1.5 2.7 1.5-1.3 1.5 1.1 1.5-0.2 1.5-0.5 1.5-0.1 1.5 1.6 1.5-0.2 1.5 0.7 1.5 1.2 1.5-3.3 1.5 0.9 1.5 0.1 1.5 0.3 1.5-0.6 1.5-0.3 1.5-0.6 1.5 0.7 1.5-0.1 1.5 0.8 1.5-0.2 1.5-0.7 1.5 1.3 1.4-1.1 1.5-0.6 1.5-1.3 1.5 2.4 1.5 0.1 1.5-1.6 1.5 2.7 1.5-2.6 1.5 1.5 1.5-0.6 1.5 0.2 1.5 1.6 1.5-1.8 1.5 1.1 1.5-0.6 1.5-0.1 1.5-0.3 1.5-0.6 1.5 0.2 1.5-0.8 1.5 0.7 1.5 0.4 1.5-0.8 1.5 1.1 1.5-0.5 1.5 0.6 1.5 0.1 1.5-1.1 1.5 1.8 1.5-1.8 1.5 0.5 1.5-0.6 1.5-0.3 1.5 1.3 1.5-1.1 1.5-0.8 1.5 1.3 1.5-0.8 0.7-1.1 0.4 3 0.4-0.7 0.3-1.2 0.4 1.2 0.4 0.2 0.4 0.4 0.3 1 0.4-2.2 0.4-2.3 0.4-0.3 0.3 0.5 0.4 1.5 0.4 0.6 0.4-2 0.3-0.8 0.4 0.6 0.4-0.6 0.4-0.7 0.3 1.6 0.4 0.1 0.4-0.8 0.4 0.9 0.3 0.2 0.4-0.2 0.4-0.1 0.4 0.7 0.3-0.5 0.4-0.2 0.4 1.2 0.4-0.5 0.3-1.2 0.4 0.1 0.4 0.4 0.4-0.1 0.3-1.4 0.4 1.1 0.4 0 0.4 0.5 0.3 0.6 1.2-0.8 1.5 1.1 1.4 0.7 1.5-2.3 1.5 0.2 1.5-0.4 1.5 0 1.5 0.2 1.5 0.5 1.5-0.3 1.5 0 1.5-0.6 1.5 0.3 1.5-0.5 1.5 1.8 1.5-0.6 1.5-0.5 1.5 0.7 1.5-0.9 1.5 0.6 1.5 0.2 1.5 0.8 1.5-0.5 1.5 1.1 1.5-2 1.5 0.4 1.5 0.5 1.5 0.3 1.5-1.2"/>
<path d="M1135.1 2143.5l1.5-1.1 1.5 0.2 1.5 0.8 1.5-0.4 1.5-0.5 1.5-0.9 1.5 1.4 1.5-0.6 1.5 0.6 1.5 0.3 1.5 1.2 1.5-1.5 1.5-0.2 1.5-0.1 1.5-0.5 1.5 0.6 1.5-1 1.5 0.7 1.5 0.5 1.5-1.2 1.5 0.9 1.5-0.9 1.5 0.6 1.5-1.3 1.5 0.1 1.4 1.6 1.5 0.2 1.5 0 1.5 0.9 1.5-1.3 1.5 0.2 1.5 1.3 1.5 0.5 1.5-0.4 1.5-1.3 0.6 1.2 0.3-1.4 0.4-0.3 0.2-1.5 0.2-0.5 0.4-3.1 0.3-3.7 0.4-1.1 0.2 0.3 0.2 0.5 0.4 3.9 0.3 1.1 0.4 4.9 0.2 0.1 0.2 0.2 0.4-1.5 0.3-0.6 0.4 1.3 0.2-3.1 0.2-0.7 0.4-0.9 0.3 0.5 0.4-0.4 0.2 0.5 0.2-0.4 0.4 0.4 0.3-0.3 0.4 0.1 0.2-0.4 0.2-1.2 0.4 1.3 0.3-0.7 0.6-0.3 1.5 0.7 1.5 0.5 1.5-0.8 1.5 1.3 1.5-1.2 1.5 1.2 1.5 0.2 1.5-1.9 1.5 2.3 1.5-0.6 1.5 0.8 1.5-0.2 1.5 1 1.5-0.2 1.5-0.6 1.5-0.5 1.5 0.3 1.5 1.4 1.5-2.6 1.5 1.3 1.5 0.6 1.5-0.5 1.5 0.9 1.5-0.3 1.5 0.6 1.5 0.1 1.5 1.2 1.5-2.9 1.5 0.7 1.5-1 1.5 0.1 1.5 0 1.4-0.7 1.5 0.4 1.5 1.2 1.5-0.5 1.5 1.2 1.5-0.4 1.5-0.7 1.5 0.3 1.5-0.2 1.5 1.4 1.5-0.8 1.5-0.4 1.5-0.5 1.5 0.2 1.5 1.4 1.5-0.7 1.5 1.3 1.5-1.2 1.5-0.8 1.5 1.1 1.5 0.4 1.5-1.5 1.5 0.5 1.5 0 1.5-0.3 1.5 0.5 1.5-0.8 1.5 1 1.5 0.2 1.5-0.5 1.5-0.3 1.5 0.7 1.5-0.5 1.5 0.7 1.5 0.6 1.5-0.8 1.5 1.4 1.5-1.3 1.5-0.1 1.5-0.3 1.5-1 1.5 1.1 1.5-0.2 1.5 0.2 1.5-0.4 1.5-0.1 1.5 0 1.5 0.8 1.5-0.8 1.5 0.5 1.5 1.7 1.4-2 1.5 0.3 1.5-1 1.5 0.3 1.5 0 1.5-1.8 1.5 0.8 1.5 1.2 1.5 0.9 1.5-0.4 1.5 0.3 1.5-0.9 1.5-0.6 1.5 1.5 1.5-1.4 1.5 0.6 1.5-0.4 1.5-0.4 1.5 1.5 1.5 0.2 1.5-0.7 1.5 0.3 1.5 0.3 1.5-1.1 1.5 1 1.5-1.5 1.5 0.1 1.5 1.2 1.5-0.9 1.5 1 1.5-0.1 1.5-0.1 1.5 0.3 1.5-1.1 1.5 0.4 1.5-0.2 1.5 1.3 1.5-1.4 1.5-0.3 1.5 0.6 1.5-1.6 1.5 0.2 1.5 0 1.5 0 1.5 1.8 1.5-1 1.5 2.7 1.5-1.5 1.5 0.3 1.4 1.1 1.5-0.1 1.5-2.8 1.5 1.5 1.5-1.2 1.5 0.3 1.5-0.2 1.5 0.3 1.5 0.9 1.5-0.1 1.5-0.5 1.5-1 1.5 2.1 1.5-0.4 1.5-0.7 1.5 0.6 1.5 0.4 1.5 0.4 1.5 0.7 1.5-0.7 1.5-0.1 1.5-0.6 1.5 0.2 1.5 0.5 1.5-2 1.5 2.1 1.5-1.9 1.5 1 1.5 0.5 1.5-0.1 1.5-0.2 1.5-0.6 1.5 1.2 1.5-2.1 1.5 0.1 1.5 0.5 1.5 0.1 1.5-0.4 0.7 0.6 0.4-0.6 0.4 0.6 0.3-1 0.4 4.6 0.4 3.1 0.4 3.3 0.3 2.1 0.4 3.4 0.4 6.5 0.4 1.7 0.3 5.1 0.4 2.2 0.4-1.9 0.4-4.1 0.3-1.1 0.4-2.4 0.4-1.5 0.4-2.7 0.3-1.7 0.4-4.9 0.4-1 0.4-1.9 0.3-3.2 0.4-1.7 0.4-0.3 0.4-0.5 0.3 1.6 0.4-1.6 0.4 0.4 0.4 1.4 0.3-0.7 0.4 1.2 0.4-1.4 0.4-0.3 0.3-0.4 0.4 0.3 0.4-0.1 0.4 0.4 0.3-0.5 1.2 0.4 1.5 0.4 1.4-0.2 1.5 1.2 1.5-1.6 1.5-0.7 1.5-0.1 1.5 1.4 1.5-0.1 1.5-0.9 1.5 2.5 1.5-1.8 1.5 1.2 1.5-1.6 1.5 0.4 1.5 0.3 1.5 0 1.5-1.2 1.5 3.2 1.5-0.8 1.5-1.1 1.5-0.3 1.5 0.2 1.5-0.4 1.5 0.1 1.5-0.3 1.5-0.7 1.5 1.3 1.5-0.8"/>
<path d="M1135.1 2141.2l1.5 0.9 1.5-1.2 1.5 0.6 1.5 0.7 1.5 0.6 1.5 0.4 1.5-0.7 1.5-0.2 1.5 0.8 1.5-0.6 1.5-1.4 1.5 2.5 1.5-0.9 1.5 0 1.5-0.2 1.5 0.1 1.5 0.2 1.5 0.5 1.5-0.5 1.5 0.2 1.5 0 1.5-1.1 1.5 0 1.5-0.3 1.5 0.8 1.4 0.6 1.5-2.2 1.5 1.5 1.5 0 1.5 0.2 1.5-0.2 1.5 0.3 1.5-0.4 1.5 1.3 1.5-0.8 0.6-0.4 0.3 1.7 0.4-1.2 0.2-2.6 0.2-1.7 0.4-5.7 0.3-6.7 0.4-5.4 0.2 1.7 0.2 2.1 0.4 5.1 0.3 3.5 0.4 7.9 0.2 2.5 0.2 1 0.4-2.6 0.3-1.4 0.4-0.7 0.2-2.3 0.2-1.1 0.4-0.3 0.3-0.4 0.4-1.7 0.2 0 0.2-0.6 0.4-0.7 0.3 1.2 0.4-1.4 0.2 1.4 0.2-1.2 0.4-0.4 0.3 2.4 0.6-1.6 1.5-0.9 1.5 1.1 1.5-0.8 1.5-0.3 1.5 0.8 1.5 0.4 1.5 1.6 1.5-0.4 1.5 1 1.5 0.9 1.5 0.5 1.5 0.6 1.5-1.4 1.5 0 1.5 0.2 1.5 0.3 1.5-0.6 1.5-0.8 1.5 0.7 1.5-0.1 1.5 1.1 1.5 0.7 1.5-1.9 1.5 2.2 1.5 0.2 1.5-1.4 1.5-1.1 1.5-0.5 1.5 0.4 1.5 0.9 1.5-1.1 1.5 1 1.4 0.5 1.5 0.5 1.5-1.5 1.5-0.3 1.5 1.5 1.5-1.2 1.5 0.9 1.5 0.2 1.5-0.8 1.5 1.1 1.5-0.8 1.5-0.6 1.5 0.5 1.5 1.5 1.5-0.1 1.5 0 1.5 0.5 1.5-0.7 1.5-0.2 1.5 0.7 1.5 0.2 1.5-1.3 1.5-0.6 1.5 1.2 1.5-0.8 1.5-0.1 1.5-0.2 1.5 1.2 1.5-0.7 1.5 0.1 1.5 0.9 1.5-1 1.5 1.1 1.5-0.2 1.5-1 1.5-1.4 1.5 0 1.5 0.5 1.5-0.8 1.5 1.4 1.5-1 1.5 1.1 1.5 1.1 1.5-2.1 1.5 0.6 1.5 1.6 1.5-0.3 1.5-0.9 1.5 0.5 1.5-0.8 1.5 1.6 1.4-2.1 1.5 1.7 1.5 0.3 1.5 0 1.5 0 1.5 0.1 1.5-1.1 1.5-0.8 1.5-0.6 1.5 1.5 1.5-1.1 1.5 0.6 1.5-1.6 1.5 0.7 1.5 0 1.5 0.2 1.5 0.5 1.5 0.4 1.5 0.4 1.5-1.5 1.5 0.3 1.5 0 1.5 1.2 1.5-0.2 1.5-0.6 1.5 0.6 1.5 1.3 1.5-0.9 1.5 0.5 1.5-0.5 1.5-0.8 1.5 2.6 1.5-2.8 1.5 1.4 1.5 0.2 1.5 0 1.5 0.1 1.5 0 1.5 0.2 1.5-0.4 1.5 0.5 1.5-1.1 1.5-0.5 1.5 0.2 1.5-1 1.5 0.6 1.5 0.3 1.5-1.2 1.5 1 1.4 0.6 1.5 0.7 1.5-1.1 1.5 0.8 1.5 0.1 1.5-0.4 1.5-0.9 1.5-0.1 1.5 0.7 1.5 0.9 1.5-2 1.5 0.9 1.5-0.4 1.5 1 1.5-0.4 1.5 0.3 1.5 0.1 1.5-0.1 1.5 1.2 1.5-0.8 1.5-2.7 1.5 2.3 1.5 0.1 1.5-1.6 1.5 0.8 1.5 2.2 1.5 0.8 1.5-0.9 1.5-1 1.5-0.6 1.5 0.3 1.5 0 1.5-1.2 1.5 1.7 1.5-0.2 1.5-1 1.5-1.2 1.5 2.5 0.7 0.1 0.4-0.6 0.4 0.1 0.3 0.4 0.4 6.3 0.4 5.4 0.4 5.6 0.3 6.3 0.4 6.5 0.4 11.1 0.4 5.6 0.3 6.2 0.4 5.1 0.4-2.1 0.4-4.4 0.3-4.5 0.4-5.1 0.4-3.2 0.4-4.1 0.3-5.2 0.4-3.8 0.4-4.8 0.4-3.3 0.3-6.5 0.4-3.9 0.4-2.5 0.4-0.7 0.3 0.2 0.4 1.6 0.4-1 0.4-0.1 0.3 0.6 0.4-0.8 0.4 0.6 0.4 0.2 0.3-1.8 0.4 0.8 0.4-1.1 0.4 1.3 0.3 0.7 1.2-0.1 1.5 0.5 1.4-0.2 1.5 0.1 1.5 0.1 1.5-1.2 1.5 1.4 1.5-1.5 1.5 1.5 1.5-0.9 1.5 0.2 1.5-1 1.5 0.8 1.5 0 1.5 0 1.5-0.4 1.5-0.2 1.5-0.4 1.5 0.8 1.5-0.4 1.5 0.4 1.5 1.3 1.5-1.1 1.5 1.1 1.5-0.9 1.5 0.8 1.5 0.2 1.5-0.5 1.5 0.6"/>
<path d="M1135.1 2143l1.5 0.7 1.5-0.4 1.5-1.6 1.5 0.4 1.5-0.2 1.5 1.6 1.5-2.4 1.5 0.5 1.5 0.5 1.5 0.7 1.5-0.3 1.5 2 1.5-1.9 1.5 2 1.5-1.6 1.5 0.9 1.5 0.6 1.5-0.2 1.5-0.7 1.5-1.2 1.5 0.9 1.5-0.5 1.5 0.4 1.5-1.6 1.5 1.2 1.4 0.3 1.5-1 1.5 0.6 1.5 0.1 1.5 1.3 1.5 0.1 1.5-1.8 1.5 0.7 1.5-0.7 1.5-0.1 0.6-0.7 0.3 0.2 0.4 0 0.2-2.6 0.2-3.8 0.4-9.4 0.3-7.2 0.4-8.9 0.2 2.3 0.2 3.3 0.4 7.4 0.3 8 0.4 9.8 0.2 2.9 0.2-0.4 0.4-2 0.3-3.3 0.4-0.8 0.2-1.4 0.2-0.9 0.4 0.1 0.3-3.4 0.4-0.7 0.2 0.1 0.2-0.7 0.4-1.5 0.3 0 0.4 0.3 0.2-0.5 0.2-0.9 0.4 2 0.3-0.3 0.6-0.2 1.5-1 1.5-0.2 1.5 0.9 1.5 0.1 1.5 0.5 1.5-0.1 1.5 1 1.5 1.3 1.5 0.7 1.5 0.5 1.5 0.4 1.5-0.6 1.5-0.3 1.5 2 1.5-0.3 1.5-1.3 1.5 0 1.5 1.5 1.5 0.3 1.5 0.3 1.5-1.7 1.5 0.5 1.5 0.7 1.5 0.9 1.5-1.5 1.5 1 1.5-1.2 1.5 1.5 1.5-0.7 1.5-0.3 1.5 0.4 1.5 0.3 1.4-1 1.5-0.1 1.5 1.3 1.5-1.7 1.5 2.2 1.5-1.4 1.5-0.3 1.5 0.9 1.5 1.2 1.5 0 1.5-1.2 1.5 1.2 1.5-0.3 1.5-0.7 1.5 0.3 1.5 0.8 1.5 0.3 1.5-0.5 1.5-1.4 1.5 1 1.5-0.1 1.5-1.6 1.5-0.2 1.5 0.2 1.5 0.3 1.5 0.2 1.5-0.1 1.5 0.5 1.5-0.1 1.5 0.6 1.5-0.4 1.5 1.5 1.5 0 1.5-1.8 1.5 0.2 1.5 1.5 1.5 0.3 1.5-1.5 1.5 0.5 1.5-0.6 1.5-0.7 1.5 0.1 1.5 0.3 1.5-0.6 1.5 1.7 1.5-0.2 1.5-2.7 1.5 1.5 1.5-0.4 1.5 1.5 1.5-1.8 1.4 1.7 1.5-1.1 1.5 0 1.5 0.7 1.5-0.9 1.5 2.4 1.5-2.2 1.5 0.5 1.5 0.6 1.5 0.5 1.5-0.2 1.5 0.2 1.5-0.2 1.5-1 1.5 0.7 1.5-0.4 1.5 0.5 1.5-2.4 1.5 0.7 1.5 2.1 1.5-1.9 1.5-1.5 1.5 1.4 1.5-0.1 1.5 0.4 1.5-1.1 1.5-0.2 1.5 1.6 1.5 1.7 1.5-1.6 1.5 1.2 1.5 0.1 1.5-1.7 1.5 0.5 1.5 0.2 1.5-0.3 1.5-0.5 1.5 1 1.5-1.3 1.5 1.9 1.5-1.2 1.5 0.6 1.5 0 1.5-0.2 1.5-1 1.5-0.2 1.5 0.4 1.5-0.7 1.5 1.5 1.4-0.7 1.5 1.1 1.5 0.9 1.5-0.5 1.5-1.9 1.5 0.9 1.5-0.4 1.5 1.1 1.5-0.1 1.5 0 1.5-0.4 1.5 0.1 1.5 0.4 1.5-0.3 1.5 0.2 1.5 0.4 1.5-0.4 1.5 0.7 1.5-0.6 1.5-0.2 1.5 1.6 1.5-0.6 1.5-0.3 1.5 0.1 1.5-0.5 1.5 0.1 1.5-1.7 1.5 0.8 1.5-0.7 1.5 1.3 1.5 0.1 1.5 0.1 1.5 0.2 1.5-1.6 1.5 0.5 1.5 0.8 1.5 1 1.5-1.7 0.7-1 0.4 0.1 0.4 0.9 0.3 0.9 0.4 9.4 0.4 10.2 0.4 8.4 0.3 8.8 0.4 8.8 0.4 17.3 0.4 9.5 0.3 8.7 0.4 8.5 0.4-4.5 0.4-7.6 0.3-5.8 0.4-7.5 0.4-6.9 0.4-7 0.3-5.9 0.4-8.4 0.4-5.9 0.4-7.7 0.3-7.1 0.4-4.5 0.4-3.3 0.4-0.6 0.3 0.5 0.4-0.7 0.4 1.1 0.4-2.2 0.3 0.3 0.4 0.4 0.4 1.6 0.4-2 0.3 1.6 0.4-1.3 0.4 0.6 0.4 1.8 0.3 0.2 1.2-1.4 1.5-0.7 1.4 0.5 1.5 0 1.5 0 1.5-1.7 1.5 0.8 1.5 1 1.5-1.8 1.5-0.1 1.5 0.5 1.5 0.7 1.5-0.8 1.5 0.6 1.5 0.4 1.5-0.9 1.5 1.4 1.5-0.3 1.5 0.8 1.5-0.8 1.5-1.6 1.5 3.4 1.5 0.1 1.5-1.2 1.5 0.9 1.5-1.3 1.5-0.8 1.5 0.9 1.5-0.1"/>
<path d="M1135.1 2142.3l1.5 1.1 1.5-1.1 1.5 1.3 1.5 0.8 1.5 0.7 1.5-2.6 1.5-1.1 1.5 1.4 1.5 2.5 1.5-3.5 1.5 0.5 1.5 2 1.5-0.7 1.5-0.7 1.5 1 1.5-0.3 1.5-0.9 1.5-0.3 1.5 0.4 1.5-0.3 1.5 0.5 1.5 0.2 1.5 0.2 1.5 0.5 1.5 0.7 1.4-1.3 1.5 0 1.5 0.7 1.5-2.2 1.5 1.5 1.5-0.8 1.5 1.5 1.5-1 1.5 0.1 1.5-0.5 0.6 0.2 0.3-0.3 0.4-0.1 0.2-6.8 0.2-4.6 0.4-9.9 0.3-12.3 0.4-10.6 0.2 1.3 0.2 5.2 0.4 12 0.3 11.6 0.4 11.4 0.2 2.6 0.2 0 0.4-1.8 0.3-2.6 0.4-2 0.2-2.1 0.2-0.6 0.4-2.6 0.3-0.5 0.4-2.6 0.2-0.6 0.2-0.3 0.4-0.3 0.3-0.5 0.4-1 0.2-0.8 0.2-0.2 0.4 0 0.3 0.7 0.6-1.1 1.5-0.3 1.5 0.6 1.5 0 1.5 0.1 1.5 1.9 1.5-0.8 1.5 1.7 1.5 0.5 1.5-0.2 1.5-1 1.5 1.7 1.5 1.2 1.5-0.7 1.5 1.4 1.5-0.1 1.5 1.1 1.5 0.3 1.5 0.3 1.5-1.6 1.5 1.3 1.5-1.5 1.5 2.4 1.5-1.1 1.5 0.2 1.5 1.1 1.5 1.2 1.5-0.7 1.5-1.7 1.5 0.3 1.5 1.4 1.5-1.1 1.5-0.1 1.4-0.9 1.5 0.4 1.5 0.8 1.5-2.1 1.5 0.9 1.5 1.1 1.5-1.3 1.5 0.5 1.5-0.1 1.5 2 1.5-0.5 1.5 0.5 1.5-0.4 1.5 0 1.5-0.6 1.5 0.6 1.5-1.6 1.5 0.9 1.5-0.7 1.5 0.3 1.5-0.2 1.5 0.1 1.5 0.8 1.5-0.6 1.5 0.8 1.5-0.6 1.5 0.4 1.5 0.5 1.5 1.2 1.5-1 1.5 0.5 1.5-0.3 1.5-1.2 1.5 1.2 1.5-1.4 1.5-1.1 1.5 2.1 1.5-0.9 1.5-0.2 1.5 0.5 1.5 0 1.5-0.7 1.5-1.3 1.5 2.4 1.5-0.4 1.5 0.2 1.5-1.2 1.5 0.2 1.5 0 1.5 0.8 1.5 0 1.4 0.4 1.5 0.3 1.5 0.1 1.5-1.4 1.5 0.2 1.5 0 1.5 1.4 1.5-1.2 1.5-1 1.5 2.5 1.5 0 1.5-1.7 1.5 1.6 1.5-1.1 1.5-0.4 1.5 0.4 1.5 0.5 1.5-0.4 1.5 0.7 1.5-0.7 1.5 0 1.5 1 1.5-1.3 1.5 1.4 1.5-1.2 1.5 0.8 1.5 0.4 1.5-0.2 1.5-0.1 1.5-0.6 1.5 0.4 1.5 0.5 1.5-0.6 1.5 1.2 1.5-2.4 1.5 0.7 1.5-0.2 1.5 0.4 1.5 1.2 1.5-1.3 1.5-0.3 1.5 0 1.5-0.8 1.5 0.2 1.5-0.1 1.5-0.9 1.5 1 1.5 0.8 1.5 1 1.4-0.9 1.5 0 1.5 0.6 1.5-0.9 1.5 1.5 1.5-1.6 1.5 0.3 1.5-0.3 1.5 0.2 1.5 0 1.5-1 1.5 0.4 1.5 0.9 1.5 0.5 1.5-0.5 1.5 1 1.5-1.6 1.5 0.6 1.5 0.4 1.5-2.1 1.5 1.7 1.5-1.7 1.5 1 1.5 0 1.5 0.6 1.5 0.7 1.5-0.7 1.5 1.3 1.5-1.5 1.5 0.8 1.5-0.1 1.5-0.9 1.5 2 1.5-1.4 1.5 0.6 1.5-0.6 1.5 0.7 1.5-0.1 0.7 0.1 0.4-0.4 0.4 0.7 0.3-0.2 0.4 13.8 0.4 9.6 0.4 12 0.3 12.1 0.4 12.1 0.4 22.4 0.4 11.8 0.3 12.2 0.4 12.8 0.4-6.9 0.4-8.9 0.3-8.6 0.4-9.6 0.4-7.4 0.4-10.1 0.3-8.3 0.4-8.6 0.4-11.1 0.4-8.7 0.3-9.1 0.4-7.9 0.4-3.6 0.4-0.8 0.3 1.7 0.4-2 0.4 0.5 0.4-1.2 0.3 1.8 0.4-1.7 0.4 0.8 0.4 0.1 0.3-0.8 0.4-0.5 0.4 1.1 0.4 0.1 0.3 1.1 1.2-0.5 1.5 0.1 1.4 1.3 1.5-1.6 1.5-0.1 1.5 0.1 1.5-0.6 1.5 0.8 1.5-0.2 1.5 0.4 1.5-0.3 1.5 0.8 1.5-0.8 1.5 0.6 1.5 0.8 1.5-1.4 1.5 1.1 1.5 0.2 1.5 0.4 1.5-2.1 1.5-0.2 1.5 0.4 1.5 0.5 1.5-0.4 1.5-0.4 1.5 0.5 1.5-0.3 1.5 1.5 1.5-1.2"/>
<path d="M1135.1 2143.1l1.5-0.6 1.5-0.8 1.5 0.9 1.5-0.4 1.5 0.9 1.5-1 1.5 0 1.5-0.8 1.5 1.5 1.5-0.3 1.5 0.3 1.5-0.2 1.5 1.2 1.5-0.2 1.5 1.6 1.5-2 1.5 1 1.5-0.2 1.5-0.5 1.5-0.9 1.5-0.3 1.5-0.4 1.5 0.9 1.5 0.9 1.5 0.3 1.4-0.5 1.5 0.8 1.5-1.2 1.5 1.2 1.5-1.1 1.5-0.6 1.5-0.7 1.5 1.4 1.5-0.8 1.5-0.6 0.6 2 0.3-1 0.4 1.6 0.2-7.5 0.2-6.3 0.4-14.8 0.3-15.6 0.4-15.9 0.2 6 0.2 4.4 0.4 14.4 0.3 15.8 0.4 13.5 0.2 4 0.2-0.6 0.4-1.8 0.3-2.8 0.4-3.1 0.2-2 0.2-0.3 0.4-2.9 0.3-1.9 0.4-1.5 0.2-3 0.2 0.4 0.4-2.7 0.3-0.3 0.4-0.7 0.2 0.8 0.2-0.2 0.4-0.6 0.3 0.1 0.6-0.3 1.5-2.8 1.5 0.6 1.5 1.6 1.5 0.8 1.5 1.1 1.5 1.3 1.5 0.4 1.5 0.6 1.5 0.5 1.5-0.1 1.5-0.2 1.5 1.9 1.5-0.3 1.5 1.2 1.5-0.1 1.5 1.7 1.5-1.8 1.5 1 1.5 1.2 1.5-0.4 1.5-0.2 1.5 0.3 1.5 0.9 1.5-0.3 1.5 0.8 1.5 0.5 1.5-0.9 1.5 0.9 1.5-0.1 1.5 0.3 1.5-1.3 1.5 0.2 1.4 0.9 1.5-0.2 1.5-0.7 1.5 2 1.5-1.4 1.5-0.8 1.5 0.1 1.5 0.8 1.5 0.5 1.5-0.6 1.5-1.1 1.5 1.4 1.5-0.8 1.5 0.4 1.5-0.1 1.5 1 1.5-0.4 1.5-0.1 1.5 0.6 1.5-1.2 1.5-0.8 1.5 0.1 1.5 0.5 1.5 0.3 1.5 1.1 1.5-0.2 1.5 1 1.5-1.8 1.5 0.4 1.5-0.2 1.5-1.7 1.5 2 1.5-0.6 1.5 1.7 1.5-0.8 1.5 0 1.5-0.7 1.5 0.3 1.5-0.3 1.5 0.2 1.5-0.5 1.5 1.1 1.5-1.2 1.5 0 1.5 0.3 1.5-0.9 1.5 0.8 1.5 0 1.5 0.3 1.5-0.2 1.5 0.1 1.4 0.5 1.5-0.6 1.5 1.1 1.5-1.2 1.5 1.3 1.5-1.9 1.5 1.3 1.5-0.6 1.5-0.3 1.5-0.6 1.5 1.3 1.5-0.3 1.5-1.4 1.5 0.4 1.5 1.3 1.5-1.7 1.5-0.3 1.5 1.7 1.5 0 1.5 0.5 1.5-0.7 1.5 0 1.5-1.7 1.5 2 1.5-1.9 1.5 1.3 1.5 0.1 1.5 0.1 1.5-0.4 1.5 0.7 1.5-0.3 1.5-0.1 1.5 0.3 1.5 0.1 1.5 0.3 1.5 0.2 1.5-0.9 1.5 0.1 1.5-0.5 1.5 0.9 1.5-1.3 1.5 0.7 1.5 0.3 1.5-0.1 1.5 0.9 1.5 0.6 1.5-0.1 1.5-1.6 1.5 0.6 1.4 0.6 1.5-0.8 1.5 1.4 1.5-2.6 1.5 0.8 1.5 1.3 1.5-0.7 1.5 0.7 1.5-0.2 1.5 0.3 1.5 0 1.5-1 1.5 1.2 1.5-1.3 1.5 1.4 1.5-1.3 1.5-0.9 1.5-0.1 1.5 2.1 1.5-1.1 1.5-0.8 1.5 1 1.5-1 1.5 0.8 1.5-0.8 1.5-1.6 1.5 0.9 1.5 0.1 1.5 1.2 1.5 0.6 1.5-0.4 1.5 0.7 1.5-1.1 1.5 1.5 1.5-0.3 1.5-1.4 1.5 1.1 1.5-1.2 0.7-0.3 0.4-0.5 0.4 2.2 0.3 2.3 0.4 14.1 0.4 15.9 0.4 13.9 0.3 16.6 0.4 13.9 0.4 28 0.4 15.6 0.3 14.5 0.4 15.4 0.4-7.5 0.4-10.9 0.3-12.2 0.4-11.7 0.4-11.4 0.4-12.1 0.3-11.4 0.4-10.6 0.4-11.9 0.4-12 0.3-11.1 0.4-10.7 0.4-2.6 0.4-0.8 0.3 0 0.4-0.5 0.4 0.5 0.4-0.3 0.3 0.2 0.4-0.5 0.4-0.1 0.4-0.4 0.3 1.7 0.4-1.1 0.4 0 0.4-0.7 0.3 1.3 1.2-0.7 1.5 0.1 1.4 1.7 1.5-0.4 1.5 0.3 1.5 0.4 1.5-0.1 1.5 0.2 1.5-1.6 1.5-0.3 1.5-0.6 1.5 0 1.5-0.5 1.5 1 1.5 0.2 1.5-0.4 1.5 0.5 1.5-0.3 1.5 0.4 1.5 0.7 1.5 0.1 1.5-0.6 1.5-1.9 1.5 1.3 1.5 0.9 1.5-1.8 1.5-0.1 1.5 0.8 1.5-0.8"/>
<path d="M1135.1 2143.6l1.5-0.3 1.5-1.1 1.5 0.5 1.5 0 1.5 0.4 1.5 0.2 1.5-1.5 1.5 0.6 1.5-0.2 1.5-0.1 1.5 1.3 1.5 0.3 1.5-1.1 1.5 0.3 1.5 0.4 1.5-0.1 1.5 1.6 1.5-0.8 1.5 0.1 1.5-0.4 1.5-0.4 1.5 1.6 1.5-1.4 1.5-1.4 1.5 0.8 1.4 0.7 1.5-1 1.5 1.2 1.5-1.6 1.5 0.9 1.5-1.3 1.5 0.4 1.5 1 1.5-0.8 1.5 0.4 0.6-0.1 0.3 1.1 0.4-1.7 0.2-6.5 0.2-6.8 0.4-19.1 0.3-17.3 0.4-18.4 0.2 4.4 0.2 8.4 0.4 15.6 0.3 17 0.4 17.1 0.2 6.5 0.2-1 0.4-3 0.3-4.1 0.4-3.2 0.2-3.1 0.2-1.3 0.4-2.4 0.3-1.5 0.4-3.1 0.2-0.7 0.2 0.8 0.4-1.4 0.3-3 0.4 0.1 0.2-0.9 0.2 0 0.4-0.2 0.3-1 0.6 0.7 1.5-2.1 1.5 1.9 1.5-1 1.5 2.9 1.5 0.4 1.5 1.9 1.5 1.4 1.5 0.2 1.5 1.1 1.5-1 1.5 2.8 1.5 2.1 1.5-1.7 1.5 0.6 1.5 0.5 1.5 0.6 1.5 0.1 1.5 1.2 1.5-0.5 1.5 0.6 1.5 0 1.5 0.3 1.5-1.3 1.5 1.1 1.5-0.3 1.5-1.6 1.5 1 1.5 0.5 1.5 0.2 1.5-0.7 1.5 0 1.5-0.2 1.4-1.3 1.5 1.8 1.5-0.5 1.5 0.3 1.5 0.3 1.5 0.5 1.5 0.7 1.5-0.1 1.5-0.4 1.5 0.1 1.5-0.3 1.5-1.2 1.5 0.9 1.5-0.6 1.5-0.9 1.5 1.3 1.5-0.1 1.5 0.2 1.5-1.3 1.5 1.3 1.5-1 1.5 0.6 1.5 1.1 1.5-0.3 1.5 0.9 1.5-2.1 1.5 1.4 1.5-1.1 1.5-0.8 1.5 0.7 1.5-0.7 1.5-0.4 1.5 1.9 1.5-0.8 1.5-0.6 1.5-0.3 1.5 0.1 1.5 0.3 1.5 1 1.5-0.1 1.5-0.9 1.5 0.5 1.5-0.3 1.5 2.2 1.5-0.6 1.5 0.1 1.5-1.2 1.5-0.2 1.5 2.1 1.5-0.7 1.5-1.2 1.4 1.7 1.5-1.7 1.5 1.7 1.5-0.7 1.5 0.4 1.5-1.6 1.5 0.8 1.5-1.5 1.5 0.2 1.5 0.5 1.5 0 1.5 0.3 1.5 0.3 1.5 1 1.5-0.4 1.5 0.6 1.5-1.8 1.5-0.4 1.5 0.8 1.5 1.2 1.5-1 1.5-0.6 1.5-0.3 1.5 0.4 1.5 0.1 1.5-1.8 1.5 1.5 1.5 0.5 1.5-0.3 1.5-0.3 1.5 0.9 1.5-0.8 1.5 0.1 1.5-0.1 1.5-0.2 1.5-0.6 1.5 2.2 1.5-1.9 1.5 1 1.5 0.5 1.5-0.8 1.5 0.9 1.5-0.1 1.5 0.3 1.5 1.2 1.5-0.2 1.5-1.9 1.5 1.3 1.5-0.3 1.4-1.1 1.5 0.7 1.5-0.2 1.5 1 1.5-0.5 1.5-1 1.5 0 1.5-0.5 1.5 0.2 1.5 0.9 1.5-0.6 1.5 0.9 1.5-0.4 1.5 0.4 1.5-0.6 1.5 0.3 1.5-0.6 1.5 1 1.5-0.6 1.5 1.3 1.5-1.7 1.5 0.6 1.5 0.7 1.5 0.3 1.5-0.2 1.5-0.4 1.5 0.1 1.5-1.5 1.5 1 1.5-0.2 1.5 1.4 1.5-0.8 1.5-1.8 1.5 0.3 1.5 2.6 1.5-2.7 1.5 1.1 1.5 0.6 0.7-1 0.4 0 0.4-0.5 0.3 3.1 0.4 17.3 0.4 18.8 0.4 17.4 0.3 16.5 0.4 20.2 0.4 35.6 0.4 15.6 0.3 19 0.4 18.7 0.4-11.1 0.4-13.7 0.3-13 0.4-13.5 0.4-12.3 0.4-15.2 0.3-12.1 0.4-14.4 0.4-15.3 0.4-13 0.3-12.2 0.4-13.9 0.4-5.4 0.4 0.9 0.3-1 0.4 0 0.4 0.7 0.4-2.4 0.3 2.3 0.4-1.3 0.4 0.9 0.4-0.6 0.3-0.4 0.4 0.4 0.4 0.1 0.4 0.1 0.3 1.7 1.2-1.1 1.5-0.9 1.4-0.6 1.5 0.2 1.5 1.5 1.5-0.3 1.5-1.2 1.5-0.1 1.5 1.1 1.5 0 1.5-0.6 1.5 0.1 1.5 0.9 1.5 0.8 1.5 0.6 1.5-0.7 1.5 0.5 1.5-0.8 1.5-1.5 1.5 0.5 1.5 0.6 1.5-0.8 1.5 1.7 1.5-1.1 1.5 0.7 1.5-1.2 1.5-0.3 1.5 1.3 1.5-1.2"/>
<path d="M1135.1 2142.7l1.5-1.5 1.5 2.1 1.5-1.3 1.5-0.4 1.5 1.5 1.5 0.6 1.5 0 1.5 0 1.5-1.2 1.5-0.3 1.5 0 1.5-1.3 1.5 1.2 1.5-0.1 1.5-0.6 1.5 0.7 1.5 0.6 1.5 0.2 1.5 0.7 1.5-0.8 1.5 0.2 1.5 0.7 1.5-0.7 1.5 0.1 1.5-0.6 1.4-1.1 1.5 1.1 1.5-0.2 1.5-0.8 1.5 1.6 1.5 0.3 1.5-0.1 1.5 0.6 1.5-0.9 1.5 0.7 0.6-1 0.3-0.2 0.4-0.2 0.2-9.3 0.2-8.1 0.4-21.3 0.3-20 0.4-20.6 0.2 5.9 0.2 7.6 0.4 20.2 0.3 20.4 0.4 18.5 0.2 6.1 0.2 0.7 0.4-3.5 0.3-3.9 0.4-5 0.2-1.7 0.2-2.1 0.4-2.7 0.3-1.7 0.4-3.3 0.2-1.1 0.2-0.7 0.4-1.9 0.3-2.2 0.4-1.1 0.2-0.1 0.2-0.5 0.4-0.9 0.3 0.2 0.6-1.1 1.5-0.5 1.5 1.7 1.5-1.1 1.5 2.9 1.5-0.1 1.5 2.3 1.5 1.2 1.5 1 1.5 1.9 1.5 0.9 1.5 0.3 1.5 1.5 1.5 0 1.5 0.5 1.5 1.7 1.5 0.1 1.5-0.1 1.5 0.6 1.5-0.2 1.5-0.6 1.5-0.9 1.5-0.2 1.5 0.9 1.5 1.1 1.5 0.5 1.5-1.5 1.5 0.6 1.5 0.5 1.5 0.1 1.5-2.3 1.5 1 1.5 0.6 1.4 0.6 1.5 0.3 1.5-0.9 1.5 0.3 1.5-0.5 1.5 1.9 1.5-1.5 1.5 0.7 1.5-0.5 1.5 0.1 1.5 2.2 1.5-1.4 1.5-1.2 1.5-0.4 1.5 1.4 1.5 0.2 1.5-2.3 1.5 0.5 1.5-0.3 1.5 1.5 1.5-1.2 1.5 1.4 1.5-0.4 1.5 0.5 1.5-0.7 1.5-0.1 1.5 0.8 1.5-0.5 1.5-0.4 1.5 1.2 1.5-1.2 1.5-0.5 1.5 0.6 1.5 1.2 1.5-0.8 1.5-0.9 1.5 0.8 1.5 1 1.5-1.8 1.5-0.1 1.5-0.6 1.5-0.1 1.5 0.4 1.5 0.9 1.5 1.4 1.5-0.1 1.5-1.7 1.5 0.4 1.5 0 1.5 0.5 1.5-0.3 1.4-1 1.5 0.7 1.5 0.5 1.5-1.4 1.5 1.7 1.5-0.2 1.5 1 1.5-0.7 1.5-0.8 1.5-0.1 1.5 0.2 1.5-0.3 1.5-1.1 1.5 1.6 1.5 0.9 1.5-1.6 1.5 2 1.5-1.1 1.5 0.7 1.5-0.2 1.5-1.3 1.5 0.3 1.5 0.5 1.5-1.1 1.5 1.4 1.5-1.1 1.5 0.4 1.5-0.3 1.5 0.7 1.5-0.2 1.5 0.4 1.5 1.8 1.5-3.1 1.5 1 1.5 0.3 1.5 0.2 1.5 0.6 1.5-0.3 1.5-0.6 1.5-1 1.5 0.5 1.5 0.1 1.5-0.5 1.5 0.8 1.5-0.8 1.5 1.3 1.5-0.4 1.5 0.8 1.5-1 1.4 1.2 1.5-2.5 1.5 1.4 1.5 0 1.5 0 1.5 0 1.5 0.1 1.5 1.3 1.5-1.8 1.5 0.3 1.5 1.3 1.5-1.5 1.5-0.8 1.5-0.6 1.5 1.3 1.5-0.1 1.5 1.3 1.5-0.6 1.5 0.9 1.5 0.2 1.5-2.2 1.5-0.7 1.5 0.5 1.5 1.6 1.5-0.9 1.5 0 1.5 0 1.5 0.8 1.5 0 1.5-1.7 1.5 1.5 1.5 0.3 1.5-0.5 1.5 0 1.5 0.7 1.5-0.9 1.5-0.8 1.5-0.3 0.7 1.1 0.4-1.8 0.4 1.9 0.3 3 0.4 22 0.4 18.3 0.4 21.1 0.3 21.7 0.4 22.7 0.4 38.1 0.4 22.8 0.3 19.6 0.4 21.6 0.4-11.5 0.4-16.5 0.3-15.9 0.4-16.9 0.4-15.9 0.4-13.7 0.3-17.3 0.4-13.8 0.4-18.1 0.4-15 0.3-16.5 0.4-16.5 0.4-5.8 0.4 0.8 0.3 0.3 0.4-0.4 0.4 0.6 0.4-1.1 0.3 1.1 0.4 0.1 0.4-0.4 0.4-1.1 0.3 0.5 0.4 0.7 0.4 0.7 0.4-1.5 0.3 0.6 1.2 0 1.5 0.3 1.4-0.5 1.5 0.2 1.5 1.5 1.5 0.4 1.5-1.1 1.5 1.3 1.5-1.7 1.5 0.1 1.5-1 1.5 0.7 1.5-0.3 1.5 0.9 1.5-0.7 1.5-0.1 1.5-0.2 1.5 0.1 1.5 0.2 1.5 0.6 1.5-0.5 1.5-0.3 1.5-0.6 1.5-0.3 1.5 1.2 1.5 0.3 1.5-0.4 1.5-0.1 1.5 0.3"/>
<path d="M1135.1 2143.4l1.5-1.5 1.5 1.1 1.5-0.9 1.5-1 1.5 2.4 1.5-0.2 1.5-1.1 1.5 1.5 1.5-0.8 1.5-0.1 1.5-0.9 1.5 1.4 1.5-0.9 1.5-0.2 1.5 1 1.5 0.5 1.5-1 1.5 0 1.5 1.3 1.5 0 1.5-2 1.5 0.9 1.5 0.2 1.5-0.5 1.5 0 1.4-0.9 1.5-1 1.5-0.1 1.5 1.4 1.5-0.1 1.5-0.1 1.5-0.9 1.5 0.5 1.5 2.1 1.5-0.9 0.6 0.1 0.3-1 0.4 0.2 0.2-8.9 0.2-9.6 0.4-24.2 0.3-24.1 0.4-23.6 0.2 7.2 0.2 9.2 0.4 22.1 0.3 22.7 0.4 23.2 0.2 7.8 0.2-0.4 0.4-4.2 0.3-4 0.4-6.9 0.2-3.4 0.2-2 0.4-3.1 0.3-3.4 0.4-2.8 0.2-0.8 0.2 0.3 0.4-3 0.3 0.1 0.4-1.8 0.2-2.9 0.2 0.9 0.4-1.2 0.3-1 0.6-0.7 1.5 0.2 1.5 0.1 1.5 1.6 1.5 1.9 1.5 1.1 1.5 1.8 1.5 0.7 1.5 1.8 1.5 1.2 1.5 2.4 1.5 0 1.5-0.5 1.5 2.1 1.5 0 1.5 0 1.5 1 1.5 0.8 1.5-1.5 1.5 1.9 1.5-0.2 1.5 1.2 1.5-2.3 1.5 2.4 1.5 0.4 1.5-1.5 1.5 1.2 1.5-0.3 1.5-0.5 1.5 1.7 1.5-1.8 1.5 1.2 1.5 1.5 1.4-1.9 1.5 0.3 1.5 0.1 1.5-2.5 1.5 2.5 1.5 1.1 1.5-1.6 1.5-1 1.5 0.4 1.5 0.8 1.5-0.4 1.5 0 1.5 0.5 1.5-1 1.5-0.1 1.5-0.6 1.5 1.7 1.5-1.9 1.5 0.6 1.5 0.6 1.5 0.7 1.5-0.8 1.5 1 1.5-0.8 1.5 0.2 1.5 0.7 1.5-0.3 1.5 0.5 1.5-1.2 1.5 0.7 1.5 0.7 1.5-2.5 1.5 1.7 1.5-0.9 1.5 0.9 1.5-0.7 1.5 0.6 1.5-1.1 1.5 0.4 1.5-1.1 1.5 3.5 1.5-1.5 1.5-1 1.5 2.6 1.5-2.3 1.5 0.1 1.5-0.2 1.5 0.6 1.5-0.1 1.5 1 1.5-0.2 1.4 0.2 1.5 0.4 1.5-1.5 1.5 1.3 1.5-0.9 1.5 0.3 1.5 0.9 1.5-0.9 1.5 0 1.5-0.1 1.5-0.7 1.5-0.3 1.5 0.4 1.5-0.6 1.5 0.9 1.5 0 1.5-1.6 1.5 0.7 1.5 0.4 1.5-0.1 1.5 1 1.5 0.4 1.5-0.4 1.5-0.4 1.5-0.3 1.5 0.9 1.5 0.4 1.5-1.3 1.5 0.6 1.5-0.4 1.5 0.3 1.5-0.3 1.5-0.1 1.5 0.1 1.5-0.1 1.5-0.3 1.5 0.7 1.5 0 1.5-0.2 1.5-0.4 1.5 0 1.5-0.3 1.5 0.5 1.5 0.7 1.5-1.4 1.5 1.6 1.5 0.6 1.5-1.8 1.5-0.2 1.4 0.8 1.5 0.1 1.5-0.7 1.5 0.2 1.5 1.3 1.5 0 1.5-0.5 1.5-0.5 1.5-0.7 1.5 1.1 1.5-0.2 1.5 0.7 1.5-0.6 1.5 1.2 1.5-0.3 1.5-2.3 1.5 0.4 1.5 0.7 1.5-1.2 1.5 1 1.5 0.2 1.5 0.6 1.5-0.5 1.5-1.1 1.5 1.8 1.5-1.8 1.5 1.1 1.5-0.3 1.5 0.7 1.5 0.9 1.5-1.7 1.5 2 1.5-1.9 1.5 0.1 1.5 0.9 1.5 0.7 1.5 0.1 1.5-1.4 0.7 1.5 0.4 1.2 0.4-1.2 0.3 1.8 0.4 24.4 0.4 24.8 0.4 23.3 0.3 24.2 0.4 22.4 0.4 47.6 0.4 23.9 0.3 23.3 0.4 23.6 0.4-11.6 0.4-19.3 0.3-18 0.4-18.6 0.4-18.4 0.4-18.8 0.3-18.6 0.4-18.9 0.4-18.7 0.4-16.9 0.3-19.2 0.4-17.8 0.4-4.7 0.4 1.4 0.3-1.5 0.4-0.7 0.4 0.1 0.4 2.1 0.3-1.7 0.4 0.6 0.4-0.3 0.4 0.1 0.3-0.3 0.4 0.2 0.4 0.5 0.4 0.9 0.3-0.8 1.2 0.1 1.5 0.1 1.4 1.1 1.5-1.8 1.5 0.4 1.5-0.1 1.5 0.6 1.5-1.1 1.5 0.2 1.5-0.5 1.5 0.3 1.5 1 1.5-1.2 1.5-0.6 1.5 1.4 1.5-0.6 1.5-0.1 1.5-1.1 1.5 0.9 1.5 0.3 1.5-0.1 1.5 0.2 1.5-1 1.5-0.5 1.5 1.9 1.5-0.9 1.5-0.1 1.5-0.2 1.5 1.1"/>
<path d="M1135.1 2143.4l1.5 0.3 1.5 0.4 1.5-0.7 1.5 0.9 1.5-0.9 1.5-0.9 1.5-0.4 1.5-0.5 1.5 1 1.5-0.3 1.5-0.3 1.5 1.3 1.5 1 1.5-1 1.5 0.7 1.5-1.3 1.5-0.8 1.5 0.6 1.5-0.8 1.5 1.7 1.5-1.6 1.5 0.5 1.5 0.9 1.5-0.6 1.5 1.5 1.4 0 1.5-1.1 1.5-1.2 1.5 1.1 1.5 0 1.5 0 1.5 0.6 1.5-0.5 1.5 0 1.5 0.2 0.6-1.8 0.3-0.1 0.4 2.4 0.2-13.4 0.2-10.1 0.4-27.1 0.3-26.8 0.4-26.9 0.2 7.5 0.2 11 0.4 25.9 0.3 26.3 0.4 24.9 0.2 7.9 0.2-1 0.4-4.2 0.3-6.7 0.4-4.2 0.2-4.5 0.2-1.2 0.4-4.6 0.3-3.1 0.4-4.4 0.2-1.2 0.2-1.1 0.4-0.8 0.3-1.9 0.4-0.5 0.2-0.5 0.2-1.2 0.4-0.3 0.3-2.6 0.6 0.7 1.5-1.4 1.5 1.7 1.5 1 1.5 1.9 1.5 0.3 1.5 1.8 1.5 1.9 1.5 1.8 1.5 0.9 1.5 0.9 1.5 2.1 1.5 0.2 1.5 2.2 1.5 0.4 1.5 0.6 1.5 0.1 1.5-0.7 1.5 2.1 1.5-0.7 1.5 0.3 1.5 0.5 1.5-0.3 1.5 0.4 1.5-1.1 1.5 0.3 1.5 1.4 1.5-0.7 1.5 0.4 1.5 1.9 1.5-1.6 1.5 0.5 1.5 0.4 1.4 0 1.5 1.4 1.5-0.6 1.5 1.3 1.5-2.2 1.5 0.6 1.5-0.9 1.5 0.1 1.5-0.5 1.5 0.3 1.5 0.1 1.5-0.1 1.5 0.1 1.5-0.5 1.5 1.2 1.5 0 1.5 0.6 1.5-2.2 1.5 0 1.5 1 1.5-0.3 1.5 0 1.5-0.7 1.5-1.6 1.5 0.9 1.5 0.8 1.5 0.2 1.5-0.5 1.5 0 1.5 1.2 1.5-0.3 1.5-1.2 1.5 0.4 1.5 0.7 1.5 0 1.5 0 1.5-0.1 1.5 0.4 1.5-0.7 1.5 0.6 1.5 0.2 1.5-0.6 1.5-0.2 1.5 0.2 1.5 0.5 1.5-1.3 1.5 1.1 1.5-0.1 1.5-1.2 1.5 1.3 1.5-0.3 1.4 0.4 1.5-1 1.5 1.2 1.5-1.9 1.5 0.6 1.5-0.5 1.5 1 1.5 0.9 1.5-0.7 1.5-1.2 1.5 0.8 1.5 0.3 1.5-0.8 1.5 2 1.5-0.3 1.5-0.4 1.5 1.5 1.5-1.1 1.5 0 1.5-1.4 1.5 0.1 1.5 0 1.5-0.1 1.5 0.3 1.5 0.5 1.5 0.2 1.5 0.6 1.5-1.5 1.5 0 1.5-0.6 1.5 1 1.5-1.1 1.5 2 1.5 0 1.5-0.6 1.5 0.6 1.5-0.9 1.5-0.4 1.5 0.6 1.5 0.4 1.5-0.1 1.5 0.2 1.5-1.5 1.5 1.2 1.5-0.9 1.5 1.4 1.5-2 1.5 1.8 1.5-0.4 1.4-0.6 1.5-0.4 1.5-0.3 1.5 0.3 1.5 0.5 1.5-2.1 1.5 1.5 1.5 0.9 1.5 0.4 1.5 0.2 1.5 1.5 1.5-0.9 1.5 0 1.5-1.4 1.5 0.1 1.5 0.6 1.5 1.4 1.5-0.6 1.5-0.3 1.5-1 1.5 2 1.5-1.2 1.5 0.5 1.5-2 1.5 1 1.5 0.3 1.5-1.1 1.5 0.7 1.5 0.1 1.5-0.4 1.5 0.5 1.5 0.3 1.5-1.5 1.5 1.2 1.5 0.1 1.5-1.8 1.5 0.6 1.5-0.7 0.7 1.2 0.4-0.3 0.4-0.2 0.3 3.8 0.4 27.7 0.4 25.8 0.4 28.8 0.3 25.3 0.4 27.5 0.4 52.1 0.4 26.9 0.3 24.7 0.4 29.2 0.4-12.7 0.4-22.5 0.3-20.5 0.4-20.2 0.4-20.3 0.4-21.4 0.3-18.9 0.4-21 0.4-21.1 0.4-20.3 0.3-20.8 0.4-19.6 0.4-6.1 0.4-0.9 0.3 2.1 0.4-2.4 0.4 1.7 0.4-3.3 0.3 1.1 0.4-0.3 0.4 0.1 0.4 1.8 0.3-0.7 0.4 0.3 0.4-1.4 0.4 0.8 0.3-0.2 1.2 0.1 1.5-0.5 1.4 1.2 1.5-0.3 1.5-0.3 1.5-0.3 1.5 0.3 1.5-0.8 1.5 1.1 1.5-1.2 1.5 1.3 1.5-1.5 1.5 0.9 1.5 0.6 1.5-0.3 1.5-0.5 1.5 0.9 1.5-0.7 1.5 0.2 1.5-1 1.5 0.4 1.5 0.4 1.5-0.2 1.5-1.3 1.5 1.3 1.5-0.3 1.5 0.7 1.5-1.3 1.5 1.1"/>
<path d="M1135.1 2143.4l1.5-0.6 1.5 0.2 1.5-1.1 1.5 2.7 1.5-1.7 1.5 0.3 1.5-1.7 1.5 1.3 1.5 0 1.5-0.1 1.5-0.4 1.5-0.1 1.5 0 1.5 0.8 1.5-0.4 1.5 0.6 1.5-0.1 1.5 0.2 1.5 0.1 1.5-2.2 1.5 1.6 1.5-0.3 1.5 0.3 1.5 0 1.5-1.2 1.4-0.3 1.5 1.7 1.5 0.4 1.5-1.5 1.5 1.8 1.5-0.8 1.5-0.3 1.5 0.8 1.5-1.3 1.5 1.8 0.6-1.4 0.3-0.5 0.4 1.6 0.2-13.7 0.2-13.5 0.4-27.9 0.3-29.8 0.4-29.1 0.2 8.6 0.2 11.3 0.4 27.2 0.3 29.5 0.4 27.4 0.2 10.6 0.2-1.5 0.4-3 0.3-8 0.4-7.5 0.2-4.1 0.2-0.9 0.4-5.9 0.3-3.3 0.4-3.4 0.2-0.9 0.2-0.8 0.4-2.7 0.3-2.7 0.4-2.9 0.2-1.4 0.2 0.2 0.4-1.1 0.3-1.4 0.6-1.6 1.5 0.8 1.5 0.7 1.5 0.9 1.5 3.4 1.5-0.2 1.5 2.9 1.5 2.4 1.5 1.8 1.5 1.7 1.5 0.5 1.5 2.3 1.5 1.1 1.5 0.7 1.5-0.6 1.5 2.2 1.5-0.7 1.5 0.4 1.5 1.2 1.5 0.2 1.5 0.2 1.5 1.6 1.5 0.8 1.5-1.8 1.5 2 1.5-0.3 1.5-0.4 1.5-1 1.5-0.9 1.5 0.8 1.5-0.3 1.5-0.6 1.5 1.4 1.4 0.1 1.5-0.1 1.5 0.2 1.5-0.5 1.5 0.9 1.5-0.4 1.5 1.8 1.5-1.5 1.5-0.7 1.5 1.6 1.5-0.8 1.5-0.7 1.5-0.4 1.5 0.9 1.5 0 1.5-0.3 1.5 2.1 1.5-1.8 1.5 0.6 1.5-0.5 1.5 0.9 1.5 0.1 1.5-1.3 1.5-0.4 1.5 0.2 1.5 1 1.5-0.4 1.5 0.5 1.5-1.5 1.5-0.2 1.5 0.8 1.5 0.4 1.5-0.8 1.5 1.3 1.5 0.2 1.5-1.1 1.5 1.6 1.5-0.1 1.5-0.8 1.5-1.4 1.5 2.3 1.5-0.3 1.5 0.5 1.5-1.4 1.5-0.2 1.5 0.3 1.5 0.1 1.5-0.4 1.5 0.2 1.5-0.5 1.5-0.9 1.4 1.9 1.5-2.3 1.5 1.6 1.5-0.6 1.5-0.6 1.5 3 1.5-0.7 1.5-0.8 1.5-0.5 1.5-0.9 1.5-0.8 1.5 1.6 1.5-1.3 1.5 1.2 1.5 0.2 1.5-0.7 1.5 1.5 1.5 0.3 1.5-1.6 1.5 0.6 1.5-0.2 1.5-0.5 1.5 2 1.5-1.4 1.5-0.6 1.5 1.1 1.5-0.2 1.5 0.3 1.5-1 1.5-0.3 1.5 2.1 1.5-1.9 1.5 0.1 1.5 2 1.5-1.2 1.5-0.5 1.5-0.7 1.5 1.3 1.5-2.5 1.5 1.5 1.5 0.4 1.5-0.3 1.5 0 1.5-0.3 1.5 1.4 1.5-0.9 1.5 0 1.5-1.4 1.5 1.6 1.4 0.4 1.5 0.3 1.5-0.7 1.5 0.1 1.5 0.6 1.5 0.4 1.5-0.8 1.5-0.3 1.5-1.5 1.5 0.5 1.5 0.7 1.5-0.8 1.5 0.9 1.5 0.7 1.5 0.6 1.5-1.3 1.5-0.9 1.5-0.4 1.5 2.4 1.5-1 1.5-0.7 1.5 0 1.5 1.8 1.5-1.1 1.5 0.4 1.5-0.7 1.5 1.7 1.5-1.7 1.5 1.5 1.5-1.9 1.5 1.5 1.5-0.4 1.5 0.7 1.5 0.8 1.5-1.2 1.5 0.9 1.5-1.6 1.5 0.9 0.7-0.1 0.4-0.1 0.4-1.3 0.3 5.6 0.4 28.3 0.4 31.7 0.4 29.3 0.3 31.7 0.4 29.6 0.4 56.8 0.4 29.8 0.3 30.8 0.4 27.8 0.4-13.5 0.4-24 0.3-23.8 0.4-22.7 0.4-22.7 0.4-23.4 0.3-21.5 0.4-23.9 0.4-21.4 0.4-23 0.3-24 0.4-22.8 0.4-5.8 0.4 0.5 0.3-0.5 0.4-0.1 0.4-1.8 0.4-0.6 0.3 2 0.4-1.1 0.4 0.4 0.4 0.3 0.3 0.4 0.4-0.3 0.4 2.2 0.4-1 0.3-0.1 1.2-0.2 1.5 0.7 1.4-0.5 1.5-0.3 1.5-1 1.5 0 1.5 0.6 1.5 0.2 1.5 0.4 1.5-0.5 1.5 0.2 1.5-0.1 1.5-0.3 1.5 0.8 1.5-0.7 1.5 0.3 1.5 0 1.5-0.3 1.5-0.2 1.5-1.4 1.5 1.8 1.5 0.5 1.5 0.9 1.5-2.1 1.5-0.4 1.5 0.7 1.5 0.4 1.5 0.2 1.5-0.5"/>
<path d="M1461.4 2142.7l3.3-1.6 4.8-4.9 6.4-1.7 12.3 1.3 23 2 0 9.8 -17.6 0.8 -10.8 1.7 -7.4 7.3 -4.9 6.6 -3.7-1.7 -3.2-8.1z" fill="#874f6a"/>
</g>
<text x="1331" y="1936.8" font-size="28.9" font-family="Liberation Sans, Arial, sans-serif" text-anchor="middle">CalC6_3</text>
<rect x="1116" y="1979" width="412.7" height="409.3" fill="none" stroke="#000" stroke-width="2.2"/>
<path d="M1188.6 2388.3v8M1242.1 2388.3v8M1295.6 2388.3v8M1349.1 2388.3v8M1402.6 2388.3v8M1456.1 2388.3v8M1116 1979h-8M1116 2060.8h-8M1116 2142.7h-8M1116 2224.6h-8M1116 2306.4h-8M1116 2388.3h-8" stroke="#000" stroke-width="2.2" fill="none"/>
<text x="1188.6" y="2433.3" font-size="29.0" font-family="DejaVu Sans, Liberation Sans, sans-serif" text-anchor="middle">0</text>
<text x="1242.1" y="2433.3" font-size="29.0" font-family="DejaVu Sans, Liberation Sans, sans-serif" text-anchor="middle">10</text>
<text x="1295.6" y="2433.3" font-size="29.0" font-family="DejaVu Sans, Liberation Sans, sans-serif" text-anchor="middle">20</text>
<text x="1349.1" y="2433.3" font-size="29.0" font-family="DejaVu Sans, Liberation Sans, sans-serif" text-anchor="middle">30</text>
<text x="1402.6" y="2433.3" font-size="29.0" font-family="DejaVu Sans, Liberation Sans, sans-serif" text-anchor="middle">40</text>
<text x="1456.1" y="2433.3" font-size="29.0" font-family="DejaVu Sans, Liberation Sans, sans-serif" text-anchor="middle">50</text>
<text x="1092.8" y="1989.6" font-size="29.0" font-family="DejaVu Sans, Liberation Sans, sans-serif" text-anchor="end">10</text>
<text x="1092.8" y="2071.4" font-size="29.0" font-family="DejaVu Sans, Liberation Sans, sans-serif" text-anchor="end">5</text>
<text x="1092.8" y="2153.3" font-size="29.0" font-family="DejaVu Sans, Liberation Sans, sans-serif" text-anchor="end">0</text>
<text x="1092.8" y="2235.1" font-size="29.0" font-family="DejaVu Sans, Liberation Sans, sans-serif" text-anchor="end">−5</text>
<text x="1092.8" y="2317" font-size="29.0" font-family="DejaVu Sans, Liberation Sans, sans-serif" text-anchor="end">−10</text>
<text x="1092.8" y="2398.9" font-size="29.0" font-family="DejaVu Sans, Liberation Sans, sans-serif" text-anchor="end">−15</text>
<text x="1322.3" y="2460.2" font-size="29.0" font-family="DejaVu Sans, Liberation Sans, sans-serif" text-anchor="middle">Time (ms)</text>
<text x="0" y="0" font-size="29.0" font-family="DejaVu Sans, Liberation Sans, sans-serif" text-anchor="middle" transform="translate(1025.4 2183.7) rotate(-90)">Current density (pA pF<tspan dy="-11" font-size="20.3">−1</tspan><tspan dy="11">)</tspan></text>
<clipPath id="cp3"><rect x="1664.6" y="1979" width="413.7" height="409.3"/></clipPath>
<g clip-path="url(#cp3)" fill="none" stroke="#000" stroke-width="3.5" stroke-linejoin="round" stroke-linecap="round">
<path d="M1683.8 2143.6l1.5-1.2 1.5 0.1 1.5-0.1 1.5-0.4 1.5 1 1.5-0.3 1.5 0.9 1.5-0.1 1.5 0.3 1.5-1.9 1.5 0.5 1.5 1.1 1.5-0.5 1.5 0.6 1.5 0.7 1.5-2.4 1.5 0.5 1.5-0.9 1.5 1.3 1.5 0 1.5 0.4 1.5 0.1 1.5-0.2 1.5 0.2 1.4-0.3 1.5-0.5 1.5 0.6 1.5-1.8 1.5 1.7 1.5-1.2 1.5-0.5 1.5 1.8 1.5-1.4 1.5 0.5 1.5 1.3 0.6-0.5 0.3 2 0.4-1.7 0.2-0.9 0.2 1.4 0.4 3.3 0.3 4 0.4 3.9 0.2 2 0.2 1.9 0.4 3.7 0.3 3.1 0.4 2.5 0.2 4.5 0.2 1.1 0.4 0.3 0.3-2.7 0.4-3.6 0.2-1.4 0.2-2.2 0.4-2.6 0.3-1.4 0.4-2 0.2-3 0.2-1.6 0.4-2.5 0.3-2.3 0.4-2.5 0.2-1.6 0.2-0.6 0.4-0.1 0.3-0.1 0.6 1 1.5 1.6 1.5-0.5 1.5 1.6 1.5 0.1 1.5 1.2 1.5 1.6 1.5-0.6 1.5 0.3 1.5-0.3 1.5 0.5 1.5 0.5 1.5 0.2 1.5-0.6 1.5 1.9 1.5-2 1.5 0.1 1.5 1.2 1.5 0.8 1.5-1.7 1.5 1.4 1.5-0.4 1.5 0.2 1.5-0.2 1.5 0.5 1.5-0.7 1.5 0.2 1.5 0.4 1.5-0.8 1.5 0.1 1.5 0.8 1.5-0.1 1.5-0.8 1.5 1.6 1.4-1.3 1.5 0 1.5 1.2 1.5-0.7 1.5-1.5 1.5 0.6 1.5 1.3 1.5-0.6 1.5 0.1 1.5 0.2 1.5 0.1 1.5-0.5 1.5 0.2 1.5-1.6 1.5-0.2 1.5 1.3 1.5 0.3 1.5 1 1.5-0.6 1.5 0 1.5-0.7 1.5-1.3 1.5 1.8 1.5-1.6 1.5 1 1.5-0.1 1.5 0.3 1.5 2 1.5-1.4 1.5-0.4 1.5-0.6 1.5 1.1 1.5-0.4 1.5 0.6 1.5-0.7 1.5 0.4 1.5-1.3 1.5 1.3 1.5 0.1 1.5-0.7 1.5-1 1.5 0.9 1.5 0.1 1.5-0.6 1.5 0.5 1.5-0.6 1.5 0 1.5 0.6 1.5 1.3 1.4-1.5 1.5-0.3 1.5-0.4 1.5 1.5 1.5 0.1 1.5-0.9 1.5 0.2 1.5-0.1 1.5 0.5 1.5-0.4 1.5 0 1.5 1.8 1.5-2.7 1.5 1.2 1.5 1.1 1.5-0.1 1.5-1.3 1.5 1.3 1.5-1 1.5 0.5 1.5-0.5 1.5 0.1 1.5-1.9 1.5 1.2 1.5-0.8 1.5 2.1 1.5-0.9 1.5 0.7 1.5-1.3 1.5-0.8 1.5 1.2 1.5 1.4 1.5-1.2 1.5-1 1.5-0.4 1.5 1.5 1.5-0.2 1.5 0.8 1.5 0.5 1.5-1 1.5-1.4 1.5 1.6 1.5-1 1.5 0.2 1.5 0.6 1.5 0.2 1.5 0.7 1.5-1.1 1.5-0.6 1.5-0.2 1.5 0.5 1.4 0 1.5 1.3 1.5-0.2 1.5-0.5 1.5-0.2 1.5 0.8 1.5-0.6 1.5-0.3 1.5-0.3 1.5 0.1 1.5 1 1.5-0.3 1.5-1.5 1.5 1.5 1.5-0.9 1.5-1 1.5-0.1 1.5 2.4 1.5-1.1 1.5 0.3 1.5 0.3 1.5-1.3 1.5 0.5 1.5-0.9 1.5 2 1.5 0.9 1.5-1.7 1.5-0.1 1.5-1.1 1.5 1.3 1.5-0.7 1.5-0.6 1.5 3.1 1.5-2 1.5 0.4 1.5 0.4 1.5-0.4 0.7-0.3 0.4-1.9 0.4 2.5 0.3-0.4 0.4-1.2 0.4-1.2 0.4 3.1 0.3-1.6 0.4 1.1 0.4-1.9 0.4 0.7 0.3 0.3 0.4-4 0.4 0.4 0.4-0.2 0.3-0.7 0.4 1.3 0.4-1.6 0.4-1.1 0.3 2.8 0.4-1 0.4-2.2 0.4-0.1 0.3 0.3 0.4-0.7 0.4 0.5 0.4-1.4 0.3 1.9 0.4-2.3 0.4 1.2 0.4 0.5 0.3-1.3 0.4 0.8 0.4-1.9 0.4 1.7 0.3 0.6 0.4 0.6 0.4-1.9 0.4-1.7 0.3 1.1 1.2 0.6 1.5 1.7 1.4-0.9 1.5-1.5 1.5 0.7 1.5-0.4 1.5-0.1 1.5-0.5 1.5 1 1.5-1.1 1.5-0.4 1.5 1.1 1.5-0.6 1.5 0.6 1.5 0.3 1.5-0.6 1.5 0.4 1.5 0.4 1.5-0.5 1.5 0 1.5-0.9 1.5-0.3 1.5 2.4 1.5 0.2 1.5-0.9 1.5-1.6 1.5 1.9 1.5 0 1.5 0.6"/>
<path d="M1683.8 2142.7l1.5-0.3 1.5-0.1 1.5 0.3 1.5-0.2 1.5 1.7 1.5-1.9 1.5-0.1 1.5 1.9 1.5-0.5 1.5-1 1.5-0.1 1.5-0.2 1.5-0.7 1.5 0.6 1.5-1.3 1.5 2.2 1.5 0.5 1.5 0.4 1.5-1.8 1.5-0.5 1.5 1.8 1.5-0.7 1.5 1.1 1.5-2.4 1.4 1.1 1.5-0.6 1.5 1.5 1.5-0.9 1.5-0.8 1.5 0.8 1.5 1.5 1.5-0.6 1.5-0.4 1.5-0.7 1.5 0.1 0.6-0.5 0.3 0.9 0.4 1 0.2-2 0.2 1.1 0.4 5 0.3 2.3 0.4 4.3 0.2-1 0.2 3.6 0.4 3.3 0.3 2.6 0.4 5.3 0.2 0.4 0.2 2.1 0.4-0.5 0.3-1 0.4-4.1 0.2 0.2 0.2-2.3 0.4-2.7 0.3-2.5 0.4-2.7 0.2 0.8 0.2-3.8 0.4-0.7 0.3-2.6 0.4-3 0.2-1.9 0.2 1.5 0.4-0.4 0.3 0.2 0.6-0.4 1.5 2.2 1.5 0 1.5 2.5 1.5 2.4 1.5 1.3 1.5 0.7 1.5 0.8 1.5 1.3 1.5-0.1 1.5 0 1.5 1.5 1.5-0.7 1.5 0.6 1.5 0.4 1.5-0.7 1.5 0.2 1.5 2.2 1.5-1.1 1.5-0.1 1.5 1.4 1.5 0.3 1.5-1.1 1.5 0.7 1.5-0.7 1.5 0.9 1.5-1.6 1.5 1.5 1.5 0.2 1.5-0.9 1.5-0.3 1.5 0.9 1.5-1.2 1.5 1.2 1.4-2.4 1.5 1.1 1.5-0.1 1.5 0.3 1.5 0 1.5 1.4 1.5-1.6 1.5-0.3 1.5 1.3 1.5-0.9 1.5 1 1.5-1.6 1.5 0.7 1.5-1.3 1.5 0.6 1.5 1.1 1.5-0.6 1.5-1.4 1.5 0.4 1.5 1.5 1.5 0.4 1.5-0.3 1.5 0.2 1.5-0.3 1.5-2.8 1.5 2 1.5-0.9 1.5 2.1 1.5-1.3 1.5-0.3 1.5 2.1 1.5-0.8 1.5 0.7 1.5-0.2 1.5-0.4 1.5-1.3 1.5-0.2 1.5 1.2 1.5 0.4 1.5-2.1 1.5 1.2 1.5 0.2 1.5-1.7 1.5 1.7 1.5 0.8 1.5-1.9 1.5 1.3 1.5 0.8 1.5-2.1 1.4 1.6 1.5-0.3 1.5-1 1.5-0.5 1.5 2.7 1.5-2 1.5-0.5 1.5-0.3 1.5 1.1 1.5 0.6 1.5-1 1.5 1.6 1.5-2.4 1.5 1.5 1.5 0.8 1.5-1.4 1.5-0.7 1.5 0.4 1.5 1.5 1.5-2.2 1.5 0.8 1.5 0.4 1.5 0.1 1.5-1 1.5 0.5 1.5 0.3 1.5-0.1 1.5 0 1.5 0.1 1.5 0.1 1.5-0.2 1.5-1 1.5 2 1.5 0.6 1.5-0.8 1.5-1 1.5 0.7 1.5-0.4 1.5-0.6 1.5 0.3 1.5-0.1 1.5-0.3 1.5 0.3 1.5 0.7 1.5 0 1.5-0.2 1.5 0.7 1.5-0.5 1.5 0.5 1.5-0.3 1.5 0.9 1.4-0.3 1.5-2.2 1.5 2.3 1.5-1.6 1.5-0.1 1.5-0.4 1.5 1.2 1.5-0.6 1.5 0.4 1.5-0.4 1.5-0.1 1.5-0.4 1.5 0.7 1.5 0.5 1.5 0.1 1.5 0.3 1.5-0.9 1.5-0.5 1.5 0.8 1.5-0.7 1.5-0.6 1.5 1.6 1.5-1.5 1.5 0.7 1.5 0.9 1.5 0 1.5-1 1.5 0.3 1.5-0.6 1.5 2.1 1.5-2.5 1.5 0 1.5 1.9 1.5-0.4 1.5-2.2 1.5 1 1.5 0.8 0.7 0.1 0.4-0.3 0.4-0.6 0.3 0.9 0.4-0.7 0.4 0.9 0.4 1.2 0.3-1.8 0.4 0.6 0.4-1.5 0.4 0.8 0.3-0.3 0.4-4.3 0.4-2.3 0.4 1.4 0.3-2.8 0.4 0.1 0.4-1.2 0.4-0.9 0.3-0.1 0.4 1.3 0.4-0.3 0.4-1.4 0.3-0.3 0.4-0.4 0.4 0.8 0.4-0.1 0.3-1.2 0.4-1.4 0.4 1.9 0.4-1.3 0.3-0.3 0.4 0.5 0.4 1.9 0.4-2.9 0.3 2 0.4-1.6 0.4 1 0.4-0.7 0.3-1.5 1.2 2.2 1.5-0.8 1.4-0.7 1.5 0 1.5-0.8 1.5 0.1 1.5-0.4 1.5 0.1 1.5 0 1.5-1.4 1.5 2.2 1.5-1 1.5 0.2 1.5-0.7 1.5 3 1.5-1.7 1.5-1 1.5 0.4 1.5-1.1 1.5 2.4 1.5-3.3 1.5 1.6 1.5 0.6 1.5 0.4 1.5 0.1 1.5-0.2 1.5-0.6 1.5 0.8 1.5-1.1"/>
<path d="M1683.8 2143.4l1.5-1.6 1.5 1 1.5-0.3 1.5-1.2 1.5 1.3 1.5 0.7 1.5-0.4 1.5 0.2 1.5-0.9 1.5-1 1.5 0.1 1.5 1.5 1.5-0.1 1.5-0.9 1.5 0.3 1.5 2.5 1.5-1.2 1.5-0.3 1.5 0.2 1.5-0.6 1.5-0.4 1.5 1.4 1.5-1.7 1.5 0.7 1.4-0.6 1.5-0.9 1.5 1.9 1.5 1.2 1.5-1.2 1.5-0.4 1.5 0.4 1.5-0.2 1.5 0.6 1.5-1.2 1.5-0.8 0.6 0.6 0.3 1.4 0.4-0.8 0.2-0.4 0.2 1.7 0.4 2.3 0.3 3.6 0.4 1.1 0.2 2.3 0.2 1.9 0.4 4.9 0.3 0.8 0.4 4.6 0.2 0 0.2 1.1 0.4 0 0.3-1.3 0.4-1.4 0.2-2.3 0.2-0.9 0.4 0.8 0.3-4 0.4-3.1 0.2-0.2 0.2-2.2 0.4-0.9 0.3-2.3 0.4-1.8 0.2-1.1 0.2-1.1 0.4 1.8 0.3 1.1 0.6 1.1 1.5 0.9 1.5 3.2 1.5 2 1.5 0.8 1.5 2.3 1.5 1.5 1.5-0.2 1.5 2.3 1.5 1.7 1.5 0.4 1.5 1.6 1.5-0.4 1.5 0.1 1.5-0.4 1.5 1.1 1.5 0.4 1.5 0 1.5 0.2 1.5 0.6 1.5 1.3 1.5-1.1 1.5-0.8 1.5-0.1 1.5 0.3 1.5 0.3 1.5 0.3 1.5-0.2 1.5 0.8 1.5-2.8 1.5 1.9 1.5-0.4 1.5-0.2 1.5 1.1 1.4 0.1 1.5-0.4 1.5-0.5 1.5-0.7 1.5 1.2 1.5-0.2 1.5 0.3 1.5-0.9 1.5 0 1.5-0.5 1.5-0.4 1.5 0.6 1.5 0.6 1.5 0.2 1.5-0.7 1.5 0.4 1.5-0.5 1.5-0.4 1.5 1.2 1.5-1 1.5 0.3 1.5 1.3 1.5-1.9 1.5 0.7 1.5 0.5 1.5-1.1 1.5-0.3 1.5 1.6 1.5-0.6 1.5 0.9 1.5-0.9 1.5-0.4 1.5 0 1.5 0.2 1.5-1.3 1.5 0.5 1.5 0.4 1.5 0 1.5 0.2 1.5 0.5 1.5 0.2 1.5-0.6 1.5-0.6 1.5 1 1.5 1.1 1.5-2.2 1.5 0.8 1.5-0.9 1.5 0.4 1.4 1.1 1.5 0 1.5-0.5 1.5 1.4 1.5-3.5 1.5 2.1 1.5-0.1 1.5 0.7 1.5-1.2 1.5-0.5 1.5-0.7 1.5 1.7 1.5-1.7 1.5 1 1.5 1.4 1.5-2.1 1.5 1.4 1.5-1 1.5 0.1 1.5 0.6 1.5 0.1 1.5-0.9 1.5 1.1 1.5 0.2 1.5-1.7 1.5 1 1.5-1.4 1.5 2.5 1.5-1.1 1.5-0.1 1.5 0.7 1.5-1.9 1.5 1.2 1.5 1.4 1.5-1.9 1.5 1.6 1.5-1.3 1.5-0.2 1.5-1.6 1.5 2.3 1.5-0.5 1.5 0.5 1.5 0.1 1.5-1.1 1.5-0.4 1.5 0.3 1.5 2.8 1.5-2.8 1.5 0.8 1.5 0.8 1.5-0.3 1.4 1.1 1.5-2.2 1.5 0.5 1.5-0.2 1.5 0.8 1.5 0.1 1.5-1.3 1.5-0.2 1.5 0.7 1.5 0.1 1.5-0.7 1.5-1 1.5 1.3 1.5 0.3 1.5 0.2 1.5-0.7 1.5 0.6 1.5-0.4 1.5-0.3 1.5 1 1.5-1.5 1.5-0.7 1.5 2.2 1.5-1.2 1.5 2.1 1.5-2.1 1.5 2.1 1.5-2.6 1.5 0.4 1.5 2.1 1.5-0.9 1.5 1.1 1.5-3.1 1.5 0.2 1.5 1.1 1.5 1.1 1.5-1.1 0.7 0 0.4-0.7 0.4-0.8 0.3 0.8 0.4 0 0.4 0.9 0.4 0.1 0.3-0.9 0.4 0.8 0.4 0.3 0.4 0.6 0.3 0 0.4-9 0.4-0.7 0.4-0.8 0.3-1.8 0.4 0 0.4-1.8 0.4-0.6 0.3-0.8 0.4 0.7 0.4-2.2 0.4 1 0.3-1 0.4-1.1 0.4 0.6 0.4-3 0.3 1.2 0.4-0.1 0.4-1.2 0.4 2.4 0.3-2.9 0.4 1.6 0.4-0.4 0.4 0.9 0.3-2.8 0.4 0.8 0.4 1 0.4-1.3 0.3-1.2 1.2 1.3 1.5-1.2 1.4 0.7 1.5-0.8 1.5-1.9 1.5 1.5 1.5 0.4 1.5-1.6 1.5 2.5 1.5-1.6 1.5-0.6 1.5 2 1.5-1.9 1.5-1.3 1.5 0.5 1.5 2.1 1.5-1.3 1.5 0.9 1.5 0 1.5-1.8 1.5 1.2 1.5 0.2 1.5 0 1.5 0.9 1.5 0.2 1.5-0.9 1.5-0.4 1.5 0.2 1.5-1.3"/>
<path d="M1683.8 2141.3l1.5 0.8 1.5 1.5 1.5-0.3 1.5-0.3 1.5-0.7 1.5 0.1 1.5-0.2 1.5 2.1 1.5-1.7 1.5-0.8 1.5 0.4 1.5 0.5 1.5 0.3 1.5 0 1.5 0.5 1.5-0.8 1.5-1 1.5 1 1.5-1.2 1.5 1.5 1.5 0.1 1.5-1.4 1.5 1.9 1.5-0.6 1.4 0.8 1.5-1.1 1.5 0.8 1.5-0.2 1.5 0 1.5-0.1 1.5-1.1 1.5-0.4 1.5-1.9 1.5 2.6 1.5-0.7 0.6 1.7 0.3-0.9 0.4 0.4 0.2-0.3 0.2 0.2 0.4 3.2 0.3 2.8 0.4 2.9 0.2 1.3 0.2 0.4 0.4 4.3 0.3 0 0.4 3.3 0.2 3 0.2-0.4 0.4 0.4 0.3-0.7 0.4-2 0.2-2 0.2 0.2 0.4-2.5 0.3-1.1 0.4-3.1 0.2 1.4 0.2-2.9 0.4 0.2 0.3-2.1 0.4-2.9 0.2 1.8 0.2-0.2 0.4 0.6 0.3 1.5 0.6-0.1 1.5 0.3 1.5 5.5 1.5 2.5 1.5 1.8 1.5 2.6 1.5 4.4 1.5-0.2 1.5 0.6 1.5 1.5 1.5 3.9 1.5-0.7 1.5 0 1.5 0.9 1.5 1.7 1.5-0.5 1.5 0.3 1.5 0.9 1.5-0.3 1.5 0.1 1.5 0.7 1.5-0.2 1.5 0.2 1.5-1.8 1.5 1.1 1.5-0.6 1.5 0.5 1.5-0.6 1.5 1.2 1.5-0.6 1.5 1.1 1.5-1.2 1.5 0 1.5 1.6 1.4 0 1.5-0.6 1.5-1.3 1.5 1 1.5-0.3 1.5 1.3 1.5-4.4 1.5 2.9 1.5 0.8 1.5 0.2 1.5-2.2 1.5 1 1.5-0.4 1.5 0 1.5 0.3 1.5-0.6 1.5-1.4 1.5 2.2 1.5-0.4 1.5-0.6 1.5 0.2 1.5-0.8 1.5 0.8 1.5 0.6 1.5-1 1.5 1.9 1.5-1.4 1.5-0.2 1.5-1.3 1.5 2.1 1.5-0.4 1.5-0.2 1.5 1.1 1.5-1 1.5 0.1 1.5 0.1 1.5-0.6 1.5-1.3 1.5 1.8 1.5-0.9 1.5 0.4 1.5 0.4 1.5-0.9 1.5-0.5 1.5 0.4 1.5 0.4 1.5-0.2 1.5 0.8 1.5-1.2 1.4 0.5 1.5 0.4 1.5 0.3 1.5-0.7 1.5 1.2 1.5-0.6 1.5 0.7 1.5-2.3 1.5-0.1 1.5 0.9 1.5 1.1 1.5-0.7 1.5-1.5 1.5 0.8 1.5-0.4 1.5-1 1.5 0.3 1.5 0.7 1.5 0.6 1.5 0.5 1.5-0.3 1.5-0.6 1.5-0.3 1.5 0.6 1.5 0.2 1.5-0.4 1.5-1.1 1.5 1.1 1.5 1.6 1.5-1.2 1.5-0.2 1.5-0.7 1.5 1.7 1.5-0.3 1.5 0.3 1.5-2.1 1.5 1.1 1.5-0.5 1.5-0.1 1.5 0.8 1.5 1.4 1.5-3 1.5 2.9 1.5-1.6 1.5-0.2 1.5 0.5 1.5-0.4 1.5 0.1 1.5-0.1 1.5-0.1 1.5 1.7 1.4-0.1 1.5-2.2 1.5 1.9 1.5-1.2 1.5-1.1 1.5 1 1.5 1.2 1.5-1 1.5 0.1 1.5 0 1.5-0.5 1.5 0.9 1.5-0.8 1.5-0.8 1.5 1.4 1.5-0.7 1.5-0.8 1.5 0.7 1.5 0.8 1.5 1.4 1.5-0.7 1.5-1.4 1.5 0.5 1.5-0.2 1.5-2.8 1.5 2.3 1.5 0.9 1.5-1.7 1.5 0.1 1.5 1.1 1.5-0.4 1.5 0.2 1.5 0.4 1.5 0.6 1.5-1.8 1.5 0.2 1.5 1.5 0.7-1 0.4 0.9 0.4 0.3 0.3-1.3 0.4 0.4 0.4 0 0.4-0.2 0.3-0.3 0.4 0 0.4 1.1 0.4-0.7 0.3-0.5 0.4-10.3 0.4-2.6 0.4-0.1 0.3-2.2 0.4-1.7 0.4-0.7 0.4-0.7 0.3-0.9 0.4 0 0.4-2.5 0.4 1.2 0.3-0.1 0.4-1.7 0.4-0.2 0.4-1.6 0.3 0.2 0.4 0.1 0.4-0.3 0.4-0.3 0.3 0 0.4-1.6 0.4-1.7 0.4 1.8 0.3-0.2 0.4-0.8 0.4-0.2 0.4-0.4 0.3-1.3 1.2 0.7 1.5-0.5 1.4-0.4 1.5 0.6 1.5-0.2 1.5 0.8 1.5-1.4 1.5 0.1 1.5-0.7 1.5-0.9 1.5 2.5 1.5-2.3 1.5-0.8 1.5 1.4 1.5-0.1 1.5-1.3 1.5 0.7 1.5 0.3 1.5 1 1.5-0.2 1.5-1.1 1.5-0.2 1.5 0.7 1.5-1 1.5-0.2 1.5 2.8 1.5-1.3 1.5 0.2 1.5-0.7"/>
<path d="M1683.8 2143.4l1.5-0.4 1.5-1.2 1.5-0.3 1.5-0.2 1.5 0.4 1.5 1.2 1.5-0.2 1.5-1.1 1.5 1.4 1.5-0.9 1.5 1 1.5-1.3 1.5 0.3 1.5 1.6 1.5-0.7 1.5 0.1 1.5-1.1 1.5 0.9 1.5 1.5 1.5-1.7 1.5-0.2 1.5 1.2 1.5-2.1 1.5 0.1 1.4 2.1 1.5-1.2 1.5 2.1 1.5-1.3 1.5 0.3 1.5-0.9 1.5-0.2 1.5-0.1 1.5 0.6 1.5 0 1.5-0.8 0.6 0.8 0.3-1.6 0.4 1.3 0.2 0 0.2-0.3 0.4 3.1 0.3 1.2 0.4 2.4 0.2 1.7 0.2 2.2 0.4 1.5 0.3 2.4 0.4 1.8 0.2 1.4 0.2 1.3 0.4-0.1 0.3-1.7 0.4-0.9 0.2-1.3 0.2-0.3 0.4-1.8 0.3-0.1 0.4-3.7 0.2-0.1 0.2 0.2 0.4-0.3 0.3-1.8 0.4-0.3 0.2-1.6 0.2 0.6 0.4 1 0.3 2.5 0.6 0.4 1.5 2.9 1.5 5 1.5 2.9 1.5 2.6 1.5 2.7 1.5 4.4 1.5 4.6 1.5-0.4 1.5 1.3 1.5 3.3 1.5-1.1 1.5 2.1 1.5-0.6 1.5 2 1.5 0.3 1.5 1.3 1.5-1.1 1.5 0.5 1.5 1 1.5-1 1.5 0.9 1.5-1.7 1.5 0.9 1.5 0.4 1.5 0.2 1.5-1.7 1.5 1.4 1.5-0.4 1.5 1.2 1.5-1.5 1.5 0.5 1.5 0.7 1.5 0.2 1.4-1.7 1.5 0.8 1.5-0.6 1.5-0.1 1.5-0.7 1.5 0.1 1.5 1.5 1.5-0.2 1.5 1.4 1.5-1.7 1.5-0.3 1.5 1.6 1.5-1.4 1.5 0 1.5 0 1.5-0.2 1.5 1 1.5-0.9 1.5-1.8 1.5 1.8 1.5 0.3 1.5-0.2 1.5-1.5 1.5 2.3 1.5-2.7 1.5 2 1.5-0.9 1.5-0.2 1.5 1.2 1.5-0.4 1.5-0.9 1.5 0.7 1.5 1.1 1.5-1.7 1.5 1.4 1.5-1.4 1.5 0.4 1.5 1.2 1.5-2 1.5 0.5 1.5-0.8 1.5 0.8 1.5 0.7 1.5 1 1.5-1.6 1.5 0.9 1.5-0.6 1.5 1.4 1.5-0.3 1.4-1.6 1.5-0.2 1.5-1.4 1.5 0.5 1.5 2 1.5-1.7 1.5 0.9 1.5 1.3 1.5-1.9 1.5 1 1.5 0.3 1.5-0.1 1.5-0.8 1.5 0.2 1.5 0 1.5-0.3 1.5-0.6 1.5 1.1 1.5-0.1 1.5-0.6 1.5-0.2 1.5-0.2 1.5-0.7 1.5 3.2 1.5-3 1.5 0.6 1.5-0.6 1.5 1.6 1.5-0.9 1.5-1.1 1.5-0.1 1.5 0.3 1.5 0.7 1.5 1 1.5-0.7 1.5 1.6 1.5-1.4 1.5 0.8 1.5-0.8 1.5 0 1.5-0.7 1.5-0.2 1.5 0.2 1.5 0 1.5 0.1 1.5-1.1 1.5 1.5 1.5 0.2 1.5 0.4 1.5-0.9 1.5-0.6 1.4-0.8 1.5 1.6 1.5-0.9 1.5 0.9 1.5-0.9 1.5 1.6 1.5-1.3 1.5-0.2 1.5 2 1.5-1.3 1.5 0.6 1.5-0.9 1.5-0.2 1.5 0.2 1.5-0.5 1.5 0.3 1.5-0.3 1.5 0.7 1.5-0.8 1.5 1.6 1.5-1.6 1.5 1.1 1.5-0.3 1.5-0.4 1.5-0.1 1.5-0.6 1.5 1.2 1.5-0.6 1.5 1.1 1.5 0.3 1.5-2.5 1.5 1.4 1.5-0.7 1.5 0.5 1.5 1.2 1.5-1.9 1.5 0.1 0.7-0.1 0.4-0.6 0.4 1.5 0.3-0.3 0.4 0.7 0.4-0.2 0.4 0.2 0.3 0.1 0.4-0.2 0.4-0.6 0.4 0.8 0.3-0.2 0.4-15.3 0.4-1.3 0.4-2.2 0.3-2.1 0.4-1.9 0.4-1.8 0.4-1.1 0.3-0.3 0.4-0.9 0.4-1.1 0.4-1 0.3 0 0.4-2.2 0.4-0.2 0.4-0.5 0.3 0 0.4-2.4 0.4-0.8 0.4 1.7 0.3-2.8 0.4 1.3 0.4-1.2 0.4 1.6 0.3-1.8 0.4-1.1 0.4 0.6 0.4-1.1 0.3 0.4 1.2-1.3 1.5-1.4 1.4 1.9 1.5-1.2 1.5 0.7 1.5 0.6 1.5-0.9 1.5-1.3 1.5-0.4 1.5 0.1 1.5 0.3 1.5 0.3 1.5 0.5 1.5-0.6 1.5 0.2 1.5 1.5 1.5-2.6 1.5 1.2 1.5 0.8 1.5-1.6 1.5 0.1 1.5-1.2 1.5 2 1.5 0.3 1.5-1.6 1.5 1.1 1.5-1.2 1.5 0.5 1.5 1.8"/>
<path d="M1683.8 2142.3l1.5 1.5 1.5-1.3 1.5 3.2 1.5-3 1.5 0.1 1.5-1 1.5 0.5 1.5 1.3 1.5-0.8 1.5 0.9 1.5-0.6 1.5 0.2 1.5-3 1.5 3.1 1.5-0.2 1.5-0.5 1.5-1.6 1.5 2.5 1.5-1.9 1.5 0.3 1.5 1.5 1.5-0.4 1.5-2 1.5 3.3 1.4-0.4 1.5 0.5 1.5-1 1.5-0.8 1.5 1 1.5-1.3 1.5 0.2 1.5-0.4 1.5 0.7 1.5 0 1.5 0.4 0.6-1.5 0.3 0.8 0.4-0.8 0.2 1.7 0.2-0.6 0.4 2.1 0.3 2.8 0.4 1.4 0.2 2.1 0.2 0.1 0.4-0.6 0.3 3.6 0.4 3.2 0.2-0.7 0.2 0.4 0.4-0.7 0.3-0.2 0.4-1.5 0.2 0 0.2 0.4 0.4-1.8 0.3-0.4 0.4 0.2 0.2-2.9 0.2 1.4 0.4 0 0.3-0.9 0.4-1.6 0.2 0.7 0.2 0.5 0.4-0.7 0.3 2.9 0.6 0.5 1.5 5.3 1.5 5.3 1.5 3.2 1.5 4.6 1.5 4 1.5 4.1 1.5 3.3 1.5 5.3 1.5-0.2 1.5 1.8 1.5 0.5 1.5 0 1.5 3 1.5-1.3 1.5 2.8 1.5-0.6 1.5 0.3 1.5 2.8 1.5-2.9 1.5 2.6 1.5-0.8 1.5 0.7 1.5-0.2 1.5 0.4 1.5-0.7 1.5-1.6 1.5 2.2 1.5-1.9 1.5 0.4 1.5-0.3 1.5 0.2 1.5-0.3 1.5 0 1.4 1.5 1.5 0.3 1.5-2.2 1.5 0.4 1.5-1 1.5 1.3 1.5 0.2 1.5 0.6 1.5 0.8 1.5-2 1.5-1 1.5 1.4 1.5-0.9 1.5-0.1 1.5 2.1 1.5-1.7 1.5 1.2 1.5-1.2 1.5-0.4 1.5 0.7 1.5-0.2 1.5-1 1.5-0.9 1.5 2.6 1.5-0.6 1.5 0.3 1.5 0.3 1.5-1.4 1.5 0.9 1.5-1.5 1.5-0.1 1.5 1.1 1.5 0.8 1.5-1 1.5 0 1.5 0.5 1.5-1.6 1.5 1.1 1.5 0.8 1.5-1.5 1.5 1.8 1.5-2.2 1.5 1 1.5-1.4 1.5 1.1 1.5 1.3 1.5-0.7 1.5-0.8 1.5 0.6 1.4-0.2 1.5-0.7 1.5 1.7 1.5-0.9 1.5 0.5 1.5-1 1.5-0.5 1.5 0.6 1.5 0.8 1.5-0.5 1.5 0 1.5-0.8 1.5-0.1 1.5 0.1 1.5-0.3 1.5 1.3 1.5 0.2 1.5 0.3 1.5-2 1.5 0.5 1.5 0.9 1.5-1.4 1.5 0.9 1.5 0.1 1.5 0.3 1.5-0.9 1.5-0.2 1.5 0.1 1.5 0.4 1.5-0.1 1.5-0.1 1.5 0.2 1.5 1.9 1.5-1.8 1.5 0 1.5-0.7 1.5 0.6 1.5-0.2 1.5 0.2 1.5 0.3 1.5 0.7 1.5-0.9 1.5-0.6 1.5-0.2 1.5-0.8 1.5-0.3 1.5 1.2 1.5-0.1 1.5 0.5 1.5-0.4 1.5 0.8 1.4-0.4 1.5-0.5 1.5-0.5 1.5 1.1 1.5-0.2 1.5-1.2 1.5 1 1.5-0.5 1.5-0.5 1.5 0.7 1.5 0.3 1.5-1.4 1.5 1.4 1.5-0.6 1.5 1 1.5-2.2 1.5 1.8 1.5-1.7 1.5 1.6 1.5-0.1 1.5 0.9 1.5-0.2 1.5-1 1.5-0.7 1.5 1.3 1.5-0.5 1.5-0.8 1.5 0.8 1.5 0.4 1.5-0.6 1.5 0.2 1.5 0.2 1.5-1 1.5 2.2 1.5-2.9 1.5 1.1 1.5 1.2 0.7-1.4 0.4 0.3 0.4-0.8 0.3 0.2 0.4 0.8 0.4-0.6 0.4-0.7 0.3-0.1 0.4 0.9 0.4 0.3 0.4 0.7 0.3-1 0.4-19.6 0.4-1.9 0.4-0.3 0.3-3.3 0.4-1.6 0.4-2.2 0.4-1.3 0.3-1.5 0.4-1.3 0.4-2 0.4 0.2 0.3-1.9 0.4-0.1 0.4-2.1 0.4-0.6 0.3-0.6 0.4-1.3 0.4-0.4 0.4-1.1 0.3 1.5 0.4-1.7 0.4 0.1 0.4-2.1 0.3 0.3 0.4 0.3 0.4-1.4 0.4 0.6 0.3-0.6 1.2-0.4 1.5-1.9 1.4 0.3 1.5-1.5 1.5 1.4 1.5-1 1.5 0.7 1.5-1.6 1.5 0.8 1.5 0.6 1.5-1.5 1.5-0.1 1.5 0.7 1.5 0.5 1.5-0.8 1.5-1.1 1.5 2.1 1.5 0.6 1.5-1.3 1.5 1 1.5 0.3 1.5-1.6 1.5-0.1 1.5-0.4 1.5 0.4 1.5-0.2 1.5 0.4 1.5-1.1 1.5 1.5"/>
<path d="M1683.8 2142.6l1.5 0.5 1.5 0.3 1.5 0.7 1.5 0 1.5-1.8 1.5 0.8 1.5 0.2 1.5-0.2 1.5-0.9 1.5-0.6 1.5 1.1 1.5 0.8 1.5-0.3 1.5-0.3 1.5-0.7 1.5 0.4 1.5-0.5 1.5 1.7 1.5-1.4 1.5-1.1 1.5 1.1 1.5 0.5 1.5-0.5 1.5-0.5 1.4 0.5 1.5-0.6 1.5 2.2 1.5-1.5 1.5 0 1.5-0.1 1.5 0.3 1.5 0.1 1.5-0.4 1.5 1.3 1.5-0.6 0.6-0.2 0.3-0.5 0.4 0.3 0.2 0.6 0.2-1.1 0.4 2 0.3 1.7 0.4 1.2 0.2 1.1 0.2-0.2 0.4 2.7 0.3 2.2 0.4 0.4 0.2 0.8 0.2 0.4 0.4 0.2 0.3-0.6 0.4-2.2 0.2 1.3 0.2-0.2 0.4-1.5 0.3 0.7 0.4-1.7 0.2 1.5 0.2-0.9 0.4 0 0.3 0.5 0.4 1.1 0.2-1.5 0.2 0.2 0.4 1.6 0.3 1.7 0.6 2.9 1.5 5.3 1.5 6.9 1.5 3 1.5 7 1.5 3.7 1.5 5.5 1.5 2.6 1.5 5 1.5 2.9 1.5 2.4 1.5 1.2 1.5 2.3 1.5 1.6 1.5-1.3 1.5 0.9 1.5 2.1 1.5-0.8 1.5 2.9 1.5-1.8 1.5-1.3 1.5 0.1 1.5 1 1.5-0.3 1.5 0.7 1.5-1 1.5 1.4 1.5 1.6 1.5-2.9 1.5 0.8 1.5 0 1.5-0.5 1.5-0.1 1.5 1.5 1.4-1.2 1.5 0.6 1.5-0.4 1.5-1.2 1.5 0.9 1.5 0.4 1.5-0.6 1.5 0.1 1.5-0.2 1.5-0.7 1.5 0.6 1.5 0.3 1.5-0.2 1.5 0.6 1.5-2 1.5 0.6 1.5 1.9 1.5-1.4 1.5-1.2 1.5 2.3 1.5-1 1.5-1.8 1.5 1 1.5-0.3 1.5 1.3 1.5-2 1.5 0.7 1.5-0.7 1.5 1.9 1.5-0.4 1.5 0.3 1.5-1.1 1.5 1 1.5-0.9 1.5-1.2 1.5 0.5 1.5 1.2 1.5-1 1.5 1.2 1.5-1.5 1.5 1.6 1.5-1.6 1.5-0.3 1.5 1.9 1.5-1.9 1.5-0.3 1.5-0.3 1.5 0.1 1.5 0.6 1.4-0.1 1.5 1 1.5-2 1.5 1.4 1.5-0.8 1.5 0.3 1.5 0.4 1.5 0.9 1.5-1.4 1.5 0.3 1.5 0.9 1.5-2.1 1.5 1 1.5 0.6 1.5 0 1.5-1.5 1.5 1.4 1.5-0.1 1.5 1.2 1.5-1.3 1.5 0.2 1.5-1.2 1.5-0.4 1.5 0.2 1.5 2 1.5-1.5 1.5-0.9 1.5 1.3 1.5 0 1.5-0.2 1.5 1.1 1.5-0.8 1.5-0.2 1.5-0.4 1.5 0.1 1.5 0 1.5 0.3 1.5-1.8 1.5 0.5 1.5 0.4 1.5 0.3 1.5-1 1.5 1.8 1.5-1.3 1.5 0 1.5 0.7 1.5 1.3 1.5-0.2 1.5-2.3 1.5 1.9 1.5-1.4 1.4 0.7 1.5 0.1 1.5-0.6 1.5-0.8 1.5 0.4 1.5-0.4 1.5 1.8 1.5-0.3 1.5-1.5 1.5 1 1.5 0.2 1.5 0.9 1.5-0.8 1.5 0 1.5-0.8 1.5 0.5 1.5 1.3 1.5 0.1 1.5-2.4 1.5 1.9 1.5 0.1 1.5-0.2 1.5-0.5 1.5-0.8 1.5 0.3 1.5 0.5 1.5-0.2 1.5 0.3 1.5-0.5 1.5 0.4 1.5-0.7 1.5 0.9 1.5-0.5 1.5-0.5 1.5 0.9 1.5-0.4 1.5-0.8 0.7 0.6 0.4 0.1 0.4-0.1 0.3-0.3 0.4 2.2 0.4-2.3 0.4 0.4 0.3-1.6 0.4 2.6 0.4-2.2 0.4 1.1 0.3 0.2 0.4-24.5 0.4-2.8 0.4-1.6 0.3-3.7 0.4-2.4 0.4-0.8 0.4-3.4 0.3-1.3 0.4-2 0.4-1.5 0.4-1 0.3-2.7 0.4 0.2 0.4 0.1 0.4-2.9 0.3 1 0.4-2.2 0.4-0.5 0.4 0.8 0.3-1.2 0.4-3.7 0.4 1.8 0.4 0.6 0.3-1.5 0.4-0.9 0.4-1.5 0.4 1.6 0.3-1.7 1.2-0.9 1.5-0.8 1.4-1.8 1.5 0.5 1.5 1.1 1.5-1.8 1.5 0.2 1.5-0.5 1.5-0.7 1.5 2.2 1.5-1.9 1.5-0.2 1.5 1 1.5 0.6 1.5-2.6 1.5 0.3 1.5 2 1.5-0.7 1.5 0.1 1.5-0.5 1.5 0.8 1.5-1.5 1.5 0.4 1.5-0.7 1.5 0.8 1.5-1.3 1.5 2.1 1.5-1.4 1.5 0"/>
<path d="M1683.8 2142.9l1.5-0.9 1.5 2.5 1.5-3.1 1.5 2.5 1.5-1.7 1.5 1.5 1.5-1.5 1.5 1.2 1.5-0.8 1.5 0.1 1.5 0 1.5-0.3 1.5 0.4 1.5 0.2 1.5-1.3 1.5 1.4 1.5-0.3 1.5-0.5 1.5 1.1 1.5-0.4 1.5-0.3 1.5 0 1.5 0.1 1.5 0.3 1.4-0.6 1.5-0.3 1.5 1.7 1.5-0.5 1.5-0.6 1.5-0.2 1.5-0.5 1.5 0.3 1.5 0.7 1.5 0.4 1.5-1 0.6 0.8 0.3 0.2 0.4-1.4 0.2 1.2 0.2-0.1 0.4 0.7 0.3 3.2 0.4-2.8 0.2 1.6 0.2 0 0.4 2.8 0.3 1 0.4 0.4 0.2 1.4 0.2 0.3 0.4 0.6 0.3-0.5 0.4-2.2 0.2 0.4 0.2 0.2 0.4 0.6 0.3-2.2 0.4 2.3 0.2 1.6 0.2-1.9 0.4 2.7 0.3-2.3 0.4 2.2 0.2-0.1 0.2 0.4 0.4 1.9 0.3 2.5 0.6 1.2 1.5 7.4 1.5 8.1 1.5 5.8 1.5 6.7 1.5 7.3 1.5 4.6 1.5 6 1.5 4.9 1.5 0.6 1.5 3.5 1.5 1.4 1.5 2.7 1.5 1.4 1.5 1.1 1.5 0.8 1.5 0.6 1.5 2 1.5-0.9 1.5 2.4 1.5-1.8 1.5-1.5 1.5 0.1 1.5 0.5 1.5 1.7 1.5-1.1 1.5 1.2 1.5-1.6 1.5 0.9 1.5 0.3 1.5-0.9 1.5-0.6 1.5 2 1.5-1 1.4-0.5 1.5-0.1 1.5 0.8 1.5-0.7 1.5 0.5 1.5-1.4 1.5 0.4 1.5-1.1 1.5 1.8 1.5 0 1.5-0.9 1.5-0.8 1.5 0.7 1.5 0.3 1.5 1.1 1.5-1.1 1.5-0.6 1.5-0.7 1.5 2 1.5-1.7 1.5 0.1 1.5-1.5 1.5 0.7 1.5 2.2 1.5-0.9 1.5-0.3 1.5 0.3 1.5-0.2 1.5 0.7 1.5-0.8 1.5 0.3 1.5-0.5 1.5 0.1 1.5-0.6 1.5 0 1.5 0 1.5 0.2 1.5 0.8 1.5-0.9 1.5-1.3 1.5 1 1.5-0.1 1.5-0.4 1.5 0.3 1.5 0.5 1.5-0.3 1.5 0.5 1.5 0 1.5-0.8 1.4 0.3 1.5 0.5 1.5-1.1 1.5-0.4 1.5 0.6 1.5 0.3 1.5-2 1.5 1.3 1.5 0.5 1.5-1.2 1.5-0.5 1.5 2.3 1.5-0.2 1.5-0.7 1.5-0.8 1.5 1.4 1.5-2 1.5 0.8 1.5-1.2 1.5 1.2 1.5-0.3 1.5-0.3 1.5 1 1.5 0.5 1.5-0.7 1.5 1 1.5-0.2 1.5-1 1.5-0.5 1.5-0.4 1.5-0.4 1.5 1.6 1.5 0.6 1.5-2.4 1.5 1.1 1.5 0 1.5 1.2 1.5-0.3 1.5-1.5 1.5 1.1 1.5-1.6 1.5 1.8 1.5-1.9 1.5 2.1 1.5 0.2 1.5-1.1 1.5 0.3 1.5 0.1 1.5-1.1 1.5-0.2 1.5 1.6 1.4-1.7 1.5-0.5 1.5 0.1 1.5 1.1 1.5 0.2 1.5-0.3 1.5-0.3 1.5 0.9 1.5 0.5 1.5-1.4 1.5-0.1 1.5 0.1 1.5 1.1 1.5 0.4 1.5-1.1 1.5-0.7 1.5-0.5 1.5 1.2 1.5 0.8 1.5-0.3 1.5-0.5 1.5-1 1.5 1.9 1.5-0.9 1.5 0.1 1.5-0.6 1.5 0.2 1.5 0.5 1.5-1.5 1.5-0.3 1.5 0.2 1.5 0.3 1.5-0.2 1.5 0.2 1.5 0.3 1.5 1.4 1.5-1.5 0.7-0.2 0.4 0.8 0.4-1.2 0.3 0.7 0.4 1 0.4-1.8 0.4 1.5 0.3-1 0.4 1.2 0.4 0.1 0.4-1.4 0.3 0.9 0.4-29.6 0.4-3.6 0.4-3.7 0.3-4 0.4-1.2 0.4-3 0.4-1.9 0.3-3.8 0.4-0.8 0.4-1 0.4-2 0.3-3.4 0.4-0.2 0.4-2.8 0.4 1 0.3-2.5 0.4-0.3 0.4-1.2 0.4-1.1 0.3-1.4 0.4 0.1 0.4-1.2 0.4 0.2 0.3-0.8 0.4-1.4 0.4-0.8 0.4 0.1 0.3-1.8 1.2 0.9 1.5-0.8 1.4-2.8 1.5-0.1 1.5 0.4 1.5-2.1 1.5 1.1 1.5-2.4 1.5 3.3 1.5-0.9 1.5-1.2 1.5-0.6 1.5-0.2 1.5 1.6 1.5-0.4 1.5-0.4 1.5-0.4 1.5 1.1 1.5-0.3 1.5 1.3 1.5-2.3 1.5 1.7 1.5-1.2 1.5 0.2 1.5-0.1 1.5 0.6 1.5-0.8 1.5 0 1.5 1.3"/>
<path d="M1683.8 2141.7l1.5-0.1 1.5 1.3 1.5 2.2 1.5-3.1 1.5 0 1.5 0.7 1.5-0.2 1.5 0.6 1.5 0.2 1.5-1.3 1.5-0.4 1.5 0.9 1.5 0.9 1.5 0.5 1.5-1.8 1.5 0 1.5-0.5 1.5 1.3 1.5 0.2 1.5 0 1.5-1.3 1.5-0.7 1.5 2.2 1.5-0.3 1.4-0.1 1.5-0.9 1.5 1.2 1.5-1.3 1.5 0.3 1.5 0.2 1.5-0.6 1.5 1.5 1.5-0.1 1.5-1.8 1.5 1.3 0.6 0.5 0.3-0.4 0.4 0.6 0.2-1.5 0.2 1.4 0.4-0.5 0.3 0.8 0.4 1.5 0.2-1.2 0.2 1.8 0.4 0.5 0.3 0.4 0.4 2 0.2 0.9 0.2-1 0.4 1 0.3-0.3 0.4-0.3 0.2-1.5 0.2-0.7 0.4 1.9 0.3 0.6 0.4 0.4 0.2 0.2 0.2 1 0.4 1.4 0.3 0 0.4 2.3 0.2 0.9 0.2 0.7 0.4 1.8 0.3 1.6 0.6 3.1 1.5 7.9 1.5 9.5 1.5 7.9 1.5 8.1 1.5 6.7 1.5 5.5 1.5 6.9 1.5 5.7 1.5 2 1.5 3.7 1.5 2.7 1.5 4.5 1.5 0.8 1.5 0.2 1.5 1.5 1.5 1 1.5-0.5 1.5 2.2 1.5-0.1 1.5-0.4 1.5 1 1.5-0.1 1.5-0.4 1.5 0.3 1.5-0.4 1.5-1.1 1.5 1.8 1.5-0.5 1.5-0.1 1.5-0.4 1.5-0.7 1.5-1 1.5 0.1 1.4-1.1 1.5 3.3 1.5-0.7 1.5-2.7 1.5 1.8 1.5-0.2 1.5 0.3 1.5 0.1 1.5-1.6 1.5 1 1.5 0.5 1.5-0.6 1.5 0 1.5-0.6 1.5 0 1.5 0.1 1.5 0.3 1.5-0.4 1.5 0.2 1.5 0.8 1.5-1.1 1.5 1.2 1.5-1.3 1.5 0.6 1.5-2 1.5 0.8 1.5 0.7 1.5 0 1.5-1.2 1.5 1.5 1.5-2 1.5 0 1.5 0.5 1.5 0.8 1.5-0.9 1.5 0.7 1.5 1.2 1.5-0.8 1.5-1.7 1.5 1 1.5 0.2 1.5-1.5 1.5 0.5 1.5-0.2 1.5 0.3 1.5 1.3 1.5-1 1.5 1.1 1.5-2.2 1.4 1.5 1.5-2.5 1.5 2.8 1.5-0.1 1.5-1.8 1.5 2.3 1.5-1.4 1.5-0.4 1.5-2 1.5 1.8 1.5-0.1 1.5 0.4 1.5 0 1.5 0.4 1.5-1 1.5 0.7 1.5-0.1 1.5 1.1 1.5-2 1.5 0.5 1.5 0.2 1.5-0.4 1.5-1 1.5 3.2 1.5-2.9 1.5 1 1.5 0 1.5-0.8 1.5-0.3 1.5 1.8 1.5-2.2 1.5 1.5 1.5-1.7 1.5 1.2 1.5-2.6 1.5 3.4 1.5-1.2 1.5-1.1 1.5 1.8 1.5-0.9 1.5 2.2 1.5-0.5 1.5-0.3 1.5-0.9 1.5 1 1.5-1.6 1.5 0.6 1.5 2 1.5-2.9 1.5-0.5 1.5 0.3 1.4 0 1.5 1 1.5-0.1 1.5-0.4 1.5-0.1 1.5-0.6 1.5-0.9 1.5 0.6 1.5 1.2 1.5 1.8 1.5-0.7 1.5-1.6 1.5 1.1 1.5-2.5 1.5 1.9 1.5-0.2 1.5-0.6 1.5 0.9 1.5-0.4 1.5-1.3 1.5 0.1 1.5-0.6 1.5 0.3 1.5 0.1 1.5 2.5 1.5-1.4 1.5 0.6 1.5-0.6 1.5-0.4 1.5-0.2 1.5-0.1 1.5-0.4 1.5 0.3 1.5-0.6 1.5 2.2 1.5-0.2 1.5-1 0.7-0.4 0.4 1.8 0.4 0.4 0.3-2.4 0.4 1 0.4-0.8 0.4-0.2 0.3 0.3 0.4 1.1 0.4-1.4 0.4 1 0.3-1 0.4-32.9 0.4-5.7 0.4-3.4 0.3-3.2 0.4-4.1 0.4-2.7 0.4-2.6 0.3-2.8 0.4-1.3 0.4-3.2 0.4-0.9 0.3-1.8 0.4-2.8 0.4-1.7 0.4-0.6 0.3-1.2 0.4-1.2 0.4-1.7 0.4-1 0.3-2.9 0.4 1.5 0.4-1.7 0.4-1.9 0.3 0 0.4-0.5 0.4-1.9 0.4-0.3 0.3-0.6 1.2 0 1.5-2.4 1.4-1 1.5 0.3 1.5-1.8 1.5 0.1 1.5 0.3 1.5-0.7 1.5-0.3 1.5 0 1.5 0.1 1.5 1.4 1.5-1.4 1.5-0.1 1.5 1.5 1.5-2.1 1.5 0.5 1.5-0.6 1.5 0.3 1.5 0.5 1.5 1.3 1.5-1.3 1.5 0.8 1.5-0.4 1.5-0.2 1.5-0.1 1.5-0.7 1.5-0.1 1.5 0.3"/>
<path d="M1683.8 2143.3l1.5 0 1.5 0 1.5-0.5 1.5-0.6 1.5 1.1 1.5-0.1 1.5 0 1.5-1.7 1.5 1.2 1.5-0.9 1.5 0 1.5 1 1.5-0.3 1.5 0.4 1.5 0.1 1.5 0.8 1.5-0.4 1.5-0.2 1.5-1 1.5 0.9 1.5 0.4 1.5-1.1 1.5 0.8 1.5-0.2 1.4 0.5 1.5-1.4 1.5 1 1.5-0.6 1.5 1.1 1.5-0.4 1.5 2.1 1.5-3.1 1.5-1.2 1.5 3.3 1.5-2.9 0.6 0.3 0.3 0.3 0.4 1 0.2 0.1 0.2-1.4 0.4 1.8 0.3 1.1 0.4-0.1 0.2-0.6 0.2 0.5 0.4 0.5 0.3 0.1 0.4-1.2 0.2 1.5 0.2 0.1 0.4 1.3 0.3-0.8 0.4-1 0.2 0.7 0.2 0.2 0.4 1.5 0.3 2 0.4 0.3 0.2 0.9 0.2-1.1 0.4 3.8 0.3 1.3 0.4-0.2 0.2 2.8 0.2 1.1 0.4 1 0.3 3.6 0.6 3.2 1.5 10.1 1.5 9.2 1.5 10.5 1.5 8.7 1.5 9.4 1.5 6.9 1.5 6 1.5 6.2 1.5 3.7 1.5 4.5 1.5 4.9 1.5-0.6 1.5 3.8 1.5 0.6 1.5 1.5 1.5 1.4 1.5 0.4 1.5 0.6 1.5 1.4 1.5-1.1 1.5 1.6 1.5-1.8 1.5 1.5 1.5-0.8 1.5 0.3 1.5-0.7 1.5 0.7 1.5 0 1.5-0.2 1.5-0.5 1.5-0.9 1.5 1.8 1.5 1.3 1.4-2.2 1.5 0.1 1.5-0.7 1.5 0.1 1.5 0.3 1.5-0.3 1.5-0.1 1.5 0.5 1.5 0.1 1.5-0.1 1.5 0.2 1.5-1.2 1.5-0.9 1.5-0.3 1.5 1.4 1.5-0.9 1.5 1.1 1.5-0.9 1.5 0.1 1.5-1.7 1.5 1.7 1.5 0 1.5 0.3 1.5 0 1.5-1.6 1.5-0.7 1.5 1.7 1.5 0.4 1.5-0.5 1.5 0.6 1.5-1.1 1.5-1.5 1.5 1.9 1.5-0.8 1.5-0.4 1.5 1.5 1.5-1.1 1.5 0.8 1.5-1.5 1.5 0.2 1.5 0.2 1.5 1.7 1.5-1.4 1.5-0.7 1.5 0.5 1.5-1.1 1.5 0.3 1.5-0.3 1.5 0.3 1.4-0.6 1.5 1 1.5-0.2 1.5-0.9 1.5 1.4 1.5 0.4 1.5-1.9 1.5-0.4 1.5 0.3 1.5-1.4 1.5 1.7 1.5 1.5 1.5-1.1 1.5 1.2 1.5-1.5 1.5-0.4 1.5-1.2 1.5-0.2 1.5 1.2 1.5-1 1.5 0.4 1.5 1.1 1.5 0 1.5 0.8 1.5-1.1 1.5-0.1 1.5 0.4 1.5-0.7 1.5 0.5 1.5-2.1 1.5 2.7 1.5-2.1 1.5 1.3 1.5-0.2 1.5-0.7 1.5 2 1.5-1.3 1.5-1 1.5 1.7 1.5-0.1 1.5 0.9 1.5-1.7 1.5 0.8 1.5-1 1.5 0.2 1.5-0.8 1.5-0.8 1.5 2.3 1.5-0.7 1.5 0 1.5-2 1.4 1.6 1.5 0.4 1.5 0.6 1.5-1.7 1.5 1.3 1.5-0.4 1.5-1.3 1.5 0.5 1.5-0.1 1.5-0.3 1.5 1 1.5 0.3 1.5-0.6 1.5 0.4 1.5-1.6 1.5 0.3 1.5 0.4 1.5-0.3 1.5 0.6 1.5-0.2 1.5-0.9 1.5 1.9 1.5-1.5 1.5-0.7 1.5 1.6 1.5-0.7 1.5-0.1 1.5 0.2 1.5-0.9 1.5 0.4 1.5 0.2 1.5 0.3 1.5 0.6 1.5-1.5 1.5 0.7 1.5 0.4 1.5-0.4 0.7-1.7 0.4 2.1 0.4-1.4 0.3 1.6 0.4 0 0.4-2.1 0.4 2.2 0.3-1 0.4-1.2 0.4 2.7 0.4-1.3 0.3-0.3 0.4-40 0.4-5.8 0.4-4.1 0.3-3.7 0.4-4.4 0.4-2.9 0.4-1.9 0.3-4.8 0.4-3.9 0.4-1.8 0.4-1.9 0.3-0.9 0.4-2.6 0.4-3 0.4-1.4 0.3-2.3 0.4-0.3 0.4-0.2 0.4-1.5 0.3-2.7 0.4-1.4 0.4-0.3 0.4-1.3 0.3-0.8 0.4-1.2 0.4 0.6 0.4-0.6 0.3-0.8 1.2-2.3 1.5-1.7 1.4 0 1.5-2.1 1.5-1 1.5 0.6 1.5-1.2 1.5 0.8 1.5-1.2 1.5 1 1.5-1.2 1.5 1.3 1.5 0 1.5-2 1.5 0.6 1.5 0.6 1.5-1.4 1.5 2.5 1.5-2.3 1.5 0.3 1.5 0.6 1.5-0.5 1.5-0.8 1.5 0.5 1.5 0.4 1.5-0.2 1.5-0.8 1.5 1.7 1.5-1.2"/>
<path d="M1683.8 2142.3l1.5 0.8 1.5-0.6 1.5 1.1 1.5-1.4 1.5 0.3 1.5 0.1 1.5-0.2 1.5 0.7 1.5-0.5 1.5-0.3 1.5 1 1.5-0.1 1.5-1.9 1.5 1.9 1.5-0.6 1.5 0.9 1.5 0.4 1.5-2.1 1.5 0.1 1.5 1.7 1.5 0.9 1.5-1.1 1.5-2.5 1.5 1.4 1.4 0.4 1.5 0.3 1.5-0.3 1.5 0.1 1.5-0.9 1.5 0.6 1.5-0.7 1.5 1.2 1.5-1.6 1.5 1.1 1.5 0.6 0.6 0.4 0.3-0.2 0.4-0.9 0.2-0.4 0.2 1.2 0.4 0 0.3-2 0.4 1.4 0.2-0.5 0.2 0.7 0.4 0.8 0.3-0.5 0.4 0.9 0.2-0.8 0.2 0.2 0.4-0.1 0.3 0.2 0.4 0.5 0.2-1.3 0.2-0.2 0.4 0.2 0.3-0.9 0.4 0.2 0.2 1.1 0.2-0.5 0.4 0.1 0.3-0.4 0.4 1.2 0.2-1.9 0.2 1.5 0.4-0.9 0.3 1.8 0.6-0.4 1.5 1 1.5-0.6 1.5 0.6 1.5 0.4 1.5-0.9 1.5 1.2 1.5-0.4 1.5 1.3 1.5 0.5 1.5-2.8 1.5 1.2 1.5 0.3 1.5 1.2 1.5-1.1 1.5 0.3 1.5 0.1 1.5-0.9 1.5-0.3 1.5 0.7 1.5 1.2 1.5 0 1.5-0.8 1.5 1.2 1.5-0.5 1.5 0.2 1.5-1.1 1.5-0.5 1.5 0.7 1.5-0.6 1.5 0.9 1.5-0.2 1.5-0.2 1.5 0.7 1.4-0.9 1.5 1 1.5 0.4 1.5-1.2 1.5-0.4 1.5-0.6 1.5 2.7 1.5-1.9 1.5-0.8 1.5 0.7 1.5 0.9 1.5 1.2 1.5-2.1 1.5 2 1.5-2.2 1.5 1.7 1.5-0.8 1.5 1.2 1.5-1.3 1.5-1.2 1.5 1 1.5 0.2 1.5 0.1 1.5 0.5 1.5-1.4 1.5 2.1 1.5-0.5 1.5-0.7 1.5 1.1 1.5 0.2 1.5-1.2 1.5 1.2 1.5-2.7 1.5 0.6 1.5-0.5 1.5 0 1.5 0.4 1.5 1.5 1.5-1.3 1.5 0 1.5 0.4 1.5 0.7 1.5 1.6 1.5-2.6 1.5 0.6 1.5-0.8 1.5 1.9 1.5-0.4 1.5 0.3 1.4-1 1.5-0.6 1.5 0.6 1.5-1.4 1.5 0.3 1.5 0.5 1.5-0.4 1.5 1.4 1.5-0.7 1.5-1 1.5 1.7 1.5-1.3 1.5-0.6 1.5 0.6 1.5-1.3 1.5 2.4 1.5-0.3 1.5 0.6 1.5-1.7 1.5 0.8 1.5 0.2 1.5-1.1 1.5 1.7 1.5-0.9 1.5-0.6 1.5 2.4 1.5-1.9 1.5-0.2 1.5 1.8 1.5-2.4 1.5 0.9 1.5 0.7 1.5-0.4 1.5 0.4 1.5-1 1.5-0.4 1.5 0.8 1.5 0.7 1.5-0.1 1.5-0.4 1.5 0 1.5 0.5 1.5-1.7 1.5 2.9 1.5-2.1 1.5-0.9 1.5 1.9 1.5-2.1 1.5 1.9 1.5-1 1.5 0.3 1.4 1.1 1.5-1.1 1.5 0.2 1.5-0.8 1.5 0.5 1.5 0.6 1.5-0.8 1.5-1.2 1.5 1.2 1.5 0.7 1.5-0.2 1.5 0 1.5 0.5 1.5 0.9 1.5-0.7 1.5-1.9 1.5 0.3 1.5 0.6 1.5 0 1.5-1 1.5 0.3 1.5 1.3 1.5-0.3 1.5-0.5 1.5 1.1 1.5-0.8 1.5-0.1 1.5 0.2 1.5-0.1 1.5 0 1.5 0.1 1.5 0.1 1.5 0 1.5 0.3 1.5-0.4 1.5 0.5 1.5-0.3 0.7 0.2 0.4-0.4 0.4 0.1 0.3 0.8 0.4-1.7 0.4 2.1 0.4-0.9 0.3-0.3 0.4 0.2 0.4-0.8 0.4 0.4 0.3-0.8 0.4-0.8 0.4-1.6 0.4-0.4 0.3 0.5 0.4 1.5 0.4-2.1 0.4 0.2 0.3 1.6 0.4-1.5 0.4 1.9 0.4-2 0.3 0.5 0.4 0.1 0.4 0 0.4 0.5 0.3-0.1 0.4-0.9 0.4 1.9 0.4-1.9 0.3 0.4 0.4-1 0.4 0.6 0.4-1.3 0.3 0.3 0.4 1.7 0.4-0.8 0.4 1.1 0.3-1 1.2 0.1 1.5 0.6 1.4-1.2 1.5 1.3 1.5-0.6 1.5-0.5 1.5 1 1.5 0.3 1.5-0.5 1.5 0.6 1.5-1.8 1.5 0.8 1.5-0.3 1.5 0.9 1.5 0.5 1.5-1.1 1.5 0.9 1.5-0.7 1.5 0.9 1.5 0.2 1.5-1.6 1.5 0.8 1.5 0.2 1.5-1.2 1.5 2.6 1.5-2.6 1.5 0.9 1.5 1.1 1.5 0"/>
<path d="M1683.8 2142.8l1.5-0.3 1.5 0.7 1.5-0.2 1.5-0.8 1.5 0 1.5 1.3 1.5-0.1 1.5-0.3 1.5-1.8 1.5 1.8 1.5-1.4 1.5 1 1.5-1.4 1.5 0.7 1.5 0.4 1.5 0.3 1.5-0.7 1.5-0.4 1.5 1.5 1.5-0.8 1.5 1.5 1.5-0.2 1.5-0.5 1.5-1.6 1.4 0.9 1.5 0.6 1.5-1.8 1.5 2.2 1.5-0.3 1.5-0.2 1.5 0 1.5-0.3 1.5 0.4 1.5-0.8 1.5 0.6 0.6-0.1 0.3 0.5 0.4-1.3 0.2-2.2 0.2-0.3 0.4-2.5 0.3-1.7 0.4-1.3 0.2-0.8 0.2 2.3 0.4-1.1 0.3 0.5 0.4 2.8 0.2 0.9 0.2 0.2 0.4 0.2 0.3 1.3 0.4 0.3 0.2 1.5 0.2-1.5 0.4 0.5 0.3-0.1 0.4-0.2 0.2 0 0.2 0.7 0.4 1.1 0.3-1.2 0.4 0.3 0.2 0.4 0.2-0.7 0.4 2 0.3-1 0.6-0.7 1.5 0.9 1.5-0.8 1.5 0 1.5-0.7 1.5 0.8 1.5-2.4 1.5 2.4 1.5-1.4 1.5 0.4 1.5-1.5 1.5 1.9 1.5-0.4 1.5-1.3 1.5 1.2 1.5-0.5 1.5-0.2 1.5-0.8 1.5-0.2 1.5 1.9 1.5-1.6 1.5-1.3 1.5 0.3 1.5 0.6 1.5 1.5 1.5-1.9 1.5 1.4 1.5-0.8 1.5-0.2 1.5 0.5 1.5-0.8 1.5 0.6 1.5 0.3 1.5 0.3 1.4-0.3 1.5 0.4 1.5 0.3 1.5-1.7 1.5-0.4 1.5 1.1 1.5 1.1 1.5-0.6 1.5-0.4 1.5 0.8 1.5-0.7 1.5-0.4 1.5 1.3 1.5 0.3 1.5-1.9 1.5 0.3 1.5-0.3 1.5 1 1.5-0.1 1.5-1.8 1.5 0.8 1.5-0.2 1.5 0.1 1.5 1.3 1.5-0.7 1.5 1.9 1.5-2.8 1.5 2.8 1.5-2.1 1.5 0.7 1.5-1.2 1.5 0.3 1.5 0.5 1.5 0.1 1.5-0.2 1.5-0.1 1.5 0.1 1.5-0.5 1.5-0.4 1.5 1.7 1.5-1.8 1.5 2.1 1.5-1.6 1.5 1.3 1.5-2.2 1.5 1.3 1.5-0.4 1.5-1 1.5 0.7 1.4-0.4 1.5 2.4 1.5-0.6 1.5-0.7 1.5 0.5 1.5 0.1 1.5 0 1.5 0.4 1.5-2 1.5 0.3 1.5 0.8 1.5-0.9 1.5 1.8 1.5-3.4 1.5 2.9 1.5-1.4 1.5 1.6 1.5-0.9 1.5-0.4 1.5-0.3 1.5 1.6 1.5-0.4 1.5 0.1 1.5-1.6 1.5 1.6 1.5 0.5 1.5 0.7 1.5 0.6 1.5-0.6 1.5-1.8 1.5 1.4 1.5-0.6 1.5 0.2 1.5 0.4 1.5-0.3 1.5-1 1.5 0.7 1.5-0.9 1.5 0.4 1.5 1.4 1.5-0.9 1.5-1.1 1.5-0.6 1.5 2.4 1.5-1.5 1.5-0.5 1.5-1 1.5 2.1 1.5-1 1.5 1.6 1.5-1.7 1.4 0.3 1.5 1.9 1.5-0.8 1.5-0.3 1.5-0.4 1.5 0.1 1.5-0.2 1.5 0 1.5 1.2 1.5 0.2 1.5-1.4 1.5 1.3 1.5-0.5 1.5-0.4 1.5-1.4 1.5 1.2 1.5-1.1 1.5 0.6 1.5 1.4 1.5-2.2 1.5 1.8 1.5-1.4 1.5 0.7 1.5 0.7 1.5 1 1.5-1.8 1.5 0.5 1.5-2 1.5 2.4 1.5-0.5 1.5 0.5 1.5 0.1 1.5-1.6 1.5 0 1.5 2 1.5-0.5 1.5-0.2 0.7 0.4 0.4-1.4 0.4 0.7 0.3 0.4 0.4-0.5 0.4-0.2 0.4 0.5 0.3 0 0.4-0.6 0.4-0.1 0.4 1.1 0.3-1.1 0.4 7.4 0.4-1.5 0.4-1.2 0.3-1 0.4 1.1 0.4 0.1 0.4-1.8 0.3 0.6 0.4 1 0.4 0.2 0.4 1.6 0.3-2.5 0.4 1.3 0.4-1 0.4 1.3 0.3-0.5 0.4-1.5 0.4 0.3 0.4-1.9 0.3 1.6 0.4-0.8 0.4 1.1 0.4 0.4 0.3 0.1 0.4-0.3 0.4-0.5 0.4-1.3 0.3 1.7 1.2 0.9 1.5-0.9 1.4 1.4 1.5-1.8 1.5 2.5 1.5-0.3 1.5-2.2 1.5-0.1 1.5 1.1 1.5-0.6 1.5-0.4 1.5-0.1 1.5 1.3 1.5-0.8 1.5 1.5 1.5-0.6 1.5-0.3 1.5-0.6 1.5-0.7 1.5 0.8 1.5 0.2 1.5-0.4 1.5 0.3 1.5 0.1 1.5-1.3 1.5 0.8 1.5-0.5 1.5 1.9 1.5-0.5"/>
<path d="M1683.8 2142.2l1.5-0.9 1.5 1.8 1.5-0.6 1.5-0.3 1.5-0.7 1.5 2.1 1.5-1.1 1.5 0.3 1.5-0.6 1.5-0.6 1.5 1.7 1.5-0.4 1.5-0.6 1.5-0.1 1.5 1.9 1.5-3.8 1.5 2.7 1.5 0 1.5-0.4 1.5-0.4 1.5 0.5 1.5-1 1.5 0.9 1.5 0.1 1.4 0.4 1.5-0.7 1.5-1 1.5 1.1 1.5-0.8 1.5 0.9 1.5-1.2 1.5 1.4 1.5 1.7 1.5-1.3 1.5-0.4 0.6 0 0.3-0.6 0.4-1.8 0.2-1.9 0.2-3.2 0.4-3.8 0.3-5.9 0.4-3.4 0.2 0.1 0.2 1.6 0.4 2.6 0.3 1.1 0.4 3.3 0.2 2.1 0.2-0.4 0.4 2.9 0.3 2.2 0.4-0.4 0.2 2 0.2-1.4 0.4 0.8 0.3 0.5 0.4 0.4 0.2 0.8 0.2 0.2 0.4-0.3 0.3 0.4 0.4-0.3 0.2 1.6 0.2-1.2 0.4-0.4 0.3 2.7 0.6-2.4 1.5 0.3 1.5 0 1.5-0.6 1.5-1.3 1.5 1.7 1.5-2.6 1.5 0 1.5-0.8 1.5 2.1 1.5 0.1 1.5-2.8 1.5 1.3 1.5-1.7 1.5 0.3 1.5 0.7 1.5 0.2 1.5-2.2 1.5 0.7 1.5 1 1.5-1.5 1.5 1.3 1.5-1.4 1.5 1.4 1.5-1.1 1.5-0.6 1.5 1.4 1.5-1.1 1.5 1.2 1.5-1.6 1.5 1.3 1.5-0.6 1.5 0.8 1.5-1.6 1.4-1.9 1.5 3.1 1.5-0.2 1.5 0.1 1.5 0.5 1.5 0.3 1.5-1.9 1.5 2.1 1.5-2.5 1.5 1.9 1.5-0.1 1.5-0.1 1.5 0.3 1.5-0.7 1.5 0.2 1.5 0.9 1.5-1.2 1.5 0.4 1.5-1.4 1.5 0 1.5 2.2 1.5-1.3 1.5-0.2 1.5 0.7 1.5 0.1 1.5-0.6 1.5 0.1 1.5 1 1.5-1 1.5 0.1 1.5-0.6 1.5 0.8 1.5 0.9 1.5-1.1 1.5-0.4 1.5 1.3 1.5-1 1.5-0.3 1.5 0.8 1.5 0.6 1.5-1.5 1.5-1.3 1.5 0.2 1.5 1.9 1.5 0.2 1.5 0.4 1.5-1.1 1.5 0.4 1.5 0 1.4-1 1.5 0.9 1.5-1.7 1.5 1.6 1.5 0 1.5 0.5 1.5-1.8 1.5 1 1.5-0.7 1.5 1.5 1.5-0.6 1.5-0.6 1.5 1.9 1.5-1.6 1.5-0.2 1.5 1.4 1.5-1.4 1.5 1.2 1.5-0.3 1.5 0 1.5-1.2 1.5 1.4 1.5-0.3 1.5-0.5 1.5 0.7 1.5-1.2 1.5 1.2 1.5-0.3 1.5-0.2 1.5-0.2 1.5 0 1.5-1.2 1.5 2.1 1.5-1.5 1.5-1.2 1.5 1.6 1.5 0.2 1.5 0.3 1.5-0.3 1.5-0.4 1.5 0 1.5 1.1 1.5-1.3 1.5 0.7 1.5 1.2 1.5 0.4 1.5-2.1 1.5 0.7 1.5-0.6 1.5 1.6 1.5-2.1 1.4 1.3 1.5 0.9 1.5-0.5 1.5-1.6 1.5-0.5 1.5 1.2 1.5 0.6 1.5-1.6 1.5 0.2 1.5 3 1.5-2.1 1.5-0.4 1.5 0.6 1.5-1.7 1.5 2 1.5-1.1 1.5 0.9 1.5-0.4 1.5-0.2 1.5-0.3 1.5 1.3 1.5-1.6 1.5 0.5 1.5-0.9 1.5 2.5 1.5-0.6 1.5-0.9 1.5 0.5 1.5 1.5 1.5-0.4 1.5 0.4 1.5-1.5 1.5-0.4 1.5 3 1.5-2.8 1.5-0.6 1.5 1.2 0.7 0 0.4-1.4 0.4 2.8 0.3-2.2 0.4-0.4 0.4 0.7 0.4-0.6 0.3-0.6 0.4 1.4 0.4-0.8 0.4 0.4 0.3 0.1 0.4 10.2 0.4-1.2 0.4 1.8 0.3-1.7 0.4 1.7 0.4-1.9 0.4-0.6 0.3 1.3 0.4 0.9 0.4-1.9 0.4 0.7 0.3-1.8 0.4-0.5 0.4 0.5 0.4 0.1 0.3 1.2 0.4-0.5 0.4-0.8 0.4 1.1 0.3-1.7 0.4 1.7 0.4-1.2 0.4 0.3 0.3-0.5 0.4 2 0.4-1.9 0.4 0.7 0.3 0.4 1.2-0.7 1.5 0.4 1.4-1.5 1.5 2.3 1.5-2.3 1.5-0.8 1.5 1.5 1.5-0.2 1.5 0.1 1.5-0.5 1.5 0.2 1.5 0.8 1.5-1.1 1.5 0.4 1.5 0.7 1.5-0.9 1.5-0.1 1.5 0.7 1.5-1.4 1.5 1.8 1.5 0.3 1.5-2.8 1.5 3.4 1.5 0.2 1.5-2.2 1.5 0.6 1.5-0.2 1.5 1.3 1.5-0.3"/>
<path d="M1683.8 2142.8l1.5-0.7 1.5 0.7 1.5 1.4 1.5-1.8 1.5 1.9 1.5-2.1 1.5-0.2 1.5 1.4 1.5-1.8 1.5 0.6 1.5 0.6 1.5-0.1 1.5 0.2 1.5-1.2 1.5 1 1.5-0.9 1.5 0.1 1.5 1.3 1.5-0.8 1.5 0.4 1.5-1.5 1.5 1.8 1.5-0.3 1.5-0.1 1.4 1.2 1.5-0.8 1.5-0.5 1.5 1.6 1.5-2.3 1.5 1.7 1.5-2.3 1.5 0.8 1.5 0.6 1.5-0.2 1.5 1.6 0.6 0 0.3-2.6 0.4-3 0.2-3 0.2-3 0.4-8 0.3-6.3 0.4-5.6 0.2 0.9 0.2 0.3 0.4 4 0.3 3.3 0.4 3.8 0.2 2.2 0.2-0.2 0.4 4.3 0.3 4.1 0.4-0.3 0.2 0.6 0.2 2.2 0.4-0.7 0.3 0.1 0.4 0.2 0.2 1.2 0.2-0.4 0.4 2.1 0.3-1.3 0.4 0 0.2 2.3 0.2-0.2 0.4-1.4 0.3 2.4 0.6-0.4 1.5-1.8 1.5 1.9 1.5-0.5 1.5-1.7 1.5-3.8 1.5 2.8 1.5-1.5 1.5-1.5 1.5 1.2 1.5-1.1 1.5-1 1.5-1.8 1.5 1.4 1.5-1.8 1.5 1.2 1.5-0.9 1.5-0.5 1.5 1.4 1.5-1.4 1.5-0.3 1.5-0.8 1.5 1.1 1.5-0.9 1.5 0.2 1.5 1.1 1.5-0.9 1.5 0.6 1.5-1.3 1.5 2.3 1.5-2.1 1.5 1.2 1.5-0.7 1.5 0 1.4 1.9 1.5-0.7 1.5-0.2 1.5-1.9 1.5 2 1.5-1.2 1.5-0.4 1.5 0.6 1.5 1.8 1.5-0.6 1.5-1 1.5 0.3 1.5 0.5 1.5-1 1.5 0.4 1.5-0.3 1.5-0.9 1.5 1.6 1.5-0.5 1.5 1.3 1.5-0.8 1.5-0.7 1.5-1.7 1.5 2 1.5-0.4 1.5 1 1.5-0.2 1.5-0.3 1.5-0.1 1.5 0.3 1.5-1.2 1.5 1 1.5 0.5 1.5-2.1 1.5 2.7 1.5-2 1.5 0.4 1.5 0.5 1.5 0.2 1.5 0.3 1.5 0.6 1.5-1.9 1.5-0.8 1.5 2.6 1.5-0.3 1.5-0.7 1.5-0.1 1.5-0.6 1.5 1.2 1.4 0.8 1.5-1.4 1.5 0.5 1.5-0.4 1.5 0.9 1.5-1 1.5-1 1.5 1 1.5-0.8 1.5 2 1.5-2 1.5 1.3 1.5-0.6 1.5 1.4 1.5-2 1.5 1 1.5-1 1.5 0.6 1.5 0.9 1.5-1.7 1.5-0.1 1.5 0.9 1.5 0.4 1.5-0.8 1.5 0.3 1.5 0.9 1.5 0.4 1.5-1.7 1.5 1.2 1.5 0.2 1.5-0.9 1.5 0.1 1.5 0.8 1.5-0.2 1.5-0.6 1.5 2.5 1.5-1.9 1.5 0.5 1.5-1.6 1.5 0.8 1.5-0.7 1.5 0 1.5 1.2 1.5-1.6 1.5 0.9 1.5-0.2 1.5 1.5 1.5-1.1 1.5-0.7 1.5 0.8 1.5-1.2 1.4 1.6 1.5-0.1 1.5 0.3 1.5 0 1.5 1.1 1.5-1.1 1.5-2.3 1.5 1 1.5 0.7 1.5-1.5 1.5 1.6 1.5 0.2 1.5 0 1.5-1.4 1.5 0.4 1.5 0.6 1.5 0 1.5 0.2 1.5-0.9 1.5-0.1 1.5 0 1.5 0 1.5 0.2 1.5 0.9 1.5 0.3 1.5-0.1 1.5-0.2 1.5-2.2 1.5 1.3 1.5-0.5 1.5 1.3 1.5-1.2 1.5 0.7 1.5-0.9 1.5 2.1 1.5-2.4 1.5 0.9 0.7 0.9 0.4-0.9 0.4 1.1 0.3-1.5 0.4-0.2 0.4 1.3 0.4 0 0.3-0.5 0.4 0.2 0.4-1 0.4 1.5 0.3-0.2 0.4 16.2 0.4-1.7 0.4-0.6 0.3-0.5 0.4 2 0.4-3.3 0.4 3.7 0.3-2.7 0.4-0.2 0.4-0.3 0.4-2 0.3 0.7 0.4-0.2 0.4 1.4 0.4-2.6 0.3 2.5 0.4-1.5 0.4-0.8 0.4 0.5 0.3 0.2 0.4-0.4 0.4 1.3 0.4-1.5 0.3 0.5 0.4-0.8 0.4 0.9 0.4-1 0.3 1.5 1.2-1.7 1.5-0.3 1.4 1.8 1.5-0.3 1.5 0.3 1.5-0.9 1.5 1.5 1.5-1.5 1.5 0.4 1.5-0.8 1.5 0.3 1.5-1.8 1.5 1.2 1.5 0.3 1.5-0.2 1.5-0.4 1.5 0.5 1.5 0.7 1.5-1.3 1.5 0.3 1.5 2.3 1.5-1.1 1.5-0.9 1.5-1 1.5 0.4 1.5 0.7 1.5 0 1.5-0.4 1.5 0.6"/>
<path d="M1683.8 2143.1l1.5-0.4 1.5-1 1.5 3 1.5-2.9 1.5 1.6 1.5-0.7 1.5-1.4 1.5 1.9 1.5 1.4 1.5-3.2 1.5 1.4 1.5 0 1.5-0.6 1.5 1.4 1.5-0.1 1.5 0.4 1.5-1.2 1.5 0.6 1.5-0.5 1.5-0.5 1.5 1.1 1.5-0.3 1.5-0.6 1.5 1.6 1.4-2.7 1.5-0.2 1.5 1.6 1.5-0.7 1.5 0.1 1.5 1.7 1.5-0.7 1.5-0.6 1.5 0.5 1.5-1.7 1.5 1 0.6 0.1 0.3 1.3 0.4-5 0.2-5.8 0.2-5.3 0.4-6.8 0.3-9.8 0.4-9.4 0.2 1.7 0.2 2.1 0.4 4.4 0.3 5.2 0.4 5.9 0.2 1.8 0.2-0.1 0.4 6.8 0.3 2.1 0.4 3.4 0.2-0.9 0.2 1.1 0.4 0.6 0.3-0.4 0.4 1.8 0.2-0.2 0.2 2.6 0.4-0.1 0.3-1.5 0.4 1.2 0.2 1.4 0.2 0 0.4 0.5 0.3 0.2 0.6-0.3 1.5-1 1.5-1.1 1.5-1.9 1.5 0.6 1.5 0.6 1.5-3.3 1.5-1.9 1.5-0.9 1.5 0.7 1.5-0.9 1.5-2.3 1.5 2.9 1.5-2 1.5-0.3 1.5 0.7 1.5-1.4 1.5 0.1 1.5 0.7 1.5-0.8 1.5-2.1 1.5 1.7 1.5 0.3 1.5-1.5 1.5 0.8 1.5-0.3 1.5 0 1.5 0.6 1.5-0.7 1.5 1.3 1.5-1.1 1.5 0.8 1.5-2 1.5 0.7 1.4-0.5 1.5 0.7 1.5-0.4 1.5 1.5 1.5 1 1.5-2.8 1.5 1.1 1.5 0.1 1.5 2.2 1.5-4.2 1.5 2 1.5-0.1 1.5 0.6 1.5-1.1 1.5 0.6 1.5 2.8 1.5-1.9 1.5-1.2 1.5 0.1 1.5 1.6 1.5-1.6 1.5 0.6 1.5 2.1 1.5-2.9 1.5 1.3 1.5 0.1 1.5-1 1.5 1.9 1.5-2.2 1.5-0.4 1.5 1.3 1.5-1.4 1.5-0.1 1.5 2.4 1.5-0.6 1.5-0.7 1.5-0.2 1.5 1.2 1.5-0.3 1.5-0.7 1.5-0.5 1.5 0.3 1.5-0.8 1.5 0.3 1.5 0.2 1.5 0.6 1.5 0.8 1.5-2.7 1.5 2.5 1.4-0.3 1.5-0.7 1.5 1 1.5-1.1 1.5 0.8 1.5-0.5 1.5-1.5 1.5 1.4 1.5 0.1 1.5-0.9 1.5 0.6 1.5-0.2 1.5 1.6 1.5-0.5 1.5-1.4 1.5 1.2 1.5-0.1 1.5-1.9 1.5 1.9 1.5-1.2 1.5 0.7 1.5 0.2 1.5-0.2 1.5 0.4 1.5 0.7 1.5-1.7 1.5 0.9 1.5-1.3 1.5 1 1.5 0.5 1.5 1.6 1.5-1.8 1.5-0.7 1.5 0.9 1.5-0.4 1.5 1.8 1.5-2.1 1.5 0.6 1.5 1 1.5-2.3 1.5 0.7 1.5 0.4 1.5 0.2 1.5 0.1 1.5-0.1 1.5-0.6 1.5 0.6 1.5-0.5 1.5-0.9 1.5 1 1.5-0.3 1.4-0.4 1.5 0.9 1.5-0.4 1.5 0.2 1.5 0.6 1.5 0.1 1.5-2.9 1.5 2.5 1.5-0.7 1.5 1 1.5 0.3 1.5 1 1.5-1.6 1.5-1.6 1.5 1.3 1.5 1 1.5-1.4 1.5 0.2 1.5 0.3 1.5 1.2 1.5-1 1.5-1.1 1.5 1.1 1.5-1.5 1.5 1.1 1.5 0.5 1.5-0.2 1.5-1.2 1.5 2.6 1.5-0.8 1.5 0.4 1.5-1.1 1.5-0.4 1.5 0.4 1.5 0.8 1.5-1 1.5 1.8 0.7-2.3 0.4 1.3 0.4-1.8 0.3 1.8 0.4-1.8 0.4 0.4 0.4 0.7 0.3 2.1 0.4-1.7 0.4-0.7 0.4 1.2 0.3-1.6 0.4 23.3 0.4-0.8 0.4-3.1 0.3 1.5 0.4 0.1 0.4-0.9 0.4-1.5 0.3 1.5 0.4-1.3 0.4-0.7 0.4 0.1 0.3-0.8 0.4 1.1 0.4-2.3 0.4 0.3 0.3-0.8 0.4 0.1 0.4-0.2 0.4 1.1 0.3-0.9 0.4 1 0.4-1.2 0.4 1.2 0.3-1.8 0.4-0.2 0.4 1.5 0.4-0.4 0.3 0.1 1.2 0.8 1.5-1.5 1.4 1.2 1.5-0.6 1.5-0.1 1.5-1.1 1.5-0.5 1.5 0.2 1.5 1 1.5-1.1 1.5-0.8 1.5 2.5 1.5-2.7 1.5 0.9 1.5 0.7 1.5-0.1 1.5 0.5 1.5-0.7 1.5-2.1 1.5 3.8 1.5-1.5 1.5 0.2 1.5 1 1.5-1.2 1.5 0.2 1.5-1.6 1.5 1.5 1.5-0.9 1.5 1"/>
<path d="M1683.8 2142.6l1.5 0.5 1.5-0.5 1.5-1.7 1.5 2.4 1.5 0.3 1.5-2.1 1.5 2.1 1.5 0.3 1.5-0.5 1.5-1 1.5-0.4 1.5 1.1 1.5-0.7 1.5 1.4 1.5-1.8 1.5 0.4 1.5 0.5 1.5-0.1 1.5-1.2 1.5 1.1 1.5 0.5 1.5-1.4 1.5 1.9 1.5-0.2 1.4-1.5 1.5 1.3 1.5 0.6 1.5 0 1.5-1.2 1.5 0.1 1.5 0.8 1.5-1.1 1.5 1.3 1.5 0.5 1.5-1.6 0.6 1.9 0.3-1.5 0.4-7.2 0.2-4.6 0.2-4.2 0.4-13.2 0.3-11.3 0.4-12.3 0.2 2.8 0.2 2.4 0.4 6.6 0.3 4.2 0.4 5.5 0.2 4.8 0.2 1.9 0.4 5 0.3 6.3 0.4-0.2 0.2 0.8 0.2 1.7 0.4 1.3 0.3 1.2 0.4 1.3 0.2-1.8 0.2 2.3 0.4 1.3 0.3 1.3 0.4 0.5 0.2-0.6 0.2 0.7 0.4 3.2 0.3-2.1 0.6-0.6 1.5-1.2 1.5-1.7 1.5-0.6 1.5-2.8 1.5 1.4 1.5-2.7 1.5 0.5 1.5-1.2 1.5-2.7 1.5-0.2 1.5 0.6 1.5-1.6 1.5 1.4 1.5-1.3 1.5-0.4 1.5 0.4 1.5-2.1 1.5 1.4 1.5-1.2 1.5-1.4 1.5 0.6 1.5 1 1.5-0.3 1.5-0.8 1.5 1.4 1.5-1.6 1.5 0 1.5-0.7 1.5 1 1.5 0 1.5 1.5 1.5-1.6 1.5-0.6 1.4 0.7 1.5 0.2 1.5 0.3 1.5 0.1 1.5-0.6 1.5 1.2 1.5-1.7 1.5 0.8 1.5-0.6 1.5 0.6 1.5-0.2 1.5 1 1.5-2.7 1.5 0.8 1.5 0.7 1.5 1 1.5-2.4 1.5 1.2 1.5 0.5 1.5 0.4 1.5-0.4 1.5-1.2 1.5 1.8 1.5-0.6 1.5-0.1 1.5-0.5 1.5-0.4 1.5 0.8 1.5-0.2 1.5 0 1.5 0.9 1.5-0.6 1.5 1 1.5-1.2 1.5 0.2 1.5-0.2 1.5 0.7 1.5-2.5 1.5 1.1 1.5 1.1 1.5 0.5 1.5-0.7 1.5 0.2 1.5-0.2 1.5-0.3 1.5 1.2 1.5-0.3 1.5-0.7 1.5 1.7 1.4-3.5 1.5 1.1 1.5 0.5 1.5-0.5 1.5 0.6 1.5 0.2 1.5-0.4 1.5 0.3 1.5-0.8 1.5 0.9 1.5-1 1.5-0.5 1.5 0.9 1.5 0.5 1.5 1.1 1.5-0.6 1.5 0.5 1.5-0.8 1.5-0.9 1.5 2.1 1.5-1.6 1.5 1.7 1.5-1.1 1.5-0.9 1.5 1 1.5-1.5 1.5 0.9 1.5 0.4 1.5-0.2 1.5 0.1 1.5-0.4 1.5 1.3 1.5-0.9 1.5 0.5 1.5-0.7 1.5 0.7 1.5-0.7 1.5-1.5 1.5-0.1 1.5 1.9 1.5-0.3 1.5-0.5 1.5 1 1.5-0.5 1.5 0.6 1.5-1.2 1.5 1.4 1.5-2.5 1.5 2.6 1.5-0.8 1.5-1.3 1.4 0.9 1.5 2.3 1.5-2.6 1.5 0.6 1.5-0.4 1.5 1.9 1.5-3.4 1.5 3.3 1.5-2.4 1.5 2 1.5 0.1 1.5-1.8 1.5 1.3 1.5-2.3 1.5 0.5 1.5 0.9 1.5 0.8 1.5-0.1 1.5-0.7 1.5 0 1.5 0.7 1.5-0.4 1.5-0.1 1.5-0.7 1.5 1.4 1.5-0.5 1.5-0.8 1.5 0.3 1.5 2.7 1.5-2.8 1.5 1 1.5-1.3 1.5 1.2 1.5 0.5 1.5-3.4 1.5 3.4 1.5 0.3 0.7-1.2 0.4-0.7 0.4 0.3 0.3 0.3 0.4 1 0.4-2.6 0.4 3.2 0.3-1.7 0.4 1.5 0.4-1.5 0.4 0.2 0.3-0.3 0.4 28.5 0.4-1 0.4 0.3 0.3-1.8 0.4-0.4 0.4-1.2 0.4 0 0.3-1.6 0.4-0.2 0.4-1.1 0.4-0.5 0.3 0.9 0.4-1.5 0.4-0.1 0.4 1.6 0.3-2.7 0.4 1.7 0.4-0.9 0.4-1.4 0.3 1.4 0.4-1.4 0.4 1.2 0.4-0.2 0.3-1.6 0.4 1.1 0.4-1.2 0.4-0.5 0.3 0.6 1.2-0.1 1.5 0.8 1.4-0.1 1.5-0.8 1.5-0.4 1.5 1.6 1.5-0.9 1.5-0.4 1.5-0.7 1.5 0.8 1.5 0.7 1.5-0.9 1.5 0.8 1.5-0.2 1.5-0.8 1.5-1.7 1.5 0.2 1.5 2.9 1.5-3.1 1.5 3.3 1.5-0.9 1.5 0.1 1.5-1.6 1.5 1.5 1.5-1.2 1.5 1.2 1.5-0.3 1.5 0.4 1.5-0.4"/>
<path d="M1683.8 2140.6l1.5 2.2 1.5 0.5 1.5 0.1 1.5 0.6 1.5-1.1 1.5-0.4 1.5 1.1 1.5-1.1 1.5 0.1 1.5 0.6 1.5 0.5 1.5-1.2 1.5 0.3 1.5 0.6 1.5 0.6 1.5-2.7 1.5 0.7 1.5 1.1 1.5 0.2 1.5-1.2 1.5 1.1 1.5-0.7 1.5 2.1 1.5-2.1 1.4-0.5 1.5-0.3 1.5 0.6 1.5-0.3 1.5 0.4 1.5 0.2 1.5 0.3 1.5 1.4 1.5-0.8 1.5-1.1 1.5 2 0.6-2.7 0.3 0.3 0.4-5.9 0.2-9.4 0.2-4.7 0.4-14.9 0.3-11.5 0.4-14.9 0.2 3.2 0.2 2.9 0.4 7.9 0.3 5 0.4 8.2 0.2 1.8 0.2 5.6 0.4 5.1 0.3 6.2 0.4 2.5 0.2 0.2 0.2-1.4 0.4 3.6 0.3-0.1 0.4 1.4 0.2 1.1 0.2 2.4 0.4 0 0.3 0.5 0.4 0.5 0.2 2.2 0.2 1.4 0.4 0.9 0.3-1.3 0.6 0.3 1.5-2.6 1.5-1.2 1.5-0.8 1.5-0.5 1.5-2.7 1.5-1.7 1.5-1 1.5-1.7 1.5 0 1.5-2.1 1.5-0.8 1.5-0.1 1.5-0.7 1.5 0 1.5-0.7 1.5-0.1 1.5-2 1.5 0.6 1.5 1 1.5-1 1.5-1.5 1.5-0.3 1.5 0.2 1.5 2.1 1.5-1.8 1.5 1.7 1.5-2.7 1.5-0.1 1.5 2.7 1.5-1.3 1.5 1.3 1.5-1.3 1.5 0.8 1.4 0.3 1.5-1.7 1.5 0.7 1.5-0.7 1.5 0.4 1.5 1.3 1.5-0.3 1.5-1.5 1.5 0 1.5 1.3 1.5-2.2 1.5 1.3 1.5-0.9 1.5 0.9 1.5-0.7 1.5 1.6 1.5-0.4 1.5 1.4 1.5-1.6 1.5 1.3 1.5-1.4 1.5 0.7 1.5 0.5 1.5-0.6 1.5 0.2 1.5 0.5 1.5-2.3 1.5 2.1 1.5-1.8 1.5-0.2 1.5 0.4 1.5 1.2 1.5 0.3 1.5 0.4 1.5 0 1.5 0 1.5-0.6 1.5-0.6 1.5-0.6 1.5 1.8 1.5-1.8 1.5 1.5 1.5-2.9 1.5 1 1.5-0.6 1.5 1.4 1.5 1.1 1.5 0.5 1.5-1.4 1.4 1.4 1.5-1.9 1.5 0 1.5 1.3 1.5-1.6 1.5 0.8 1.5-0.2 1.5-0.2 1.5 1.2 1.5-0.6 1.5 0.8 1.5-1.3 1.5 1.1 1.5-1.8 1.5 0.2 1.5 1.5 1.5-0.5 1.5 0 1.5-1.2 1.5 0.7 1.5 0.2 1.5-1.7 1.5 1.8 1.5-0.1 1.5 0.2 1.5-0.4 1.5 1.3 1.5-2.1 1.5 2.1 1.5 0.4 1.5-2.1 1.5-0.3 1.5 1 1.5 0.7 1.5 1.3 1.5-2.6 1.5 1.5 1.5-1.1 1.5 0.8 1.5-1.2 1.5 1.3 1.5-0.9 1.5 0.7 1.5-0.1 1.5 0.5 1.5-1.8 1.5 2.6 1.5-2.2 1.5 1.5 1.5-0.5 1.5-1.2 1.4 2 1.5-2 1.5 1.2 1.5-1.1 1.5 0 1.5-0.2 1.5 1.2 1.5-0.6 1.5 0.9 1.5-0.7 1.5 0.4 1.5-1 1.5-1.7 1.5 1.6 1.5 1.7 1.5-0.9 1.5 0.1 1.5 1.1 1.5-0.3 1.5-1.3 1.5 1.6 1.5-3 1.5 3.3 1.5-1.4 1.5-1.5 1.5 1 1.5-0.4 1.5 2.5 1.5-1.3 1.5 0.9 1.5-0.7 1.5-0.7 1.5 0.9 1.5-1.6 1.5 1.7 1.5-1 1.5 0.6 0.7 0.4 0.4 0.1 0.4-0.5 0.3-1.6 0.4 2.2 0.4-1.4 0.4 2.3 0.3-2.5 0.4 1.2 0.4-0.3 0.4-0.7 0.3 0.4 0.4 32.3 0.4-0.5 0.4-1.2 0.3 0.5 0.4-1.6 0.4-0.7 0.4 0.3 0.3-2.2 0.4-0.4 0.4 0.6 0.4-1.3 0.3-0.8 0.4 0.4 0.4-1.2 0.4-0.5 0.3 1.3 0.4-2 0.4-0.7 0.4 1.6 0.3-1.4 0.4 1.9 0.4 0.3 0.4-2.1 0.3 0.7 0.4-1.8 0.4-0.8 0.4 1.6 0.3 0.2 1.2-1.3 1.5-0.3 1.4-0.2 1.5 1.2 1.5-1.3 1.5 0.2 1.5 1.3 1.5-0.8 1.5-1.2 1.5 1.2 1.5 1 1.5-2 1.5-0.2 1.5 1.2 1.5-0.3 1.5-0.4 1.5 1.1 1.5-1 1.5-1 1.5 0.5 1.5 0.6 1.5 0.4 1.5-2.3 1.5 3.4 1.5-1.3 1.5 0.5 1.5 0.1 1.5-0.6 1.5 0.1"/>
<path d="M1683.8 2143.2l1.5 0.1 1.5-1.8 1.5 0.8 1.5 2.1 1.5-1.1 1.5 0.8 1.5-1.4 1.5-0.7 1.5-0.3 1.5 1.2 1.5-0.1 1.5 0.2 1.5 1.2 1.5-0.9 1.5-0.3 1.5-0.4 1.5-0.2 1.5 0.6 1.5-0.6 1.5 1.8 1.5-1.5 1.5 0.2 1.5-1.6 1.5 2.1 1.4-1.6 1.5 1.1 1.5-0.2 1.5-0.1 1.5-0.5 1.5 2 1.5 0.4 1.5-2.8 1.5 0.4 1.5-0.3 1.5 1.3 0.6-1.4 0.3 2.8 0.4-8.7 0.2-8.7 0.2-9.7 0.4-14.7 0.3-15.9 0.4-14.7 0.2 1.7 0.2 2.3 0.4 9.5 0.3 7.5 0.4 8 0.2 3.3 0.2 3.9 0.4 8.9 0.3 7.3 0.4 3.3 0.2-1.4 0.2 1 0.4 1.4 0.3 2 0.4 1.4 0.2 0.1 0.2 1.4 0.4 1.8 0.3 0.6 0.4 1.4 0.2 1.3 0.2 1.3 0.4-0.9 0.3 2.6 0.6-3.2 1.5-0.5 1.5-1.5 1.5-1.5 1.5-1.7 1.5-1.2 1.5-2.1 1.5-1.1 1.5-2.7 1.5 0.9 1.5-2 1.5-1 1.5-2.9 1.5 0.2 1.5-0.4 1.5-1.4 1.5 1.2 1.5-0.1 1.5-1.8 1.5 0.6 1.5-1.2 1.5-1.3 1.5 1.6 1.5-0.8 1.5 0.9 1.5 0 1.5-0.4 1.5-1.2 1.5 1.1 1.5-1 1.5 1.3 1.5 0.4 1.5-0.1 1.5-0.7 1.4 0.5 1.5 0.4 1.5-0.8 1.5 0.4 1.5-1.2 1.5 1.6 1.5-1.9 1.5 0.4 1.5-0.1 1.5 0.3 1.5-0.8 1.5 1.3 1.5 0.6 1.5 0.9 1.5-2.1 1.5-0.1 1.5 0.5 1.5 0.4 1.5-0.6 1.5 0.2 1.5 1.2 1.5-2 1.5 1.2 1.5 0.1 1.5-0.5 1.5-1.1 1.5 1.9 1.5-0.3 1.5 0.2 1.5 0.4 1.5 0.8 1.5-2.1 1.5 1.1 1.5-0.9 1.5-1.1 1.5 1.3 1.5 0.1 1.5 0.6 1.5-0.7 1.5 1.2 1.5 0.3 1.5-0.6 1.5-0.8 1.5 0.4 1.5-0.2 1.5 0.5 1.5 0.1 1.5-1.2 1.5-0.3 1.4-0.1 1.5 0.2 1.5 0.7 1.5 2.2 1.5-2.1 1.5-0.9 1.5 2.1 1.5 0.2 1.5-1.6 1.5 0.6 1.5 0 1.5-1.3 1.5 0.6 1.5 0.5 1.5 0.3 1.5-0.1 1.5-1.2 1.5 0.7 1.5-1 1.5 2.6 1.5-2.2 1.5 0.6 1.5 0 1.5-0.6 1.5 1.5 1.5-0.7 1.5-0.1 1.5-0.7 1.5 0.5 1.5 0.1 1.5 1.4 1.5-1.2 1.5-0.1 1.5-0.5 1.5 1.9 1.5-1.9 1.5-0.4 1.5 0.3 1.5 0.2 1.5 0 1.5 0.5 1.5 1.1 1.5-0.9 1.5-0.5 1.5 0.6 1.5-1.1 1.5 0 1.5 1.9 1.5-1.8 1.5-1 1.5 2.2 1.4-1.2 1.5-0.3 1.5 1.8 1.5-1.3 1.5-0.5 1.5 1.2 1.5-0.8 1.5 0.1 1.5-0.5 1.5 1.5 1.5-1.2 1.5-1.1 1.5 2.9 1.5-1.9 1.5-1 1.5 1 1.5 0 1.5 0 1.5 1.2 1.5 0.6 1.5-0.5 1.5-0.7 1.5-0.4 1.5 0.8 1.5-1.3 1.5-0.1 1.5 1.4 1.5-0.3 1.5 1.8 1.5-1.8 1.5-0.3 1.5-1.6 1.5 2.2 1.5-1.6 1.5 0.4 1.5 0.3 1.5-0.3 0.7-0.1 0.4 0.7 0.4-0.7 0.3 2.5 0.4-1.8 0.4-0.1 0.4-1.1 0.3 0.8 0.4 0.8 0.4 0.2 0.4 0.1 0.3-1.5 0.4 39.6 0.4-1.7 0.4 0.5 0.3-1.8 0.4-1 0.4-2.8 0.4 0.5 0.3 0 0.4-1.1 0.4-2.8 0.4 1.7 0.3-1.5 0.4 1.2 0.4-0.9 0.4-0.1 0.3-0.4 0.4-2.3 0.4 1.7 0.4-1.3 0.3 1.1 0.4-0.5 0.4-0.4 0.4-0.9 0.3 0.3 0.4 0.8 0.4-0.5 0.4-0.8 0.3 0.7 1.2-1.7 1.5 1.4 1.4-0.1 1.5-1.6 1.5-1.4 1.5-0.3 1.5 0.6 1.5 1.6 1.5-1.1 1.5 2.3 1.5-1.2 1.5-2.7 1.5 1.5 1.5 0.4 1.5 0.2 1.5-0.3 1.5 0.2 1.5 1.5 1.5-3.4 1.5 2 1.5 0.3 1.5 0.3 1.5 0.1 1.5-0.8 1.5-0.2 1.5 1.3 1.5-0.9 1.5 0.9 1.5-2.6"/>
<path d="M1683.8 2143.6l1.5-2.1 1.5 0.8 1.5 1.3 1.5-0.5 1.5-0.3 1.5 0.5 1.5 0.3 1.5-0.1 1.5 0.4 1.5-2.2 1.5 0.9 1.5 1.7 1.5-0.9 1.5-0.7 1.5-0.3 1.5-0.5 1.5 0.6 1.5-0.9 1.5 0.4 1.5 0.4 1.5 0.5 1.5-2.1 1.5 1.4 1.5 0.5 1.4-0.2 1.5-0.2 1.5-0.3 1.5 0.5 1.5 1.7 1.5-1.9 1.5 1.5 1.5-1.7 1.5-0.2 1.5 0.5 1.5 0.2 0.6 0.6 0.3 0.2 0.4-9.5 0.2-12.1 0.2-7.8 0.4-16.6 0.3-18.8 0.4-17.7 0.2 1.9 0.2 5.5 0.4 7.5 0.3 9.9 0.4 7.7 0.2 6.6 0.2 4.8 0.4 7.6 0.3 9.6 0.4 2.1 0.2 1 0.2 0.4 0.4 1.4 0.3 2.3 0.4 1.4 0.2 1.5 0.2 0.7 0.4 0.8 0.3 1.9 0.4 0.9 0.2 1.4 0.2 1.3 0.4 1 0.3-0.4 0.6-1.7 1.5-0.6 1.5-0.9 1.5-3 1.5-0.3 1.5-3.9 1.5 0.3 1.5-4.7 1.5-0.7 1.5-1.5 1.5-1.3 1.5-0.2 1.5-1.8 1.5-1.5 1.5 0 1.5 0.1 1.5-2 1.5-0.2 1.5 0.6 1.5-1.8 1.5 0.3 1.5 0.5 1.5 1.1 1.5-2.1 1.5 1.7 1.5-1.2 1.5 1.4 1.5-0.2 1.5-1.4 1.5 2.4 1.5-2.6 1.5-1.2 1.5 1.3 1.5 0.6 1.4 0.6 1.5-0.2 1.5-1.5 1.5 0.7 1.5 0.3 1.5-1.3 1.5 1.2 1.5 0.2 1.5 0.8 1.5-1.8 1.5 1.8 1.5-1.2 1.5 0.3 1.5-1 1.5-0.5 1.5-0.2 1.5 1.5 1.5 0.8 1.5 0.8 1.5-3.4 1.5 1.1 1.5 1 1.5-1.2 1.5 1.5 1.5-1.1 1.5 1.1 1.5 0.4 1.5-0.8 1.5-0.1 1.5-0.9 1.5 1 1.5-1.7 1.5 1.5 1.5 0 1.5 1.1 1.5-1.1 1.5-0.7 1.5 1.3 1.5-0.3 1.5 0 1.5-1 1.5-0.6 1.5 1.8 1.5-0.7 1.5 0.1 1.5 1.4 1.5-2 1.5 1 1.5-0.5 1.4 1.1 1.5-1.5 1.5 2 1.5-2.1 1.5-0.5 1.5 1.3 1.5 0.9 1.5-2.1 1.5 1.4 1.5 0.2 1.5-2.4 1.5 2.7 1.5-0.3 1.5-0.4 1.5-0.1 1.5 1 1.5-2.5 1.5 2.9 1.5-0.8 1.5-0.7 1.5-0.1 1.5 0.9 1.5 0.2 1.5-0.7 1.5 0.6 1.5-0.9 1.5 1.2 1.5-0.7 1.5-1.2 1.5 0.6 1.5-0.7 1.5 0 1.5 0.3 1.5 0.6 1.5 0 1.5 0.8 1.5-2.6 1.5 0.4 1.5 3.1 1.5-2.9 1.5 1.9 1.5 0.3 1.5-0.6 1.5 0.2 1.5 0 1.5 0.5 1.5-2.7 1.5 1 1.5-0.7 1.5 1.2 1.5 0.5 1.4-0.5 1.5 2.7 1.5-1.2 1.5 0.1 1.5-1 1.5-2.1 1.5 1.3 1.5-0.3 1.5-0.2 1.5 0.8 1.5 0.4 1.5 1.4 1.5-1.2 1.5 0 1.5-0.3 1.5-0.8 1.5 1.2 1.5-1.2 1.5 0.2 1.5-0.3 1.5 1.2 1.5-2.4 1.5 1.8 1.5 0.4 1.5-1.7 1.5 0.2 1.5 0.7 1.5 0.4 1.5 0.2 1.5-0.3 1.5-0.6 1.5 1.1 1.5-1.4 1.5 1.5 1.5-0.9 1.5-0.2 1.5 0.8 0.7-0.8 0.4 0.2 0.4 1 0.3 0 0.4-0.6 0.4-1.2 0.4-0.3 0.3 2.2 0.4-0.9 0.4-0.8 0.4 0.9 0.3-1 0.4 45 0.4-1 0.4-1.5 0.3-1.2 0.4-1.3 0.4 1.4 0.4-2.2 0.3-1.6 0.4-0.5 0.4-2.4 0.4 0.8 0.3-0.2 0.4-1.3 0.4-1.4 0.4 2.3 0.3-1.5 0.4-0.3 0.4-0.6 0.4-1.3 0.3 0.4 0.4-0.5 0.4-0.4 0.4 0.9 0.3 0.5 0.4-1.1 0.4-0.2 0.4 0.1 0.3-0.1 1.2-0.6 1.5-0.6 1.4-0.5 1.5-0.7 1.5 0.6 1.5 0.3 1.5-0.1 1.5-0.2 1.5 0 1.5-0.3 1.5-0.6 1.5 1.3 1.5-1.1 1.5 1.9 1.5-1.8 1.5-0.3 1.5 1.6 1.5-1.7 1.5 0.7 1.5 0.1 1.5 0 1.5-0.4 1.5 1.4 1.5-1 1.5 1.1 1.5-0.5 1.5-0.9 1.5 1.8 1.5-2"/>
<path d="M1683.8 2142.8l1.5-1.3 1.5-0.4 1.5 1.9 1.5 0.3 1.5-0.1 1.5-0.5 1.5 0.1 1.5-0.6 1.5-0.9 1.5 2.3 1.5-1 1.5 1.9 1.5-1.3 1.5 0 1.5 0.7 1.5-1.9 1.5 1.4 1.5-0.7 1.5 0 1.5-0.3 1.5 0.9 1.5 0.9 1.5-2.6 1.5 1.2 1.4 0.4 1.5-1.7 1.5 2.7 1.5-1.7 1.5 1.7 1.5-1.8 1.5 0 1.5 1.2 1.5 0 1.5-0.8 1.5-0.2 0.6-0.1 0.3 0.4 0.4-11.5 0.2-11.7 0.2-9 0.4-21.2 0.3-18.1 0.4-20.7 0.2 2.5 0.2 4.6 0.4 8.6 0.3 12.3 0.4 8.9 0.2 6.8 0.2 4.1 0.4 12.5 0.3 9.6 0.4-0.7 0.2 2.9 0.2 0.9 0.4 1.6 0.3 1.8 0.4 3.2 0.2-1.6 0.2 2.1 0.4 0.9 0.3 1 0.4 2.8 0.2 2.2 0.2-0.7 0.4 2.5 0.3-0.2 0.6-0.7 1.5-1.9 1.5-1.2 1.5-1.6 1.5-4.1 1.5-1 1.5-3.1 1.5-1.1 1.5-2 1.5-2.8 1.5 0.7 1.5-2.1 1.5-1.7 1.5-1 1.5-0.1 1.5-1 1.5 0.5 1.5-3.2 1.5 1.8 1.5-1.5 1.5 1.2 1.5-0.8 1.5 0 1.5 0 1.5-0.1 1.5-1.3 1.5 0.8 1.5 0.8 1.5-2.1 1.5 0.2 1.5 0.5 1.5-0.2 1.5 0.2 1.5 0.9 1.4-1.5 1.5 0.4 1.5 0.2 1.5-0.4 1.5 0.4 1.5 0.8 1.5-1.4 1.5 1.4 1.5 0.5 1.5-2.1 1.5 1.5 1.5-0.6 1.5-1 1.5 0.9 1.5-0.2 1.5 1 1.5 0.1 1.5 0.2 1.5-1.3 1.5 0.7 1.5 0.1 1.5-0.8 1.5 1.4 1.5-1.5 1.5-0.4 1.5 0.1 1.5-0.4 1.5 1.1 1.5 0.7 1.5-0.7 1.5 0.4 1.5 0.7 1.5-1.8 1.5 0.9 1.5-0.7 1.5-0.4 1.5 3.2 1.5-1.4 1.5-0.3 1.5-0.7 1.5 0.8 1.5-1 1.5 0.2 1.5 0.4 1.5-0.3 1.5 1.2 1.5-0.3 1.5-1.2 1.5 1.4 1.4-1.2 1.5-0.1 1.5 1 1.5 0.4 1.5-1.9 1.5-0.3 1.5-0.7 1.5 1.3 1.5-0.3 1.5 1.7 1.5-0.5 1.5-0.9 1.5 1 1.5-0.7 1.5-1 1.5 1.4 1.5-0.1 1.5 0.1 1.5-0.7 1.5-0.1 1.5 0.2 1.5 1 1.5 0.2 1.5-1.8 1.5-0.9 1.5 0.9 1.5-1.1 1.5 2.5 1.5-0.9 1.5 1.9 1.5-2.4 1.5 0.6 1.5 1 1.5 0.2 1.5-0.4 1.5-0.8 1.5 0.6 1.5 0 1.5 0.4 1.5-0.8 1.5 0.1 1.5 0.1 1.5 1.1 1.5-2.2 1.5 2 1.5-1.1 1.5-0.1 1.5 0.4 1.5 0.2 1.5-1.2 1.5 1.8 1.4-2 1.5 2.4 1.5-0.8 1.5-0.9 1.5-0.9 1.5-1.2 1.5 3.9 1.5-0.7 1.5-1.2 1.5-0.5 1.5 0.7 1.5-1.5 1.5 1.3 1.5 0.9 1.5 0.6 1.5-0.5 1.5-1 1.5 0.1 1.5 2.7 1.5-2.3 1.5 0 1.5 0.2 1.5-0.2 1.5 1.4 1.5-1.8 1.5 2.1 1.5-1.1 1.5-2.3 1.5 2.4 1.5 0.2 1.5-1.3 1.5-0.1 1.5-1.4 1.5 2.4 1.5-1 1.5 1.5 1.5-1.5 0.7 0.1 0.4 0.8 0.4-1.6 0.3 0.8 0.4-0.4 0.4 0.6 0.4-0.1 0.3 0.3 0.4-0.4 0.4-0.6 0.4 1.8 0.3-1.1 0.4 49.1 0.4-0.6 0.4-1.6 0.3-3.8 0.4 0.8 0.4-0.7 0.4-1.4 0.3-1.7 0.4 2.1 0.4-1.6 0.4-1.5 0.3-1.5 0.4-0.1 0.4-0.1 0.4-0.2 0.3-0.3 0.4-1.6 0.4 1.3 0.4 0.3 0.3-1 0.4-1.4 0.4-1.4 0.4 1.7 0.3-0.7 0.4 0.6 0.4-1.3 0.4 0 0.3-0.9 1.2 0.9 1.5-0.5 1.4-1.2 1.5 0.8 1.5-0.1 1.5-1.6 1.5 1.2 1.5-1.2 1.5 1.8 1.5-1.4 1.5-0.3 1.5 1.6 1.5-0.9 1.5 1.5 1.5-3 1.5 1.6 1.5 0.4 1.5 0.1 1.5-2 1.5 1 1.5-0.6 1.5 0.5 1.5 0.4 1.5-0.3 1.5 0.4 1.5-0.4 1.5 1.6 1.5-1.4 1.5-0.4"/>
<path d="M1683.8 2143.1l1.5-1.2 1.5 3.3 1.5-3 1.5-0.5 1.5 0.8 1.5-1.2 1.5 1 1.5-0.3 1.5-0.2 1.5 1 1.5 1.4 1.5-1.4 1.5-1 1.5 1.5 1.5 0.3 1.5 0 1.5-2.3 1.5 1.8 1.5 0.4 1.5-0.2 1.5-0.8 1.5 0.6 1.5-0.8 1.5 0.7 1.4-0.1 1.5-0.4 1.5-1.1 1.5 2 1.5 0.7 1.5-2.7 1.5 0.2 1.5 1.4 1.5-0.9 1.5 0.5 1.5-0.5 0.6 1.8 0.3-1.4 0.4-14 0.2-10.9 0.2-9 0.4-23.3 0.3-21.3 0.4-23.9 0.2 3.8 0.2 6 0.4 9.1 0.3 11.9 0.4 11.1 0.2 8.4 0.2 4.9 0.4 11.5 0.3 8.8 0.4 4 0.2 0.7 0.2 0.5 0.4 2.9 0.3 1 0.4 1.9 0.2 3.6 0.2-2.2 0.4 3.3 0.3 1.7 0.4 1 0.2 2.4 0.2-0.3 0.4 1.7 0.3 1.7 0.6-2.3 1.5-2.2 1.5-1 1.5-3.2 1.5-2.4 1.5-0.2 1.5-3.2 1.5-3 1.5-1.3 1.5-3.1 1.5 0 1.5-2.2 1.5-0.7 1.5-2.4 1.5-0.9 1.5-0.1 1.5-1.1 1.5-1.3 1.5 0.8 1.5-1.1 1.5-0.6 1.5 1.5 1.5 0 1.5 0.1 1.5-1.6 1.5 0.2 1.5-1.5 1.5 1.7 1.5-0.9 1.5 0.5 1.5 0.8 1.5-0.5 1.5-1.5 1.5 2.8 1.4-2.7 1.5 1.4 1.5-0.3 1.5 0.5 1.5-0.9 1.5 0.2 1.5 0.2 1.5 0.2 1.5 2.3 1.5-2.6 1.5 0.1 1.5-0.4 1.5-0.6 1.5 1 1.5-0.5 1.5 0.1 1.5-0.3 1.5-0.5 1.5 0.1 1.5 0.7 1.5 1 1.5-2 1.5 0.6 1.5-0.5 1.5 2 1.5 0 1.5 0.4 1.5-1.5 1.5 0.6 1.5-1.6 1.5 1.8 1.5-0.9 1.5-0.2 1.5 0.7 1.5-0.5 1.5 0.2 1.5 0.3 1.5-0.5 1.5 1.2 1.5-1.6 1.5 0.4 1.5-0.6 1.5 2.4 1.5-1.5 1.5 0.4 1.5-0.2 1.5 1.2 1.5-0.6 1.5-0.5 1.4-0.6 1.5 0.9 1.5 0.6 1.5-0.9 1.5 0.3 1.5-0.1 1.5-0.4 1.5-0.5 1.5 1.3 1.5-1.2 1.5-0.4 1.5 1 1.5-0.7 1.5 1 1.5 0 1.5-0.3 1.5 0.8 1.5-0.4 1.5 0.3 1.5-0.6 1.5-0.3 1.5-0.8 1.5 1.1 1.5 0.1 1.5-1.1 1.5 0.1 1.5 1.2 1.5 0.1 1.5-0.2 1.5-0.6 1.5 0 1.5 1.7 1.5-1.5 1.5 0.3 1.5-1 1.5 1.1 1.5 0.8 1.5-1.8 1.5-0.6 1.5-0.3 1.5 1.8 1.5-0.4 1.5 0.3 1.5 0.8 1.5-1.8 1.5-1.2 1.5 1.3 1.5 1.3 1.5-1.2 1.5 0.5 1.5-0.7 1.4 1.4 1.5 0.2 1.5-0.1 1.5-1.1 1.5 2 1.5 0.1 1.5-1.2 1.5-0.7 1.5-0.2 1.5 0.7 1.5 0.4 1.5-1.3 1.5 0.6 1.5 1.3 1.5-1.3 1.5 0.7 1.5 0.4 1.5-1.2 1.5-0.6 1.5 2.1 1.5-1.1 1.5-0.5 1.5-1.1 1.5 2.1 1.5-1 1.5 0.4 1.5-1.5 1.5 0.4 1.5 0.2 1.5 1.1 1.5-1.8 1.5 1.2 1.5 0.9 1.5 0.6 1.5-1.4 1.5 0.5 1.5-1 0.7 0 0.4-0.1 0.4-0.6 0.3 1.9 0.4-0.2 0.4 0.7 0.4-0.3 0.3-0.3 0.4 0.8 0.4-2.6 0.4 2.1 0.3-1.1 0.4 55.2 0.4-1.2 0.4-3.3 0.3-0.2 0.4-1.8 0.4-1.4 0.4-0.3 0.3-2 0.4 0.4 0.4-1.7 0.4 0 0.3-1.6 0.4 0.2 0.4-1.1 0.4-0.2 0.3-1.4 0.4 0.9 0.4-1.4 0.4 0.6 0.3-0.7 0.4-0.5 0.4 0.4 0.4-1.5 0.3 1.6 0.4-2.1 0.4-0.2 0.4-1.9 0.3 2.5 1.2-0.2 1.5-1.4 1.4 0 1.5-0.4 1.5 0.6 1.5-1.2 1.5-0.4 1.5 0.2 1.5 0.5 1.5 0 1.5-1 1.5-0.7 1.5 0.6 1.5 1 1.5-0.6 1.5 0.8 1.5-1.4 1.5 2 1.5 0.4 1.5-2.6 1.5 1.6 1.5-1.7 1.5 1.5 1.5 1.2 1.5-1.6 1.5 0.5 1.5-0.6 1.5 0.9 1.5-0.3"/>
<path d="M2006.4 2135.7l5.4-19.5 3.7-4.6 4.3 6.9 4.6 10.3 4.5 8 2.1 3.4 3.8-3.2 5.8-2.5 19.3 0 0 18.4 -19.3-1.2 -5.8-3.3 -3.8-4.7 -3.2 5.7 -4.8 10.3 -4.5 16.2 -4.6 20.7 -4.6 12.7 -2.4 2.2 -0.5-60.6z" fill="#000"/>
<path d="M1683.8 2137.8l53.5 0 0 9.8 -53.5 0z" fill="#000"/>
</g>
<text x="1875" y="1939.6" font-size="28.9" font-family="Liberation Sans, Arial, sans-serif" text-anchor="middle">Control</text>
<rect x="1664.6" y="1979" width="413.7" height="409.3" fill="none" stroke="#000" stroke-width="2.2"/>
<path d="M1737.3 2388.3v8M1790.8 2388.3v8M1844.3 2388.3v8M1897.8 2388.3v8M1951.3 2388.3v8M2004.8 2388.3v8M1664.6 1979h-8M1664.6 2060.8h-8M1664.6 2142.7h-8M1664.6 2224.6h-8M1664.6 2306.4h-8M1664.6 2388.3h-8" stroke="#000" stroke-width="2.2" fill="none"/>
<text x="1737.3" y="2433.3" font-size="29.0" font-family="DejaVu Sans, Liberation Sans, sans-serif" text-anchor="middle">0</text>
<text x="1790.8" y="2433.3" font-size="29.0" font-family="DejaVu Sans, Liberation Sans, sans-serif" text-anchor="middle">10</text>
<text x="1844.3" y="2433.3" font-size="29.0" font-family="DejaVu Sans, Liberation Sans, sans-serif" text-anchor="middle">20</text>
<text x="1897.8" y="2433.3" font-size="29.0" font-family="DejaVu Sans, Liberation Sans, sans-serif" text-anchor="middle">30</text>
<text x="1951.3" y="2433.3" font-size="29.0" font-family="DejaVu Sans, Liberation Sans, sans-serif" text-anchor="middle">40</text>
<text x="2004.8" y="2433.3" font-size="29.0" font-family="DejaVu Sans, Liberation Sans, sans-serif" text-anchor="middle">50</text>
<text x="1641.4" y="1989.6" font-size="29.0" font-family="DejaVu Sans, Liberation Sans, sans-serif" text-anchor="end">10</text>
<text x="1641.4" y="2071.4" font-size="29.0" font-family="DejaVu Sans, Liberation Sans, sans-serif" text-anchor="end">5</text>
<text x="1641.4" y="2153.3" font-size="29.0" font-family="DejaVu Sans, Liberation Sans, sans-serif" text-anchor="end">0</text>
<text x="1641.4" y="2235.1" font-size="29.0" font-family="DejaVu Sans, Liberation Sans, sans-serif" text-anchor="end">−5</text>
<text x="1641.4" y="2317" font-size="29.0" font-family="DejaVu Sans, Liberation Sans, sans-serif" text-anchor="end">−10</text>
<text x="1641.4" y="2398.9" font-size="29.0" font-family="DejaVu Sans, Liberation Sans, sans-serif" text-anchor="end">−15</text>
<text x="1871.5" y="2460.2" font-size="29.0" font-family="DejaVu Sans, Liberation Sans, sans-serif" text-anchor="middle">Time (ms)</text>
<text x="0" y="0" font-size="29.0" font-family="DejaVu Sans, Liberation Sans, sans-serif" text-anchor="middle" transform="translate(1574 2183.7) rotate(-90)">Current density (pA pF<tspan dy="-11" font-size="20.3">−1</tspan><tspan dy="11">)</tspan></text>
<defs>
<linearGradient id="gelbg" x1="0" y1="0" x2="0" y2="1">
<stop offset="0" stop-color="#c9ccd1"/><stop offset="0.1" stop-color="#c9ccd1"/><stop offset="0.17" stop-color="#cbcfd3"/><stop offset="0.6" stop-color="#cbd0d4"/><stop offset="0.9" stop-color="#ccd1d4"/><stop offset="0.93" stop-color="#c7cace"/><stop offset="1" stop-color="#c8cccf"/>
</linearGradient>
<filter id="b2" x="-20%" y="-50%" width="140%" height="200%"><feGaussianBlur stdDeviation="2"/></filter>
<filter id="b3" x="-20%" y="-50%" width="140%" height="200%"><feGaussianBlur stdDeviation="3.2"/></filter>
<filter id="b5" x="-30%" y="-30%" width="160%" height="160%"><feGaussianBlur stdDeviation="6"/></filter>
<filter id="b10" x="-50%" y="-20%" width="200%" height="140%"><feGaussianBlur stdDeviation="10"/></filter>
<filter id="b4" x="-30%" y="-60%" width="160%" height="220%"><feGaussianBlur stdDeviation="4"/></filter>
<filter id="b1" x="-20%" y="-20%" width="140%" height="140%"><feGaussianBlur stdDeviation="0.9"/></filter>
<clipPath id="gelclip"><rect x="1423.1" y="30" width="551.2" height="792.3"/></clipPath>
</defs>
<g clip-path="url(#gelclip)">
<rect x="1423.1" y="30" width="551.2" height="792.3" fill="url(#gelbg)"/>
<path d="M1423 29.5H1975V47.2L1423 34.3Z" fill="#4c4c4c"/>
<path d="M1423 35L1975 48" stroke="#7f8388" stroke-width="1.6" fill="none"/>
<path d="M1423.2 31.4l3.9-0.3 4-0.2 4-0.1 4 0 3.9 0.1 4 0.2 4 0.3 4 0.3 3.9 0.4 4 0.3 4 0.4 4 0.3 3.9 0.3 4 0.2 4 0.2 4 0 3.9 0 4-0.2 4-0.2 4-0.4 3.9-0.3 4-0.4 4-0.2 4-0.1 4 0 3.9 0.2 4 0.5 4 0.5 4 0.7 3.9 0.7 4 0.7 4 0.5 4 0.4 3.9 0.2 4-0.1 4-0.4 4-0.5 3.9-0.5 4-0.6 4-0.5 4-0.5 3.9-0.2 4 0 4 0.3 4 0.4 3.9 0.5 4 0.5 4 0.6 4 0.5 3.9 0.4 4 0.2 4 0 4-0.1 3.9-0.2 4-0.3 4-0.3 4-0.4 4-0.3 3.9-0.2 4-0.2 4-0.1 4 0 3.9 0 4-0.1 4 0 4-0.1 3.9-0.1 4-0.2 4-0.3 4-0.2 3.9-0.1 4-0.1 4 0.2 4 0.4 3.9 0.7 4 1 4 1.2 4 1.3 3.9 1.2 4 1 4 0.5 4 0.3 3.9-0.1 4-0.5 4-0.7 4-0.8 3.9-0.9 4-0.9 4-0.7 4-0.6 4-0.3 3.9-0.2 4 0.1 4 0.4 4 0.6 3.9 1 4 1.3 4 1.3 4 1.2 3.9 0.7 4 0.1 4-0.4 4-0.8 3.9-0.9 4-0.8 4-0.6 4-0.5 3.9-0.3 4-0.1 4 0.1 4 0.2 3.9 0.5 4 0.6 4 0.8 4 0.8 3.9 0.8 4 0.7 4 0.6 4 0.2 3.9 0 4-0.3 4-0.5 4-0.5 4-0.6 3.9-0.4 4-0.2 4 0 4 0.2 3.9 0.3 4 0.4 4 0.4 4 0.6 3.9 0.5 4 0.6 4 0.5 4 0.5 3.9 0.4 4 0.3 4 0.2" fill="none" stroke="#bdbbb3" stroke-width="1.5"/>
<rect x="1452" y="345" width="52" height="150" fill="#b4b8be" opacity="0.33" filter="url(#b10)"/>
<rect x="1568" y="175" width="42" height="250" fill="#a9adb4" opacity="0.38" filter="url(#b10)"/>
<rect x="1562" y="420" width="42" height="60" fill="#a9adb4" opacity="0.35" filter="url(#b10)"/>
<rect x="1570" y="185" width="36" height="62" fill="#9a9ea5" opacity="0.5" filter="url(#b5)"/>
<rect x="1463.2" y="303.9" width="42" height="8.5" rx="4.2" fill="#9fa3a9" opacity="0.85" filter="url(#b3)"/>
<rect x="1455.8" y="386.6" width="48" height="16.5" rx="6" fill="#7d8187" opacity="1" filter="url(#b3)"/>
<rect x="1446.2" y="462.3" width="49" height="16" rx="6" fill="#85898f" opacity="0.95" filter="url(#b3)"/>
<rect x="1568.3" y="237" width="40" height="17" rx="6" fill="#83878e" opacity="0.95" filter="url(#b3)"/>
<rect x="1568.3" y="262.2" width="40" height="11" rx="5.5" fill="#989ca3" opacity="0.8" filter="url(#b3)"/>
<rect x="1568.3" y="288.8" width="40" height="8" rx="4" fill="#a4a8af" opacity="0.7" filter="url(#b3)"/>
<rect x="1566.3" y="324.2" width="44" height="9.5" rx="4.8" fill="#8f939a" opacity="0.9" filter="url(#b3)"/>
<rect x="1566.3" y="336.1" width="44" height="9.5" rx="4.8" fill="#8f939a" opacity="0.9" filter="url(#b3)"/>
<rect x="1557.6" y="412.2" width="46" height="17.5" rx="6" fill="#7e8288" opacity="1" filter="url(#b3)"/>
<path d="M1874 175H1918L1932 620H1872Z" fill="#bfd0ea" opacity="0.4" filter="url(#b10)"/>
<path d="M1879.7 178L1881 345M1913.8 178L1917 345" stroke="#a9c0e4" stroke-width="4.5" opacity="0.65" filter="url(#b3)" fill="none"/>
<rect x="1877.5" y="238" width="38" height="8" rx="4" fill="#b3a6cc" opacity="0.65" filter="url(#b4)"/>
<rect x="1878.5" y="290.5" width="46" height="13" rx="6" fill="#98b1e6" opacity="0.85" filter="url(#b4)"/>
<rect x="1878" y="333" width="48" height="13" rx="6" fill="#a8c8ea" opacity="0.75" filter="url(#b4)"/>
<rect x="1878" y="398" width="50" height="24" rx="6" fill="#bbb2dc" opacity="0.6" filter="url(#b5)"/>
<rect x="1878" y="440.8" width="52" height="12" rx="6" fill="#b0cbe8" opacity="0.6" filter="url(#b4)"/>
<rect x="1875" y="498.5" width="60" height="16" rx="6" fill="#a9c8e8" opacity="0.7" filter="url(#b5)"/>
<ellipse cx="1523.7" cy="421" rx="18" ry="17" fill="#d9dde0" stroke="#b9bdc2" stroke-width="1.3" filter="url(#b1)" transform="rotate(0 1523.7 421)"/>
<ellipse cx="1514" cy="401.7" rx="2.6" ry="2.6" fill="#d9dde0" stroke="#b9bdc2" stroke-width="1.3" filter="url(#b1)" transform="rotate(0 1514 401.7)"/>
<ellipse cx="1525.5" cy="400" rx="3.2" ry="3.2" fill="#d9dde0" stroke="#b9bdc2" stroke-width="1.3" filter="url(#b1)" transform="rotate(0 1525.5 400)"/>
<ellipse cx="1940.6" cy="180" rx="13" ry="14.5" fill="#d9dde0" stroke="#b9bdc2" stroke-width="1.3" filter="url(#b1)" transform="rotate(0 1940.6 180)"/>
<ellipse cx="1907.7" cy="381" rx="7" ry="7" fill="#d9dde0" stroke="#b9bdc2" stroke-width="1.3" filter="url(#b1)" transform="rotate(0 1907.7 381)"/>
<ellipse cx="1474.7" cy="51.6" rx="5" ry="5.2" fill="#d9dde0" stroke="#b9bdc2" stroke-width="1.3" filter="url(#b1)" transform="rotate(0 1474.7 51.6)"/>
<ellipse cx="1574.1" cy="58.3" rx="6.5" ry="8.3" fill="#d9dde0" stroke="#b9bdc2" stroke-width="1.3" filter="url(#b1)" transform="rotate(15 1574.1 58.3)"/>
<ellipse cx="1672.1" cy="65.5" rx="9" ry="10" fill="#d9dde0" stroke="#b9bdc2" stroke-width="1.3" filter="url(#b1)" transform="rotate(0 1672.1 65.5)"/>
<ellipse cx="1740.4" cy="76.4" rx="3.8" ry="3.8" fill="#d9dde0" stroke="#b9bdc2" stroke-width="1.3" filter="url(#b1)" transform="rotate(0 1740.4 76.4)"/>
<ellipse cx="1886.1" cy="73.1" rx="4.3" ry="4.3" fill="#d9dde0" stroke="#b9bdc2" stroke-width="1.3" filter="url(#b1)" transform="rotate(0 1886.1 73.1)"/>
<ellipse cx="1964.9" cy="71.7" rx="3.8" ry="3.8" fill="#d9dde0" stroke="#b9bdc2" stroke-width="1.3" filter="url(#b1)" transform="rotate(0 1964.9 71.7)"/>
<ellipse cx="1747.1" cy="140.5" rx="3.8" ry="3.8" fill="#d9dde0" stroke="#b9bdc2" stroke-width="1.3" filter="url(#b1)" transform="rotate(0 1747.1 140.5)"/>
<ellipse cx="1482.9" cy="727.5" rx="3.6" ry="3.6" fill="#d9dde0" stroke="#b9bdc2" stroke-width="1.3" filter="url(#b1)" transform="rotate(0 1482.9 727.5)"/>
<ellipse cx="1535.3" cy="727.5" rx="14" ry="10" fill="#d9dde0" stroke="#b9bdc2" stroke-width="1.3" filter="url(#b1)" transform="rotate(0 1535.3 727.5)"/>
<ellipse cx="1612" cy="738.7" rx="6.5" ry="7.5" fill="#d9dde0" stroke="#b9bdc2" stroke-width="1.3" filter="url(#b1)" transform="rotate(0 1612 738.7)"/>
<ellipse cx="1598" cy="734.6" rx="1.8" ry="1.8" fill="#d9dde0" stroke="#b9bdc2" stroke-width="1.3" filter="url(#b1)" transform="rotate(0 1598 734.6)"/>
<ellipse cx="1703.6" cy="736.1" rx="20" ry="12.5" fill="#d9dde0" stroke="#b9bdc2" stroke-width="1.3" filter="url(#b1)" transform="rotate(10 1703.6 736.1)"/>
<ellipse cx="1926.6" cy="745.5" rx="20" ry="14" fill="#d9dde0" stroke="#b9bdc2" stroke-width="1.3" filter="url(#b1)" transform="rotate(8 1926.6 745.5)"/>
<ellipse cx="1952" cy="744.7" rx="1.8" ry="1.8" fill="#d9dde0" stroke="#b9bdc2" stroke-width="1.3" filter="url(#b1)" transform="rotate(0 1952 744.7)"/>
<ellipse cx="1878.5" cy="292" rx="2.4" ry="2.4" fill="#d9dde0" stroke="#b9bdc2" stroke-width="1.3" filter="url(#b1)" transform="rotate(0 1878.5 292)"/>
<path d="M1423 814.2L1463 822.3H1423Z" fill="#606263"/>
<path d="M1423 814L1463 822" stroke="#dcd9cc" stroke-width="1" fill="none"/>
<path d="M1463 822.2H1800L1974.5 820.6V823H1463Z" fill="#77787a"/>
</g>
<path d="M1978.4 220.6H1999.8M1978.4 250.1H1999.8M1978.4 296.4H1999.8M1978.4 342H1999.8M1978.4 402.4H1999.8M1978.4 448H1999.8M1978.4 508.2H1999.8" stroke="#000" stroke-width="2.6" fill="none"/>
<text x="2038.5" y="224.5" font-size="28.9" font-family="Liberation Sans, Arial, sans-serif" text-anchor="middle">100</text>
<text x="2038.5" y="260.4" font-size="28.9" font-family="Liberation Sans, Arial, sans-serif" text-anchor="middle">75</text>
<text x="2038.5" y="305.9" font-size="28.9" font-family="Liberation Sans, Arial, sans-serif" text-anchor="middle">50</text>
<text x="2038.5" y="351.7" font-size="28.9" font-family="Liberation Sans, Arial, sans-serif" text-anchor="middle">37</text>
<text x="2038.5" y="412.2" font-size="28.9" font-family="Liberation Sans, Arial, sans-serif" text-anchor="middle">25</text>
<text x="2038.5" y="457.7" font-size="28.9" font-family="Liberation Sans, Arial, sans-serif" text-anchor="middle">20</text>
<text x="2038.5" y="517.9" font-size="28.9" font-family="Liberation Sans, Arial, sans-serif" text-anchor="middle">15</text>
<text x="2038.5" y="573" font-size="28.9" font-family="Liberation Sans, Arial, sans-serif" text-anchor="middle">kDa</text>
<rect x="1448.5" y="844" width="49.2" height="7.8" fill="#000"/>
<text x="0" y="0" font-size="28.6" font-family="Liberation Sans, Arial, sans-serif" text-anchor="end" transform="translate(1474.1 898) rotate(-30)">CalC6_3</text>
<rect x="1551.7" y="844" width="49.2" height="7.8" fill="#000"/>
<text x="0" y="0" font-size="28.6" font-family="Liberation Sans, Arial, sans-serif" text-anchor="end" transform="translate(1577.5 896.3) rotate(-30)">CalC4_24</text>
<rect x="1654.8" y="844" width="49.2" height="7.8" fill="#000"/>
<text x="0" y="0" font-size="28.6" font-family="Liberation Sans, Arial, sans-serif" text-anchor="end" transform="translate(1688.6 894.6) rotate(-30)">Control_virus</text>
<rect x="1758" y="844" width="49.2" height="7.8" fill="#000"/>
<text x="0" y="0" font-size="28.6" font-family="Liberation Sans, Arial, sans-serif" text-anchor="end" transform="translate(1782 895) rotate(-30)">Hi5</text>
<text x="1354" y="23.5" font-size="33.3" font-family="Liberation Sans, Arial, sans-serif" text-anchor="start" font-weight="bold">b</text>
<text x="61.3" y="1023" font-size="33.3" font-family="Liberation Sans, Arial, sans-serif" text-anchor="start" font-weight="bold">c</text>
<text x="1311.8" y="1024.4" font-size="33.3" font-family="Liberation Sans, Arial, sans-serif" text-anchor="start" font-weight="bold">d</text>
<text x="61.8" y="1902.6" font-size="33.3" font-family="Liberation Sans, Arial, sans-serif" text-anchor="start" font-weight="bold">e</text>
<text x="570.2" y="1904.8" font-size="33.3" font-family="Liberation Sans, Arial, sans-serif" text-anchor="start" font-weight="bold">f</text>
<text x="1085.4" y="1900" font-size="33.3" font-family="Liberation Sans, Arial, sans-serif" text-anchor="start" font-weight="bold">g</text>
<text x="1604.3" y="1905.6" font-size="33.3" font-family="Liberation Sans, Arial, sans-serif" text-anchor="start" font-weight="bold">h</text>
</svg></body></html>
